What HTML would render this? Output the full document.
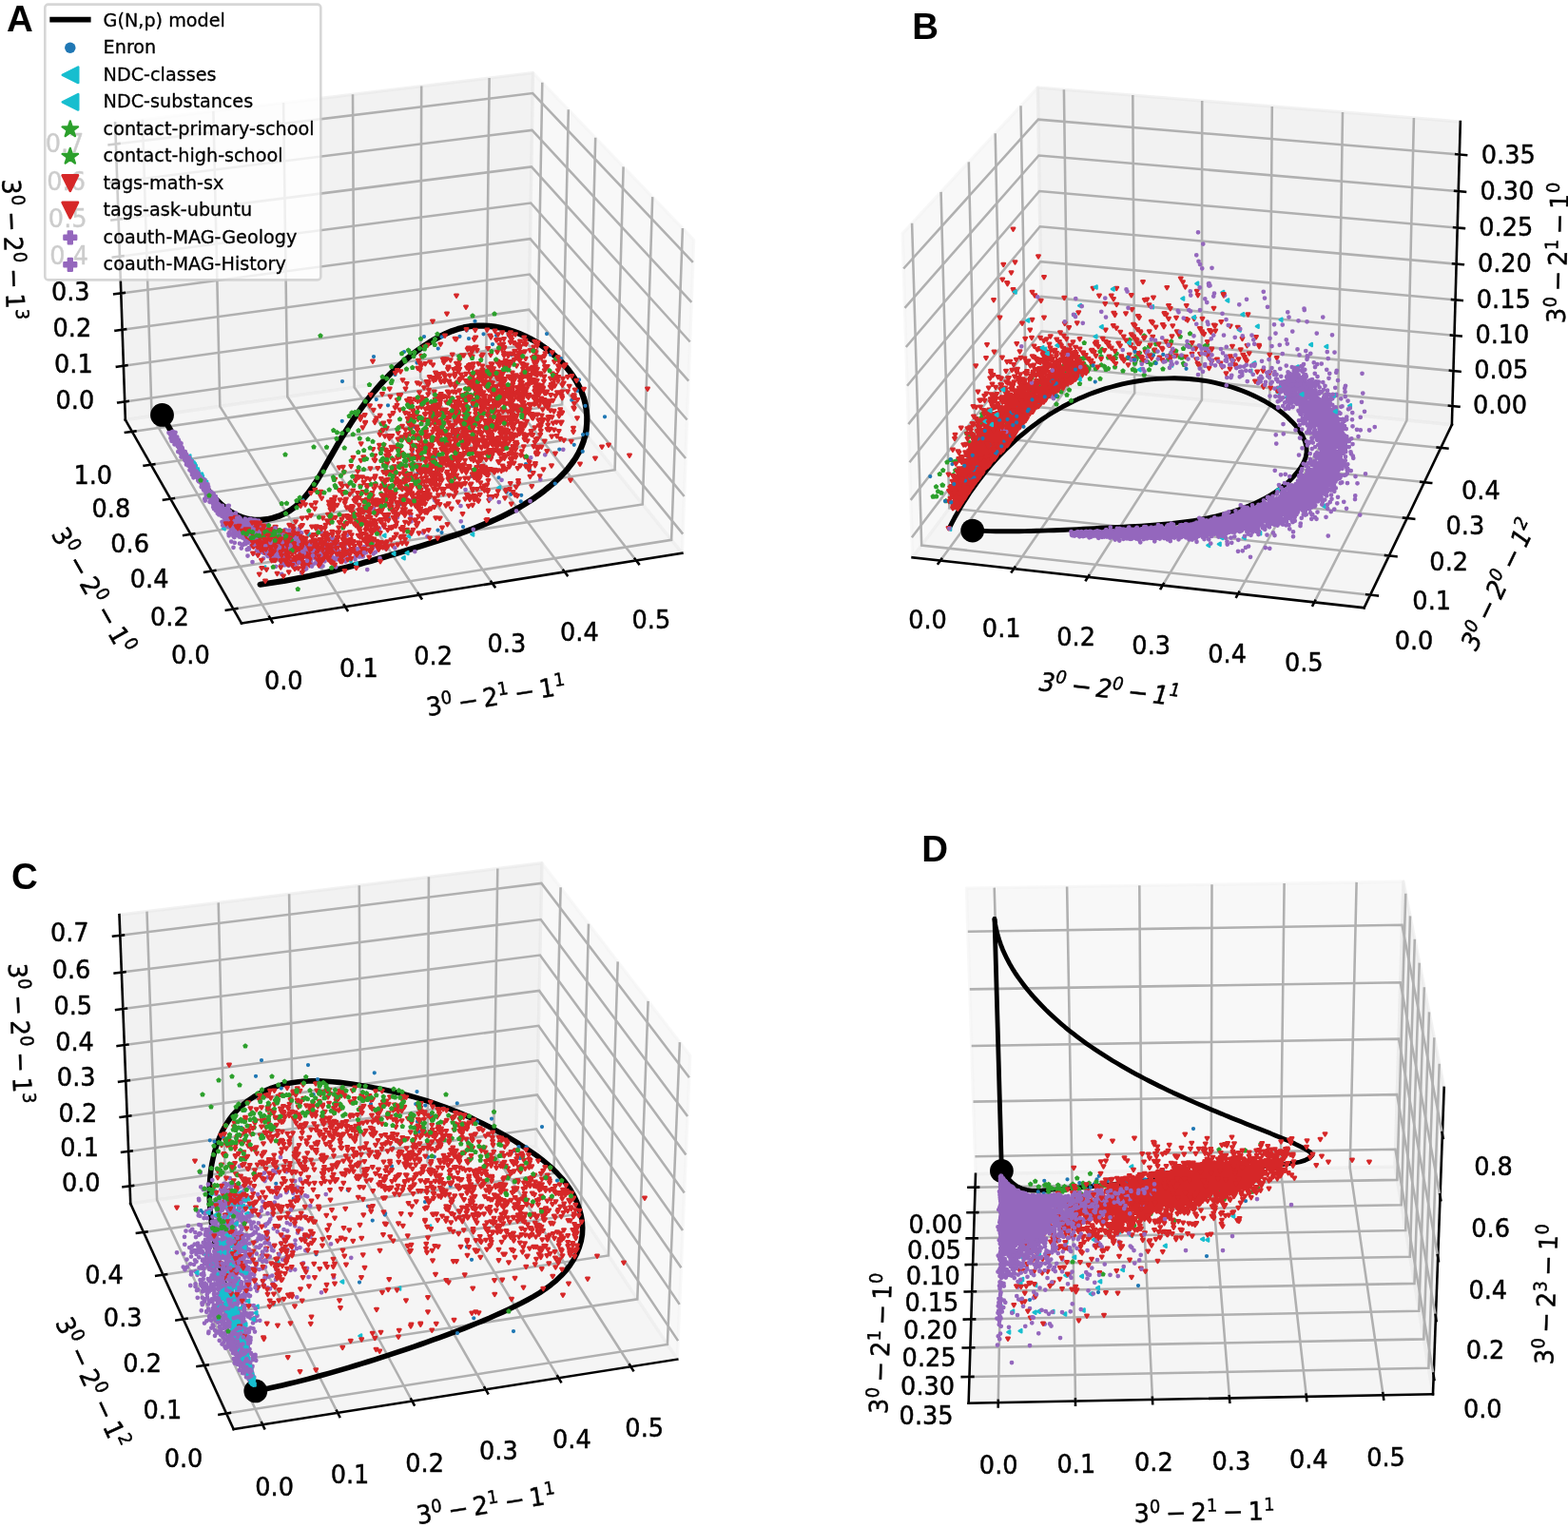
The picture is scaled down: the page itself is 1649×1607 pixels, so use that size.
<!DOCTYPE html>
<html lang="en"><head><meta charset="utf-8"><title>Figure</title>
<style>html,body{margin:0;padding:0;background:#fff}svg{display:block}text{font-family:"DejaVu Sans","Liberation Sans",sans-serif;fill:#000;stroke:#000;stroke-width:0.45px;stroke-linejoin:round}.lg{stroke-width:0.3px}.pl{font-family:"Liberation Sans",Arial,Helvetica,sans-serif;font-weight:700;font-size:38.5px;stroke:none}</style></head>
<body>
<svg xmlns="http://www.w3.org/2000/svg" width="1649" height="1607" viewBox="0 0 1649 1607">
<rect width="1649" height="1607" fill="#fff"/>
<g id="panel-A">
<polygon points="717.4,581.8 555.4,381.3 560.5,76.5 729.7,252.3" fill="rgb(242,242,242)" fill-opacity="0.50" stroke="rgb(242,242,242)" stroke-opacity="0.50" stroke-width="3.20" stroke-linejoin="round"/>
<polygon points="131.9,441.6 555.4,381.3 560.5,76.5 121.1,129.3" fill="rgb(230,230,230)" fill-opacity="0.50" stroke="rgb(230,230,230)" stroke-opacity="0.50" stroke-width="3.20" stroke-linejoin="round"/>
<polygon points="254.0,655.6 717.4,581.8 555.4,381.3 131.9,441.6" fill="rgb(236,236,236)" fill-opacity="0.50" stroke="rgb(236,236,236)" stroke-opacity="0.50" stroke-width="3.20" stroke-linejoin="round"/>
<path d="M717.40 581.83L254.00 655.55" stroke="#000" stroke-width="2.56" fill="none" stroke-linecap="square"/>
<path d="M284.4 650.7L159.6 437.6L149.9 125.8M363.1 638.2L231.3 427.4L224.4 116.9M440.9 625.8L302.3 417.3L298.1 108.0M517.8 613.6L372.6 407.3L371.0 99.3M593.9 601.5L442.2 397.4L443.2 90.6M669.1 589.5L511.1 387.6L514.6 82.0" stroke="#b0b0b0" stroke-width="2.56" fill="none"/>
<path d="M283.3 648.8L286.6 654.5M361.9 636.3L365.4 641.9M439.7 624.0L443.3 629.5M516.5 611.8L520.4 617.2M592.5 599.7L596.5 605.1M667.7 587.7L671.9 593.1" stroke="#000" stroke-width="2.56" fill="none" stroke-linecap="square"/>
<path d="M131.85 441.56L254.00 655.55" stroke="#000" stroke-width="2.56" fill="none" stroke-linecap="square"/>
<path d="M717.9 240.0L706.1 567.8L245.4 640.6M686.2 207.1L675.8 530.4L222.6 600.5M655.6 175.4L646.6 494.2L200.5 561.9M626.2 144.8L618.4 459.3L179.3 524.6M597.8 115.2L591.1 425.5L158.7 488.7M570.3 86.7L564.8 392.9L138.9 453.9" stroke="#b0b0b0" stroke-width="2.56" fill="none"/>
<path d="M249.3 640.0L237.8 641.8M226.3 599.9L215.1 601.7M204.2 561.3L193.2 563.0M182.9 524.1L172.0 525.7M162.3 488.2L151.6 489.7M142.4 453.4L131.9 454.9" stroke="#000" stroke-width="2.56" fill="none" stroke-linecap="square"/>
<path d="M131.85 441.56L121.13 129.25" stroke="#000" stroke-width="2.56" fill="none" stroke-linecap="square"/>
<path d="M131.2 422.4L555.7 362.5L718.2 561.6M129.9 384.7L556.3 325.7L719.6 522.0M128.6 346.7L556.9 288.6L721.1 482.0M127.3 308.4L557.6 251.2L722.6 441.5M126.0 269.7L558.2 213.5L724.2 400.7M124.6 230.6L558.9 175.4L725.7 359.5M123.3 191.2L559.5 136.9L727.3 317.8M121.9 151.4L560.2 98.1L728.8 275.8" stroke="#b0b0b0" stroke-width="2.56" fill="none"/>
<path d="M134.7 421.9L124.2 423.4M133.4 384.2L122.9 385.7M132.1 346.3L121.5 347.7M130.8 307.9L120.2 309.3M129.5 269.2L118.8 270.6M128.2 230.2L117.4 231.6M126.9 190.8L116.0 192.1M125.5 151.0L114.6 152.3" stroke="#000" stroke-width="2.56" fill="none" stroke-linecap="square"/>
<text transform="translate(522.4 734.3) rotate(-9.04) scale(1 1.050)" font-size="25.6"><tspan x="-74.5" y="6.9">3</tspan><tspan x="-58.0" y="-2.4" font-size="17.9">0</tspan><tspan x="-40.9" y="6.9">−</tspan><tspan x="-14.4" y="6.9">2</tspan><tspan x="2.1" y="-2.4" font-size="17.9">1</tspan><tspan x="19.2" y="6.9">−</tspan><tspan x="45.6" y="6.9">1</tspan><tspan x="62.2" y="-2.4" font-size="17.9">1</tspan></text>
<text transform="translate(298.3 724.5) scale(1 1.050)" font-size="25.6" text-anchor="middle">0.0</text>
<text transform="translate(377.4 711.6) scale(1 1.050)" font-size="25.6" text-anchor="middle">0.1</text>
<text transform="translate(455.6 698.8) scale(1 1.050)" font-size="25.6" text-anchor="middle">0.2</text>
<text transform="translate(532.9 686.2) scale(1 1.050)" font-size="25.6" text-anchor="middle">0.3</text>
<text transform="translate(609.4 673.7) scale(1 1.050)" font-size="25.6" text-anchor="middle">0.4</text>
<text transform="translate(684.9 661.4) scale(1 1.050)" font-size="25.6" text-anchor="middle">0.5</text>
<text transform="translate(96.4 622.5) rotate(60.28) scale(1 1.050)" font-size="25.6"><tspan x="-74.5" y="6.9">3</tspan><tspan x="-58.0" y="-2.4" font-size="17.9">0</tspan><tspan x="-40.9" y="6.9">−</tspan><tspan x="-14.4" y="6.9">2</tspan><tspan x="2.1" y="-2.4" font-size="17.9">0</tspan><tspan x="19.2" y="6.9">−</tspan><tspan x="45.6" y="6.9">1</tspan><tspan x="62.2" y="-2.4" font-size="17.9">0</tspan></text>
<text transform="translate(200.4 698.4) scale(1 1.050)" font-size="25.6" text-anchor="middle">0.0</text>
<text transform="translate(178.4 657.7) scale(1 1.050)" font-size="25.6" text-anchor="middle">0.2</text>
<text transform="translate(157.1 618.4) scale(1 1.050)" font-size="25.6" text-anchor="middle">0.4</text>
<text transform="translate(136.6 580.5) scale(1 1.050)" font-size="25.6" text-anchor="middle">0.6</text>
<text transform="translate(116.9 544.0) scale(1 1.050)" font-size="25.6" text-anchor="middle">0.8</text>
<text transform="translate(97.8 508.6) scale(1 1.050)" font-size="25.6" text-anchor="middle">1.0</text>
<text transform="translate(12.0 263.0) rotate(88.03) scale(1 1.050)" font-size="25.6"><tspan x="-74.5" y="6.9">3</tspan><tspan x="-58.0" y="-2.4" font-size="17.9">0</tspan><tspan x="-40.9" y="6.9">−</tspan><tspan x="-14.4" y="6.9">2</tspan><tspan x="2.1" y="-2.4" font-size="17.9">0</tspan><tspan x="19.2" y="6.9">−</tspan><tspan x="45.6" y="6.9">1</tspan><tspan x="62.2" y="-2.4" font-size="17.9">3</tspan></text>
<text transform="translate(78.9 429.6) scale(1 1.050)" font-size="25.6" text-anchor="middle">0.0</text>
<text transform="translate(77.4 392.2) scale(1 1.050)" font-size="25.6" text-anchor="middle">0.1</text>
<text transform="translate(75.9 354.4) scale(1 1.050)" font-size="25.6" text-anchor="middle">0.2</text>
<text transform="translate(74.3 316.2) scale(1 1.050)" font-size="25.6" text-anchor="middle">0.3</text>
<text transform="translate(72.7 277.7) scale(1 1.050)" font-size="25.6" text-anchor="middle">0.4</text>
<text transform="translate(71.2 238.8) scale(1 1.050)" font-size="25.6" text-anchor="middle">0.5</text>
<text transform="translate(69.6 199.6) scale(1 1.050)" font-size="25.6" text-anchor="middle">0.6</text>
<text transform="translate(68.0 160.0) scale(1 1.050)" font-size="25.6" text-anchor="middle">0.7</text>
<path d="M170.4 436.5L173.8 442.4L177.0 448.2L180.2 454.0L183.4 459.7L186.6 465.4L189.7 471.0L192.9 476.6L196.2 482.2L199.6 487.7L203.1 493.3L206.7 498.9L210.5 504.5L214.6 510.0L218.8 515.5L223.2 520.9L227.9 526.0L232.8 530.7L238.0 535.0L243.4 538.7L249.0 541.9L255.0 544.3L261.1 545.9L267.5 546.8L274.1 546.8L280.6 546.2L287.0 544.8L293.2 542.8L299.2 540.2L304.8 537.0L310.0 533.3L314.8 529.1L319.2 524.4L323.4 519.5L327.4 514.2L331.2 508.6L334.8 502.9L338.2 497.0L341.6 491.0L345.0 485.0L348.4 479.1L351.8 473.2L355.2 467.3L358.6 461.5L362.1 455.8L365.7 450.2L369.3 444.6L373.0 439.1L376.8 433.7L380.6 428.4L384.5 423.2L388.5 418.0L392.6 412.9L396.8 408.0L401.1 403.1L405.5 398.3L410.0 393.7L414.6 389.1L419.4 384.7L424.3 380.3L429.4 376.1L434.6 372.0L439.9 368.0L445.4 364.2L451.1 360.5L456.9 357.0L462.8 353.7L468.9 350.8L475.1 348.2L481.4 346.1L487.7 344.4L494.2 343.2L500.7 342.6L507.2 342.5L513.7 342.8L520.2 343.6L526.7 344.8L533.1 346.4L539.4 348.4L545.6 350.7L551.7 353.3L557.7 356.2L563.5 359.4L569.1 362.9L574.5 366.8L579.8 370.9L584.9 375.3L589.7 379.9L594.3 384.8L598.6 390.0L602.5 395.4L606.1 401.0L609.2 406.8L611.9 412.9L614.1 419.1L615.7 425.4L616.8 431.9L617.3 438.5L617.2 445.0L616.6 451.6L615.4 458.0L613.6 464.3L611.3 470.4L608.5 476.3L605.2 482.0L601.4 487.4L597.3 492.7L592.9 497.7L588.2 502.5L583.2 507.1L578.1 511.5L572.9 515.7L567.6 519.7L562.2 523.6L556.7 527.2L551.1 530.7L545.4 534.1L539.6 537.2L533.8 540.3L527.9 543.2L521.9 546.0L515.9 548.6L509.8 551.2L503.7 553.7L497.5 556.1L491.3 558.4L485.1 560.6L478.8 562.7L472.5 564.8L466.2 566.9L459.9 568.9L453.5 570.9L447.2 572.9L440.8 574.9L434.5 576.8L428.2 578.7L421.8 580.6L415.5 582.5L409.1 584.4L402.8 586.3L396.4 588.1L390.1 589.9L383.7 591.6L377.3 593.4L370.9 595.1L364.5 596.7L358.1 598.3L351.7 599.9L345.3 601.4L338.9 602.9L332.4 604.3L325.9 605.7L319.5 607.0L313.0 608.3L306.5 609.5L299.9 610.7L293.4 611.8L286.8 612.8L280.2 613.8L273.6 614.7" fill="none" stroke="#000" stroke-width="6.2" stroke-linejoin="round" stroke-linecap="round"/>
<circle cx="170.5" cy="436.4" r="12.4" fill="#000"/>
<g transform="scale(0.25)">
<path d="M797 1918v14l-12-7zm1-1v14l-12-7zm4 3v14l-12-7zm0-7v14l-12-7zm1 10v14l-12-7zm4 7v14l-12-7zm1 7v14l-12-7zm0-3v14l-12-7zm1 7v14l-12-7zm0-5v14l-12-7zm3 9v14l-12-7zm0-10v14l-12-7zm0 5v14l-12-7zm7 6v14l-12-7zm0 5v14l-12-7zm0 1v14l-12-7zm0-11v14l-12-7zm1 11v14l-12-7zm0-5v14l-12-7zm1 1v14l-12-7zm0 6v14l-12-7zm0 3v14l-12-7zm3-9v14l-12-7zm1 18v14l-12-7zm3-10v14l-12-7zm1 13v14l-12-7zm1-2v14l-12-7zm1 3v14l-12-7zm1 2v14l-12-7zm3 6v14l-12-7zm0-5v14l-12-7zm1 1v14l-12-7zm0-5v14l-12-7zm1 11v14l-12-7zm0-1v14l-12-7zm2 0v14l-12-7zm6 13v14l-12-7zm2-2v14l-12-7zm4-1v14l-12-7zm0 9v14l-12-7zm0 3v14l-12-7zm2-10v14l-12-7zm0 12v14l-12-7zm0-3v14l-12-7zm1 2v14l-12-7zm2-3v14l-12-7zm1249 46v14l-12-7zm-828 56v14l-12-7zm-404-78v14l-12-7zm-6-2v14l-12-7zm-1-6v14l-12-7zm-5-3v14l-12-7zm1132 229v14l-12-7zm-268 8v14l-12-7zm-103-3v14l-12-7zm-207 32v14l-12-7zm-8 17v14l-12-7zm-6-41v14l-12-7zm-98-12v14l-12-7zm-42 20v14l-12-7zm-10 10v14l-12-7zm-175-61v14l-12-7zm-63 27v14l-12-7zm-12-14v14l-12-7zm-54-8v14l-12-7zm170 165v14l-12-7zm80-78v14l-12-7zm4 30v14l-12-7zm37-32v14l-12-7zm20 2v14l-12-7zm17 60v14l-12-7zm56-60v14l-12-7zm148 49v14l-12-7zm24 13v14l-12-7zm159-43v14l-12-7zm41 18v14l-12-7zm15-21v14l-12-7z" fill="#17becf" stroke="#17becf" stroke-width="8.5" stroke-linejoin="round"/>
<path d="M1784 1416h0m74 1h0m76-2h0m29-25h0m9 34h0m26-73h0m36 54h0m54 6h0m51-1h0m161-6h0m60 104h0m-44-16h0m-162 26h0m-2-25h0m-80-45h0m-229 18h0m-89 60h0m-54-46h0m-128 20h0m-132 104h0m222-28h0m513 6h0m261 15h0m26 110h0m-34-64h0m-23 40h0m-419 24h0m-11-69h0m-343 67h0m-49-25h0m-144 91h0m303 24h0m66-13h0m736-29h0m-74 72h0m-18 3h0m-1 71h0m-36-28h0m-62 19h0m-224-55h0m-183 32h0m-30 16h0m-7-57h0m-74 93h0m-100-20h0m23 91h0m17-14h0m40 8h0m84-31h0m85 50h0m31-43h0m83 49h0m114-57h0m17 27h0m106 55h0m-142 49h0m-2 26h0m-42-30h0m-18-10h0m-343-23h0m-208-13h0m-276 39h0m330 105h0m50-56h0m264 95h0m-90 24h0m-16-10h0" stroke="#1f77b4" stroke-width="17" stroke-linecap="round" fill="none"/>
<path d="M710 1820h0m7 3h0m1 0h0m1-2h0m1 2h0m2-2h0m1-4h0m1 3h0m1 1h0m1 2h0m1-8h0m3 6h0m6 2h0m2-4h0m47 98h0m0-5h0m-4 4h0m0-4h0m-1-2h0m0 6h0m0-12h0m-1-4h0m-1 19h0m0-12h0m-2 3h0m-2 6h0m0-12h0m0 7h0m-3-2h0m0 3h0m-1-13h0m0 11h0m0-2h0m-1-7h0m0 0h0m-1-6h0m0 13h0m0-9h0m0 3h0m-1-18h0m0 3h0m0 16h0m-1-11h0m0 6h0m-1-4h0m0 1h0m0 3h0m0-6h0m-1-3h0m0 25h0m-1-34h0m0 0h0m0 26h0m0 5h0m-1-23h0m0-23h0m0 30h0m0-16h0m-1 5h0m0 25h0m0-7h0m-1-25h0m0 21h0m0-22h0m0 2h0m0 5h0m0 18h0m-1 3h0m-1-13h0m0 13h0m-1-34h0m-1-8h0m0 13h0m0 16h0m0-18h0m-1-11h0m-1 23h0m-1-29h0m0 41h0m-1-38h0m0-5h0m0 2h0m-1-6h0m0 16h0m0 5h0m0-4h0m-1 5h0m-1 28h0m-1-26h0m0 2h0m-1 1h0m-1-16h0m-1 9h0m0 2h0m0-34h0m-2 8h0m0 8h0m-1-6h0m0-5h0m0-5h0m0 16h0m0-5h0m-1-5h0m0 5h0m-1 0h0m0 5h0m0-9h0m0 24h0m-1-15h0m-1-12h0m0 10h0m0-3h0m0-2h0m-1 3h0m-1-20h0m0 9h0m0 14h0m0 3h0m0-2h0m-1-10h0m0-17h0m-1 42h0m0-14h0m0 8h0m-1-17h0m0 8h0m-1-22h0m0 14h0m0-18h0m0-3h0m0 21h0m-2 6h0m0-23h0m-1 8h0m0 14h0m-1-12h0m0-12h0m0-3h0m0 9h0m-1-3h0m0 2h0m0 2h0m-1 12h0m0-20h0m-1 14h0m0-2h0m-1 3h0m0-6h0m-1 13h0m-1 7h0m0-31h0m0 0h0m-2 4h0m-2 0h0m0 15h0m0-14h0m0-5h0m0 6h0m-1-5h0m-3-1h0m48 98h0m10 2h0m2-4h0m1 6h0m2 9h0m0-3h0m1 4h0m1-13h0m1 6h0m0-4h0m1-2h0m0-2h0m0 8h0m1-2h0m0-5h0m0-2h0m1 24h0m1 10h0m1-12h0m1-8h0m1 2h0m0-1h0m1-3h0m0 5h0m1-9h0m0 18h0m0-17h0m0 2h0m0-9h0m0 16h0m1 6h0m0 1h0m0 3h0m0-21h0m1 17h0m0 14h0m0-1h0m1-11h0m0-14h0m1 10h0m1 7h0m1-8h0m0 4h0m1 15h0m0-4h0m0-19h0m0-13h0m1 12h0m0 19h0m1-3h0m0 25h0m0-16h0m0-10h0m2-3h0m0 6h0m0 21h0m1 4h0m0-24h0m1-3h0m0 12h0m0-11h0m0 11h0m1-14h0m1 11h0m1-5h0m1 0h0m0 7h0m0 4h0m0-28h0m1 12h0m0 37h0m1 9h0m0-36h0m0 22h0m1-12h0m0-12h0m1 6h0m1 10h0m0-10h0m1 3h0m0 8h0m1-3h0m0 9h0m0-10h0m1 37h0m0-36h0m0 3h0m0 12h0m1 0h0m0 4h0m0 1h0m1-14h0m0-3h0m1-15h0m1 18h0m0 4h0m1 3h0m0 15h0m0-19h0m2 4h0m0 0h0m0 5h0m1 3h0m0 10h0m1-22h0m0 23h0m0-3h0m3-2h0m0-18h0m1 14h0m0 3h0m0 1h0m0-2h0m1-7h0m0 3h0m1 8h0m1-6h0m0-6h0m1 6h0m3 12h0m0-18h0m1 4h0m1 4h0m0 15h0m1-4h0m0 3h0m2-7h0m0 5h0m1-2h0m1-5h0m1 5h0m3 0h0m5 7h0m2-1h0m61 89h0m0 6h0m-2-10h0m-2 10h0m0-4h0m-1-7h0m0-5h0m0 6h0m0 7h0m-1-18h0m0 20h0m-1-20h0m-2 4h0m0 1h0m-1-3h0m0 15h0m0-4h0m-1 1h0m-1-1h0m-2 1h0m0-6h0m-1 5h0m0-25h0m-1 29h0m0-25h0m-3 28h0m-1-21h0m0 15h0m-1 4h0m0-14h0m-2-9h0m0-13h0m0 23h0m-2-14h0m0 20h0m0-2h0m-1-21h0m0 3h0m-1 19h0m-1-30h0m0 2h0m0 17h0m-1 2h0m0-14h0m-1-5h0m-1 41h0m-2-28h0m0 2h0m-2-10h0m0 1h0m0-16h0m-1-6h0m0-6h0m0 23h0m-1 4h0m0 18h0m0-15h0m0-9h0m-2-32h0m0 12h0m0 29h0m0-3h0m-1 14h0m-1-8h0m-1-39h0m0 19h0m-1 11h0m0-13h0m-2-14h0m0 10h0m0-10h0m0 33h0m0-26h0m-1 36h0m0-53h0m0 41h0m0 1h0m0-11h0m-1-27h0m-1 19h0m0 10h0m-1-7h0m0-14h0m-1 3h0m0 56h0m0-49h0m0 4h0m-1-25h0m-1-17h0m0 29h0m0 51h0m0-43h0m-1-24h0m-3-3h0m0 8h0m0-5h0m0-8h0m0 25h0m0 13h0m-1-26h0m0 9h0m-1-3h0m0-8h0m0-13h0m-1 34h0m-1-16h0m0-22h0m-1 3h0m0 26h0m-1-17h0m0 20h0m-1-16h0m-1 14h0m-1-29h0m0 18h0m-1-18h0m0 30h0m-1-20h0m-1 3h0m0-6h0m0-3h0m-1-4h0m-1 2h0m-2-4h0m-1 8h0m0-4h0m-2-1h0m-2 6h0m-1-7h0m0 0h0m0 1h0m-1-3h0m-1 5h0m56 91h0m4 0h0m3 3h0m1 18h0m0-11h0m2 0h0m1 18h0m0 0h0m1-25h0m1 7h0m1-6h0m3-2h0m1 28h0m0 5h0m1-34h0m1 3h0m2 0h0m0 16h0m1 12h0m1-5h0m1-12h0m1 32h0m0-32h0m0 2h0m0-7h0m1 0h0m3-2h0m1 19h0m0 14h0m1-15h0m0 27h0m1-33h0m0-10h0m3 35h0m0-24h0m1 19h0m0-7h0m1 16h0m1-22h0m1 2h0m0-13h0m0 6h0m0-5h0m1 0h0m2 12h0m1 30h0m1 24h0m0-67h0m1 20h0m0-11h0m0-9h0m1-1h0m0 10h0m0-2h0m0 6h0m1 17h0m1-21h0m0 22h0m2 2h0m4-20h0m3 6h0m1-6h0m0 22h0m0 6h0m0-17h0m0 5h0m1 8h0m0-4h0m1 10h0m1-17h0m2 29h0m1-42h0m0 44h0m1-24h0m1 11h0m2-44h0m0 40h0m1 14h0m1-7h0m0-38h0m0 35h0m1-4h0m1 18h0m0-17h0m0 20h0m1-1h0m0-13h0m0-48h0m4 23h0m1 46h0m0-5h0m1 6h0m0-20h0m1 6h0m1-18h0m2 9h0m0 7h0m0 21h0m1-40h0m1 14h0m0 8h0m0-23h0m1 38h0m2 1h0m4-1h0m1-19h0m0-5h0m1-5h0m1 30h0m0-9h0m0-10h0m1-14h0m1 11h0m0 7h0m0 1h0m0-16h0m4 9h0m0 2h0m1-23h0m1 10h0m2 8h0m1 16h0m0 8h0m2-5h0m2-10h0m1 5h0m0 15h0m1-23h0m1 2h0m0 7h0m1-17h0m1 3h0m3 20h0m0-3h0m2 3h0m0-17h0m2 5h0m2 8h0m1 6h0m1 1h0m1-6h0m0 2h0m1 10h0m7-14h0m0 13h0m0-13h0m1 5h0m4 8h0m1-23h0m2 18h0m1-10h0m4 16h0m1-15h0m4 16h0m1-8h0m1-13h0m2 4h0m1-4h0m3 6h0m2-9h0m6 17h0m3-13h0m2 19h0m6-4h0m2 3h0m0-18h0m6 2h0m2 17h0m6-5h0m2-11h0m7 15h0m1 11h0m-1 15h0m-1-17h0m-3 46h0m-1 0h0m-1-44h0m0 20h0m-1 9h0m-6 11h0m-1-13h0m-1-13h0m-1 0h0m-1 31h0m0-30h0m-1-4h0m-1 4h0m0-2h0m-3 15h0m-1-3h0m-1 7h0m0 2h0m-1-21h0m-1-17h0m-2 37h0m0-10h0m-3 7h0m-2-29h0m-4 25h0m-1-9h0m0-22h0m-1 9h0m-6-10h0m0 6h0m-1 33h0m0-17h0m-2-9h0m0 1h0m-5 29h0m-3-38h0m-1-7h0m-2 36h0m-5-4h0m0-21h0m-1-3h0m-1-5h0m-1 7h0m-2 2h0m-3-7h0m0-1h0m-3 0h0m-1 4h0m-4 7h0m-1-2h0m0-13h0m-1 3h0m-3 6h0m-3-5h0m-13 3h0m-2 3h0m-6-8h0m-3-2h0m-7 3h0" stroke="#9467bd" stroke-width="19" stroke-linecap="round" fill="none"/>
<path d="M2369 1891h0m-76 22h0m-299 80h0m279 24h0m-43 91h0m-120-89h0m-152 41h0m-129 44h0m-37-10h0m-57 8h0m-794 105h0m2-28h0m3 16h0m1-2h0m2-5h0m0-16h0m2 1h0m1 3h0m0 8h0m4 0h0m0 15h0m1 4h0m1-10h0m1-16h0m0-4h0m0 5h0m1-11h0m2 5h0m0 29h0m2-14h0m0-25h0m1 5h0m1 32h0m2 1h0m0-38h0m0 16h0m1-18h0m2 22h0m0 20h0m1-28h0m0 23h0m1-7h0m0 10h0m0 0h0m2-7h0m0 5h0m0 5h0m2-8h0m1-5h0m1-16h0m1 24h0m0 4h0m0-20h0m1 2h0m0 20h0m3-4h0m2-1h0m3-28h0m1 31h0m0 5h0m2-20h0m2-9h0m0 20h0m1-16h0m1 21h0m1 4h0m1-13h0m0-12h0m1 8h0m0 8h0m1-21h0m8 30h0m2-9h0m8 4h0m1 5h0m3-6h0m2 5h0m0-4h0m2 4h0m7-1h0m2-3h0m2 5h0m3-9h0m5-7h0m0 16h0m2-10h0m6 0h0m12 5h0m10-2h0m50 6h0m446-66h0m19 18h0m34 20h0m48-2h0m58 17h0m55-45h0m153-20h0m1 65h0m160-81h0m73 37h0m-181 78h0m-193 30h0m-18-16h0m-80-13h0m-88-17h0m-16 14h0m-4 65h0m-4 1h0m-17 11h0m-4-18h0m-35 16h0m-72-49h0m-7 22h0m-1 20h0m-18-5h0m-13 1h0m-4 10h0m-5-9h0m-4-5h0m-9 12h0m-2-12h0m-3-21h0m0 35h0m-19-14h0m-4 4h0m-2 7h0m-4 3h0m-6-8h0m-2-10h0m-3 4h0m-3-47h0m-2 33h0m-14 28h0m-1-77h0m-2 55h0m-10-5h0m-3 10h0m-3 14h0m-2-20h0m-7 17h0m-4-12h0m-2 15h0m-1-15h0m-2 4h0m-3 1h0m-5 1h0m-6 12h0m0-11h0m-6-7h0m-6 21h0m-1 0h0m0-11h0m-2-49h0m-1 22h0m-3 6h0m0-30h0m-4 47h0m0-10h0m-1-55h0m-2 15h0m-3 55h0m-3-31h0m-3 19h0m0-5h0m-4 12h0m-4-8h0m0-20h0m-1 25h0m0-8h0m0-9h0m-2-42h0m-1 72h0m0-12h0m-1 7h0m-1-10h0m-1-24h0m0 41h0m-3-30h0m-4 22h0m0-32h0m-6-23h0m-1 58h0m-1-12h0m-1-10h0m-1-18h0m-2 37h0m-4-16h0m-1 6h0m-2-3h0m-1-11h0m-3-9h0m-3 39h0m0-25h0m0-12h0m-1-32h0m0 69h0m-1-18h0m-5-40h0m0 59h0m-1-4h0m0-31h0m-1 12h0m-2-26h0m-2 44h0m-2 4h0m-2 5h0m0-9h0m-2-13h0m-2 0h0m-1 23h0m0-11h0m0-42h0m-1 31h0m0-36h0m0 40h0m-3 7h0m0-40h0m0 23h0m-2 20h0m-1-52h0m-2 38h0m-1-17h0m-1 24h0m0 7h0m-1-36h0m-2-30h0m0 53h0m-2-3h0m-1 3h0m0-3h0m0 15h0m0 4h0m-1-33h0m-1 15h0m-3-29h0m-2 10h0m0 20h0m-1 2h0m0 5h0m-1-14h0m0-27h0m-1 54h0m-2-26h0m-1-24h0m0 42h0m0-36h0m-2-28h0m-1 58h0m0 5h0m-1-68h0m-1 52h0m0-18h0m0 34h0m-1-48h0m0 43h0m-1-14h0m-1 3h0m-3 18h0m-1-11h0m0-55h0m-1 22h0m0-11h0m-1 64h0m0-7h0m0-23h0m0-23h0m0 30h0m-1-45h0m-1 66h0m-2-51h0m0-12h0m0 57h0m-1-1h0m-2-50h0m-1 32h0m0 25h0m0-14h0m-2-39h0m-2 50h0m0-21h0m0-1h0m-1-15h0m0-45h0m0 4h0m-3 69h0m-1-36h0m-1 39h0m-2-74h0m0 47h0m-3-7h0m0 44h0m-1-12h0m0-23h0m-1 13h0m0-61h0m-1 41h0m-1 2h0m-1 26h0m-1-12h0m0-2h0m-2-53h0m0 40h0m0 5h0m-1-19h0m0 11h0m0-31h0m0 20h0m-1 30h0m0 0h0m0 10h0m0-2h0m-1 9h0m-1-10h0m-1-51h0m-2 37h0m0-19h0m-1-9h0m-1 38h0m-1-54h0m0 64h0m-1-62h0m0-11h0m0 63h0m-1 15h0m-1 5h0m-1-22h0m0 4h0m0-50h0m0 71h0m0-23h0m-1-37h0m-1-26h0m-1 26h0m0 14h0m-1 40h0m0-47h0m0 5h0m-2 30h0m-1-26h0m0-31h0m0 35h0m0 14h0m-2-12h0m0 34h0m0-16h0m0-44h0m0 7h0m-1 38h0m-1-7h0m-1-4h0m0-15h0m-5-25h0m-2 6h0m-1 35h0m0-20h0m0-9h0m-1 2h0m0-14h0m0 25h0m-1 5h0m0-18h0m0 27h0m-1-55h0m0 31h0m0 28h0m0-14h0m-1 0h0m-1-13h0m0-18h0m-1 27h0m-2-7h0m-1-19h0m0 12h0m0-19h0m-1 55h0m0-9h0m-1 0h0m0-38h0m0 14h0m-1-23h0m0 71h0m0-68h0m0 37h0m-3 3h0m0-33h0m-1 33h0m0-22h0m-1-5h0m-1-15h0m-1 43h0m0-51h0m0 50h0m0-40h0m-1 30h0m0-13h0m-1-4h0m0 30h0m0-55h0m-2-7h0m-2 33h0m0-3h0m-2 45h0m0-62h0m-2 18h0m-1 33h0m0-48h0m-1 41h0m-1-10h0m0 11h0m0-42h0m-1 32h0m-1-38h0m0 38h0m-2-4h0m-1-31h0m-1 42h0m-1-5h0m0 13h0m-1-42h0m0 23h0m-1-21h0m-3 56h0m-1-61h0m-1 10h0m0-25h0m-1 40h0m0-29h0m-1 15h0m0-7h0m0 62h0m-1-81h0m-1 46h0m0-43h0m0 48h0m0-33h0m0 8h0m-1-9h0m0 7h0m-1 10h0m0 47h0m0-68h0m-1 23h0m0-37h0m-2 3h0m0 46h0m-1-7h0m-1-19h0m-1 25h0m0-10h0m-1-19h0m-1-9h0m-2 66h0m-1-65h0m0 37h0m0-19h0m-2 17h0m-4-43h0m-1 11h0m0 1h0m-1 15h0m-2-18h0m-1-2h0m0-3h0m-2 1h0m-3 34h0m-1-7h0m-3-12h0m0 50h0m0-71h0m-1 48h0m0-21h0m0-7h0m-3-2h0m0-9h0m-1 82h0m-1-76h0m0 25h0m-1-27h0m-3-5h0m-1 25h0m-1-35h0m-2 68h0m-2-56h0m-5 16h0m-2-28h0m-1 43h0m-1-8h0m-3-37h0m-1 7h0m-6-4h0m-15-1h0m78 96h0m24 6h0m3 26h0m4-33h0m2 5h0m18 19h0m14-13h0m8 4h0m5-8h0m4-5h0m3-1h0m1 16h0m7 27h0m1-23h0m2-5h0m2 6h0m1-21h0m3 2h0m0 21h0m1-19h0m0-3h0m8 15h0m0 17h0m4-27h0m0 23h0m1-8h0m3 14h0m2-17h0m1-16h0m2 9h0m0-5h0m1 5h0m2 26h0m0-4h0m0-31h0m9-4h0m2 24h0m3 7h0m0-6h0m1-7h0m0 22h0m2-25h0m1 64h0m3-77h0m1 25h0m1-10h0m5-15h0m0 13h0m1 18h0m2 4h0m0 11h0m0-28h0m2 18h0m4-13h0m0 7h0m1 43h0m0-63h0m0 4h0m2 7h0m1-19h0m1 42h0m0-12h0m0 27h0m1-25h0m1 6h0m0-40h0m5 62h0m5-7h0m1 16h0m1-39h0m3-14h0m4 10h0m0-17h0m0 19h0m0-29h0m2 7h0m1 8h0m1-12h0m1 56h0m0-26h0m1-4h0m1-21h0m2 64h0m1-62h0m0 47h0m3-13h0m7-37h0m1-7h0m0 54h0m2 14h0m3-20h0m2-33h0m1-14h0m1 78h0m1-82h0m2 17h0m1-1h0m5 64h0m0-74h0m1 80h0m2-79h0m1 0h0m0 32h0m2 21h0m1-25h0m1 12h0m0-36h0m1-9h0m1 45h0m1 4h0m1-46h0m1 1h0m2 9h0m0 44h0m0-10h0m1-19h0m0 24h0m0-43h0m1 28h0m2-23h0m0-15h0m2 35h0m3 5h0m1-41h0m3 3h0m4 62h0m1-26h0m1-39h0m3 33h0m1-21h0m1 26h0m1-32h0m0 85h0m2-23h0m2 3h0m1 17h0m1-61h0m1 11h0m2 20h0m0-49h0m2 8h0m1 28h0m1 21h0m4-4h0m0-13h0m1 10h0m0-25h0m1-19h0m2-1h0m2 5h0m1 36h0m2-20h0m1-14h0m0-8h0m3 18h0m1 2h0m0 37h0m1-38h0m3-30h0m1 8h0m2-6h0m0 39h0m3-10h0m0-18h0m3 25h0m0-8h0m1 15h0m2-11h0m2-1h0m0-5h0m3 3h0m3 12h0m3 9h0m0-49h0m2-3h0m1 8h0m1 69h0m2-76h0m3 71h0m3-17h0m2-43h0m0 30h0m2 33h0m1-53h0m2 13h0m2-17h0m1 16h0m2 21h0m8-25h0m7 8h0m11-33h0m0 49h0m3-20h0m3 7h0m2-26h0m3 27h0m3-1h0m0 1h0m1 7h0m2 28h0m1-60h0m1-4h0m2 66h0m4-60h0m0 28h0m1-15h0m3-12h0m0 25h0m2-14h0m2-19h0m1 10h0m1 1h0m5 8h0m4 12h0m3-15h0m6 19h0m0-40h0m0 8h0m8 41h0m5-28h0m2-21h0m4 14h0m6-11h0m1 28h0m3-30h0m7 5h0m4-5h0m3 6h0m3-2h0m3 35h0m0-10h0m0-1h0m13-2h0m4 2h0m10-1h0m6 0h0m3-14h0m2-10h0m7 8h0m6 71h0m10-83h0m16 16h0m9-7h0m11-14h0m7 40h0m26-39h0m121 11h0m-477 88h0m-83 7h0" stroke="#9467bd" stroke-width="19" stroke-linecap="round" fill="none"/>
<path d="M1913 1239h14l-7 12zm40 48h14l-7 12zm-80 28h14l-7 12zm-60 32h14l-7 12zm52 60h14l-7 12zm47 15h14l-7 12zm76 1h14l-7 12zm4-39h14l-7 12zm2 31h14l-7 12zm48-32h14l-7 12zm12 24h14l-7 12zm4 7h14l-7 12zm17-27h14l-7 12zm6 39h14l-7 12zm3-2h14l-7 12zm13 0h14l-7 12zm9-30h14l-7 12zm7 27h14l-7 12zm21-18h14l-7 12zm1 4h14l-7 12zm8 6h14l-7 12zm2 11h14l-7 12zm16-22h14l-7 12zm20 29h14l-7 12zm17-16h14l-7 12zm5 13h14l-7 12zm39 4h14l-7 12zm102 82h14l-7 12zm-19 3h14l-7 12zm-9-39h14l-7 12zm-26-17h14l-7 12zm-3 21h14l-7 12zm-4 11h14l-7 12zm-1 26h14l-7 12zm-11-18h14l-7 12zm-9-3h14l-7 12zm-6-62h14l-7 12zm-3 14h14l-7 12zm-2 46h14l-7 12zm0 6h14l-7 12zm0 16h14l-7 12zm-4-40h14l-7 12zm-4-5h14l-7 12zm-1 51h14l-7 12zm-2-7h14l-7 12zm0-22h14l-7 12zm-2 18h14l-7 12zm0-58h14l-7 12zm-2 16h14l-7 12zm-3 29h14l-7 12zm-10-31h14l-7 12zm-17-26h14l-7 12zm-2 61h14l-7 12zm-3-30h14l-7 12zm-3-34h14l-7 12zm-2 89h14l-7 12zm-6-52h14l-7 12zm0 48h14l-7 12zm-4-26h14l-7 12zm-2-10h14l-7 12zm-2-37h14l-7 12zm-3 60h14l-7 12zm-1-48h14l-7 12zm-3 16h14l-7 12zm-3-37h14l-7 12zm-1 57h14l-7 12zm-1 2h14l-7 12zm-5-56h14l-7 12zm-3 46h14l-7 12zm-4-20h14l-7 12zm-1 36h14l-7 12zm-3-71h14l-7 12zm-7 46h14l-7 12zm-7-48h14l-7 12zm-2 82h14l-7 12zm-6-34h14l-7 12zm-1 9h14l-7 12zm-12 20h14l-7 12zm-4-52h14l-7 12zm-1-3h14l-7 12zm-1 34h14l-7 12zm-1-10h14l-7 12zm-2-38h14l-7 12zm-6 21h14l-7 12zm0-12h14l-7 12zm-3 70h14l-7 12zm-1-1h14l-7 12zm-5-75h14l-7 12zm-8 70h14l-7 12zm-2-40h14l-7 12zm-4 39h14l-7 12zm-18 13h14l-7 12zm-6-40h14l-7 12zm-11-27h14l-7 12zm-22 26h14l-7 12zm-5 7h14l-7 12zm-13 31h14l-7 12zm-6-56h14l-7 12zm-5-14h14l-7 12zm-5 2h14l-7 12zm-10 38h14l-7 12zm-2-20h14l-7 12zm-1-10h14l-7 12zm-6 64h14l-7 12zm-1-67h14l-7 12zm-10 3h14l-7 12zm-16 25h14l-7 12zm-8 0h14l-7 12zm-10 21h14l-7 12zm-13 13h14l-7 12zm-17-37h14l-7 12zm-8 23h14l-7 12zm-16-4h14l-7 12zm-12 14h14l-7 12zm-4-13h14l-7 12zm-10-64h14l-7 12zm-32 87h14l-7 12zm-12-12h14l-7 12zm-10-71h14l-7 12zm-10 78h14l-7 12zm-3-70h14l-7 12zm-26 57h14l-7 12zm-192 3h14l-7 12zm95 49h14l-7 12zm8-11h14l-7 12zm14 5h14l-7 12zm9 36h14l-7 12zm17 15h14l-7 12zm44-3h14l-7 12zm2-62h14l-7 12zm9 66h14l-7 12zm1-59h14l-7 12zm6-19h14l-7 12zm11 94h14l-7 12zm10-25h14l-7 12zm7 13h14l-7 12zm2-11h14l-7 12zm4-22h14l-7 12zm13 4h14l-7 12zm4 10h14l-7 12zm3-9h14l-7 12zm6 5h14l-7 12zm4-18h14l-7 12zm12 14h14l-7 12zm7 13h14l-7 12zm8-34h14l-7 12zm4 6h14l-7 12zm2 28h14l-7 12zm2-5h14l-7 12zm0-16h14l-7 12zm12-31h14l-7 12zm2-9h14l-7 12zm1 5h14l-7 12zm2 55h14l-7 12zm2 8h14l-7 12zm1-32h14l-7 12zm2 38h14l-7 12zm2-1h14l-7 12zm13-63h14l-7 12zm4 29h14l-7 12zm1-9h14l-7 12zm0 53h14l-7 12zm4-12h14l-7 12zm2-65h14l-7 12zm5 58h14l-7 12zm2-53h14l-7 12zm3-15h14l-7 12zm1-4h14l-7 12zm2 17h14l-7 12zm4 41h14l-7 12zm2-18h14l-7 12zm7 11h14l-7 12zm15-14h14l-7 12zm1 29h14l-7 12zm2-55h14l-7 12zm4 63h14l-7 12zm2-66h14l-7 12zm1 60h14l-7 12zm1-66h14l-7 12zm1 16h14l-7 12zm6 57h14l-7 12zm2 18h14l-7 12zm5-39h14l-7 12zm1-6h14l-7 12zm1-37h14l-7 12zm1 58h14l-7 12zm2-26h14l-7 12zm5 20h14l-7 12zm0-31h14l-7 12zm2 55h14l-7 12zm6-10h14l-7 12zm1 16h14l-7 12zm5-65h14l-7 12zm0 48h14l-7 12zm0-39h14l-7 12zm1-5h14l-7 12zm5 30h14l-7 12zm3-20h14l-7 12zm2 47h14l-7 12zm8-85h14l-7 12zm0 16h14l-7 12zm2 34h14l-7 12zm0 17h14l-7 12zm4-35h14l-7 12zm2-6h14l-7 12zm1 42h14l-7 12zm2-31h14l-7 12zm1 45h14l-7 12zm3-59h14l-7 12zm4 45h14l-7 12zm0 21h14l-7 12zm2-8h14l-7 12zm3-6h14l-7 12zm2-70h14l-7 12zm0 19h14l-7 12zm1 16h14l-7 12zm4-25h14l-7 12zm0 53h14l-7 12zm2-20h14l-7 12zm2 21h14l-7 12zm0-23h14l-7 12zm2-13h14l-7 12zm4-23h14l-7 12zm2 61h14l-7 12zm2-44h14l-7 12zm1 64h14l-7 12zm1-80h14l-7 12zm2 21h14l-7 12zm4-2h14l-7 12zm2 5h14l-7 12zm3 5h14l-7 12zm2-15h14l-7 12zm1 60h14l-7 12zm2-32h14l-7 12zm1-9h14l-7 12zm4-6h14l-7 12zm3-13h14l-7 12zm1-27h14l-7 12zm1 61h14l-7 12zm0-24h14l-7 12zm3-3h14l-7 12zm0 46h14l-7 12zm1 3h14l-7 12zm4-38h14l-7 12zm0-1h14l-7 12zm3 42h14l-7 12zm1-16h14l-7 12zm0-13h14l-7 12zm5-30h14l-7 12zm1-2h14l-7 12zm1-26h14l-7 12zm1 9h14l-7 12zm8 79h14l-7 12zm3-70h14l-7 12zm5 69h14l-7 12zm1-40h14l-7 12zm0-38h14l-7 12zm4 43h14l-7 12zm5-3h14l-7 12zm4 0h14l-7 12zm0 5h14l-7 12zm2 8h14l-7 12zm1-31h14l-7 12zm0 34h14l-7 12zm2 16h14l-7 12zm1 13h14l-7 12zm6-49h14l-7 12zm0 16h14l-7 12zm9-59h14l-7 12zm4 91h14l-7 12zm12-8h14l-7 12zm0-26h14l-7 12zm3 31h14l-7 12zm4-52h14l-7 12zm2 13h14l-7 12zm2-36h14l-7 12zm2 14h14l-7 12zm0 57h14l-7 12zm5-86h14l-7 12zm1 45h14l-7 12zm5-8h14l-7 12zm2-38h14l-7 12zm4 82h14l-7 12zm0-57h14l-7 12zm1 21h14l-7 12zm2-31h14l-7 12zm0 35h14l-7 12zm1 2h14l-7 12zm4 26h14l-7 12zm1 1h14l-7 12zm1-7h14l-7 12zm4-1h14l-7 12zm2-30h14l-7 12zm2-19h14l-7 12zm1 40h14l-7 12zm1 10h14l-7 12zm2-63h14l-7 12zm0 22h14l-7 12zm3 30h14l-7 12zm5-25h14l-7 12zm1 40h14l-7 12zm1 19h14l-7 12zm3-70h14l-7 12zm5 41h14l-7 12zm0-23h14l-7 12zm1 47h14l-7 12zm0-73h14l-7 12zm4 66h14l-7 12zm2 9h14l-7 12zm6-57h14l-7 12zm7 51h14l-7 12zm4 9h14l-7 12zm5-27h14l-7 12zm0-20h14l-7 12zm2 0h14l-7 12zm1-25h14l-7 12zm1-17h14l-7 12zm11 0h14l-7 12zm12 86h14l-7 12zm1-36h14l-7 12zm3 26h14l-7 12zm4-46h14l-7 12zm0 59h14l-7 12zm4-18h14l-7 12zm2-35h14l-7 12zm1 8h14l-7 12zm4 37h14l-7 12zm3-45h14l-7 12zm10-19h14l-7 12zm0 44h14l-7 12zm1-64h14l-7 12zm1 47h14l-7 12zm0-46h14l-7 12zm1 2h14l-7 12zm2 5h14l-7 12zm14 73h14l-7 12zm5-8h14l-7 12zm2-71h14l-7 12zm15 45h14l-7 12zm7 39h14l-7 12zm10-43h14l-7 12zm20 19h14l-7 12zm299 35h14l-7 12zm-268 1h14l-7 12zm-27 45h14l-7 12zm-14 38h14l-7 12zm-1-57h14l-7 12zm-1 53h14l-7 12zm-3-47h14l-7 12zm-22-22h14l-7 12zm-23 27h14l-7 12zm0-26h14l-7 12zm-2 18h14l-7 12zm-4-14h14l-7 12zm0 3h14l-7 12zm-2 68h14l-7 12zm-11-71h14l-7 12zm-2-1h14l-7 12zm-7 14h14l-7 12zm-11 20h14l-7 12zm-4-52h14l-7 12zm-5 29h14l-7 12zm-2 65h14l-7 12zm-3-34h14l-7 12zm-5-3h14l-7 12zm0 16h14l-7 12zm0-19h14l-7 12zm-3 10h14l-7 12zm-3-49h14l-7 12zm-4 6h14l-7 12zm-1 50h14l-7 12zm-3 0h14l-7 12zm-2-50h14l-7 12zm-1 28h14l-7 12zm-1 1h14l-7 12zm-3 0h14l-7 12zm-1-49h14l-7 12zm-2 89h14l-7 12zm-1-35h14l-7 12zm-5-44h14l-7 12zm-3 46h14l-7 12zm-6-37h14l-7 12zm0-18h14l-7 12zm-1 72h14l-7 12zm0-47h14l-7 12zm-4 25h14l-7 12zm-2-48h14l-7 12zm-5 22h14l-7 12zm-2-7h14l-7 12zm-2 46h14l-7 12zm0-56h14l-7 12zm-1 4h14l-7 12zm-1 26h14l-7 12zm0 10h14l-7 12zm-1-35h14l-7 12zm-1 23h14l-7 12zm-1 30h14l-7 12zm-7-32h14l-7 12zm-6 35h14l-7 12zm-7 20h14l-7 12zm0-22h14l-7 12zm-2 20h14l-7 12zm0-60h14l-7 12zm-2 7h14l-7 12zm0-3h14l-7 12zm-1-2h14l-7 12zm-4 61h14l-7 12zm-1-58h14l-7 12zm-1-31h14l-7 12zm-5 9h14l-7 12zm0 76h14l-7 12zm-3 7h14l-7 12zm-1-20h14l-7 12zm-2 3h14l-7 12zm-2-46h14l-7 12zm0-21h14l-7 12zm0 51h14l-7 12zm-1-46h14l-7 12zm0 2h14l-7 12zm-3-11h14l-7 12zm0 53h14l-7 12zm-1 26h14l-7 12zm0-39h14l-7 12zm-3-21h14l-7 12zm-1-3h14l-7 12zm-2 34h14l-7 12zm-1 33h14l-7 12zm-2 1h14l-7 12zm0-12h14l-7 12zm-1-54h14l-7 12zm-3-21h14l-7 12zm-1 26h14l-7 12zm0 61h14l-7 12zm-4-45h14l-7 12zm0-39h14l-7 12zm-1 19h14l-7 12zm-1-7h14l-7 12zm-1-2h14l-7 12zm-3 67h14l-7 12zm-4-62h14l-7 12zm0 53h14l-7 12zm-4 10h14l-7 12zm-5 6h14l-7 12zm-1-65h14l-7 12zm0 25h14l-7 12zm-1-25h14l-7 12zm-2 56h14l-7 12zm0-54h14l-7 12zm-1 25h14l-7 12zm-1-43h14l-7 12zm-1 64h14l-7 12zm-1 20h14l-7 12zm-2-30h14l-7 12zm0-48h14l-7 12zm-1-2h14l-7 12zm-1 31h14l-7 12zm0 34h14l-7 12zm-1-73h14l-7 12zm-1 26h14l-7 12zm-3 40h14l-7 12zm0-34h14l-7 12zm0-24h14l-7 12zm-1 28h14l-7 12zm-2-28h14l-7 12zm-1 28h14l-7 12zm-1 22h14l-7 12zm-4-62h14l-7 12zm-3 18h14l-7 12zm-1-14h14l-7 12zm0 59h14l-7 12zm-4-31h14l-7 12zm-4 35h14l-7 12zm-1 23h14l-7 12zm-1-70h14l-7 12zm-1 22h14l-7 12zm-2 9h14l-7 12zm-4 37h14l-7 12zm-1-82h14l-7 12zm-1 23h14l-7 12zm-6 16h14l-7 12zm0-9h14l-7 12zm-3-26h14l-7 12zm0 55h14l-7 12zm0-45h14l-7 12zm-6 31h14l-7 12zm-4-38h14l-7 12zm-1 34h14l-7 12zm-1-35h14l-7 12zm0 46h14l-7 12zm-1-21h14l-7 12zm-6 42h14l-7 12zm0-45h14l-7 12zm-1-20h14l-7 12zm-2 43h14l-7 12zm0 30h14l-7 12zm0-19h14l-7 12zm-3-56h14l-7 12zm-1 64h14l-7 12zm-2-66h14l-7 12zm0 65h14l-7 12zm-3-23h14l-7 12zm-1-31h14l-7 12zm-2 65h14l-7 12zm-2-81h14l-7 12zm-1 71h14l-7 12zm-2-42h14l-7 12zm-8-36h14l-7 12zm-4 65h14l-7 12zm-7-9h14l-7 12zm-1 7h14l-7 12zm-3-30h14l-7 12zm-3 15h14l-7 12zm0 15h14l-7 12zm-2 20h14l-7 12zm-2-64h14l-7 12zm0 18h14l-7 12zm-1 50h14l-7 12zm-1-14h14l-7 12zm-2 9h14l-7 12zm-3-28h14l-7 12zm-1-31h14l-7 12zm0 58h14l-7 12zm-2-6h14l-7 12zm0 20h14l-7 12zm-3-83h14l-7 12zm-2-8h14l-7 12zm-1 0h14l-7 12zm-2 56h14l-7 12zm-2-7h14l-7 12zm0-5h14l-7 12zm-5-15h14l-7 12zm0 19h14l-7 12zm-1-13h14l-7 12zm-7 49h14l-7 12zm-1-79h14l-7 12zm-3-3h14l-7 12zm-1 59h14l-7 12zm-5-15h14l-7 12zm-7-15h14l-7 12zm-1 2h14l-7 12zm-7-36h14l-7 12zm-5 36h14l-7 12zm0 49h14l-7 12zm-5-81h14l-7 12zm-3-1h14l-7 12zm-1 91h14l-7 12zm0-70h14l-7 12zm-2 39h14l-7 12zm-1-23h14l-7 12zm-3 50h14l-7 12zm-4 3h14l-7 12zm-2-52h14l-7 12zm0 4h14l-7 12zm-3 33h14l-7 12zm-1 3h14l-7 12zm-1-3h14l-7 12zm-2-48h14l-7 12zm-1 43h14l-7 12zm-9-33h14l-7 12zm-5 1h14l-7 12zm-2 21h14l-7 12zm-1 32h14l-7 12zm-1-17h14l-7 12zm-6-60h14l-7 12zm-1 40h14l-7 12zm-3 31h14l-7 12zm-4-2h14l-7 12zm-3-71h14l-7 12zm-4 61h14l-7 12zm-7-34h14l-7 12zm-3 23h14l-7 12zm-3-44h14l-7 12zm-7-6h14l-7 12zm-3 23h14l-7 12zm-3 21h14l-7 12zm-1 32h14l-7 12zm-8-56h14l-7 12zm-4-1h14l-7 12zm-8 57h14l-7 12zm-1-66h14l-7 12zm-3 31h14l-7 12zm-3-15h14l-7 12zm-1 36h14l-7 12zm-1-6h14l-7 12zm-3-38h14l-7 12zm-3 36h14l-7 12zm-1-26h14l-7 12zm-3 38h14l-7 12zm-1 11h14l-7 12zm-6-44h14l-7 12zm-1 25h14l-7 12zm-1 13h14l-7 12zm-1-71h14l-7 12zm-4 48h14l-7 12zm-1 6h14l-7 12zm-1 24h14l-7 12zm-1-1h14l-7 12zm0-13h14l-7 12zm-1 1h14l-7 12zm-9 0h14l-7 12zm-6-72h14l-7 12zm-3 18h14l-7 12zm-1 59h14l-7 12zm-2-21h14l-7 12zm-8 24h14l-7 12zm-2-43h14l-7 12zm-3 8h14l-7 12zm-2 12h14l-7 12zm-10 14h14l-7 12zm-1-41h14l-7 12zm-2 19h14l-7 12zm-6-39h14l-7 12zm-6 66h14l-7 12zm-1-29h14l-7 12zm-11-8h14l-7 12zm-11 45h14l-7 12zm-4-24h14l-7 12zm-1-12h14l-7 12zm-7-11h14l-7 12zm0 14h14l-7 12zm-1 21h14l-7 12zm-10-28h14l-7 12zm-6-49h14l-7 12zm-21 26h14l-7 12zm-3 62h14l-7 12zm0-57h14l-7 12zm-11 16h14l-7 12zm-1 22h14l-7 12zm-8 10h14l-7 12zm-20-46h14l-7 12zm-3-33h14l-7 12zm-31 22h14l-7 12zm-9 51h14l-7 12zm-28 16h14l-7 12zm-12-64h14l-7 12zm-3 46h14l-7 12zm-40 57h14l-7 12zm5-11h14l-7 12zm5 46h14l-7 12zm9-53h14l-7 12zm2 31h14l-7 12zm40 0h14l-7 12zm4-8h14l-7 12zm4-10h14l-7 12zm14-11h14l-7 12zm4 69h14l-7 12zm24-16h14l-7 12zm11-28h14l-7 12zm37 48h14l-7 12zm17-28h14l-7 12zm12-56h14l-7 12zm2 71h14l-7 12zm11-68h14l-7 12zm1 41h14l-7 12zm8 28h14l-7 12zm2-59h14l-7 12zm6 40h14l-7 12zm1-16h14l-7 12zm2-45h14l-7 12zm0 29h14l-7 12zm1 7h14l-7 12zm2-12h14l-7 12zm3-13h14l-7 12zm11 56h14l-7 12zm1-59h14l-7 12zm2 72h14l-7 12zm1-45h14l-7 12zm4-10h14l-7 12zm2 1h14l-7 12zm13 16h14l-7 12zm4 51h14l-7 12zm8-56h14l-7 12zm1-23h14l-7 12zm2 65h14l-7 12zm16-43h14l-7 12zm1 22h14l-7 12zm2-59h14l-7 12zm2 28h14l-7 12zm8 7h14l-7 12zm0 53h14l-7 12zm1-47h14l-7 12zm4 36h14l-7 12zm1-66h14l-7 12zm2 29h14l-7 12zm1 20h14l-7 12zm3-53h14l-7 12zm0 50h14l-7 12zm1-10h14l-7 12zm1 0h14l-7 12zm1 28h14l-7 12zm2-58h14l-7 12zm1 57h14l-7 12zm1 9h14l-7 12zm5-32h14l-7 12zm2 41h14l-7 12zm0-81h14l-7 12zm1 65h14l-7 12zm3-33h14l-7 12zm2 10h14l-7 12zm2 12h14l-7 12zm1 6h14l-7 12zm1-21h14l-7 12zm0-33h14l-7 12zm3-3h14l-7 12zm1-11h14l-7 12zm3 56h14l-7 12zm1 34h14l-7 12zm1-41h14l-7 12zm1 8h14l-7 12zm0 28h14l-7 12zm2 5h14l-7 12zm2-62h14l-7 12zm1 55h14l-7 12zm2-76h14l-7 12zm9 24h14l-7 12zm0-4h14l-7 12zm2 46h14l-7 12zm2-66h14l-7 12zm7 51h14l-7 12zm1-37h14l-7 12zm0-8h14l-7 12zm2-8h14l-7 12zm1 7h14l-7 12zm4 54h14l-7 12zm3 21h14l-7 12zm2-29h14l-7 12zm0 24h14l-7 12zm1-3h14l-7 12zm0-75h14l-7 12zm8 32h14l-7 12zm1 3h14l-7 12zm1 7h14l-7 12zm1-17h14l-7 12zm1 18h14l-7 12zm6-14h14l-7 12zm0 1h14l-7 12zm3-34h14l-7 12zm0 19h14l-7 12zm0 57h14l-7 12zm2-70h14l-7 12zm5 37h14l-7 12zm3 0h14l-7 12zm1 8h14l-7 12zm0 1h14l-7 12zm0-5h14l-7 12zm3 8h14l-7 12zm1-16h14l-7 12zm1 35h14l-7 12zm3 16h14l-7 12zm2-14h14l-7 12zm1-5h14l-7 12zm0 4h14l-7 12zm1-55h14l-7 12zm3-15h14l-7 12zm2 42h14l-7 12zm0 35h14l-7 12zm0-19h14l-7 12zm1-37h14l-7 12zm0 35h14l-7 12zm3-41h14l-7 12zm7 25h14l-7 12zm0 12h14l-7 12zm1-2h14l-7 12zm1 24h14l-7 12zm1-33h14l-7 12zm0-16h14l-7 12zm1-20h14l-7 12zm0 37h14l-7 12zm1-20h14l-7 12zm2 29h14l-7 12zm1-21h14l-7 12zm0 42h14l-7 12zm1 2h14l-7 12zm8-8h14l-7 12zm0-21h14l-7 12zm0 0h14l-7 12zm4 40h14l-7 12zm1-25h14l-7 12zm0-32h14l-7 12zm1 36h14l-7 12zm1 22h14l-7 12zm0-54h14l-7 12zm2 51h14l-7 12zm6-60h14l-7 12zm1-17h14l-7 12zm0-13h14l-7 12zm1 43h14l-7 12zm2-10h14l-7 12zm4 18h14l-7 12zm8-5h14l-7 12zm2 43h14l-7 12zm2-24h14l-7 12zm0-42h14l-7 12zm6-20h14l-7 12zm0 17h14l-7 12zm0-5h14l-7 12zm1 5h14l-7 12zm0 72h14l-7 12zm4-84h14l-7 12zm1-7h14l-7 12zm4 66h14l-7 12zm3 9h14l-7 12zm0-35h14l-7 12zm7 16h14l-7 12zm1 10h14l-7 12zm0-57h14l-7 12zm2 68h14l-7 12zm0 11h14l-7 12zm0-47h14l-7 12zm2 30h14l-7 12zm1-29h14l-7 12zm4 21h14l-7 12zm0-15h14l-7 12zm1 8h14l-7 12zm1-18h14l-7 12zm1 36h14l-7 12zm0-20h14l-7 12zm1-19h14l-7 12zm2-35h14l-7 12zm1 1h14l-7 12zm1 33h14l-7 12zm4 54h14l-7 12zm1-63h14l-7 12zm0 16h14l-7 12zm7 30h14l-7 12zm0 1h14l-7 12zm2-64h14l-7 12zm1 48h14l-7 12zm4 7h14l-7 12zm1 14h14l-7 12zm7-15h14l-7 12zm1-15h14l-7 12zm0-22h14l-7 12zm0 1h14l-7 12zm0 9h14l-7 12zm4-11h14l-7 12zm1-22h14l-7 12zm2 17h14l-7 12zm0-1h14l-7 12zm4 61h14l-7 12zm1 14h14l-7 12zm1-46h14l-7 12zm2-20h14l-7 12zm0 43h14l-7 12zm3 20h14l-7 12zm2-49h14l-7 12zm4-40h14l-7 12zm2 27h14l-7 12zm0 61h14l-7 12zm0-51h14l-7 12zm2 39h14l-7 12zm2-25h14l-7 12zm2 3h14l-7 12zm2-10h14l-7 12zm4 33h14l-7 12zm7-23h14l-7 12zm0-53h14l-7 12zm1 81h14l-7 12zm2-51h14l-7 12zm1-7h14l-7 12zm9-17h14l-7 12zm0 35h14l-7 12zm1 7h14l-7 12zm0-45h14l-7 12zm1 48h14l-7 12zm2-13h14l-7 12zm0 20h14l-7 12zm2 9h14l-7 12zm0-70h14l-7 12zm3 30h14l-7 12zm3 3h14l-7 12zm2 23h14l-7 12zm0-23h14l-7 12zm6-4h14l-7 12zm3-8h14l-7 12zm1 22h14l-7 12zm8 36h14l-7 12zm0 5h14l-7 12zm6 9h14l-7 12zm0-41h14l-7 12zm1 22h14l-7 12zm2-8h14l-7 12zm0-8h14l-7 12zm5 15h14l-7 12zm2-18h14l-7 12zm3-45h14l-7 12zm1 14h14l-7 12zm0 6h14l-7 12zm6 32h14l-7 12zm3-52h14l-7 12zm3-5h14l-7 12zm2 39h14l-7 12zm9-34h14l-7 12zm9 75h14l-7 12zm1 1h14l-7 12zm2-73h14l-7 12zm1 15h14l-7 12zm4 2h14l-7 12zm0-7h14l-7 12zm8 47h14l-7 12zm1-55h14l-7 12zm10 0h14l-7 12zm4 23h14l-7 12zm2 24h14l-7 12zm8-5h14l-7 12zm0 8h14l-7 12zm0 19h14l-7 12zm1-47h14l-7 12zm3-18h14l-7 12zm6 17h14l-7 12zm17 41h14l-7 12zm3-38h14l-7 12zm0 20h14l-7 12zm1-33h14l-7 12zm3-1h14l-7 12zm5 51h14l-7 12zm13-25h14l-7 12zm3-49h14l-7 12zm0-2h14l-7 12zm1 79h14l-7 12zm10-32h14l-7 12zm11-26h14l-7 12zm2-11h14l-7 12zm6 42h14l-7 12zm3-5h14l-7 12zm0-41h14l-7 12zm2 2h14l-7 12zm47 80h14l-7 12zm0-16h14l-7 12zm236 115h14l-7 12zm-88-44h14l-7 12zm-28 8h14l-7 12zm-129-23h14l-7 12zm-47-11h14l-7 12zm-14-12h14l-7 12zm-6 74h14l-7 12zm-45-52h14l-7 12zm-13 24h14l-7 12zm-5-51h14l-7 12zm-10 80h14l-7 12zm-1-19h14l-7 12zm-5 14h14l-7 12zm0-52h14l-7 12zm-2 58h14l-7 12zm0-61h14l-7 12zm-5 12h14l-7 12zm-5 17h14l-7 12zm-4-48h14l-7 12zm-7-3h14l-7 12zm-15 28h14l-7 12zm-1-24h14l-7 12zm-12 17h14l-7 12zm0-12h14l-7 12zm-3 43h14l-7 12zm-8 20h14l-7 12zm-9-75h14l-7 12zm-11 7h14l-7 12zm-3 30h14l-7 12zm-3 51h14l-7 12zm0-21h14l-7 12zm-1-24h14l-7 12zm-1-35h14l-7 12zm-6-4h14l-7 12zm0 57h14l-7 12zm-3-40h14l-7 12zm-1 33h14l-7 12zm-3-39h14l-7 12zm0 69h14l-7 12zm-1-10h14l-7 12zm-3-7h14l-7 12zm-1-59h14l-7 12zm-1-8h14l-7 12zm0 82h14l-7 12zm-1-55h14l-7 12zm-6 59h14l-7 12zm-4-43h14l-7 12zm-6-20h14l-7 12zm-1 31h14l-7 12zm0-52h14l-7 12zm-2 93h14l-7 12zm-1-94h14l-7 12zm-1 49h14l-7 12zm-2-25h14l-7 12zm-3 19h14l-7 12zm-2 20h14l-7 12zm-1 30h14l-7 12zm-1-4h14l-7 12zm-1-71h14l-7 12zm-1 27h14l-7 12zm-4-5h14l-7 12zm-2-33h14l-7 12zm-3 38h14l-7 12zm-1 36h14l-7 12zm0-11h14l-7 12zm-2 1h14l-7 12zm0 13h14l-7 12zm-3-14h14l-7 12zm-1-52h14l-7 12zm-1 18h14l-7 12zm-2-1h14l-7 12zm0 10h14l-7 12zm0-28h14l-7 12zm-2 30h14l-7 12zm-2-14h14l-7 12zm-6 35h14l-7 12zm0-32h14l-7 12zm-2-12h14l-7 12zm0-1h14l-7 12zm-3 11h14l-7 12zm-1-6h14l-7 12zm0 6h14l-7 12zm-1 33h14l-7 12zm-1-32h14l-7 12zm-1 8h14l-7 12zm-3 3h14l-7 12zm-3 38h14l-7 12zm-1-40h14l-7 12zm0 47h14l-7 12zm0-19h14l-7 12zm-1-67h14l-7 12zm0 9h14l-7 12zm-6 0h14l-7 12zm0 75h14l-7 12zm0-62h14l-7 12zm-2 42h14l-7 12zm-5-27h14l-7 12zm0 27h14l-7 12zm-2 10h14l-7 12zm0-65h14l-7 12zm-3 77h14l-7 12zm-1-38h14l-7 12zm-2 25h14l-7 12zm-3-51h14l-7 12zm-2 10h14l-7 12zm0 1h14l-7 12zm-3 15h14l-7 12zm-5-21h14l-7 12zm-2 50h14l-7 12zm-1-46h14l-7 12zm-1-22h14l-7 12zm-2 17h14l-7 12zm-7 24h14l-7 12zm-1 39h14l-7 12zm-1-11h14l-7 12zm-2 5h14l-7 12zm-2 3h14l-7 12zm-2-65h14l-7 12zm-2 68h14l-7 12zm-1-55h14l-7 12zm-1 51h14l-7 12zm-2-43h14l-7 12zm-4-22h14l-7 12zm-2 57h14l-7 12zm-1-67h14l-7 12zm-2 51h14l-7 12zm-3-29h14l-7 12zm-2 1h14l-7 12zm-1-25h14l-7 12zm0-4h14l-7 12zm-1 21h14l-7 12zm-7 50h14l-7 12zm-6-68h14l-7 12zm0 7h14l-7 12zm-2 52h14l-7 12zm-1-47h14l-7 12zm-2 52h14l-7 12zm0-61h14l-7 12zm-3 26h14l-7 12zm-1 38h14l-7 12zm-1-62h14l-7 12zm-1-7h14l-7 12zm0 2h14l-7 12zm-2 69h14l-7 12zm-2-38h14l-7 12zm-2 20h14l-7 12zm-2-26h14l-7 12zm0-32h14l-7 12zm-1 9h14l-7 12zm-1-13h14l-7 12zm-1 29h14l-7 12zm-3-19h14l-7 12zm0 38h14l-7 12zm0-40h14l-7 12zm-1 4h14l-7 12zm-4 19h14l-7 12zm-1 59h14l-7 12zm0-32h14l-7 12zm-1-12h14l-7 12zm-2-3h14l-7 12zm-7 43h14l-7 12zm-4-72h14l-7 12zm-3-9h14l-7 12zm0 79h14l-7 12zm0 8h14l-7 12zm-2-84h14l-7 12zm-2 9h14l-7 12zm-2 6h14l-7 12zm-1 70h14l-7 12zm-1-9h14l-7 12zm-1-83h14l-7 12zm-1 53h14l-7 12zm0 1h14l-7 12zm-1 24h14l-7 12zm0-68h14l-7 12zm-1-5h14l-7 12zm-1 30h14l-7 12zm-1-20h14l-7 12zm-1 38h14l-7 12zm0-9h14l-7 12zm-1-15h14l-7 12zm-8 42h14l-7 12zm-2-11h14l-7 12zm-2-3h14l-7 12zm-3-3h14l-7 12zm-2-4h14l-7 12zm-5-20h14l-7 12zm0-20h14l-7 12zm-4 34h14l-7 12zm-2-23h14l-7 12zm-4-2h14l-7 12zm-4-19h14l-7 12zm-1 10h14l-7 12zm-1 65h14l-7 12zm-3-12h14l-7 12zm0 2h14l-7 12zm0 10h14l-7 12zm-2-22h14l-7 12zm-1 18h14l-7 12zm-1-10h14l-7 12zm-1 5h14l-7 12zm0-28h14l-7 12zm-6-10h14l-7 12zm0 31h14l-7 12zm-1-33h14l-7 12zm-2 39h14l-7 12zm0 2h14l-7 12zm0-33h14l-7 12zm-2 9h14l-7 12zm-1 20h14l-7 12zm-2-32h14l-7 12zm-4-13h14l-7 12zm-3 21h14l-7 12zm-2-37h14l-7 12zm0 34h14l-7 12zm-1-6h14l-7 12zm-4-27h14l-7 12zm-1 15h14l-7 12zm-3 59h14l-7 12zm-2 3h14l-7 12zm-1-62h14l-7 12zm-4 48h14l-7 12zm0-45h14l-7 12zm-1 57h14l-7 12zm-11-45h14l-7 12zm-3-12h14l-7 12zm-4 67h14l-7 12zm-3-32h14l-7 12zm0-52h14l-7 12zm-2 38h14l-7 12zm-3 30h14l-7 12zm-2 9h14l-7 12zm0-29h14l-7 12zm-1 19h14l-7 12zm-1-62h14l-7 12zm0 38h14l-7 12zm-7 16h14l-7 12zm-1-47h14l-7 12zm0 20h14l-7 12zm-3 20h14l-7 12zm0-49h14l-7 12zm-7 29h14l-7 12zm-1 19h14l-7 12zm-3-19h14l-7 12zm-4 30h14l-7 12zm-6-46h14l-7 12zm0 7h14l-7 12zm-3-14h14l-7 12zm-2 78h14l-7 12zm-1-68h14l-7 12zm-3-15h14l-7 12zm0 65h14l-7 12zm-1-25h14l-7 12zm-1-40h14l-7 12zm-3-4h14l-7 12zm-7 11h14l-7 12zm-1 31h14l-7 12zm-1-35h14l-7 12zm-10 47h14l-7 12zm-1 10h14l-7 12zm-7-31h14l-7 12zm-1-38h14l-7 12zm-11 27h14l-7 12zm-8-19h14l-7 12zm-9 8h14l-7 12zm-7 7h14l-7 12zm0-10h14l-7 12zm-1 71h14l-7 12zm0-5h14l-7 12zm-9-58h14l-7 12zm0 43h14l-7 12zm-6-42h14l-7 12zm-8 33h14l-7 12zm-17 9h14l-7 12zm0-56h14l-7 12zm-3 47h14l-7 12zm-9-47h14l-7 12zm-1 83h14l-7 12zm0-15h14l-7 12zm-4 12h14l-7 12zm-7 2h14l-7 12zm-1-22h14l-7 12zm-4-2h14l-7 12zm-1-57h14l-7 12zm-4 38h14l-7 12zm-17 17h14l-7 12zm0-62h14l-7 12zm-2 45h14l-7 12zm-19 44h14l-7 12zm-8-27h14l-7 12zm-126 75h14l-7 12zm4 22h14l-7 12zm39-62h14l-7 12zm12 80h14l-7 12zm7-22h14l-7 12zm5 24h14l-7 12zm14 0h14l-7 12zm5-84h14l-7 12zm12 90h14l-7 12zm17-42h14l-7 12zm16-36h14l-7 12zm2 77h14l-7 12zm2-75h14l-7 12zm1 66h14l-7 12zm10-33h14l-7 12zm19-31h14l-7 12zm5 47h14l-7 12zm3-27h14l-7 12zm5-23h14l-7 12zm3 57h14l-7 12zm6-45h14l-7 12zm8 38h14l-7 12zm6-1h14l-7 12zm14-22h14l-7 12zm1 38h14l-7 12zm1-26h14l-7 12zm1 10h14l-7 12zm0 2h14l-7 12zm6 27h14l-7 12zm6-88h14l-7 12zm0-3h14l-7 12zm5-2h14l-7 12zm3 72h14l-7 12zm3-73h14l-7 12zm11 42h14l-7 12zm2 29h14l-7 12zm4-7h14l-7 12zm1-4h14l-7 12zm4-40h14l-7 12zm5 58h14l-7 12zm2 12h14l-7 12zm3-14h14l-7 12zm2-1h14l-7 12zm2-73h14l-7 12zm1 10h14l-7 12zm1 69h14l-7 12zm2-69h14l-7 12zm2 27h14l-7 12zm0 35h14l-7 12zm3 10h14l-7 12zm0 6h14l-7 12zm6-5h14l-7 12zm6-80h14l-7 12zm8-3h14l-7 12zm1 79h14l-7 12zm5-71h14l-7 12zm2 47h14l-7 12zm3-19h14l-7 12zm5 0h14l-7 12zm1 13h14l-7 12zm4 9h14l-7 12zm0-4h14l-7 12zm0-46h14l-7 12zm1 63h14l-7 12zm1-70h14l-7 12zm3 89h14l-7 12zm1-35h14l-7 12zm11 6h14l-7 12zm4 9h14l-7 12zm1-63h14l-7 12zm1 79h14l-7 12zm1-36h14l-7 12zm8 3h14l-7 12zm7 5h14l-7 12zm1-58h14l-7 12zm0 12h14l-7 12zm1 20h14l-7 12zm1 12h14l-7 12zm9 45h14l-7 12zm1-50h14l-7 12zm1-39h14l-7 12zm5 27h14l-7 12zm0 40h14l-7 12zm1-45h14l-7 12zm3 22h14l-7 12zm1 37h14l-7 12zm0-43h14l-7 12zm2 6h14l-7 12zm0-4h14l-7 12zm4 22h14l-7 12zm9-28h14l-7 12zm1-2h14l-7 12zm2-25h14l-7 12zm1 73h14l-7 12zm2 9h14l-7 12zm0-84h14l-7 12zm1 34h14l-7 12zm5 11h14l-7 12zm1-43h14l-7 12zm5 12h14l-7 12zm0 6h14l-7 12zm0-8h14l-7 12zm1-12h14l-7 12zm3 3h14l-7 12zm7 26h14l-7 12zm3 36h14l-7 12zm1-65h14l-7 12zm1 9h14l-7 12zm0 49h14l-7 12zm3-30h14l-7 12zm0-21h14l-7 12zm3 75h14l-7 12zm2-54h14l-7 12zm2 57h14l-7 12zm2-13h14l-7 12zm0-46h14l-7 12zm6-11h14l-7 12zm1 33h14l-7 12zm1-31h14l-7 12zm0 22h14l-7 12zm2 4h14l-7 12zm3-13h14l-7 12zm1 35h14l-7 12zm2-28h14l-7 12zm3 48h14l-7 12zm0-41h14l-7 12zm3 10h14l-7 12zm5-45h14l-7 12zm3 25h14l-7 12zm1-17h14l-7 12zm1-14h14l-7 12zm4 0h14l-7 12zm1 0h14l-7 12zm1 32h14l-7 12zm0-23h14l-7 12zm8 22h14l-7 12zm1-35h14l-7 12zm0 32h14l-7 12zm0-37h14l-7 12zm1 58h14l-7 12zm0-13h14l-7 12zm1 16h14l-7 12zm13 30h14l-7 12zm1-37h14l-7 12zm0 3h14l-7 12zm1 4h14l-7 12zm3 6h14l-7 12zm10 24h14l-7 12zm3-49h14l-7 12zm1 3h14l-7 12zm6-35h14l-7 12zm6 64h14l-7 12zm3-16h14l-7 12zm2-42h14l-7 12zm2 71h14l-7 12zm0-82h14l-7 12zm5 72h14l-7 12zm4 0h14l-7 12zm0-8h14l-7 12zm2-24h14l-7 12zm3 47h14l-7 12zm1-10h14l-7 12zm1-57h14l-7 12zm2-3h14l-7 12zm0 37h14l-7 12zm0-34h14l-7 12zm0 67h14l-7 12zm5-84h14l-7 12zm1-4h14l-7 12zm1 83h14l-7 12zm0-16h14l-7 12zm4-56h14l-7 12zm1 32h14l-7 12zm1 21h14l-7 12zm3-10h14l-7 12zm4-5h14l-7 12zm5 1h14l-7 12zm1 14h14l-7 12zm3-22h14l-7 12zm1 7h14l-7 12zm3-41h14l-7 12zm1 63h14l-7 12zm3-13h14l-7 12zm1 6h14l-7 12zm3 10h14l-7 12zm9-25h14l-7 12zm3-44h14l-7 12zm4 46h14l-7 12zm11 11h14l-7 12zm2-10h14l-7 12zm14-35h14l-7 12zm2 3h14l-7 12zm11 36h14l-7 12zm1-51h14l-7 12zm4 30h14l-7 12zm4 8h14l-7 12zm1 7h14l-7 12zm3-47h14l-7 12zm8 46h14l-7 12zm13-24h14l-7 12zm0 13h14l-7 12zm6-31h14l-7 12zm2 17h14l-7 12zm5-20h14l-7 12zm6 19h14l-7 12zm8-25h14l-7 12zm19 36h14l-7 12zm18-37h14l-7 12zm5 40h14l-7 12zm11-28h14l-7 12zm6 27h14l-7 12zm1 44h14l-7 12zm13-15h14l-7 12zm28 13h14l-7 12zm15-28h14l-7 12zm34-16h14l-7 12zm120-7h14l-7 12zm-40 68h14l-7 12zm-219 14h14l-7 12zm-1-12h14l-7 12zm-4 64h14l-7 12zm-5-37h14l-7 12zm-4 33h14l-7 12zm-1-1h14l-7 12zm-8-11h14l-7 12zm-14-12h14l-7 12zm-14 3h14l-7 12zm-2 4h14l-7 12zm-4 30h14l-7 12zm-29-28h14l-7 12zm-6 19h14l-7 12zm-16 4h14l-7 12zm-15 0h14l-7 12zm-1 15h14l-7 12zm-3-83h14l-7 12zm-2 46h14l-7 12zm-3-28h14l-7 12zm-10 4h14l-7 12zm-12 8h14l-7 12zm-6-21h14l-7 12zm-2 50h14l-7 12zm-6 27h14l-7 12zm-4-90h14l-7 12zm-2 1h14l-7 12zm0 84h14l-7 12zm0-45h14l-7 12zm-3 30h14l-7 12zm-9 14h14l-7 12zm-2-16h14l-7 12zm-5-23h14l-7 12zm-2-6h14l-7 12zm-3 33h14l-7 12zm-1-54h14l-7 12zm-3 5h14l-7 12zm-3 60h14l-7 12zm-8-16h14l-7 12zm0 5h14l-7 12zm-4-8h14l-7 12zm-7 17h14l-7 12zm-11-63h14l-7 12zm-17 2h14l-7 12zm-6-3h14l-7 12zm-5 38h14l-7 12zm0-16h14l-7 12zm-4-1h14l-7 12zm-2-12h14l-7 12zm-3-7h14l-7 12zm0 51h14l-7 12zm-6-33h14l-7 12zm-2-22h14l-7 12zm-3 2h14l-7 12zm0 9h14l-7 12zm-1 7h14l-7 12zm-9-7h14l-7 12zm-2-27h14l-7 12zm-3 27h14l-7 12zm-15 15h14l-7 12zm0-1h14l-7 12zm-3 20h14l-7 12zm-6-58h14l-7 12zm-1 37h14l-7 12zm-9-38h14l-7 12zm-1 21h14l-7 12zm-3 0h14l-7 12zm-1 43h14l-7 12zm-4 26h14l-7 12zm-2-48h14l-7 12zm-3-41h14l-7 12zm-2-2h14l-7 12zm-1 22h14l-7 12zm-1 7h14l-7 12zm-2-13h14l-7 12zm0 62h14l-7 12zm-4-38h14l-7 12zm-4-31h14l-7 12zm-7 12h14l-7 12zm-4-6h14l-7 12zm-2 57h14l-7 12zm-1-10h14l-7 12zm0 1h14l-7 12zm-2-61h14l-7 12zm-5 48h14l-7 12zm0 30h14l-7 12zm-1-35h14l-7 12zm0 13h14l-7 12zm-4 12h14l-7 12zm-1-13h14l-7 12zm0-26h14l-7 12zm-4-2h14l-7 12zm-1 44h14l-7 12zm-2-14h14l-7 12zm-2 15h14l-7 12zm0-65h14l-7 12zm-1 80h14l-7 12zm-4-33h14l-7 12zm-8 14h14l-7 12zm-1-27h14l-7 12zm-1-1h14l-7 12zm0-28h14l-7 12zm-1 69h14l-7 12zm-1-5h14l-7 12zm0-49h14l-7 12zm-2-16h14l-7 12zm-2 42h14l-7 12zm-3-44h14l-7 12zm-1 57h14l-7 12zm-2-6h14l-7 12zm0-29h14l-7 12zm-5-34h14l-7 12zm-2 81h14l-7 12zm-2 4h14l-7 12zm-1 0h14l-7 12zm-5-79h14l-7 12zm-1 74h14l-7 12zm-5-13h14l-7 12zm-3 3h14l-7 12zm-1-12h14l-7 12zm-1 9h14l-7 12zm0-34h14l-7 12zm-1-8h14l-7 12zm-2 35h14l-7 12zm-4-11h14l-7 12zm-6-14h14l-7 12zm-1 56h14l-7 12zm-4-44h14l-7 12zm-1 16h14l-7 12zm-1 24h14l-7 12zm-5-85h14l-7 12zm-1 68h14l-7 12zm-1-53h14l-7 12zm-1 61h14l-7 12zm-10 1h14l-7 12zm-2-5h14l-7 12zm0-33h14l-7 12zm0-31h14l-7 12zm-3 83h14l-7 12zm-4-10h14l-7 12zm-2-57h14l-7 12zm-2-17h14l-7 12zm0 12h14l-7 12zm-4-8h14l-7 12zm-12-1h14l-7 12zm-2 2h14l-7 12zm0 46h14l-7 12zm-4 5h14l-7 12zm0 15h14l-7 12zm-4-52h14l-7 12zm-9 47h14l-7 12zm0-4h14l-7 12zm-1 20h14l-7 12zm-4-63h14l-7 12zm-2 24h14l-7 12zm-5 19h14l-7 12zm0-36h14l-7 12zm-2-35h14l-7 12zm-5 78h14l-7 12zm-3-12h14l-7 12zm0-16h14l-7 12zm-2 44h14l-7 12zm0-91h14l-7 12zm-1 81h14l-7 12zm-1 7h14l-7 12zm-1-54h14l-7 12zm-11-11h14l-7 12zm-5 63h14l-7 12zm-1 1h14l-7 12zm-2-55h14l-7 12zm-12 57h14l-7 12zm-4 2h14l-7 12zm0-8h14l-7 12zm-4 4h14l-7 12zm-2-69h14l-7 12zm-4 17h14l-7 12zm-7 50h14l-7 12zm0-18h14l-7 12zm-2-13h14l-7 12zm-9-58h14l-7 12zm-2 83h14l-7 12zm0-17h14l-7 12zm-10-32h14l-7 12zm-1 51h14l-7 12zm0-59h14l-7 12zm-2 63h14l-7 12zm-2-31h14l-7 12zm-9-45h14l-7 12zm-4 41h14l-7 12zm-1 36h14l-7 12zm-8-61h14l-7 12zm-5 47h14l-7 12zm-8 1h14l-7 12zm-5 10h14l-7 12zm-3-5h14l-7 12zm0-76h14l-7 12zm-11 42h14l-7 12zm-13 15h14l-7 12zm-2 0h14l-7 12zm-8-35h14l-7 12zm-6 56h14l-7 12zm-3 7h14l-7 12zm-1 0h14l-7 12zm-9-37h14l-7 12zm-2 8h14l-7 12zm-1-33h14l-7 12zm-7-10h14l-7 12zm-3 68h14l-7 12zm-4-41h14l-7 12zm-17 30h14l-7 12zm0-75h14l-7 12zm-13 85h14l-7 12zm-43-6h14l-7 12zm-4-27h14l-7 12zm-4 12h14l-7 12zm-20-20h14l-7 12zm-17 13h14l-7 12zm-357 129h14l-7 12zm22-1h14l-7 12zm0-20h14l-7 12zm18-5h14l-7 12zm70 22h14l-7 12zm15 8h14l-7 12zm1-8h14l-7 12zm15 1h14l-7 12zm152-5h14l-7 12zm21-67h14l-7 12zm6 52h14l-7 12zm3-68h14l-7 12zm10 11h14l-7 12zm24 45h14l-7 12zm2-43h14l-7 12zm14 15h14l-7 12zm4-25h14l-7 12zm30 64h14l-7 12zm18 12h14l-7 12zm4-26h14l-7 12zm3-53h14l-7 12zm2 15h14l-7 12zm3 72h14l-7 12zm2-55h14l-7 12zm3-7h14l-7 12zm3 49h14l-7 12zm3-50h14l-7 12zm2-15h14l-7 12zm1 22h14l-7 12zm1 1h14l-7 12zm3-13h14l-7 12zm5 46h14l-7 12zm7-52h14l-7 12zm9 72h14l-7 12zm3 0h14l-7 12zm14-26h14l-7 12zm7-54h14l-7 12zm7 18h14l-7 12zm2 35h14l-7 12zm1 8h14l-7 12zm5-4h14l-7 12zm4-37h14l-7 12zm2 7h14l-7 12zm3 49h14l-7 12zm3-13h14l-7 12zm2-50h14l-7 12zm3 25h14l-7 12zm2 17h14l-7 12zm14 18h14l-7 12zm2-2h14l-7 12zm8-40h14l-7 12zm1-23h14l-7 12zm0 78h14l-7 12zm2-31h14l-7 12zm1 31h14l-7 12zm3-11h14l-7 12zm1-34h14l-7 12zm3 39h14l-7 12zm9-42h14l-7 12zm1 39h14l-7 12zm1-50h14l-7 12zm1 39h14l-7 12zm2-52h14l-7 12zm0 55h14l-7 12zm3 11h14l-7 12zm0 9h14l-7 12zm4-7h14l-7 12zm2-52h14l-7 12zm3-28h14l-7 12zm1 29h14l-7 12zm2 51h14l-7 12zm1-45h14l-7 12zm1-13h14l-7 12zm1 0h14l-7 12zm2-21h14l-7 12zm2 40h14l-7 12zm0 45h14l-7 12zm1-46h14l-7 12zm1 19h14l-7 12zm2-41h14l-7 12zm5 63h14l-7 12zm2 4h14l-7 12zm2-87h14l-7 12zm7 42h14l-7 12zm3-36h14l-7 12zm0 70h14l-7 12zm1 13h14l-7 12zm2-93h14l-7 12zm1 53h14l-7 12zm1-15h14l-7 12zm1 5h14l-7 12zm3-34h14l-7 12zm8 27h14l-7 12zm1 40h14l-7 12zm3 4h14l-7 12zm3-51h14l-7 12zm1 10h14l-7 12zm0 44h14l-7 12zm6-62h14l-7 12zm1 3h14l-7 12zm4 70h14l-7 12zm0-41h14l-7 12zm7 19h14l-7 12zm4-11h14l-7 12zm8-9h14l-7 12zm5-44h14l-7 12zm8 12h14l-7 12zm6 11h14l-7 12zm1 33h14l-7 12zm7-19h14l-7 12zm1 4h14l-7 12zm0 28h14l-7 12zm4-15h14l-7 12zm2 25h14l-7 12zm1-87h14l-7 12zm3 25h14l-7 12zm0-20h14l-7 12zm0 3h14l-7 12zm1 10h14l-7 12zm4 32h14l-7 12zm17-41h14l-7 12zm1 21h14l-7 12zm4 5h14l-7 12zm1 9h14l-7 12zm2-35h14l-7 12zm1 46h14l-7 12zm1 29h14l-7 12zm0-74h14l-7 12zm0 20h14l-7 12zm3 16h14l-7 12zm18-7h14l-7 12zm2 14h14l-7 12zm3-44h14l-7 12zm1-10h14l-7 12zm12 2h14l-7 12zm3 75h14l-7 12zm2-61h14l-7 12zm1 59h14l-7 12zm6-65h14l-7 12zm2 16h14l-7 12zm1 63h14l-7 12zm2-29h14l-7 12zm1-40h14l-7 12zm10-15h14l-7 12zm1 37h14l-7 12zm2-3h14l-7 12zm3 32h14l-7 12zm1-65h14l-7 12zm10 2h14l-7 12zm8 27h14l-7 12zm1 9h14l-7 12zm15-16h14l-7 12zm2-1h14l-7 12zm13-6h14l-7 12zm6 46h14l-7 12zm5-65h14l-7 12zm10 66h14l-7 12zm2-58h14l-7 12zm1 58h14l-7 12zm31 26h14l-7 12zm5-87h14l-7 12zm12 21h14l-7 12zm28-28h14l-7 12zm19 50h14l-7 12zm25-33h14l-7 12zm17-4h14l-7 12zm58 63h14l-7 12zm3-2h14l-7 12zm6-37h14l-7 12zm96-29h14l-7 12zm-291 100h14l-7 12zm-19 44h14l-7 12zm-33 0h14l-7 12zm-5-34h14l-7 12zm-41 13h14l-7 12zm-9-32h14l-7 12zm-22 33h14l-7 12zm-6-5h14l-7 12zm-13-10h14l-7 12zm-2 58h14l-7 12zm-12-53h14l-7 12zm-6 51h14l-7 12zm-3-28h14l-7 12zm-3-32h14l-7 12zm-1 38h14l-7 12zm-26-2h14l-7 12zm-6-44h14l-7 12zm-2 78h14l-7 12zm-5-24h14l-7 12zm0-50h14l-7 12zm-5-2h14l-7 12zm-9 80h14l-7 12zm-1-69h14l-7 12zm-2 49h14l-7 12zm-4 4h14l-7 12zm-3 13h14l-7 12zm-1-11h14l-7 12zm0 14h14l-7 12zm-2 0h14l-7 12zm-1-13h14l-7 12zm-2-70h14l-7 12zm-1-8h14l-7 12zm-4 95h14l-7 12zm-8-21h14l-7 12zm-4-40h14l-7 12zm-3 39h14l-7 12zm-4 12h14l-7 12zm-3-3h14l-7 12zm0-67h14l-7 12zm-4 74h14l-7 12zm0-18h14l-7 12zm-1-2h14l-7 12zm-4-61h14l-7 12zm-1 12h14l-7 12zm-6 40h14l-7 12zm-5-41h14l-7 12zm-1 1h14l-7 12zm-1 41h14l-7 12zm-1 8h14l-7 12zm0-34h14l-7 12zm-2 43h14l-7 12zm0-20h14l-7 12zm-4 9h14l-7 12zm-3-44h14l-7 12zm-2 27h14l-7 12zm-1 31h14l-7 12zm0-33h14l-7 12zm-7-40h14l-7 12zm-2 73h14l-7 12zm-1-65h14l-7 12zm-1 40h14l-7 12zm-3-16h14l-7 12zm-9 24h14l-7 12zm-2-4h14l-7 12zm-3-22h14l-7 12zm-8-31h14l-7 12zm-3 70h14l-7 12zm0-51h14l-7 12zm0 25h14l-7 12zm0 36h14l-7 12zm-7-74h14l-7 12zm0 62h14l-7 12zm0-30h14l-7 12zm-3-43h14l-7 12zm-13 88h14l-7 12zm-5-20h14l-7 12zm-1 8h14l-7 12zm-10-16h14l-7 12zm-4 19h14l-7 12zm0-50h14l-7 12zm-1 54h14l-7 12zm-7-11h14l-7 12zm-1-9h14l-7 12zm-9 13h14l-7 12zm-5-34h14l-7 12zm-1 14h14l-7 12zm-1-11h14l-7 12zm-1-46h14l-7 12zm-6 81h14l-7 12zm-3 3h14l-7 12zm-10-54h14l-7 12zm-7 22h14l-7 12zm0-21h14l-7 12zm-9 47h14l-7 12zm-6-14h14l-7 12zm0 4h14l-7 12zm-6-38h14l-7 12zm0 30h14l-7 12zm-1-32h14l-7 12zm-12 61h14l-7 12zm0-28h14l-7 12zm-4-20h14l-7 12zm-2 51h14l-7 12zm-3-9h14l-7 12zm-3-22h14l-7 12zm-2-27h14l-7 12zm0 13h14l-7 12zm-1-47h14l-7 12zm-2 41h14l-7 12zm-1-28h14l-7 12zm-4 60h14l-7 12zm-3 5h14l-7 12zm-2 8h14l-7 12zm-5-23h14l-7 12zm-1-47h14l-7 12zm-2 62h14l-7 12zm-4-69h14l-7 12zm-1 52h14l-7 12zm-9 23h14l-7 12zm-2 2h14l-7 12zm-2-46h14l-7 12zm-1-34h14l-7 12zm-1 3h14l-7 12zm-1 5h14l-7 12zm0 54h14l-7 12zm-3 11h14l-7 12zm-7-38h14l-7 12zm-6 49h14l-7 12zm-1-83h14l-7 12zm-20 22h14l-7 12zm-3 49h14l-7 12zm0-48h14l-7 12zm-2 25h14l-7 12zm-3 13h14l-7 12zm-8 9h14l-7 12zm-4-12h14l-7 12zm-3 29h14l-7 12zm0-42h14l-7 12zm-1 34h14l-7 12zm-3-79h14l-7 12zm-4 40h14l-7 12zm-1 41h14l-7 12zm-14 2h14l-7 12zm-6-53h14l-7 12zm-1 25h14l-7 12zm-2 1h14l-7 12zm-3-32h14l-7 12zm-1-16h14l-7 12zm-1 27h14l-7 12zm-3 30h14l-7 12zm0-1h14l-7 12zm-1-20h14l-7 12zm-1 40h14l-7 12zm-1-16h14l-7 12zm-1-43h14l-7 12zm-4 54h14l-7 12zm-5-15h14l-7 12zm-9 14h14l-7 12zm-5-31h14l-7 12zm-2-16h14l-7 12zm0 30h14l-7 12zm-5-20h14l-7 12zm-2-3h14l-7 12zm-4-19h14l-7 12zm-1 51h14l-7 12zm0 9h14l-7 12zm-5-33h14l-7 12zm-10-13h14l-7 12zm-2 29h14l-7 12zm-4-14h14l-7 12zm-4-9h14l-7 12zm0-24h14l-7 12zm-1 3h14l-7 12zm-1 48h14l-7 12zm0-25h14l-7 12zm-2-40h14l-7 12zm-1 0h14l-7 12zm0 42h14l-7 12zm0 28h14l-7 12zm-3 3h14l-7 12zm-1-32h14l-7 12zm-5-19h14l-7 12zm0-14h14l-7 12zm-9 70h14l-7 12zm-3-1h14l-7 12zm-2-24h14l-7 12zm-3-40h14l-7 12zm-1-1h14l-7 12zm-5 50h14l-7 12zm-1 14h14l-7 12zm0-47h14l-7 12zm-6-12h14l-7 12zm-3 40h14l-7 12zm-1-21h14l-7 12zm0-2h14l-7 12zm-4 40h14l-7 12zm0-76h14l-7 12zm-1 44h14l-7 12zm-3-47h14l-7 12zm0 52h14l-7 12zm-1-18h14l-7 12zm-1 23h14l-7 12zm-3 30h14l-7 12zm-1-50h14l-7 12zm0-21h14l-7 12zm0 57h14l-7 12zm-1-13h14l-7 12zm-11-12h14l-7 12zm-1 32h14l-7 12zm-5 9h14l-7 12zm0-32h14l-7 12zm-2 15h14l-7 12zm0-67h14l-7 12zm-1 9h14l-7 12zm-4 67h14l-7 12zm0-71h14l-7 12zm-2 37h14l-7 12zm-3-9h14l-7 12zm-4 50h14l-7 12zm-2-51h14l-7 12zm-2 49h14l-7 12zm0-51h14l-7 12zm-3-1h14l-7 12zm0 28h14l-7 12zm-3-32h14l-7 12zm-1 17h14l-7 12zm-1-11h14l-7 12zm-5 16h14l-7 12zm-3-26h14l-7 12zm0 7h14l-7 12zm-2-18h14l-7 12zm0 33h14l-7 12zm-7-23h14l-7 12zm0 4h14l-7 12zm-1 15h14l-7 12zm-3-29h14l-7 12zm0 8h14l-7 12zm-15-2h14l-7 12zm-51-23h14l-7 12zm96 118h14l-7 12zm21 8h14l-7 12zm12-23h14l-7 12zm3 44h14l-7 12zm0-47h14l-7 12zm1 80h14l-7 12zm5-78h14l-7 12zm7 10h14l-7 12zm5-12h14l-7 12zm9 14h14l-7 12zm1-4h14l-7 12zm11-15h14l-7 12zm8 11h14l-7 12zm0 12h14l-7 12zm5 29h14l-7 12zm4-41h14l-7 12zm25 71h14l-7 12zm2-71h14l-7 12zm2-9h14l-7 12zm0 30h14l-7 12zm14 19h14l-7 12zm1-40h14l-7 12zm4 51h14l-7 12zm0-6h14l-7 12zm2-28h14l-7 12zm2 10h14l-7 12zm1 30h14l-7 12zm1-50h14l-7 12zm3 2h14l-7 12zm2 49h14l-7 12zm1-29h14l-7 12zm4-33h14l-7 12zm6 12h14l-7 12zm2 40h14l-7 12zm1-36h14l-7 12zm0-6h14l-7 12zm7-13h14l-7 12zm0 43h14l-7 12zm1-37h14l-7 12zm1-3h14l-7 12zm2 81h14l-7 12zm2-49h14l-7 12zm0-24h14l-7 12zm1-10h14l-7 12zm3 5h14l-7 12zm1 48h14l-7 12zm2-50h14l-7 12zm0-9h14l-7 12zm4 36h14l-7 12zm1 4h14l-7 12zm1 23h14l-7 12zm0 24h14l-7 12zm4-81h14l-7 12zm5 41h14l-7 12zm2-18h14l-7 12zm3 15h14l-7 12zm2 27h14l-7 12zm2-10h14l-7 12zm0-17h14l-7 12zm1 43h14l-7 12zm8-18h14l-7 12zm4-44h14l-7 12zm8 41h14l-7 12zm1-21h14l-7 12zm2-1h14l-7 12zm2-12h14l-7 12zm1-1h14l-7 12zm0 40h14l-7 12zm1-68h14l-7 12zm1-1h14l-7 12zm1 49h14l-7 12zm0 23h14l-7 12zm2-61h14l-7 12zm2 21h14l-7 12zm13-6h14l-7 12zm5 9h14l-7 12zm3-4h14l-7 12zm4 7h14l-7 12zm2-19h14l-7 12zm1-18h14l-7 12zm2 49h14l-7 12zm3-19h14l-7 12zm0-28h14l-7 12zm1 69h14l-7 12zm2-37h14l-7 12zm1 35h14l-7 12zm2-70h14l-7 12zm0 32h14l-7 12zm0-31h14l-7 12zm0 39h14l-7 12zm2 25h14l-7 12zm1-3h14l-7 12zm1-3h14l-7 12zm7-16h14l-7 12zm2-5h14l-7 12zm0-1h14l-7 12zm2-19h14l-7 12zm0 28h14l-7 12zm12-31h14l-7 12zm1 15h14l-7 12zm3-25h14l-7 12zm1 1h14l-7 12zm3 42h14l-7 12zm1-29h14l-7 12zm3 20h14l-7 12zm2-24h14l-7 12zm1 39h14l-7 12zm0-53h14l-7 12zm3 57h14l-7 12zm1-38h14l-7 12zm2-13h14l-7 12zm0 53h14l-7 12zm4-41h14l-7 12zm2 43h14l-7 12zm4-59h14l-7 12zm4 67h14l-7 12zm5-55h14l-7 12zm2 4h14l-7 12zm2-8h14l-7 12zm3-12h14l-7 12zm11 23h14l-7 12zm1 29h14l-7 12zm0 5h14l-7 12zm2-19h14l-7 12zm3-10h14l-7 12zm2 29h14l-7 12zm2-22h14l-7 12zm0-36h14l-7 12zm4 15h14l-7 12zm0 6h14l-7 12zm2-16h14l-7 12zm1 26h14l-7 12zm7-5h14l-7 12zm5-10h14l-7 12zm3 34h14l-7 12zm8-20h14l-7 12zm4-18h14l-7 12zm2 34h14l-7 12zm2-31h14l-7 12zm1-9h14l-7 12zm12 12h14l-7 12zm7 67h14l-7 12zm2-76h14l-7 12zm0 21h14l-7 12zm9-11h14l-7 12zm14-12h14l-7 12zm1 21h14l-7 12zm6-23h14l-7 12zm6 6h14l-7 12zm21 6h14l-7 12zm5-7h14l-7 12zm30-2h14l-7 12zm7 50h14l-7 12zm25-54h14l-7 12zm-175 94h14l-7 12zm-178 6h14l-7 12zm-80 16h14l-7 12zm-26-11h14l-7 12zm-50 31h14l-7 12zm-25-28h14l-7 12z" fill="#d62728" stroke="#d62728" stroke-width="9.6" stroke-linejoin="round"/>
<path d="M2233 1925h0m-171 174h0m-1116 79h0m44 13h0m7-13h0m3 15h0m728-18h0m-330 88h0m-92 29h0m-1 1h0m-49-5h0m-9-28h0m-6 7h0m-17 26h0m-7-50h0m-1-13h0m-24 20h0m-4 30h0m-12 23h0m-4-58h0m-14-24h0m-20 62h0m-21 14h0m-8-32h0m-18-24h0m-3 10h0m-5 8h0m-7-17h0m-6 48h0m-1-21h0m-3-43h0m-18 29h0m-15 33h0m-16-43h0m-20-19h0m-12 6h0m-2 25h0m79 107h0m58-44h0m1 1h0m41-17h0m4 1h0m55 2h0m15 65h0m21-6h0m17-45h0m5 6h0m13 32h0m20 23h0m3-65h0m1 20h0m10 32h0m12-31h0m12-4h0m9-21h0m53-5h0m4 5h0m87-4h0m29 15h0m129-19h0" stroke="#9467bd" stroke-width="19" stroke-linecap="round" fill="none"/>
<path d="M2080 1312l8 6-3 9h-10l-3-9zm-92 8l8 6-3 9h-10l-3-9zm-640 84l8 6-3 9h-10l-3-9zm422 13l8 6-3 9h-10l-3-9zm53 14l8 6-3 9h-10l-3-9zm516 69l8 6-3 9h-10l-3-9zm-91-4l8 6-3 9h-10l-3-9zm-5-29l8 6-3 9h-10l-3-9zm-44 23l8 6-3 9h-10l-3-9zm-37 35l8 6-3 9h-10l-3-9zm-64-70l8 6-3 9h-10l-3-9zm-11 49l8 6-3 9h-10l-3-9zm-19-34l8 6-3 9h-10l-3-9zm-45 36l8 6-3 9h-10l-3-9zm-37-8l8 6-3 9h-10l-3-9zm-52 1l8 6-3 9h-10l-3-9zm-3-8l8 6-3 9h-10l-3-9zm-102-49l8 6-3 9h-10l-3-9zm-39 6l8 6-3 9h-10l-3-9zm-4 12l8 6-3 9h-10l-3-9zm-42 14l8 6-3 9h-10l-3-9zm-19 1l8 6-3 9h-10l-3-9zm-7-10l8 6-3 9h-10l-3-9zm-14 47l8 6-3 9h-10l-3-9zm-4-9l8 6-3 9h-10l-3-9zm-10-24l8 6-3 9h-10l-3-9zm-81 98l8 6-3 9h-10l-3-9zm18 7l8 6-3 9h-10l-3-9zm19 18l8 6-3 9h-10l-3-9zm1-68l8 6-3 9h-10l-3-9zm63 10l8 6-3 9h-10l-3-9zm25-6l8 6-3 9h-10l-3-9zm192 61l8 6-3 9h-10l-3-9zm49-17l8 6-3 9h-10l-3-9zm33 15l8 6-3 9h-10l-3-9zm40-44l8 6-3 9h-10l-3-9zm7 55l8 6-3 9h-10l-3-9zm2-43l8 6-3 9h-10l-3-9zm30-4l8 6-3 9h-10l-3-9zm30-15l8 6-3 9h-10l-3-9zm9-1l8 6-3 9h-10l-3-9zm2-12l8 6-3 9h-10l-3-9zm11 15l8 6-3 9h-10l-3-9zm68 9l8 6-3 9h-10l-3-9zm104-6l8 6-3 9h-10l-3-9zm14 19l8 6-3 9h-10l-3-9zm-134 145l8 6-3 9h-10l-3-9zm-72-10l8 6-3 9h-10l-3-9zm-45 7l8 6-3 9h-10l-3-9zm-71-17l8 6-3 9h-10l-3-9zm-4-48l8 6-3 9h-10l-3-9zm-1 48l8 6-3 9h-10l-3-9zm-8-17l8 6-3 9h-10l-3-9zm-2 11l8 6-3 9h-10l-3-9zm-8-36l8 6-3 9h-10l-3-9zm-9-25l8 6-3 9h-10l-3-9zm-4 86l8 6-3 9h-10l-3-9zm-2-13l8 6-3 9h-10l-3-9zm-1-52l8 6-3 9h-10l-3-9zm-4 25l8 6-3 9h-10l-3-9zm-3-47l8 6-3 9h-10l-3-9zm-11 28l8 6-3 9h-10l-3-9zm-43 13l8 6-3 9h-10l-3-9zm-9 10l8 6-3 9h-10l-3-9zm-8 10l8 6-3 9h-10l-3-9zm-57-11l8 6-3 9h-10l-3-9zm0-25l8 6-3 9h-10l-3-9zm-16 29l8 6-3 9h-10l-3-9zm-31 4l8 6-3 9h-10l-3-9zm-26-22l8 6-3 9h-10l-3-9zm-23 38l8 6-3 9h-10l-3-9zm-16 1l8 6-3 9h-10l-3-9zm-4-7l8 6-3 9h-10l-3-9zm-17 16l8 6-3 9h-10l-3-9zm-82-84l8 6-3 9h-10l-3-9zm-78 53l8 6-3 9h-10l-3-9zm-134 122l8 6-3 9h-10l-3-9zm61-2l8 6-3 9h-10l-3-9zm5-58l8 6-3 9h-10l-3-9zm11-14l8 6-3 9h-10l-3-9zm13-2l8 6-3 9h-10l-3-9zm14-3l8 6-3 9h-10l-3-9zm1 80l8 6-3 9h-10l-3-9zm97-29l8 6-3 9h-10l-3-9zm2 28l8 6-3 9h-10l-3-9zm12-19l8 6-3 9h-10l-3-9zm63-28l8 6-3 9h-10l-3-9zm37 7l8 6-3 9h-10l-3-9zm6 31l8 6-3 9h-10l-3-9zm1-37l8 6-3 9h-10l-3-9zm12 54l8 6-3 9h-10l-3-9zm4-45l8 6-3 9h-10l-3-9zm13-40l8 6-3 9h-10l-3-9zm9 24l8 6-3 9h-10l-3-9zm7 60l8 6-3 9h-10l-3-9zm1-35l8 6-3 9h-10l-3-9zm10 24l8 6-3 9h-10l-3-9zm8-7l8 6-3 9h-10l-3-9zm9-17l8 6-3 9h-10l-3-9zm20-43l8 6-3 9h-10l-3-9zm4 13l8 6-3 9h-10l-3-9zm9 23l8 6-3 9h-10l-3-9zm23-10l8 6-3 9h-10l-3-9zm4-27l8 6-3 9h-10l-3-9zm1 58l8 6-3 9h-10l-3-9zm6-45l8 6-3 9h-10l-3-9zm1 28l8 6-3 9h-10l-3-9zm7 34l8 6-3 9h-10l-3-9zm36-60l8 6-3 9h-10l-3-9zm6-10l8 6-3 9h-10l-3-9zm0-8l8 6-3 9h-10l-3-9zm11-1l8 6-3 9h-10l-3-9zm27 49l8 6-3 9h-10l-3-9zm2-48l8 6-3 9h-10l-3-9zm21 63l8 6-3 9h-10l-3-9zm21-11l8 6-3 9h-10l-3-9zm14-31l8 6-3 9h-10l-3-9zm6-19l8 6-3 9h-10l-3-9zm17 2l8 6-3 9h-10l-3-9zm20 8l8 6-3 9h-10l-3-9zm15-17l8 6-3 9h-10l-3-9zm0 63l8 6-3 9h-10l-3-9zm7-40l8 6-3 9h-10l-3-9zm44 27l8 6-3 9h-10l-3-9zm74-35l8 6-3 9h-10l-3-9zm0 9l8 6-3 9h-10l-3-9zm-64 131l8 6-3 9h-10l-3-9zm-76 32l8 6-3 9h-10l-3-9zm-67-89l8 6-3 9h-10l-3-9zm-3 13l8 6-3 9h-10l-3-9zm0 66l8 6-3 9h-10l-3-9zm-12 3l8 6-3 9h-10l-3-9zm-31-53l8 6-3 9h-10l-3-9zm-12 12l8 6-3 9h-10l-3-9zm-8-37l8 6-3 9h-10l-3-9zm-1 66l8 6-3 9h-10l-3-9zm-43-37l8 6-3 9h-10l-3-9zm-6-15l8 6-3 9h-10l-3-9zm-52-7l8 6-3 9h-10l-3-9zm-3 13l8 6-3 9h-10l-3-9zm-27 4l8 6-3 9h-10l-3-9zm-18 51l8 6-3 9h-10l-3-9zm-12-63l8 6-3 9h-10l-3-9zm-3 35l8 6-3 9h-10l-3-9zm-20-37l8 6-3 9h-10l-3-9zm-24-12l8 6-3 9h-10l-3-9zm-6 8l8 6-3 9h-10l-3-9zm-8 71l8 6-3 9h-10l-3-9zm-10-57l8 6-3 9h-10l-3-9zm-1 23l8 6-3 9h-10l-3-9zm-14-5l8 6-3 9h-10l-3-9zm-60-1l8 6-3 9h-10l-3-9zm-7 20l8 6-3 9h-10l-3-9zm-39-32l8 6-3 9h-10l-3-9zm-3 56l8 6-3 9h-10l-3-9zm-8-29l8 6-3 9h-10l-3-9zm-9-37l8 6-3 9h-10l-3-9zm-17 47l8 6-3 9h-10l-3-9zm-18-50l8 6-3 9h-10l-3-9zm-6 58l8 6-3 9h-10l-3-9zm-22-75l8 6-3 9h-10l-3-9zm-36 57l8 6-3 9h-10l-3-9zm-75-3l8 6-3 9h-10l-3-9zm-54-1l8 6-3 9h-10l-3-9zm-120 32l8 6-3 9h-10l-3-9zm161 72l8 6-3 9h-10l-3-9zm73 17l8 6-3 9h-10l-3-9zm13-16l8 6-3 9h-10l-3-9zm30-47l8 6-3 9h-10l-3-9zm6 66l8 6-3 9h-10l-3-9zm26-38l8 6-3 9h-10l-3-9zm21 8l8 6-3 9h-10l-3-9zm12-44l8 6-3 9h-10l-3-9zm61 8l8 6-3 9h-10l-3-9zm8-10l8 6-3 9h-10l-3-9zm3 30l8 6-3 9h-10l-3-9zm9 4l8 6-3 9h-10l-3-9zm1 15l8 6-3 9h-10l-3-9zm4-44l8 6-3 9h-10l-3-9zm11 63l8 6-3 9h-10l-3-9zm9-29l8 6-3 9h-10l-3-9zm1-40l8 6-3 9h-10l-3-9zm3 76l8 6-3 9h-10l-3-9zm14-16l8 6-3 9h-10l-3-9zm16-21l8 6-3 9h-10l-3-9zm18 48l8 6-3 9h-10l-3-9zm2-76l8 6-3 9h-10l-3-9zm6-1l8 6-3 9h-10l-3-9zm6 54l8 6-3 9h-10l-3-9zm4 23l8 6-3 9h-10l-3-9zm8-6l8 6-3 9h-10l-3-9zm7-55l8 6-3 9h-10l-3-9zm1 20l8 6-3 9h-10l-3-9zm3-25l8 6-3 9h-10l-3-9zm3-21l8 6-3 9h-10l-3-9zm4 31l8 6-3 9h-10l-3-9zm35-29l8 6-3 9h-10l-3-9zm4 33l8 6-3 9h-10l-3-9zm12-4l8 6-3 9h-10l-3-9zm25-21l8 6-3 9h-10l-3-9zm2-13l8 6-3 9h-10l-3-9zm14 26l8 6-3 9h-10l-3-9zm13 22l8 6-3 9h-10l-3-9zm2-10l8 6-3 9h-10l-3-9zm49-41l8 6-3 9h-10l-3-9zm4 5l8 6-3 9h-10l-3-9zm13 79l8 6-3 9h-10l-3-9zm-17 18l8 6-3 9h-10l-3-9zm-135 25l8 6-3 9h-10l-3-9zm-5-24l8 6-3 9h-10l-3-9zm-11 10l8 6-3 9h-10l-3-9zm-1-6l8 6-3 9h-10l-3-9zm-5 79l8 6-3 9h-10l-3-9zm-11-90l8 6-3 9h-10l-3-9zm-21 27l8 6-3 9h-10l-3-9zm-24 7l8 6-3 9h-10l-3-9zm-7 0l8 6-3 9h-10l-3-9zm-16 9l8 6-3 9h-10l-3-9zm-16-41l8 6-3 9h-10l-3-9zm-6 32l8 6-3 9h-10l-3-9zm-20 49l8 6-3 9h-10l-3-9zm-3-59l8 6-3 9h-10l-3-9zm-6-13l8 6-3 9h-10l-3-9zm-10 48l8 6-3 9h-10l-3-9zm-23-42l8 6-3 9h-10l-3-9zm-19 3l8 6-3 9h-10l-3-9zm-2 43l8 6-3 9h-10l-3-9zm-6 9l8 6-3 9h-10l-3-9zm-12-25l8 6-3 9h-10l-3-9zm-7 47l8 6-3 9h-10l-3-9zm-14-35l8 6-3 9h-10l-3-9zm-4-28l8 6-3 9h-10l-3-9zm-28-6l8 6-3 9h-10l-3-9zm-12-14l8 6-3 9h-10l-3-9zm-4 4l8 6-3 9h-10l-3-9zm-20 40l8 6-3 9h-10l-3-9zm-43-30l8 6-3 9h-10l-3-9zm-4-24l8 6-3 9h-10l-3-9zm-20 42l8 6-3 9h-10l-3-9zm-21 12l8 6-3 9h-10l-3-9zm-29-2l8 6-3 9h-10l-3-9zm-74 23l8 6-3 9h-10l-3-9zm-13 13l8 6-3 9h-10l-3-9zm-368-22l8 6-3 9h-10l-3-9zm-36-64l8 6-3 9h-10l-3-9zm362 97l8 6-3 9h-10l-3-9zm42 18l8 6-3 9h-10l-3-9zm51 13l8 6-3 9h-10l-3-9zm43 28l8 6-3 9h-10l-3-9zm46-4l8 6-3 9h-10l-3-9zm4-5l8 6-3 9h-10l-3-9zm5 29l8 6-3 9h-10l-3-9zm31-32l8 6-3 9h-10l-3-9zm26 34l8 6-3 9h-10l-3-9zm38-37l8 6-3 9h-10l-3-9zm0 11l8 6-3 9h-10l-3-9zm7 23l8 6-3 9h-10l-3-9zm22 10l8 6-3 9h-10l-3-9zm18-70l8 6-3 9h-10l-3-9zm11-13l8 6-3 9h-10l-3-9zm23 34l8 6-3 9h-10l-3-9zm48-31l8 6-3 9h-10l-3-9zm19 15l8 6-3 9h-10l-3-9zm75 96l8 6-3 9h-10l-3-9zm-152 53l8 6-3 9h-10l-3-9zm-120-69l8 6-3 9h-10l-3-9zm-104 19l8 6-3 9h-10l-3-9zm-114 33l8 6-3 9h-10l-3-9zm-7-11l8 6-3 9h-10l-3-9zm-7 1l8 6-3 9h-10l-3-9zm-2-3l8 6-3 9h-10l-3-9zm-7 6l8 6-3 9h-10l-3-9zm-23-34l8 6-3 9h-10l-3-9zm-5 24l8 6-3 9h-10l-3-9zm0-22l8 6-3 9h-10l-3-9zm-18 12l8 6-3 9h-10l-3-9zm-1-10l8 6-3 9h-10l-3-9zm-4 14l8 6-3 9h-10l-3-9zm-3-3l8 6-3 9h-10l-3-9zm-3 3l8 6-3 9h-10l-3-9zm-7 3l8 6-3 9h-10l-3-9zm-3-6l8 6-3 9h-10l-3-9zm-3 2l8 6-3 9h-10l-3-9zm-2-38l8 6-3 9h-10l-3-9zm-9 26l8 6-3 9h-10l-3-9zm-6 2l8 6-3 9h-10l-3-9zm-7 22l8 6-3 9h-10l-3-9zm-43 1l8 6-3 9h-10l-3-9zm-2-23l8 6-3 9h-10l-3-9zm-6 24l8 6-3 9h-10l-3-9zm-8-28l8 6-3 9h-10l-3-9zm-11 12l8 6-3 9h-10l-3-9zm-15-5l8 6-3 9h-10l-3-9zm126 144l8 6-3 9h-10l-3-9zm77-70l8 6-3 9h-10l-3-9zm3 0l8 6-3 9h-10l-3-9zm24 163l8 6-3 9h-10l-3-9z" fill="#2ca02c" stroke="#2ca02c" stroke-width="5.5" stroke-linejoin="round"/>
<path d="M1907 1420h14l-7 12zm48-39h14l-7 12zm133 21h14l-7 12zm53-8h14l-7 12zm230 136h14l-7 12zm-31-32h14l-7 12zm-150 30h14l-7 12zm-21-36h14l-7 12zm-27 30h14l-7 12zm-22 3h14l-7 12zm-61 1h14l-7 12zm-75 0h14l-7 12zm-13-38h14l-7 12zm-7-29h14l-7 12zm-103 47h14l-7 12zm-95-13h14l-7 12zm-8 30h14l-7 12zm67 40h14l-7 12zm5 20h14l-7 12zm12-14h14l-7 12zm6 32h14l-7 12zm73-44h14l-7 12zm5 37h14l-7 12zm27 4h14l-7 12zm22-29h14l-7 12zm1 48h14l-7 12zm3-16h14l-7 12zm29-14h14l-7 12zm14-22h14l-7 12zm5 36h14l-7 12zm10-17h14l-7 12zm40 37h14l-7 12zm39-32h14l-7 12zm0 10h14l-7 12zm5 21h14l-7 12zm13-89h14l-7 12zm30 43h14l-7 12zm13 6h14l-7 12zm4 22h14l-7 12zm8 3h14l-7 12zm25-20h14l-7 12zm31-46h14l-7 12zm23 31h14l-7 12zm54 23h14l-7 12zm12-9h14l-7 12zm27 4h14l-7 12zm51 47h14l-7 12zm-3 33h14l-7 12zm0 25h14l-7 12zm-1-34h14l-7 12zm-111 52h14l-7 12zm-27-40h14l-7 12zm-20-4h14l-7 12zm-34 0h14l-7 12zm-12-21h14l-7 12zm-22 25h14l-7 12zm-22-11h14l-7 12zm-12-1h14l-7 12zm-3-27h14l-7 12zm0 7h14l-7 12zm-42 46h14l-7 12zm-13 16h14l-7 12zm-6-62h14l-7 12zm-8 19h14l-7 12zm-9 49h14l-7 12zm-1 1h14l-7 12zm-12-38h14l-7 12zm-5-35h14l-7 12zm-1 47h14l-7 12zm-4 33h14l-7 12zm-15-10h14l-7 12zm-7 12h14l-7 12zm-3-64h14l-7 12zm-14 10h14l-7 12zm-4-20h14l-7 12zm-1 33h14l-7 12zm-1-1h14l-7 12zm-1-19h14l-7 12zm-16 37h14l-7 12zm-13-29h14l-7 12zm-2 12h14l-7 12zm-23 43h14l-7 12zm-15-31h14l-7 12zm-3-50h14l-7 12zm-7 70h14l-7 12zm-10 5h14l-7 12zm-3-27h14l-7 12zm-50-23h14l-7 12zm-9 9h14l-7 12zm-4 24h14l-7 12zm-172-39h14l-7 12zm-142 119h14l-7 12zm75 29h14l-7 12zm2-30h14l-7 12zm28-31h14l-7 12zm13-11h14l-7 12zm61 23h14l-7 12zm12 28h14l-7 12zm27 18h14l-7 12zm33-64h14l-7 12zm6 75h14l-7 12zm16-77h14l-7 12zm13 31h14l-7 12zm12-11h14l-7 12zm9 18h14l-7 12zm1-5h14l-7 12zm4-30h14l-7 12zm39 34h14l-7 12zm6 13h14l-7 12zm8-54h14l-7 12zm6 54h14l-7 12zm8 20h14l-7 12zm3-75h14l-7 12zm8 74h14l-7 12zm50-41h14l-7 12zm13 30h14l-7 12zm20 21h14l-7 12zm7-17h14l-7 12zm6-74h14l-7 12zm4 30h14l-7 12zm26-11h14l-7 12zm2 74h14l-7 12zm4-20h14l-7 12zm32-1h14l-7 12zm31-45h14l-7 12zm37-11h14l-7 12zm2 59h14l-7 12zm19-73h14l-7 12zm17 81h14l-7 12zm4-24h14l-7 12zm83-16h14l-7 12zm27 36h14l-7 12zm12-53h14l-7 12zm29 59h14l-7 12zm77-55h14l-7 12zm-56 93h14l-7 12zm-51-16h14l-7 12zm-20 62h14l-7 12zm-37-17h14l-7 12zm-2-36h14l-7 12zm-54 4h14l-7 12zm-5-22h14l-7 12zm-12 88h14l-7 12zm-16-45h14l-7 12zm-36-27h14l-7 12zm-10-17h14l-7 12zm-5 23h14l-7 12zm-25 4h14l-7 12zm-1 53h14l-7 12zm-2-54h14l-7 12zm-6 29h14l-7 12zm-14-34h14l-7 12zm-20 57h14l-7 12zm-30-20h14l-7 12zm-5-58h14l-7 12zm-20 42h14l-7 12zm-1 13h14l-7 12zm-16 8h14l-7 12zm0-44h14l-7 12zm-16 1h14l-7 12zm-14 60h14l-7 12zm-6-33h14l-7 12zm-10-31h14l-7 12zm-14 51h14l-7 12zm-7-68h14l-7 12zm-7 20h14l-7 12zm-15 49h14l-7 12zm0-65h14l-7 12zm-11 42h14l-7 12zm-4 39h14l-7 12zm-1 1h14l-7 12zm-21-86h14l-7 12zm-41 51h14l-7 12zm-54 3h14l-7 12zm0 16h14l-7 12zm-32 20h14l-7 12zm-5-56h14l-7 12zm-8-3h14l-7 12zm-1 63h14l-7 12zm-9-86h14l-7 12zm0-5h14l-7 12zm-70 16h14l-7 12zm-119 23h14l-7 12zm-92 100h14l-7 12zm50-5h14l-7 12zm41-25h14l-7 12zm85 77h14l-7 12zm25-27h14l-7 12zm28-51h14l-7 12zm23 15h14l-7 12zm8 9h14l-7 12zm19 42h14l-7 12zm16-5h14l-7 12zm30-38h14l-7 12zm31 16h14l-7 12zm8-31h14l-7 12zm18 49h14l-7 12zm7 9h14l-7 12zm0-12h14l-7 12zm8-52h14l-7 12zm21 58h14l-7 12zm4-20h14l-7 12zm8-31h14l-7 12zm2 33h14l-7 12zm4-41h14l-7 12zm31 15h14l-7 12zm12 20h14l-7 12zm1 25h14l-7 12zm6-69h14l-7 12zm1-6h14l-7 12zm7 78h14l-7 12zm6-76h14l-7 12zm6 91h14l-7 12zm19-60h14l-7 12zm4-18h14l-7 12zm7 36h14l-7 12zm6 0h14l-7 12zm3-11h14l-7 12zm15-34h14l-7 12zm2 1h14l-7 12zm36 0h14l-7 12zm5 32h14l-7 12zm48 23h14l-7 12zm16-5h14l-7 12zm54-47h14l-7 12zm30 38h14l-7 12zm46 4h14l-7 12zm3-29h14l-7 12zm24 13h14l-7 12zm1-8h14l-7 12zm252-22h14l-7 12zm-267 118h14l-7 12zm-90-12h14l-7 12zm-96 28h14l-7 12zm-13 1h14l-7 12zm-81-29h14l-7 12zm-17 11h14l-7 12zm-51 39h14l-7 12zm-94-60h14l-7 12zm-75-6h14l-7 12zm-14 37h14l-7 12zm-3-35h14l-7 12zm-12 78h14l-7 12zm-4-10h14l-7 12zm-1-37h14l-7 12zm-7-4h14l-7 12zm-8-25h14l-7 12zm-26 49h14l-7 12zm-25-43h14l-7 12zm-7 65h14l-7 12zm-3 14h14l-7 12zm-4-23h14l-7 12zm-26-40h14l-7 12zm-76 30h14l-7 12zm-8 37h14l-7 12zm-6-5h14l-7 12zm-85 2h14l-7 12zm-112 70h14l-7 12zm145 7h14l-7 12zm23 17h14l-7 12zm23-68h14l-7 12zm5 69h14l-7 12zm16-38h14l-7 12zm10-22h14l-7 12zm6 34h14l-7 12zm1 6h14l-7 12zm26-9h14l-7 12zm22 15h14l-7 12zm26-70h14l-7 12zm2 1h14l-7 12zm4 66h14l-7 12zm0-62h14l-7 12zm32 65h14l-7 12zm5-58h14l-7 12zm8-15h14l-7 12zm5 36h14l-7 12zm10 1h14l-7 12zm31 2h14l-7 12zm26 46h14l-7 12zm7-16h14l-7 12zm36-73h14l-7 12zm7 44h14l-7 12zm0-16h14l-7 12zm19 15h14l-7 12zm88-28h14l-7 12zm-91 108h14l-7 12zm-47-6h14l-7 12zm-34 41h14l-7 12zm-5-14h14l-7 12zm-4-38h14l-7 12zm-22 73h14l-7 12zm-6-43h14l-7 12zm-2-35h14l-7 12zm-62 87h14l-7 12zm-38 2h14l-7 12zm-5-91h14l-7 12zm-16 66h14l-7 12zm-6-47h14l-7 12zm-42-20h14l-7 12zm-17 41h14l-7 12zm-27-8h14l-7 12zm-4-30h14l-7 12zm-6 57h14l-7 12zm-2 28h14l-7 12zm-1-5h14l-7 12zm-14-73h14l-7 12zm-2 40h14l-7 12zm-5 20h14l-7 12zm-20-30h14l-7 12zm-2 42h14l-7 12zm-5 6h14l-7 12zm-33-43h14l-7 12zm-33 42h14l-7 12zm-3-25h14l-7 12zm-10-14h14l-7 12zm-3 21h14l-7 12zm-37-69h14l-7 12zm-3 84h14l-7 12zm-18-49h14l-7 12zm-14 43h14l-7 12zm-7-74h14l-7 12zm-13 55h14l-7 12zm0-60h14l-7 12zm-1 41h14l-7 12zm-11 30h14l-7 12zm-3-24h14l-7 12zm-20 12h14l-7 12zm-6 9h14l-7 12zm-17 25h14l-7 12zm-22-32h14l-7 12zm-9-18h14l-7 12zm-13 23h14l-7 12zm-2-5h14l-7 12zm-22-12h14l-7 12zm-11 22h14l-7 12zm-16 2h14l-7 12zm-58-69h14l-7 12zm-5 9h14l-7 12zm-7-7h14l-7 12zm124 96h14l-7 12zm3 85h14l-7 12zm17-59h14l-7 12zm5 21h14l-7 12zm15-1h14l-7 12zm23-32h14l-7 12zm1 37h14l-7 12zm1-4h14l-7 12zm33-30h14l-7 12zm13 50h14l-7 12zm18-32h14l-7 12zm22-6h14l-7 12zm38-32h14l-7 12zm3 0h14l-7 12zm30 32h14l-7 12zm18-28h14l-7 12zm11 22h14l-7 12zm45-27h14l-7 12zm4 24h14l-7 12zm68-14h14l-7 12zm67 27h14l-7 12zm1-28h14l-7 12zm-339 91h14l-7 12z" fill="#d62728" stroke="#d62728" stroke-width="9.6" stroke-linejoin="round"/>
<path d="M1830 1418l8 6-3 9h-10l-3-9zm10-21l8 6-3 9h-10l-3-9zm-55 90l8 6-3 9h-10l-3-9zm-7 5l8 6-3 9h-10l-3-9zm-12-35l8 6-3 9h-10l-3-9zm-26 34l8 6-3 9h-10l-3-9zm-186 119l8 6-3 9h-10l-3-9zm95-17l8 6-3 9h-10l-3-9zm341-33l8 6-3 9h-10l-3-9zm61 57l8 6-3 9h-10l-3-9zm86-7l8 6-3 9h-10l-3-9zm-36 51l8 6-3 9h-10l-3-9zm-8 6l8 6-3 9h-10l-3-9zm-16-36l8 6-3 9h-10l-3-9zm-70 32l8 6-3 9h-10l-3-9zm-106 56l8 6-3 9h-10l-3-9zm-107-45l8 6-3 9h-10l-3-9zm-19 18l8 6-3 9h-10l-3-9zm-97-24l8 6-3 9h-10l-3-9zm-260 143l8 6-3 9h-10l-3-9zm21 3l8 6-3 9h-10l-3-9zm61-79l8 6-3 9h-10l-3-9zm171 62l8 6-3 9h-10l-3-9zm6-7l8 6-3 9h-10l-3-9zm97-40l8 6-3 9h-10l-3-9zm0 65l8 6-3 9h-10l-3-9zm26-53l8 6-3 9h-10l-3-9zm152 11l8 6-3 9h-10l-3-9zm6-24l8 6-3 9h-10l-3-9zm8-13l8 6-3 9h-10l-3-9zm41 19l8 6-3 9h-10l-3-9zm39 36l8 6-3 9h-10l-3-9zm23-9l8 6-3 9h-10l-3-9zm-153 116l8 6-3 9h-10l-3-9zm-55 3l8 6-3 9h-10l-3-9zm-2-60l8 6-3 9h-10l-3-9zm-12 63l8 6-3 9h-10l-3-9zm-57-28l8 6-3 9h-10l-3-9zm-4 17l8 6-3 9h-10l-3-9zm-47-28l8 6-3 9h-10l-3-9zm-19-23l8 6-3 9h-10l-3-9zm-4 66l8 6-3 9h-10l-3-9zm-16 3l8 6-3 9h-10l-3-9zm-24-6l8 6-3 9h-10l-3-9zm-1-18l8 6-3 9h-10l-3-9zm-73 11l8 6-3 9h-10l-3-9zm-186-61l8 6-3 9h-10l-3-9zm-82 164l8 6-3 9h-10l-3-9zm68-2l8 6-3 9h-10l-3-9zm130-74l8 6-3 9h-10l-3-9zm76 3l8 6-3 9h-10l-3-9zm69 27l8 6-3 9h-10l-3-9zm12-10l8 6-3 9h-10l-3-9zm19 5l8 6-3 9h-10l-3-9zm23-28l8 6-3 9h-10l-3-9zm20 32l8 6-3 9h-10l-3-9zm74-20l8 6-3 9h-10l-3-9zm170 33l8 6-3 9h-10l-3-9zm219-55l8 6-3 9h-10l-3-9zm-516 182l8 6-3 9h-10l-3-9zm-48-60l8 6-3 9h-10l-3-9zm-194 29l8 6-3 9h-10l-3-9zm-43-21l8 6-3 9h-10l-3-9zm-92-13l8 6-3 9h-10l-3-9zm-136 81l8 6-3 9h-10l-3-9zm17 42l8 6-3 9h-10l-3-9zm402-31l8 6-3 9h-10l-3-9zm-18 116l8 6-3 9h-10l-3-9zm-383 10l8 6-3 9h-10l-3-9zm-27-24l8 6-3 9h-10l-3-9zm-19 42l8 6-3 9h-10l-3-9zm-67-20l8 6-3 9h-10l-3-9zm-10-1l8 6-3 9h-10l-3-9zm315 136l8 6-3 9h-10l-3-9z" fill="#2ca02c" stroke="#2ca02c" stroke-width="5.5" stroke-linejoin="round"/>
</g>
</g>
<g id="panel-B">
<polygon points="959.6,586.3 1096.4,403.8 1091.4,92.0 949.1,245.6" fill="rgb(242,242,242)" fill-opacity="0.50" stroke="rgb(242,242,242)" stroke-opacity="0.50" stroke-width="3.20" stroke-linejoin="round"/>
<polygon points="1096.4,403.8 1526.9,446.7 1535.8,128.0 1091.4,92.0" fill="rgb(230,230,230)" fill-opacity="0.50" stroke="rgb(230,230,230)" stroke-opacity="0.50" stroke-width="3.20" stroke-linejoin="round"/>
<polygon points="959.6,586.3 1434.6,639.2 1526.9,446.7 1096.4,403.8" fill="rgb(236,236,236)" fill-opacity="0.50" stroke="rgb(236,236,236)" stroke-opacity="0.50" stroke-width="3.20" stroke-linejoin="round"/>
<path d="M959.59 586.26L1434.58 639.23" stroke="#000" stroke-width="2.56" fill="none" stroke-linecap="square"/>
<path d="M989.0 589.5L1123.1 406.5L1118.9 94.2M1066.2 598.2L1193.2 413.4L1191.3 100.1M1144.1 606.8L1263.9 420.5L1264.2 106.0M1222.7 615.6L1335.2 427.6L1337.8 112.0M1302.1 624.5L1407.0 434.8L1412.0 118.0M1382.2 633.4L1479.5 442.0L1486.9 124.0" stroke="#b0b0b0" stroke-width="2.56" fill="none"/>
<path d="M990.2 587.9L986.6 592.8M1067.3 596.5L1063.9 601.4M1145.2 605.2L1142.0 610.2M1223.7 613.9L1220.7 619.0M1303.0 622.8L1300.2 627.8M1383.1 631.7L1380.5 636.8" stroke="#000" stroke-width="2.56" fill="none" stroke-linecap="square"/>
<path d="M1526.87 446.70L1434.58 639.23" stroke="#000" stroke-width="2.56" fill="none" stroke-linecap="square"/>
<path d="M959.1 234.8L969.2 573.5L1441.1 625.7M989.6 201.9L998.4 534.4L1460.8 584.4M1018.8 170.4L1026.5 497.1L1479.8 545.0M1046.7 140.2L1053.4 461.2L1497.9 507.1M1073.5 111.3L1079.2 426.8L1515.3 470.9" stroke="#b0b0b0" stroke-width="2.56" fill="none"/>
<path d="M1437.2 625.2L1448.8 626.5M1457.0 584.0L1468.5 585.3M1476.0 544.6L1487.2 545.8M1494.2 506.8L1505.2 507.9M1511.7 470.5L1522.4 471.6" stroke="#000" stroke-width="2.56" fill="none" stroke-linecap="square"/>
<path d="M1526.87 446.70L1535.81 128.01" stroke="#000" stroke-width="2.56" fill="none" stroke-linecap="square"/>
<path d="M1527.4 427.0L1096.1 384.5L958.9 565.3M1528.5 390.1L1095.5 348.3L957.7 525.9M1529.5 352.9L1094.9 311.9L956.5 486.2M1530.6 315.4L1094.3 275.2L955.3 446.1M1531.6 277.6L1093.7 238.3L954.0 405.7M1532.7 239.5L1093.1 201.0L952.8 365.0M1533.8 201.1L1092.5 163.5L951.5 323.9M1534.8 162.5L1091.9 125.7L950.2 282.5" stroke="#b0b0b0" stroke-width="2.56" fill="none"/>
<path d="M1523.9 426.7L1534.5 427.7M1524.9 389.7L1535.6 390.8M1525.9 352.5L1536.6 353.5M1527.0 315.0L1537.7 316.0M1528.0 277.3L1538.8 278.2M1529.1 239.2L1539.9 240.1M1530.1 200.8L1541.0 201.8M1531.2 162.2L1542.1 163.1" stroke="#000" stroke-width="2.56" fill="none" stroke-linecap="square"/>
<text transform="translate(1167.1 727.0) rotate(6.36) scale(1 1.050)" font-size="25.6" font-style="oblique"><tspan x="-74.5" y="6.9">3</tspan><tspan x="-58.0" y="-2.4" font-size="17.9">0</tspan><tspan x="-40.9" y="6.9">−</tspan><tspan x="-14.4" y="6.9">2</tspan><tspan x="2.1" y="-2.4" font-size="17.9">0</tspan><tspan x="19.2" y="6.9">−</tspan><tspan x="45.6" y="6.9">1</tspan><tspan x="62.2" y="-2.4" font-size="17.9">1</tspan></text>
<text transform="translate(975.5 660.7) scale(1 1.050)" font-size="25.6" text-anchor="middle">0.0</text>
<text transform="translate(1053.2 669.6) scale(1 1.050)" font-size="25.6" text-anchor="middle">0.1</text>
<text transform="translate(1131.6 678.6) scale(1 1.050)" font-size="25.6" text-anchor="middle">0.2</text>
<text transform="translate(1210.7 687.7) scale(1 1.050)" font-size="25.6" text-anchor="middle">0.3</text>
<text transform="translate(1290.6 696.8) scale(1 1.050)" font-size="25.6" text-anchor="middle">0.4</text>
<text transform="translate(1371.3 706.1) scale(1 1.050)" font-size="25.6" text-anchor="middle">0.5</text>
<text transform="translate(1578.2 615.1) rotate(-64.39) scale(1 1.050)" font-size="25.6" font-style="oblique"><tspan x="-74.5" y="6.9">3</tspan><tspan x="-58.0" y="-2.4" font-size="17.9">0</tspan><tspan x="-40.9" y="6.9">−</tspan><tspan x="-14.4" y="6.9">2</tspan><tspan x="2.1" y="-2.4" font-size="17.9">0</tspan><tspan x="19.2" y="6.9">−</tspan><tspan x="45.6" y="6.9">1</tspan><tspan x="62.2" y="-2.4" font-size="17.9">2</tspan></text>
<text transform="translate(1487.0 682.6) scale(1 1.050)" font-size="25.6" text-anchor="middle">0.0</text>
<text transform="translate(1505.7 640.6) scale(1 1.050)" font-size="25.6" text-anchor="middle">0.1</text>
<text transform="translate(1523.7 600.3) scale(1 1.050)" font-size="25.6" text-anchor="middle">0.2</text>
<text transform="translate(1540.9 561.8) scale(1 1.050)" font-size="25.6" text-anchor="middle">0.3</text>
<text transform="translate(1557.4 524.8) scale(1 1.050)" font-size="25.6" text-anchor="middle">0.4</text>
<text transform="translate(1640.6 265.5) rotate(-88.39) scale(1 1.050)" font-size="25.6"><tspan x="-74.5" y="6.9">3</tspan><tspan x="-58.0" y="-2.4" font-size="17.9">0</tspan><tspan x="-40.9" y="6.9">−</tspan><tspan x="-14.4" y="6.9">2</tspan><tspan x="2.1" y="-2.4" font-size="17.9">1</tspan><tspan x="19.2" y="6.9">−</tspan><tspan x="45.6" y="6.9">1</tspan><tspan x="62.2" y="-2.4" font-size="17.9">0</tspan></text>
<text transform="translate(1577.5 434.5) scale(1 1.050)" font-size="25.6" text-anchor="middle">0.00</text>
<text transform="translate(1578.7 397.8) scale(1 1.050)" font-size="25.6" text-anchor="middle">0.05</text>
<text transform="translate(1579.9 360.8) scale(1 1.050)" font-size="25.6" text-anchor="middle">0.10</text>
<text transform="translate(1581.2 323.5) scale(1 1.050)" font-size="25.6" text-anchor="middle">0.15</text>
<text transform="translate(1582.4 286.0) scale(1 1.050)" font-size="25.6" text-anchor="middle">0.20</text>
<text transform="translate(1583.7 248.1) scale(1 1.050)" font-size="25.6" text-anchor="middle">0.25</text>
<text transform="translate(1584.9 210.0) scale(1 1.050)" font-size="25.6" text-anchor="middle">0.30</text>
<text transform="translate(1586.2 171.6) scale(1 1.050)" font-size="25.6" text-anchor="middle">0.35</text>
<path d="M1022.7 557.9L1028.8 558.2L1035.0 558.4L1041.1 558.6L1047.2 558.7L1053.4 558.7L1059.5 558.8L1065.6 558.8L1071.7 558.7L1077.9 558.6L1084.0 558.5L1090.1 558.3L1096.2 558.1L1102.3 557.9L1108.4 557.7L1114.5 557.5L1120.6 557.2L1126.7 556.9L1132.8 556.6L1139.0 556.3L1145.1 556.0L1151.2 555.7L1157.3 555.3L1163.4 555.0L1169.6 554.7L1175.7 554.4L1181.8 554.1L1188.0 553.8L1194.1 553.4L1200.2 553.1L1206.3 552.7L1212.5 552.3L1218.6 551.8L1224.7 551.3L1230.8 550.7L1236.9 550.0L1242.9 549.3L1249.0 548.5L1255.0 547.6L1261.0 546.6L1267.0 545.5L1272.9 544.2L1278.9 542.9L1284.8 541.4L1290.7 539.8L1296.5 538.0L1302.3 536.1L1308.1 534.0L1313.9 531.8L1319.5 529.4L1325.1 526.7L1330.6 523.9L1336.0 520.8L1341.2 517.5L1346.2 514.0L1351.0 510.1L1355.7 506.0L1360.0 501.6L1364.1 496.9L1367.8 491.9L1370.9 486.6L1373.1 481.2L1374.1 475.6L1373.9 470.0L1372.4 464.3L1370.0 458.8L1366.8 453.4L1363.0 448.2L1358.7 443.4L1354.2 438.9L1349.4 434.8L1344.5 431.0L1339.3 427.5L1334.1 424.3L1328.7 421.2L1323.2 418.4L1317.7 415.7L1312.1 413.3L1306.5 411.0L1300.7 408.9L1295.0 407.0L1289.1 405.3L1283.3 403.8L1277.3 402.4L1271.4 401.2L1265.4 400.2L1259.4 399.4L1253.3 398.8L1247.3 398.3L1241.2 398.0L1235.1 397.8L1229.0 397.9L1222.9 398.1L1216.8 398.4L1210.7 398.9L1204.6 399.6L1198.5 400.5L1192.5 401.5L1186.4 402.6L1180.4 403.9L1174.5 405.4L1168.5 407.0L1162.6 408.7L1156.8 410.6L1151.0 412.6L1145.2 414.8L1139.5 417.2L1133.9 419.6L1128.3 422.2L1122.9 425.0L1117.4 427.8L1112.1 430.8L1106.8 434.0L1101.6 437.2L1096.5 440.6L1091.5 444.1L1086.6 447.7L1081.7 451.4L1077.0 455.3L1072.3 459.2L1067.7 463.2L1063.2 467.4L1058.7 471.6L1054.4 476.0L1050.2 480.4L1046.0 484.9L1042.0 489.5L1038.0 494.2L1034.1 498.9L1030.4 503.8L1026.7 508.7L1023.1 513.7L1019.6 518.7L1016.3 523.8L1013.0 529.0L1009.8 534.2L1006.8 539.5L1003.8 544.8L1001.0 550.2L998.2 555.6" fill="none" stroke="#000" stroke-width="4.9" stroke-linejoin="round" stroke-linecap="round"/>
<circle cx="1022.7" cy="558.1" r="12.4" fill="#000"/>
<g transform="scale(0.25)">
<path d="M5462 1537v14l-12-7zm3 2v14l-12-7zm219 161v14l-12-7zm-119-4v14l-12-7zm-63 13v14l-12-7zm-16-64v14l-12-7zm-41-8v14l-12-7zm-27 28v14l-12-7zm-37-22v14l-12-7zm200 131v14l-12-7zm22-27v14l-12-7zm13-24v14l-12-7zm47 135v14l-12-7zm-28-40v14l-12-7zm-26 40v14l-12-7zm-18 103v14l-12-7zm8 42v14l-12-7zm-53 72v14l-12-7zm-89-6v14l-12-7zm-76-15v14l-12-7zm-213 136v14l-12-7zm110 1v14l-12-7zm12-30v14l-12-7zm2 15v14l-12-7zm47-26v14l-12-7zm9 39v14l-12-7zm11-65v14l-12-7zm22-16v14l-12-7zm4 25v14l-12-7zm4-7v14l-12-7zm57 39v14l-12-7zm41-42v14l-12-7zm88-1v14l-12-7zm-270 114v14l-12-7zm-66 19v14l-12-7zm-60-40v14l-12-7zm-34 40v14l-12-7zm-10 27v14l-12-7zm-46 5v14l-12-7zm-6-57v14l-12-7z" fill="#17becf" stroke="#17becf" stroke-width="8.5" stroke-linejoin="round"/>
<path d="M5541 1532h0m-14-7h0m-14-38h0m-12 13h0m-3 11h0m-14 21h0m-18-39h0m-91 138h0m13-8h0m1-7h0m0 13h0m5-22h0m0 22h0m5-10h0m0-1h0m1 2h0m1-15h0m3 8h0m1-6h0m1 11h0m0 11h0m2-10h0m2 10h0m2-27h0m0-17h0m1 27h0m0-7h0m2 13h0m1-34h0m0 41h0m1-5h0m0-3h0m0-26h0m1 0h0m0 21h0m0 10h0m0-44h0m0-13h0m0 18h0m1 24h0m0-41h0m0 61h0m1-22h0m1 13h0m0 0h0m0-37h0m1 34h0m1-8h0m3 14h0m0-10h0m0-40h0m1 21h0m1 5h0m0 34h0m0-32h0m1 30h0m0-3h0m5-17h0m1-65h0m1 32h0m0 8h0m1-8h0m0 5h0m1 43h0m1 7h0m0-44h0m1-3h0m0 20h0m0-30h0m1 36h0m1-18h0m0 39h0m0-23h0m1-48h0m0 69h0m2-46h0m1 0h0m0-36h0m2 45h0m0-26h0m0-9h0m1 38h0m0 33h0m2-29h0m1-7h0m1-23h0m2 15h0m0 28h0m0-59h0m2 18h0m1-22h0m1 38h0m0-3h0m1 15h0m0-10h0m2 10h0m0 11h0m1-33h0m0-20h0m1 36h0m2 24h0m1 11h0m0-1h0m1-14h0m0 5h0m1-31h0m0 36h0m1-18h0m0 24h0m2-2h0m2-87h0m1 76h0m1-57h0m2 39h0m1 21h0m2-12h0m0-12h0m1 5h0m3 23h0m0-43h0m2 45h0m0-25h0m1 6h0m1-51h0m0 67h0m0-2h0m1-27h0m2 15h0m0-32h0m2 4h0m0 33h0m0-1h0m1-28h0m0 44h0m1 3h0m4-13h0m5-9h0m1 18h0m0-24h0m2 7h0m1-10h0m5-1h0m2 22h0m2-14h0m0 17h0m1-14h0m1-14h0m6 25h0m3 4h0m1-6h0m1-48h0m4 52h0m1-18h0m2 3h0m1 10h0m3-34h0m5 22h0m18 2h0m9 15h0m7-68h0m9 36h0m27 40h0m43-8h0m70-52h0m3 83h0m-5 37h0m-49 26h0m-7 4h0m-2-35h0m-11-18h0m-13 41h0m-5 2h0m0-34h0m-20-18h0m0 4h0m-1 60h0m-1-10h0m-4 9h0m0-57h0m-4 54h0m-6-42h0m0 26h0m-3 21h0m-1 1h0m-2-59h0m-1 4h0m-1 52h0m-2-37h0m0 11h0m-3-13h0m-2 29h0m0-53h0m-1 23h0m0 24h0m0-16h0m-1 34h0m-1-40h0m-3-2h0m0 16h0m0-56h0m-1 42h0m-3 39h0m-1-52h0m-1-12h0m-2 68h0m-1-6h0m0-9h0m0-6h0m-1-6h0m0-6h0m-3 9h0m0 9h0m0-47h0m0 2h0m-1 20h0m0-18h0m0 52h0m0 5h0m0-6h0m-1-49h0m0 6h0m0 30h0m-1-68h0m-1 87h0m-1-7h0m0 2h0m-1 4h0m0-32h0m-1 22h0m-1 6h0m-1 3h0m-2-6h0m0-33h0m-1-36h0m-1 64h0m0 12h0m0-27h0m-2-10h0m-1-38h0m0 45h0m-1-14h0m-1 18h0m-1 14h0m0-66h0m0 77h0m-2-17h0m0 3h0m-1 9h0m0-63h0m0 44h0m-1-4h0m-2 28h0m0-39h0m0 18h0m0 14h0m-2-15h0m-1-12h0m0 3h0m0-18h0m-1 30h0m-1 3h0m0 8h0m0-1h0m-1-23h0m0-7h0m-1 18h0m-2 21h0m0-57h0m-1 39h0m-1-11h0m0 13h0m-1 5h0m0-72h0m0 40h0m0-25h0m0-13h0m0 6h0m-1 51h0m-3 21h0m0-37h0m-1-12h0m-1 0h0m0 50h0m0-25h0m0 4h0m0-19h0m-1 38h0m0-17h0m-2-12h0m-1-6h0m0 23h0m0-49h0m-1 38h0m0-24h0m0 18h0m-1 4h0m0-27h0m-1 30h0m-1-46h0m0-3h0m-1 48h0m0-7h0m-1-27h0m0 13h0m0 22h0m-1-60h0m0 83h0m0-53h0m0 52h0m-1-60h0m0 63h0m-1-12h0m0-8h0m0-22h0m0 9h0m-1-15h0m0 11h0m-1-36h0m0 13h0m0 25h0m0 22h0m-1-74h0m-1 21h0m0-1h0m-1 34h0m0 10h0m0 1h0m0-59h0m-1 74h0m0-48h0m0 43h0m0-40h0m0-12h0m-1 5h0m-1 38h0m0-9h0m0-21h0m0 29h0m-2-53h0m-2 62h0m0-57h0m0-16h0m-1 88h0m0-64h0m-1 5h0m0 7h0m-1 51h0m-1-66h0m0 32h0m-1-42h0m0 43h0m0-35h0m0 6h0m-1 36h0m0-61h0m-3 11h0m0 10h0m0-10h0m0-14h0m0 32h0m0-21h0m-1 60h0m0-56h0m0 48h0m-1 2h0m0-20h0m-1 15h0m0-42h0m-1 71h0m0-39h0m-1-29h0m0 59h0m-1-74h0m0 80h0m0-44h0m0 10h0m-1-8h0m0 15h0m-1 12h0m0-39h0m-1 33h0m-1-20h0m0-33h0m-1 75h0m0-74h0m0 14h0m0 1h0m-1 60h0m0-31h0m-1-51h0m-1 7h0m-1 24h0m0 23h0m0-39h0m-1 6h0m0 44h0m-1-53h0m0 40h0m-1 28h0m0-33h0m-1-20h0m0-30h0m0 57h0m-1-37h0m-1-24h0m0 6h0m0 27h0m-1 11h0m0 37h0m0-21h0m0-28h0m-1-24h0m-1 9h0m0 56h0m-1-64h0m0 4h0m0-3h0m-1 34h0m0-13h0m-1 15h0m-1-18h0m-2-25h0m-1-4h0m0 65h0m0-29h0m0-34h0m0 5h0m-1 88h0m0-31h0m-1-20h0m0 4h0m0-18h0m-2 28h0m0-30h0m-1-3h0m0 3h0m-1 13h0m-2-7h0m0 24h0m0 9h0m-1-34h0m0-4h0m-1 12h0m-1-3h0m0 8h0m0-14h0m-1 15h0m-1-28h0m0 0h0m0 25h0m0-42h0m-2 34h0m0 9h0m-1-6h0m0 20h0m0-15h0m-1-39h0m-1 10h0m-2 18h0m-1-15h0m-1-10h0m-1-7h0m0 7h0m-1 70h0m0-74h0m0 10h0m0-4h0m-1 6h0m0 64h0m-2-48h0m-1-16h0m-1 36h0m0-39h0m-1 45h0m0-16h0m-1 20h0m-1-61h0m-1 9h0m-1 47h0m0-5h0m-1-13h0m0-26h0m-1 35h0m-1 12h0m0-55h0m-3 17h0m0 14h0m-1 50h0m0-68h0m-1-17h0m-2 5h0m-2 21h0m0 49h0m0-76h0m0 44h0m-1-38h0m-3 4h0m-1 4h0m-3 10h0m-1-21h0m0 15h0m-1-5h0m0 75h0m-6-80h0m-4 33h0m-2-28h0m-2-9h0m-4 45h0m-4-31h0m-4 18h0m-1 18h0m-1-45h0m-2 73h0m-2-25h0m-10-22h0m33 117h0m52 25h0m14-79h0m0 39h0m3 19h0m3-46h0m3-13h0m1 13h0m1-11h0m1 38h0m1 37h0m2-47h0m3 22h0m1-51h0m2 49h0m2-51h0m4 52h0m0-5h0m0-27h0m1 14h0m1-28h0m0 24h0m0-6h0m1-10h0m1 22h0m2 55h0m0-90h0m0 11h0m1 3h0m1 3h0m0 2h0m0 8h0m1 34h0m4 22h0m2-9h0m1-62h0m0 61h0m2-21h0m0-36h0m0-17h0m1 61h0m0-10h0m1 41h0m1-52h0m0 35h0m0-74h0m3 9h0m0 40h0m0-44h0m0 24h0m0-5h0m0-22h0m1 65h0m0-16h0m1-48h0m1 1h0m0 52h0m0-6h0m2-19h0m1-9h0m0 16h0m2-36h0m1 13h0m0 77h0m2-79h0m0-11h0m0 25h0m0-25h0m1 23h0m0-2h0m1 43h0m0-21h0m0-41h0m0 9h0m1 30h0m0 39h0m1-22h0m0-7h0m1-1h0m0 33h0m1 5h0m0-10h0m1-53h0m0-19h0m0 33h0m0 45h0m1-36h0m0 8h0m0-39h0m1 6h0m0-24h0m0 39h0m0 4h0m1-44h0m0 30h0m1 9h0m0-14h0m0 6h0m1-16h0m1-15h0m0 40h0m1-19h0m0 31h0m0-17h0m1 18h0m0 3h0m0-43h0m2 79h0m0 0h0m0-36h0m1 5h0m0-56h0m1 36h0m0 13h0m1-52h0m1 42h0m0 3h0m3 27h0m0-68h0m1 61h0m0-39h0m1 9h0m0 47h0m0-42h0m0-9h0m1-30h0m0 12h0m0 59h0m0 17h0m0-66h0m2 1h0m0 43h0m0-61h0m0 22h0m1 51h0m0-70h0m0 39h0m1-16h0m0 43h0m0 5h0m1-2h0m0-48h0m0-12h0m1 4h0m0 61h0m0-65h0m2-1h0m0 61h0m0-58h0m1 26h0m1-12h0m0 37h0m1-37h0m1 31h0m0 0h0m0 19h0m0-12h0m1 7h0m0-31h0m0-6h0m1-10h0m0-7h0m0 0h0m0 30h0m1-47h0m0 30h0m0 31h0m0 9h0m1-14h0m0 1h0m1-54h0m0 64h0m0 8h0m0-69h0m1 5h0m0 40h0m2 2h0m0-24h0m0-4h0m0 45h0m1-75h0m0 52h0m1-43h0m0 34h0m0 0h0m0-14h0m0 20h0m0-5h0m0 10h0m1-9h0m1 26h0m0-3h0m0-20h0m1-32h0m0 50h0m0 11h0m1-5h0m0-42h0m0 16h0m0 23h0m1 18h0m1-61h0m0 55h0m0-30h0m0-6h0m0 29h0m1 6h0m0-19h0m0 28h0m1-84h0m1 58h0m0-62h0m0 24h0m0 53h0m1 6h0m0-25h0m0-5h0m1 15h0m1-27h0m1 6h0m1 19h0m0-32h0m0-31h0m0 85h0m1-54h0m0-3h0m0 13h0m0-20h0m1-10h0m0 26h0m0-5h0m1-7h0m0 14h0m0-18h0m0 29h0m1-53h0m0-1h0m0 86h0m1-53h0m0 38h0m0-12h0m0-30h0m1 3h0m3 48h0m0-81h0m0 69h0m0-49h0m0-10h0m2 59h0m0-39h0m0-21h0m0 81h0m1-82h0m0 23h0m0 33h0m1-12h0m0 37h0m0-48h0m0 17h0m1-50h0m2 46h0m0 24h0m1 4h0m3-50h0m0 1h0m1-18h0m0-18h0m1 57h0m2-7h0m0 11h0m1-21h0m0 28h0m1-9h0m1-16h0m1-18h0m1 46h0m1 5h0m0-2h0m1-62h0m2 79h0m0-74h0m0 53h0m1 13h0m0-56h0m1 41h0m0-12h0m3-9h0m0 35h0m1-21h0m0 16h0m0-3h0m2 7h0m0 9h0m1-36h0m0 34h0m1-55h0m1 55h0m0-83h0m0 59h0m3 6h0m1 23h0m1-13h0m0-71h0m3 26h0m1 46h0m2-2h0m2 10h0m0-36h0m3 6h0m0-26h0m2 41h0m3-32h0m2 20h0m7 12h0m2-50h0m0 11h0m23 0h0m1-29h0m1 57h0m18 14h0m15 2h0m0-54h0m17-24h0m20 78h0m1 1h0m22-14h0m-69 40h0m-23 82h0m-1-50h0m-5-23h0m-1 64h0m-2-8h0m-7-45h0m0 24h0m-5-29h0m-4 6h0m-1-21h0m-2 42h0m0-25h0m-2 47h0m-1-37h0m0-18h0m0 42h0m-1 14h0m-1-8h0m-2-61h0m0 19h0m-1-19h0m0 6h0m0 65h0m-1-57h0m0 34h0m-1-7h0m0 7h0m-3 0h0m0-55h0m0 68h0m-2-47h0m0 61h0m0-81h0m0 74h0m0-71h0m-1 24h0m-1-7h0m0 42h0m-2-30h0m0-11h0m-2 52h0m0-9h0m-2-24h0m-1 34h0m-3-32h0m0 19h0m0-45h0m-1 25h0m-1 7h0m-1-38h0m0 45h0m-1-57h0m-1 89h0m0-57h0m0-8h0m-2-5h0m-1-17h0m0 13h0m-1 30h0m0-13h0m0 19h0m0 0h0m-1-50h0m-1 75h0m-1-38h0m-1 18h0m-1-6h0m0 39h0m-1-38h0m0-42h0m-1 86h0m-1-85h0m0 18h0m0 66h0m-1-41h0m0-7h0m0-30h0m-1 59h0m0-54h0m0 17h0m-1 38h0m0-24h0m0 37h0m0-2h0m-1 8h0m0 0h0m-1-66h0m0 29h0m0-20h0m0 2h0m0 23h0m0-11h0m-1-29h0m0-5h0m-1 75h0m0-85h0m0 86h0m0-1h0m-1-34h0m0-23h0m0-19h0m0 46h0m0-56h0m0 0h0m-1 29h0m0 6h0m-1 51h0m0-64h0m0-22h0m0 62h0m-1 18h0m-1 5h0m-2-59h0m-1 38h0m0-46h0m0-5h0m0 57h0m0-51h0m0 21h0m0-16h0m-1 28h0m0-45h0m0 61h0m-1-28h0m0 33h0m0-32h0m0-21h0m0-1h0m-1 28h0m0 22h0m0 5h0m0-34h0m0 17h0m0-50h0m-1 66h0m0-64h0m0 42h0m0-11h0m-1-21h0m0 51h0m0-8h0m-1 12h0m-1-45h0m0-10h0m-1 48h0m0-31h0m0-21h0m0 54h0m-1-45h0m0 62h0m0-3h0m-1-30h0m0 14h0m-1-53h0m0 39h0m-1 0h0m-1-36h0m0-1h0m-1 47h0m0-37h0m-1 27h0m0-17h0m0-15h0m0-28h0m-1 71h0m0-23h0m0-37h0m-1 8h0m-1 36h0m-1 14h0m0-44h0m0 69h0m0-50h0m-1 36h0m-1-20h0m0 30h0m0-11h0m0-14h0m0-35h0m0 49h0m-1-14h0m-1-49h0m0 19h0m0 10h0m-1 39h0m0 7h0m0-85h0m-1 80h0m0-77h0m-1 16h0m0 64h0m-1-60h0m0 11h0m-1 0h0m0 4h0m0 47h0m0-22h0m-1 14h0m0-18h0m0 24h0m-1-34h0m0 26h0m-1-50h0m0-14h0m0 76h0m0-51h0m0-40h0m-1 49h0m0 32h0m0-71h0m-1 45h0m-1 13h0m0 1h0m0-35h0m0-5h0m0 16h0m-1-9h0m0 4h0m0-42h0m0 69h0m-1 10h0m0-14h0m-1 6h0m0-28h0m-2-13h0m0 31h0m-1 23h0m-1-69h0m0 65h0m-3-25h0m0-35h0m-1 33h0m-1-1h0m0 41h0m0 1h0m0-6h0m0-19h0m-2-42h0m0-5h0m-1 9h0m-2 14h0m0 16h0m0-58h0m-1 89h0m0-49h0m0-22h0m-1 62h0m-3-71h0m-2-5h0m-1 88h0m0-48h0m-1-21h0m-2-16h0m-1 17h0m-1-8h0m-1 5h0m0 57h0m-2-77h0m-4 84h0m-1 6h0m0-82h0m0-6h0m0 50h0m-3-52h0m-6 34h0m-4-15h0m0 41h0m-1-46h0m-3 16h0m-4 50h0m-5-44h0m-4-4h0m-1-1h0m-1 14h0m-4-16h0m-18 28h0m-8-43h0m-2 0h0m-4 72h0m-65-89h0m-30 41h0m-2-37h0m-4 150h0m25 18h0m19-2h0m18 9h0m39 0h0m1-4h0m2 4h0m5-18h0m0 27h0m3-32h0m1 28h0m1-37h0m3 28h0m2 2h0m1-51h0m3 59h0m6-51h0m5 34h0m0 21h0m1-14h0m1-21h0m2 12h0m0 22h0m1-46h0m1 0h0m0-19h0m1 33h0m1 28h0m3 6h0m0-14h0m2-2h0m1-68h0m2 66h0m0-21h0m0 32h0m0-2h0m1-26h0m0-41h0m4 43h0m0 14h0m1-40h0m1 36h0m2 2h0m1-39h0m1 31h0m0-6h0m0 4h0m2-37h0m1 61h0m0-32h0m1 33h0m1-56h0m0 26h0m2-2h0m0-9h0m0-29h0m1 68h0m0-59h0m1 38h0m1-15h0m0-13h0m1 0h0m0 43h0m1-21h0m0-19h0m1 33h0m1-67h0m0 38h0m0 48h0m0-42h0m0 17h0m0-14h0m1 35h0m2-18h0m0-31h0m0 55h0m1-63h0m1 55h0m0-59h0m1 48h0m0-39h0m0 5h0m1 30h0m1 8h0m0-54h0m0 53h0m0-15h0m2-11h0m0 35h0m1-41h0m2-38h0m0 67h0m0-6h0m1-12h0m0 27h0m0-48h0m0-13h0m1-24h0m0 61h0m2 13h0m0-19h0m1 20h0m0-7h0m1 18h0m0-15h0m1-34h0m0 19h0m1 29h0m0-22h0m0-12h0m0 34h0m1-66h0m1 44h0m0 19h0m0-11h0m0-44h0m1 42h0m0 15h0m0 9h0m0-43h0m0 14h0m0-28h0m1 18h0m0-4h0m1 11h0m0-12h0m0 10h0m0 29h0m0-24h0m1-18h0m1 45h0m0-2h0m0-5h0m0 10h0m2-82h0m0 70h0m0-68h0m1 72h0m1 7h0m0-65h0m0-15h0m0 35h0m1 33h0m0-13h0m0 16h0m0-38h0m1-28h0m0 50h0m0-64h0m0 73h0m0 6h0m0-25h0m2-40h0m0 26h0m0 15h0m0-59h0m0 84h0m1-34h0m0-12h0m0-18h0m0 73h0m0-27h0m0-25h0m1-33h0m0-5h0m0 67h0m0-41h0m1 47h0m0-56h0m1 65h0m0-29h0m0-53h0m0 17h0m1 32h0m0 19h0m0-26h0m1 27h0m0-6h0m0-50h0m1 58h0m0 8h0m1-5h0m0-8h0m0-27h0m1-38h0m1 19h0m1 53h0m0-40h0m0 32h0m0-67h0m1-1h0m0 53h0m0 37h0m1 5h0m1-57h0m0 48h0m0-14h0m1-60h0m1-3h0m1 63h0m0-39h0m0 34h0m0 0h0m0-60h0m1 16h0m0 39h0m1-57h0m0 62h0m0-50h0m0 50h0m1-44h0m1 51h0m0-50h0m0 3h0m1 49h0m0-45h0m0 38h0m1-18h0m0 18h0m1-40h0m0 46h0m0-55h0m1 72h0m1-21h0m0-52h0m0 40h0m1 25h0m0-14h0m0-10h0m0-42h0m0 13h0m0 29h0m1-6h0m0-11h0m0 1h0m0-19h0m0 63h0m1-73h0m0 73h0m0 0h0m0-8h0m1 4h0m1-76h0m1 52h0m0 12h0m0 2h0m1-31h0m0-34h0m1 30h0m1-35h0m0 41h0m0 45h0m0-28h0m1-47h0m0 35h0m0-10h0m0 17h0m0-36h0m0 6h0m1 41h0m0-17h0m0 6h0m1-48h0m0 72h0m0-79h0m0 68h0m0 0h0m0 14h0m0-55h0m1-13h0m1 36h0m0-17h0m1-19h0m1 35h0m0-34h0m1 55h0m0-14h0m0-37h0m0 39h0m1-42h0m0-7h0m0 1h0m1 23h0m0 13h0m0-12h0m0-8h0m0-16h0m1 37h0m2 10h0m1-11h0m0-29h0m1 26h0m1-40h0m1 90h0m0-82h0m1 50h0m0 20h0m0-76h0m0 66h0m1-43h0m1 20h0m0-31h0m0-7h0m0-11h0m1 12h0m1 44h0m0-19h0m0-31h0m1 70h0m3 15h0m2-58h0m0-22h0m0 17h0m1 59h0m0-69h0m0 22h0m1-39h0m0 46h0m3 32h0m1-38h0m0-27h0m3 36h0m7-26h0m0 8h0m2 4h0m1 42h0m3-62h0m1-16h0m2 76h0m0-41h0m3 12h0m2 23h0m0-14h0m2-24h0m0 18h0m4 7h0m10 2h0m10-53h0m9 77h0m42-11h0m-34 40h0m-9 52h0m-1 15h0m0 0h0m-32-68h0m-15 79h0m-8-82h0m-6 3h0m-11 59h0m-9-38h0m-1-27h0m-1-4h0m-2-2h0m-2 47h0m0-40h0m-1 15h0m-1-18h0m-6 27h0m-1-12h0m0 10h0m-2-5h0m0 55h0m-1-44h0m-1 27h0m-1-53h0m0 33h0m-1-33h0m0-6h0m-8-5h0m0 23h0m-2-6h0m-3 22h0m0-20h0m-1 22h0m-1 9h0m-1-38h0m0 16h0m0 23h0m-1 16h0m-1-30h0m0-36h0m-2 23h0m-4 14h0m0-14h0m0 37h0m-1 23h0m0-29h0m-1-2h0m0-15h0m-1-26h0m-1 39h0m-2-17h0m0-11h0m-1 4h0m0-4h0m0 10h0m-1-22h0m-1 2h0m-1 18h0m-2-31h0m0 32h0m-1-26h0m-1 12h0m-1 5h0m-1-10h0m0 70h0m0-10h0m0-13h0m0-12h0m-1-34h0m0 15h0m-1-19h0m0 11h0m-2 29h0m0-46h0m0 75h0m0-20h0m-1-61h0m0 50h0m0-14h0m0 36h0m-1-42h0m0-17h0m-1-13h0m0 50h0m0-10h0m-1 21h0m0-4h0m0-30h0m0 7h0m-1 3h0m-2 24h0m0-40h0m0-15h0m0 40h0m-1 4h0m0-24h0m0-16h0m0 32h0m-1-36h0m0-6h0m0 38h0m0-22h0m0 38h0m0-44h0m-1 28h0m0 55h0m0-46h0m-1-10h0m0 29h0m0-50h0m-1 46h0m0-60h0m-1 35h0m0 0h0m0 43h0m-1-41h0m0-25h0m0 7h0m-1 23h0m0 20h0m0 21h0m0-83h0m0 18h0m0 28h0m0 36h0m0-40h0m-1-13h0m0 46h0m-1-40h0m0-37h0m0 74h0m0-50h0m-1 21h0m0-39h0m-1 35h0m0 3h0m0-5h0m-1 29h0m0-33h0m-1 24h0m-1-23h0m0-11h0m0 63h0m0-35h0m0 6h0m-1-39h0m0-2h0m0 29h0m0 13h0m0-32h0m-1-19h0m0 0h0m-1 23h0m0-29h0m0 46h0m-1 23h0m0-52h0m0-18h0m-1 23h0m0 29h0m0 5h0m0-37h0m-1 15h0m0-17h0m0 1h0m-1 17h0m0-5h0m-1 11h0m-1 9h0m0-36h0m0 53h0m-1 19h0m0-88h0m0 93h0m0-28h0m0-30h0m-1 36h0m0 16h0m0-15h0m-1-63h0m0 13h0m0 40h0m0-57h0m0 55h0m0-51h0m-1 14h0m0-18h0m0 30h0m0 1h0m0-28h0m0 43h0m0-10h0m-1-38h0m0 80h0m0-31h0m-1-3h0m0 27h0m0-38h0m-1 9h0m0-23h0m0 52h0m0-3h0m0-66h0m0 15h0m-1-3h0m0 58h0m0-59h0m0 22h0m-1-31h0m0-2h0m0 40h0m0-15h0m0-5h0m-1 8h0m0-15h0m0 71h0m0-85h0m-1 74h0m-1-75h0m0 42h0m-1 19h0m0-9h0m0 2h0m-1-7h0m0-47h0m-1 49h0m0 19h0m0-24h0m0-19h0m-1-3h0m0-18h0m0 53h0m-1-38h0m0 46h0m0 14h0m0-13h0m-1-63h0m0 21h0m0 22h0m0 36h0m0-42h0m-1-46h0m0 52h0m-1 33h0m0-31h0m-1 1h0m0-37h0m0-1h0m0 58h0m0-16h0m0-15h0m0 21h0m-1 8h0m0-4h0m-1-57h0m0 59h0m0-25h0m0 22h0m-1-27h0m0 34h0m0-19h0m0 14h0m-1-60h0m0 71h0m0 13h0m0-87h0m0 86h0m0-74h0m-1-10h0m0 51h0m0-17h0m-1 49h0m0-50h0m0 8h0m0-25h0m-1-4h0m0 34h0m0-43h0m-1 55h0m0 17h0m0-45h0m0-9h0m-1-16h0m0 41h0m0-15h0m0 23h0m0 8h0m-1 8h0m0-73h0m-1 51h0m0-27h0m0-28h0m0 37h0m0 30h0m-1-34h0m0-18h0m0 12h0m-1 14h0m0 42h0m-1-14h0m0 18h0m0-11h0m0-55h0m-1 18h0m0 46h0m0-14h0m-1-41h0m-1 36h0m0 17h0m0-72h0m0-2h0m0 55h0m0 7h0m0-21h0m-1 43h0m0-38h0m0 22h0m0-10h0m0-4h0m0-41h0m0 16h0m0 17h0m-1-27h0m-1-1h0m0 49h0m0-3h0m0 15h0m0-17h0m-1-14h0m0-3h0m0 35h0m-1-39h0m0-30h0m0 20h0m-1 5h0m0 47h0m0-48h0m0 21h0m-1-24h0m0 34h0m0 12h0m-1-81h0m0 41h0m0-18h0m-1 12h0m0-37h0m0 45h0m-1 4h0m-1-20h0m0-5h0m0 9h0m0-38h0m0 52h0m0-39h0m-1 41h0m0 27h0m0-77h0m0 60h0m-1-3h0m0 25h0m0-38h0m0-14h0m-1 43h0m0 10h0m0-55h0m-1 33h0m0 24h0m-1-57h0m0-5h0m-1 29h0m0-7h0m0 14h0m0-7h0m-1 36h0m0-32h0m0-41h0m-1 42h0m0 31h0m0-43h0m0 15h0m-1 4h0m-1 20h0m0-17h0m0 6h0m-1-52h0m0 37h0m0 19h0m0 11h0m-1-46h0m0-5h0m0 49h0m0-15h0m-1 9h0m0-10h0m0-1h0m-1 21h0m0-89h0m-1 76h0m0 2h0m0 5h0m0-71h0m-1 62h0m0-26h0m-2-3h0m0 1h0m0 11h0m-1-3h0m0-18h0m0 46h0m0-27h0m-1 24h0m0 4h0m0-44h0m-1 45h0m0-16h0m0-39h0m-1-6h0m0 56h0m0-4h0m0-41h0m0 49h0m-1-36h0m0 16h0m0-49h0m0 4h0m-1 21h0m0 29h0m-1-28h0m0 42h0m-1-18h0m-1 18h0m0-13h0m-1-33h0m0 51h0m0-23h0m-2-3h0m0-31h0m0-2h0m-1 61h0m0-26h0m0 5h0m-1 12h0m0-55h0m0 16h0m-1 38h0m0-9h0m0 5h0m-1 14h0m0-17h0m0-4h0m0-30h0m-1-14h0m-1 39h0m-1-7h0m0 14h0m-1-1h0m0-17h0m-1 6h0m0 1h0m-1-33h0m0-7h0m0 61h0m-2-13h0m0 3h0m0 2h0m0 17h0m-1-39h0m-1-22h0m-1 61h0m0-13h0m0 11h0m0-8h0m-1-15h0m0 2h0m0 0h0m-1 15h0m0 7h0m-1 1h0m0-10h0m0-40h0m-1 46h0m0-10h0m0-18h0m0 16h0m-1 13h0m-1-50h0m0 51h0m0-12h0m-1-21h0m0 17h0m-1-5h0m-1-9h0m-1-27h0m0 27h0m-1-4h0m0-39h0m0 45h0m0 9h0m-1-3h0m0-8h0m0 28h0m-1-3h0m0-3h0m-1-15h0m-1-31h0m-1 37h0m-2 14h0m-4 0h0m0 0h0m0-21h0m0-15h0m0 26h0m0 1h0m-1-31h0m-1-6h0m-1-28h0m-3 55h0m-1 17h0m-1-5h0m0-1h0m-1-25h0m-1 31h0m-1-32h0m-1 2h0m0 30h0m0-44h0m-1 41h0m-1-24h0m0 11h0m-1 9h0m0-17h0m0-7h0m-2-21h0m-3 47h0m0 4h0m0-15h0m-1 8h0m-1 15h0m-1-17h0m-2 10h0m-2-64h0m-3 64h0m-3-35h0m-3 28h0m0-19h0m-1 29h0m-3-5h0m-5 3h0m-2-4h0m0 9h0m-1-7h0m-5-2h0m0-14h0m-2 17h0m-5-7h0m-2 13h0m-3-9h0m-3 6h0m0 2h0m-2-6h0m-1-6h0m0-5h0m-2-1h0m-2 2h0m-16 12h0m-389 97h0m9 4h0m52-2h0m9 3h0m13-1h0m12-3h0m6 4h0m5-9h0m3 2h0m9-21h0m1 26h0m0 0h0m1-10h0m8-5h0m2 16h0m3-22h0m2 15h0m4 6h0m0 0h0m7-8h0m2-8h0m2 17h0m1-8h0m2 9h0m4 0h0m0-6h0m0-1h0m1-9h0m1 14h0m0-3h0m9-16h0m2 21h0m3-8h0m1 7h0m0-7h0m1-8h0m4 3h0m0 4h0m0-15h0m2 20h0m0-8h0m0 7h0m1-25h0m1 26h0m0-23h0m1 26h0m2-8h0m1 5h0m0-7h0m1 9h0m1-1h0m2-6h0m0-15h0m1 9h0m0 12h0m0 0h0m1-2h0m1-8h0m0-12h0m1 25h0m3-7h0m0 5h0m4-11h0m1 1h0m1 7h0m2-21h0m1 14h0m0 11h0m0-10h0m0 6h0m1 0h0m1-15h0m2 10h0m1-4h0m2-1h0m1-5h0m1-3h0m2 21h0m0 0h0m1-17h0m1 17h0m0 1h0m0-34h0m1 22h0m1-32h0m0 37h0m1-5h0m0 10h0m2-15h0m0 16h0m1-5h0m1 6h0m0-19h0m1 2h0m0-30h0m1 47h0m0-32h0m1 32h0m0-18h0m0-3h0m1-3h0m0 23h0m1-15h0m1 16h0m1-1h0m0-1h0m2-23h0m1 18h0m1 1h0m1-30h0m0 15h0m0-1h0m2 17h0m0-14h0m0 20h0m0-7h0m1-47h0m0 54h0m0-1h0m2-20h0m1 18h0m0-19h0m1-5h0m2 14h0m0-8h0m1 15h0m0 6h0m1-29h0m1 29h0m0-1h0m1-8h0m0-20h0m1 14h0m0-21h0m1 15h0m0 14h0m1-15h0m0-6h0m0 22h0m0-15h0m2 15h0m0 5h0m1-17h0m0-9h0m1-12h0m1 23h0m0 9h0m0-26h0m0 3h0m2 15h0m1 0h0m0 0h0m0 14h0m1-18h0m0 7h0m0-3h0m0 0h0m0 10h0m1 1h0m0-17h0m0 12h0m1-1h0m0-12h0m0 7h0m0 14h0m1-7h0m1-14h0m1-2h0m0 16h0m1-7h0m0-28h0m0 11h0m1 8h0m0-34h0m1 18h0m0 8h0m0 22h0m1-16h0m0 9h0m0 0h0m0 7h0m1-10h0m0 14h0m0-9h0m1-23h0m0 38h0m1-17h0m0-30h0m0 4h0m0 6h0m0 20h0m1-18h0m0 12h0m0 16h0m1-26h0m0 1h0m1 11h0m0 18h0m0-21h0m1 14h0m0-19h0m1 29h0m0-4h0m1-16h0m0-7h0m0 4h0m0 2h0m0 4h0m1 17h0m1-40h0m0 2h0m1 26h0m0-1h0m0-13h0m2 11h0m0 5h0m0-33h0m1 2h0m1-4h0m1 27h0m0-38h0m0 48h0m0-13h0m1 8h0m1-69h0m0 57h0m0 12h0m0-14h0m1 20h0m0 5h0m0-1h0m1-27h0m2-26h0m2 32h0m0 13h0m0-6h0m1-5h0m0-3h0m0-17h0m0-1h0m0-21h0m1 22h0m0 32h0m0-15h0m0-23h0m1 29h0m0 15h0m0-16h0m0-2h0m1 14h0m0-7h0m0-11h0m1 21h0m1-64h0m1 69h0m1-21h0m1-13h0m0-10h0m0 33h0m0-63h0m1 61h0m0-9h0m0 7h0m1-7h0m0-25h0m0-5h0m0 26h0m1-24h0m1 34h0m1-11h0m0-17h0m0 38h0m1-31h0m0 7h0m0-2h0m0 20h0m0-36h0m0 3h0m1 10h0m1 24h0m0-10h0m0-45h0m1 20h0m0 31h0m0-24h0m0 30h0m1-61h0m0 50h0m0 7h0m0-12h0m1 20h0m0 1h0m2-68h0m0 55h0m0-29h0m1 28h0m0-20h0m1-3h0m0 25h0m0-6h0m0 20h0m1-16h0m0-28h0m1 23h0m0-10h0m0-2h0m0 10h0m0 23h0m0-22h0m0 16h0m0-24h0m0-3h0m1-10h0m0 19h0m0-7h0m0-21h0m0 35h0m1-3h0m0-27h0m0-2h0m1 25h0m0-27h0m1 25h0m0 4h0m0 18h0m1 1h0m1-37h0m0-13h0m0-8h0m0 13h0m1 21h0m0 17h0m1-26h0m1 3h0m0 13h0m0-23h0m0 3h0m0 20h0m0 7h0m0 2h0m1-46h0m0 43h0m0 0h0m0-6h0m0-22h0m1 18h0m1-40h0m0 49h0m0-2h0m1-34h0m0 17h0m1-20h0m0 2h0m0 29h0m0 0h0m1-3h0m0 5h0m0 10h0m0-39h0m0 10h0m0 17h0m1-17h0m0-7h0m0 18h0m1-51h0m0 71h0m0 4h0m0-21h0m1 0h0m0-30h0m0 27h0m0-7h0m1 14h0m0-2h0m0 12h0m0 2h0m0-17h0m1 21h0m0-8h0m1-30h0m0 12h0m0 12h0m0 17h0m0-31h0m1 8h0m0-25h0m0-4h0m1 24h0m0-3h0m0 28h0m0-37h0m1-3h0m1 12h0m0-15h0m0-1h0m0 22h0m1 8h0m1-16h0m0 32h0m0-64h0m1 2h0m0 24h0m1 4h0m0-6h0m0-3h0m1 2h0m0 13h0m0-17h0m1 12h0m0 11h0m0 20h0m1-3h0m0-61h0m1 37h0m1-6h0m0 28h0m1-45h0m0 32h0m0 14h0m0-25h0m0 9h0m0-5h0m1 6h0m1-7h0m0-10h0m0-5h0m0-16h0m1 14h0m0 2h0m0-24h0m1 1h0m0 29h0m0 20h0m0-48h0m1 29h0m0 19h0m0-2h0m0-22h0m0 1h0m1 26h0m0-37h0m0 18h0m0 26h0m1 1h0m0-3h0m1-69h0m0 65h0m0-34h0m0 14h0m0 24h0m1-17h0m0-19h0m0-14h0m0 33h0m0-23h0m1 0h0m0-7h0m0 14h0m0 3h0m0 35h0m0-2h0m0-21h0m1-8h0m0-4h0m0 16h0m1 9h0m0-13h0m1-4h0m0 26h0m0-9h0m1-45h0m0 15h0m0 0h0m2-12h0m0 11h0m0 23h0m0-1h0m1-6h0m0-25h0m0 14h0m0-5h0m0 3h0m1-17h0m0 8h0m0 57h0m0-53h0m1 7h0m0 3h0m0-20h0m0-14h0m0 19h0m1 13h0m0 4h0m0-33h0m0 23h0m0-3h0m1-31h0m0 84h0m1-25h0m0-29h0m1 36h0m0-48h0m0 47h0m0-66h0m0 47h0m0-23h0m0 58h0m0-58h0m0 60h0m1-38h0m0 20h0m0 0h0m0 4h0m0-41h0m0 33h0m2-34h0m0 38h0m0-1h0m1-54h0m0 35h0m0-39h0m0 39h0m0 0h0m0-1h0m0-40h0m1 28h0m1 23h0m0-11h0m0 2h0m0-49h0m1 21h0m0 17h0m0 4h0m0-24h0m0 23h0m1-24h0m0 22h0m2 14h0m1-57h0m0 16h0m0 6h0m1 33h0m1-6h0m0 28h0m1-68h0m1 8h0m1 48h0m1-41h0m0 44h0m0-13h0m0-39h0m0 42h0m1 7h0m1-41h0m0-19h0m0 49h0m0 0h0m0 22h0m0-11h0m1-42h0m0 7h0m0 22h0m0-15h0m1 22h0m1-11h0m0-31h0m0 10h0m0-2h0m0 28h0m1-19h0m0 55h0m0-36h0m0-3h0m0 19h0m1-54h0m0 46h0m2-35h0m0 41h0m0-4h0m0 20h0m0-30h0m1 28h0m0-6h0m0-57h0m0 52h0m0-50h0m0 4h0m1 26h0m0-23h0m0 41h0m1 5h0m0-58h0m1 54h0m0-4h0m1-14h0m0-21h0m0 14h0m0 11h0m0-8h0m0-11h0m0-38h0m1 27h0m0 6h0m0 19h0m1 19h0m1-47h0m0 67h0m1-34h0m0 13h0m0 18h0m0 1h0m0-8h0m0-23h0m0-5h0m1-8h0m1 23h0m0-12h0m0 29h0m0-14h0m1-60h0m0 41h0m0 18h0m1-55h0m0 5h0m0 25h0m0-22h0m1 2h0m0 36h0m0-25h0m1 37h0m1-33h0m0 16h0m1-27h0m0 33h0m0-31h0m1 11h0m0 16h0m0 12h0m1-15h0m0-29h0m0 27h0m0-6h0m0 23h0m0 17h0m1-42h0m0-19h0m1 22h0m0 43h0m1-45h0m0 21h0m1-33h0m0 32h0m0-2h0m1-10h0m0-34h0m1 50h0m0-20h0m0 0h0m0 22h0m1-12h0m0 34h0m1-89h0m0 53h0m0-28h0m0 14h0m0 3h0m0-38h0m0 76h0m1-52h0m0 29h0m0-36h0m0 14h0m1-3h0m0 12h0m1-24h0m0 8h0m0-5h0m0-9h0m0 48h0m1-10h0m0-12h0m1-35h0m0 26h0m0-14h0m0 17h0m1-15h0m0 61h0m1-36h0m0-15h0m0 21h0m0 12h0m0-15h0m0-26h0m0-11h0m0 15h0m0 2h0m1 6h0m0-8h0m1 28h0m1-22h0m0-12h0m1 27h0m1-45h0m0 35h0m0 0h0m1 5h0m0 12h0m0 9h0m0-18h0m1-6h0m0-18h0m0-11h0m0 29h0m0-17h0m0 5h0m1 47h0m0-73h0m1 57h0m0-63h0m0 84h0m0-84h0m0 26h0m1-10h0m0 1h0m0 70h0m0 4h0m1-86h0m0 25h0m0-7h0m0 4h0m1-20h0m0 15h0m0-5h0m0 2h0m1 36h0m0-11h0m0-3h0m0 2h0m1-21h0m0-11h0m1 70h0m1-27h0m0-1h0m1-22h0m0 17h0m0 21h0m1-67h0m2 57h0m0-14h0m0 9h0m0 1h0m0-33h0m1 23h0m0-8h0m0 19h0m0-19h0m0-34h0m1 13h0m0 7h0m0 16h0m1-24h0m0 75h0m0-63h0m0 25h0m0 19h0m1-36h0m0 0h0m0-7h0m0-19h0m1 66h0m0-57h0m0 0h0m1 1h0m1-6h0m0 81h0m1-72h0m0 0h0m0 13h0m1-12h0m1 5h0m0 6h0m0-28h0m0 66h0m1-56h0m0-12h0m0 20h0m1 4h0m0 14h0m0 9h0m0-31h0m1-3h0m1 21h0m0-20h0m0 21h0m1 0h0m0-9h0m0-9h0m0 9h0m0-6h0m1-7h0m0 3h0m0 21h0m1-20h0m0-19h0m0-2h0m0 6h0m0 3h0m0 30h0m0 40h0m1-73h0m0 53h0m1-9h0m1-13h0m0 33h0m0-52h0m2-1h0m1 65h0m1-33h0m1-30h0m0-18h0m0 47h0m1-39h0m0 55h0m1-23h0m1-6h0m0-21h0m0-8h0m1 0h0m0 43h0m0-46h0m0 12h0m1 43h0m0-45h0m0 7h0m1-18h0m0 53h0m0 12h0m0-49h0m0 29h0m0-10h0m0-30h0m0 16h0m0 1h0m1 2h0m0-18h0m1 1h0m0-7h0m1 47h0m1-39h0m0-7h0m1 24h0m0-6h0m0-8h0m2 55h0m0-68h0m2 2h0m1 13h0m0 2h0m1 7h0m0 4h0m1-12h0m0-3h0m0 40h0m1-3h0m0 6h0m1-26h0m0 7h0m0-6h0m1-18h0m0 8h0m0-12h0m0 70h0m1-55h0m2 60h0m1-73h0m1 18h0m1 18h0m0 0h0m1-32h0m0-1h0m0-1h0m1-4h0m0 2h0m1-3h0m0 22h0m0 9h0m1 28h0m0-62h0m0 14h0m0-9h0m0-5h0m2 58h0m0 16h0m1-47h0m1-27h0m2 34h0m0 0h0m0-33h0m0 29h0m0-3h0m1-3h0m1 0h0m1-16h0m0 39h0m0-38h0m2-1h0m1 5h0m0 26h0m0-40h0m1 18h0m0 6h0m1 15h0m1-25h0m2 16h0m1-3h0m1-16h0m0-7h0m0 6h0m1 12h0m1-20h0m1 2h0m1 9h0m0-4h0m2 13h0m1 64h0m1-71h0m3 48h0m1-60h0m1-3h0m2-4h0m1 8h0m0 27h0m0-24h0m2-4h0m1 45h0m0-24h0m1-23h0m0-5h0m0 36h0m2-34h0m1 29h0m1-26h0m0 20h0m1-2h0m0 6h0m2 10h0m0-7h0m0 22h0m1-46h0m0-6h0m1 4h0m1 15h0m0-3h0m1 34h0m1-49h0m1 0h0m0 2h0m0 1h0m3 1h0m4 20h0m3-14h0m2 16h0m4 16h0m2-23h0m2 49h0m1-18h0m1-32h0m2 31h0m2-43h0m2-6h0m1 11h0m3-13h0m1 9h0m1 8h0m0-7h0m1 53h0m1-50h0m5 57h0m4-29h0m19-32h0m2-8h0m15 61h0m6-52h0m1 17h0m10-28h0m4 40h0m14-10h0m12-25h0m39 22h0m57 27h0m-134 88h0m-117-42h0m-30 45h0m0-20h0m-15-12h0m-3-17h0m-12 1h0m-36 1h0m-12 42h0m-6-11h0m-16-24h0m-10 33h0m-4-37h0m-3 0h0m-1 2h0m-1 12h0m-9-6h0m-2-13h0m-10 1h0m-4 25h0m-2 14h0m-2-27h0m-4-10h0m-2 25h0m-3-7h0m-7-11h0m-5 16h0m-2 4h0m-2-29h0m0 7h0m-5 35h0m-1-22h0m-5 2h0m0-17h0m0-5h0m-1 23h0m-1-6h0m-2-18h0m0 12h0m0-9h0m0 87h0m-1-52h0m-1-34h0m-2 1h0m-3 23h0m-3-23h0m0-2h0m-2 92h0m-1-80h0m-3 32h0m-3-45h0m-2 8h0m-1 3h0m0-13h0m-1 17h0m-1-12h0m0 8h0m-2 5h0m0-7h0m-1 11h0m-3 3h0m-3 0h0m-2-11h0m-1-12h0m-1 26h0m-1-13h0m-2-5h0m-2-1h0m-1 5h0m0-13h0m0 62h0m-1-44h0m0-17h0m-2 20h0m-3-14h0m0 5h0m-2-5h0m0-3h0m-1-1h0m0 21h0m-2-13h0m-1 4h0m-2-3h0m-1-1h0m-1-8h0m0 27h0m0 18h0m-1-39h0m0-6h0m-1 26h0m-3-24h0m-3 15h0m0-18h0m-1 14h0m0 13h0m0-26h0m0 20h0m-1-23h0m0 11h0m0-7h0m0 13h0m0-6h0m0 2h0m-1 5h0m0 0h0m0-3h0m-1-7h0m0 11h0m0-15h0m0 70h0m-1-58h0m0-8h0m0-6h0m-1 0h0m-1 51h0m0-42h0m-1 16h0m0-18h0m-2-8h0m-1 18h0m0 7h0m0 0h0m-2-19h0m-1 8h0m0 15h0m-1-12h0m-1 11h0m0-18h0m0 0h0m-1 6h0m0-8h0m-1 7h0m-1 14h0m-1-25h0m-2 9h0m0 12h0m0 55h0m0-3h0m-1-64h0m0 14h0m0-28h0m0 3h0m0 66h0m-2-35h0m-2-24h0m0 20h0m0-26h0m-1-3h0m0 12h0m0-11h0m0 18h0m-1 4h0m0 30h0m-1-53h0m0 50h0m-1-34h0m0 12h0m0-19h0m0 14h0m0 12h0m0-17h0m-1 14h0m0-7h0m-1-19h0m0 3h0m0 9h0m-1-17h0m0 6h0m-1 4h0m-2 29h0m-1-24h0m0 8h0m0-26h0m-1 6h0m0 15h0m-1-11h0m0-10h0m0 41h0m-3-4h0m0 10h0m-1-36h0m0 16h0m-1 2h0m0-12h0m0 0h0m-1-15h0m-1 24h0m0-1h0m0-19h0m-1 3h0m0 12h0m0-19h0m-1 30h0m-1-17h0m0 5h0m0 1h0m-1-21h0m0 15h0m0-5h0m-1-1h0m0 10h0m-2-12h0m0-3h0m0 20h0m0-18h0m0 17h0m-1 7h0m0 5h0m-1-25h0m0 7h0m-1-10h0m-1 21h0m0-8h0m-1 28h0m0 2h0m-1-32h0m0 27h0m0-24h0m0-12h0m-2 33h0m-1-23h0m-1-11h0m-1-6h0m0 30h0m-2-17h0m-1 5h0m0 4h0m0-4h0m0-9h0m-1 9h0m-1-19h0m0 6h0m0 17h0m-1-11h0m0-7h0m0-6h0m-1 29h0m0-21h0m0 5h0m-1 21h0m-1-3h0m0 0h0m0-14h0m0-5h0m0 2h0m-1 24h0m-2-37h0m-2 3h0m0 8h0m0 7h0m-1-8h0m0-2h0m-1 9h0m-1-3h0m-1-8h0m-1 11h0m0-15h0m-1 15h0m0-15h0m-1-2h0m0 25h0m0-13h0m-1-6h0m0-4h0m0 15h0m-1-4h0m0-6h0m0 39h0m-1-29h0m0 3h0m-2 9h0m0 0h0m0-30h0m-1 39h0m0-20h0m0 59h0m0-77h0m0 20h0m-1-2h0m0 10h0m0-3h0m0-17h0m0-1h0m0 2h0m-1 18h0m0-15h0m-2 15h0m0-14h0m0-14h0m0 25h0m0 7h0m-1-32h0m-1 27h0m0-7h0m0-10h0m-1-2h0m0-5h0m0 31h0m-1 27h0m0-55h0m0-3h0m0 16h0m0 10h0m0-2h0m0-12h0m0-6h0m-2 9h0m-1 5h0m0-13h0m0-9h0m-1 15h0m0 7h0m0-21h0m0 22h0m0 18h0m-1-16h0m-1-6h0m0 3h0m0 6h0m-1-19h0m0 31h0m0-35h0m-1 32h0m0 2h0m0-10h0m-1-28h0m0 23h0m0 22h0m-2-25h0m0 9h0m0-6h0m-1 1h0m0-9h0m0 6h0m0 5h0m-1-23h0m0 20h0m-1 2h0m0 7h0m0 12h0m0-21h0m0-7h0m-1-1h0m0 29h0m0-29h0m0 8h0m0-11h0m0 30h0m0-17h0m-2-22h0m-1 36h0m0-19h0m0-6h0m0 6h0m0-18h0m0 30h0m-1-3h0m0-7h0m0 36h0m-1-35h0m-1 1h0m0 12h0m0-13h0m-1 16h0m0-22h0m-1 2h0m0 0h0m-1 1h0m0-5h0m0 4h0m0 16h0m-1-18h0m0 33h0m0-29h0m-1-9h0m0 20h0m0-19h0m-2 2h0m0 16h0m-1-4h0m0-7h0m0 7h0m-1 5h0m0-32h0m0 20h0m-1-3h0m0-11h0m0 22h0m0 14h0m0-30h0m-1 15h0m-2-5h0m0 0h0m-1 4h0m0-10h0m0 4h0m-1-14h0m0 32h0m0-37h0m0 27h0m0-24h0m0 20h0m0-15h0m0 15h0m0-1h0m-2-22h0m0 27h0m0 0h0m-1-26h0m0 14h0m0 22h0m0-17h0m0 21h0m-1-14h0m-1-5h0m0-19h0m0 17h0m-1 24h0m0-22h0m0 13h0m-1-26h0m-1-6h0m0 29h0m0-20h0m-2-7h0m0 30h0m0-10h0m0 20h0m-1-23h0m0 17h0m0-17h0m-1-5h0m-1-1h0m-1 13h0m-1-1h0m0-9h0m0 49h0m-1-54h0m-1-14h0m0 17h0m0 12h0m-1 26h0m0-26h0m0-19h0m-1 12h0m0 24h0m-1-33h0m0 12h0m0 2h0m-1-3h0m0-12h0m-1 10h0m0 4h0m-1 6h0m0 5h0m0-6h0m0-12h0m-1-1h0m0 10h0m-1 0h0m0 7h0m0-14h0m0 22h0m-1-13h0m-1 5h0m0 4h0m0-29h0m-1 2h0m0 12h0m0-2h0m0-15h0m-1 6h0m0 5h0m0-8h0m-1-6h0m-2 19h0m0-6h0m0-3h0m0-6h0m0 14h0m-1-18h0m0 14h0m0-7h0m-1 48h0m0-26h0m0 14h0m0-40h0m0 40h0m0-19h0m-1-16h0m0-4h0m-1 38h0m0-25h0m-2-4h0m-2-19h0m0 30h0m0-3h0m0-23h0m0 14h0m-1 26h0m0-27h0m0-1h0m-1 4h0m0-9h0m0 19h0m0-20h0m0 23h0m-1 10h0m0-1h0m0-14h0m-2-12h0m0 17h0m0-8h0m0-14h0m-1 2h0m0-1h0m0 36h0m-1 5h0m0-20h0m0 27h0m0-49h0m0-1h0m-1 47h0m0-56h0m0 37h0m-1-18h0m0 1h0m-1 24h0m0 1h0m0-24h0m0 2h0m-1 6h0m0-20h0m-1 25h0m-1-22h0m-1 4h0m-1 0h0m0 19h0m0-14h0m0-2h0m-1 19h0m0-3h0m0-21h0m-1 23h0m-2-7h0m0 2h0m-1-13h0m0 32h0m0-21h0m-1-23h0m-1 18h0m-1-22h0m0 28h0m0-5h0m-1 9h0m0-13h0m-1-13h0m0 12h0m-1 20h0m0-25h0m0 3h0m0 22h0m-1-5h0m0-18h0m-2 21h0m-1-40h0m0 28h0m0 1h0m0-21h0m0-4h0m0 20h0m-1 5h0m0-10h0m-1-10h0m0-9h0m0 26h0m0 11h0m0-28h0m0 20h0m-1 6h0m0-12h0m-1 24h0m0-19h0m0-3h0m0-10h0m-1 27h0m0-21h0m0 14h0m0-13h0m0 5h0m0-20h0m0 21h0m0-8h0m-1-8h0m0 2h0m-1 23h0m-1-6h0m0-26h0m0 3h0m0 23h0m-1-13h0m0-19h0m0 29h0m-1 23h0m0-30h0m-1 9h0m0-7h0m-1-6h0m0-4h0m0 12h0m-1-5h0m0 9h0m0 19h0m-1-31h0m0 7h0m0-24h0m-1 46h0m0-23h0m0-3h0m-2 5h0m-2-15h0m0 19h0m-1-5h0m-1 12h0m0 3h0m0 21h0m-1-28h0m0 6h0m-1-7h0m0 3h0m-1-8h0m0 7h0m0-6h0m0-9h0m-1 9h0m0 14h0m0-7h0m-3 0h0m0 6h0m-1-16h0m0 22h0m-1-30h0m0 18h0m-1 7h0m0-4h0m0-25h0m0 3h0m-1 32h0m0-10h0m-1-17h0m0 15h0m0-8h0m-1 13h0m0-21h0m-1 8h0m0 7h0m-1 15h0m0-15h0m0-5h0m0 1h0m-1 16h0m0-25h0m-1 16h0m0 10h0m0-21h0m-1-7h0m0 17h0m0 0h0m0 17h0m0-3h0m-1-27h0m0 26h0m0-11h0m0 5h0m-1-4h0m-1 12h0m0-25h0m-2-21h0m0 21h0m0-8h0m-1-7h0m0 20h0m0-15h0m-1 10h0m0 2h0m0 10h0m0-11h0m-1 9h0m0-21h0m0 1h0m0 12h0m-1-6h0m0-1h0m-1 18h0m0 12h0m-1-40h0m0 24h0m-1 0h0m0-18h0m0 12h0m0-4h0m0 1h0m0 12h0m-1-17h0m0 11h0m0 5h0m-1 0h0m0-5h0m-1 15h0m0-25h0m-1-2h0m0 1h0m0 14h0m0 5h0m0-5h0m0-33h0m0 20h0m-1 11h0m0-20h0m0 27h0m0-6h0m0-20h0m0 53h0m-1-14h0m0-21h0m0 0h0m0 23h0m0-29h0m0-1h0m0 26h0m-1-14h0m0 11h0m0-28h0m0 35h0m0-41h0m-1 7h0m0 11h0m-1-4h0m0 6h0m0-4h0m-1-3h0m0 4h0m-1 26h0m0-30h0m-1 25h0m0-41h0m0 6h0m0 19h0m-1 8h0m0-18h0m0 16h0m0-6h0m-1-10h0m0 13h0m0 6h0m0-46h0m-1 6h0m0 52h0m0-23h0m-1-10h0m-1 36h0m0-45h0m0 34h0m0-11h0m0-15h0m0 32h0m-1-20h0m0 7h0m-1-1h0m0-17h0m0-20h0m-1 29h0m0-13h0m0 22h0m-2-10h0m0-7h0m0 26h0m-2-8h0m0-10h0m-1-8h0m0 0h0m0 13h0m0-1h0m0-21h0m0 23h0m-2 6h0m0-15h0m-1 14h0m-1-23h0m0 15h0m-1 13h0m0-17h0m0 19h0m0-24h0m-1-4h0m0-7h0m0 12h0m0 27h0m-1-29h0m-1 3h0m0-5h0m-1 1h0m0 13h0m0-8h0m0 9h0m0-10h0m-1 6h0m0-7h0m-1 9h0m0-22h0m0 11h0m0 9h0m-1 4h0m-1-18h0m-1-12h0m0 28h0m-1 8h0m-1 4h0m0-18h0m0-11h0m-1 4h0m0 5h0m-1-8h0m0-17h0m0 13h0m0 16h0m0 9h0m-1-5h0m0-25h0m0 21h0m-1 9h0m-1-7h0m0-4h0m0 6h0m-1 5h0m0-12h0m0 10h0m0-21h0m0 5h0m-2 10h0m0 23h0m-1-19h0m-1-8h0m0-2h0m-1 27h0m0-6h0m0-31h0m-1 23h0m0 8h0m0-38h0m-1 16h0m-1 4h0m0-29h0m-1-3h0m0 15h0m-1 13h0m-1 14h0m-1 5h0m0-2h0m-1-10h0m0-6h0m0 6h0m-1-4h0m0 20h0m0 4h0m-1-28h0m0 16h0m0-33h0m0 26h0m-1-23h0m-2 7h0m0 19h0m0-9h0m-1 3h0m0-12h0m0 33h0m-1-16h0m0-3h0m-1-6h0m0 21h0m-1-39h0m0 23h0m0-7h0m-1-5h0m-1 47h0m0-48h0m-1 24h0m0-5h0m-1 3h0m0-9h0m-1-8h0m0-6h0m0 3h0m-1 14h0m-1 2h0m0-6h0m0 0h0m0 1h0m-1 22h0m0-12h0m-1-9h0m-1 11h0m0-1h0m0-9h0m0-2h0m-1 20h0m0-21h0m0 15h0m0-11h0m0-20h0m-2 32h0m0-7h0m0-20h0m-1 19h0m-1-1h0m0-3h0m0 1h0m-1-27h0m0-1h0m0 42h0m0 3h0m-1-33h0m0 21h0m-1-7h0m-1-20h0m0 16h0m0 9h0m-1-16h0m0 29h0m-1-17h0m-1-9h0m0 11h0m-1-13h0m0 9h0m-2-9h0m0 9h0m0-13h0m0-1h0m-1 7h0m0 22h0m0-25h0m0 22h0m0 1h0m-1-19h0m0 1h0m0 7h0m0 2h0m0-3h0m-1 15h0m0-27h0m0-10h0m0 28h0m-1-21h0m0 16h0m0-2h0m0-5h0m-1 1h0m0 13h0m-1-9h0m0 13h0m0-13h0m0 9h0m-1 2h0m0-5h0m0 11h0m0 4h0m-1-23h0m0 16h0m0-20h0m0-2h0m-1 30h0m0-34h0m-1-9h0m0 13h0m-1 12h0m0-11h0m-1-4h0m0 8h0m0 0h0m-1-1h0m-1 4h0m0 8h0m0-10h0m0-25h0m0 42h0m-1-9h0m0-1h0m0 16h0m-1-19h0m-2-5h0m-1 3h0m0 7h0m-1-1h0m0 1h0m0-24h0m0 22h0m-1-32h0m-1 42h0m0-25h0m0 6h0m0 12h0m0-11h0m-1-9h0m0 15h0m0 22h0m-1-18h0m0 3h0m0-29h0m0 7h0m0-8h0m0 13h0m-1 23h0m-2-11h0m0-2h0m0 4h0m-1 2h0m0 7h0m-1-35h0m-1 4h0m0 1h0m0 31h0m0 1h0m-1-33h0m0 6h0m-1 10h0m0 8h0m-1-22h0m0-5h0m0 7h0m0 4h0m-1 17h0m0-12h0m0 4h0m-1-14h0m-1 1h0m0 16h0m0 13h0m0-2h0m-1 22h0m-1-24h0m0-3h0m-1-27h0m0 32h0m0 0h0m0-3h0m0-6h0m-1-10h0m0 1h0m0-1h0m0 1h0m0 14h0m-2-15h0m0 14h0m0-2h0m-1 18h0m0-7h0m-1-18h0m-1-5h0m0 6h0m-2-14h0m0 24h0m0-15h0m0 23h0m0-11h0m-1 3h0m0-18h0m0 12h0m0 3h0m-1-11h0m0 12h0m0-25h0m0 13h0m-1-5h0m0 8h0m0 11h0m-1-6h0m0-31h0m0 29h0m-1-6h0m0 1h0m0 20h0m0-12h0m0-29h0m0 32h0m-1-5h0m0-10h0m0 10h0m0-2h0m-1 1h0m0 18h0m0-9h0m0-18h0m0-13h0m-1 19h0m0 6h0m0-15h0m0 2h0m0-16h0m-2 15h0m0 27h0m0-19h0m-1-19h0m0 12h0m-1 25h0m0-20h0m0-3h0m-1-1h0m0-11h0m-1 22h0m-1-14h0m0 8h0m-1-9h0m-1 10h0m0 1h0m-1 7h0m0 1h0m-1-6h0m-1-7h0m0-13h0m-1 16h0m0-5h0m-1 16h0m-3 7h0m0-13h0m0 13h0m0-23h0m0 8h0m0-20h0m-1 23h0m0 5h0m0 11h0m0-23h0m0-5h0m0 28h0m-1-10h0m0-5h0m0-8h0m-1 2h0m0 13h0m-1-11h0m0-4h0m0 4h0m0-2h0m-1 11h0m0-14h0m-1 25h0m-1-25h0m-1-9h0m-1 13h0m-1-9h0m0 4h0m-1 5h0m0 20h0m0-18h0m-1-12h0m0-4h0m0 13h0m0 8h0m-1-17h0m0-18h0m0 24h0m0 20h0m0-20h0m-1 8h0m-1-4h0m-1 4h0m0 11h0m-1-14h0m-1-4h0m0 10h0m0-8h0m-1-1h0m0 0h0m0-3h0m0-15h0m-1 2h0m-1 12h0m0 7h0m0 4h0m0-5h0m0 4h0m-1 15h0m0-8h0m0-14h0m-1 9h0m0-20h0m0 20h0m0-16h0m0 7h0m-1-13h0m0 5h0m0 15h0m-1-8h0m0 8h0m-1-12h0m0 0h0m0 10h0m-1-8h0m0 9h0m-1-7h0m0-6h0m0 12h0m-1 3h0m0 2h0m0-15h0m0 15h0m0 7h0m0-7h0m-2-18h0m-1 9h0m0 3h0m0-6h0m0-2h0m-1 10h0m-1 6h0m0 8h0m-1-37h0m0 6h0m0 3h0m0 8h0m0-7h0m0-1h0m-1 32h0m-1-28h0m0 14h0m-1-5h0m-1-14h0m0 14h0m-1-8h0m-1-3h0m0 10h0m0-3h0m-1 2h0m0-9h0m-1 4h0m0 2h0m0 14h0m-1-31h0m0 2h0m-2 20h0m0-4h0m-1 5h0m0-5h0m0-1h0m-1 9h0m0-10h0m-1-4h0m0 19h0m-1-22h0m-2 11h0m0 1h0m0 1h0m-1-25h0m0 51h0m-2-18h0m0-2h0m-1-18h0m0 7h0m0 5h0m0-11h0m-1 11h0m0-6h0m0 5h0m-1-3h0m-2-5h0m0 13h0m-1-4h0m-2 15h0m0-19h0m0-21h0m-1 11h0m-2 18h0m-1-3h0m0-14h0m-1 5h0m-1 10h0m0 6h0m0-11h0m0-4h0m0 13h0m0-17h0m-1 15h0m-1 18h0m-1-26h0m-1 4h0m0 15h0m0-15h0m-1 8h0m0-22h0m0 8h0m0 5h0m-1-6h0m0 12h0m0-8h0m-1 18h0m0-11h0m-1-9h0m0 2h0m0 4h0m-2 1h0m0-16h0m-1-1h0m0 5h0m-1 12h0m0-9h0m-1-7h0m0 16h0m0-6h0m0-2h0m-2 4h0m-1-2h0m0 7h0m0 5h0m0-20h0m-1 12h0m-1 10h0m-1-11h0m0-2h0m-1-5h0m0 6h0m0 5h0m-1-8h0m-1-7h0m0 14h0m0-32h0m0 28h0m-2 16h0m-1-11h0m-1-2h0m0 1h0m-1-10h0m-2 16h0m-1-22h0m-1 16h0m0-4h0m-1 6h0m-1-7h0m0-4h0m-1 13h0m0-19h0m-1 13h0m0-9h0m-1 4h0m0-4h0m-1 19h0m-1-5h0m0-16h0m-1 3h0m-1 12h0m0-7h0m0-17h0m0 20h0m-1 3h0m0-8h0m-1 7h0m-1-18h0m0 12h0m0-5h0m-1 1h0m0 11h0m-1-9h0m0-6h0m0 12h0m0-6h0m-2 0h0m0 0h0m0 6h0m-1 10h0m-1-14h0m0-8h0m-1 17h0m-1-3h0m-2 3h0m-2-13h0m0 11h0m0-3h0m-1-3h0m-1 1h0m0 13h0m-2-11h0m0-7h0m-1 4h0m0 5h0m0-11h0m-2 3h0m-1 1h0m0 9h0m-1 1h0m-2-3h0m0-14h0m0 4h0m-2-4h0m-1 10h0m-1-2h0m-2-3h0m0 22h0m0-3h0m-1-8h0m0 1h0m0-8h0m-1 3h0m0-5h0m-1 3h0m0-2h0m-1 5h0m0-6h0m0 8h0m-1-1h0m0-17h0m0 21h0m0-10h0m0 13h0m-1-4h0m0-9h0m0 11h0m0-3h0m-1-8h0m-1 3h0m-1 0h0m-1-8h0m0 10h0m-2-14h0m0 2h0m-1 8h0m-1 4h0m-1-4h0m-1 2h0m-1-7h0m-1 6h0m0-8h0m0 4h0m0 12h0m-1-9h0m0-8h0m0 13h0m-1-1h0m0 4h0m-1-10h0m0 1h0m0-5h0m0 6h0m0 4h0m-1 3h0m0 1h0m-1-9h0m0 2h0m0-7h0m-1 5h0m-1-4h0m0 3h0m-2 5h0m0 4h0m0-6h0m-1-6h0m0 10h0m-1-3h0m0-2h0m-1 5h0m0-13h0m0 12h0m-1 9h0m0-7h0m-1-4h0m0-4h0m-1-6h0m0 14h0m0-16h0m-1 11h0m-1-6h0m0 6h0m-2 3h0m0-6h0m0-8h0m-1 8h0m-1-3h0m0 3h0m0 10h0m0 8h0m-1-14h0m0 1h0m-1 0h0m0 0h0m-1 3h0m0-9h0m-2-1h0m-1 13h0m0-12h0m-1 1h0m-1 3h0m-1-6h0m0 7h0m-1-3h0m-1 3h0m0-6h0m-1 4h0m-1-10h0m-1 8h0m0-7h0m-3 5h0m0 5h0m0 7h0m-1-9h0m-1 10h0m0-15h0m0 15h0m-1-13h0m0 6h0m-1 0h0m-1-9h0m0 3h0m-1 7h0m0 2h0m-1-6h0m0 4h0m0-3h0m-1 1h0m0-1h0m-1 11h0m0-16h0m-1 6h0m0 0h0m-1 8h0m0-4h0m-1 3h0m0-2h0m0-9h0m0-1h0m-2 6h0m0-9h0m0 6h0m-1 2h0m-1 6h0m0-16h0m-1 6h0m0 3h0m-1-3h0m-1 6h0m-2-4h0m-1 5h0m-2 8h0m-1-15h0m0 5h0m0-2h0m-3-2h0m0 1h0m-1 5h0m-1-11h0m0 14h0m-1-16h0m0 8h0m-1 3h0m0-7h0m-4 8h0m0 0h0m0-10h0m0 10h0m-1-2h0m0-4h0m-1 6h0m-1-3h0m-1-3h0m-2-1h0m-1 10h0m0-7h0m0 1h0m-1-3h0m0 3h0m0-2h0m-1 11h0m0-9h0m0 4h0m-1-7h0m0 6h0m0-2h0m-1 2h0m0-4h0m0 3h0m-1 3h0m0-3h0m-1 1h0m0 0h0m-1-3h0m-1 3h0m0 0h0m-1 4h0m-1-11h0m-1 1h0m-1 10h0m-1-8h0m0 3h0m0 3h0m-1 0h0m0-7h0m0 2h0m-2-9h0m702 83h0m19-2h0m33 26h0m63-39h0m18 3h0" stroke="#9467bd" stroke-width="19" stroke-linecap="round" fill="none"/>
<path d="M4752 1421l8 6-3 9h-10l-3-9zm61-17l8 6-3 9h-10l-3-9zm114 24l8 6-3 9h-10l-3-9zm38-20l8 6-3 9h-10l-3-9zm41-13l8 6-3 9h-10l-3-9zm72 47l8 6-3 9h-10l-3-9zm-9 5l8 6-3 9h-10l-3-9zm-28 76l8 6-3 9h-10l-3-9zm-36-74l8 6-3 9h-10l-3-9zm-8-6l8 6-3 9h-10l-3-9zm-16 83l8 6-3 9h-10l-3-9zm-2-34l8 6-3 9h-10l-3-9zm-1 28l8 6-3 9h-10l-3-9zm0-62l8 6-3 9h-10l-3-9zm-7 39l8 6-3 9h-10l-3-9zm-8-4l8 6-3 9h-10l-3-9zm-16-25l8 6-3 9h-10l-3-9zm-25 16l8 6-3 9h-10l-3-9zm-7 20l8 6-3 9h-10l-3-9zm-52-65l8 6-3 9h-10l-3-9zm-4 30l8 6-3 9h-10l-3-9zm0 48l8 6-3 9h-10l-3-9zm-4-52l8 6-3 9h-10l-3-9zm-10 23l8 6-3 9h-10l-3-9zm-2-4l8 6-3 9h-10l-3-9zm-2 41l8 6-3 9h-10l-3-9zm-7-76l8 6-3 9h-10l-3-9zm-7 65l8 6-3 9h-10l-3-9zm-11-55l8 6-3 9h-10l-3-9zm-13 53l8 6-3 9h-10l-3-9zm-4-19l8 6-3 9h-10l-3-9zm-5-17l8 6-3 9h-10l-3-9zm-10 14l8 6-3 9h-10l-3-9zm-3 0l8 6-3 9h-10l-3-9zm-1 13l8 6-3 9h-10l-3-9zm-5 15l8 6-3 9h-10l-3-9zm-1 3l8 6-3 9h-10l-3-9zm-29-26l8 6-3 9h-10l-3-9zm-1 3l8 6-3 9h-10l-3-9zm-47-19l8 6-3 9h-10l-3-9zm-4 19l8 6-3 9h-10l-3-9zm-5-4l8 6-3 9h-10l-3-9zm-26 2l8 6-3 9h-10l-3-9zm-26-35l8 6-3 9h-10l-3-9zm-3 66l8 6-3 9h-10l-3-9zm-1-36l8 6-3 9h-10l-3-9zm-4-20l8 6-3 9h-10l-3-9zm-60 26l8 6-3 9h-10l-3-9zm-7-63l8 6-3 9h-10l-3-9zm-1 91l8 6-3 9h-10l-3-9zm-2-6l8 6-3 9h-10l-3-9zm-1-21l8 6-3 9h-10l-3-9zm-3 27l8 6-3 9h-10l-3-9zm-3 0l8 6-3 9h-10l-3-9zm-8-25l8 6-3 9h-10l-3-9zm-69-28l8 6-3 9h-10l-3-9zm-134 109l8 6-3 9h-10l-3-9zm18 37l8 6-3 9h-10l-3-9zm13 1l8 6-3 9h-10l-3-9zm2-24l8 6-3 9h-10l-3-9zm5 22l8 6-3 9h-10l-3-9zm2-20l8 6-3 9h-10l-3-9zm5 24l8 6-3 9h-10l-3-9zm3-76l8 6-3 9h-10l-3-9zm13 70l8 6-3 9h-10l-3-9zm26-7l8 6-3 9h-10l-3-9zm1 3l8 6-3 9h-10l-3-9zm1 9l8 6-3 9h-10l-3-9zm2-53l8 6-3 9h-10l-3-9zm0 29l8 6-3 9h-10l-3-9zm7 5l8 6-3 9h-10l-3-9zm11-66l8 6-3 9h-10l-3-9zm0 81l8 6-3 9h-10l-3-9zm2-17l8 6-3 9h-10l-3-9zm3-27l8 6-3 9h-10l-3-9zm2 2l8 6-3 9h-10l-3-9zm1 12l8 6-3 9h-10l-3-9zm0 11l8 6-3 9h-10l-3-9zm1-4l8 6-3 9h-10l-3-9zm5 1l8 6-3 9h-10l-3-9zm1-24l8 6-3 9h-10l-3-9zm7 52l8 6-3 9h-10l-3-9zm2-90l8 6-3 9h-10l-3-9zm4 64l8 6-3 9h-10l-3-9zm0-13l8 6-3 9h-10l-3-9zm1-9l8 6-3 9h-10l-3-9zm0 22l8 6-3 9h-10l-3-9zm1 15l8 6-3 9h-10l-3-9zm5-34l8 6-3 9h-10l-3-9zm2-20l8 6-3 9h-10l-3-9zm3 41l8 6-3 9h-10l-3-9zm1-46l8 6-3 9h-10l-3-9zm2 21l8 6-3 9h-10l-3-9zm2 14l8 6-3 9h-10l-3-9zm2-8l8 6-3 9h-10l-3-9zm3-40l8 6-3 9h-10l-3-9zm1 23l8 6-3 9h-10l-3-9zm1 0l8 6-3 9h-10l-3-9zm5 11l8 6-3 9h-10l-3-9zm5-4l8 6-3 9h-10l-3-9zm1 3l8 6-3 9h-10l-3-9zm2 6l8 6-3 9h-10l-3-9zm1-39l8 6-3 9h-10l-3-9zm2-10l8 6-3 9h-10l-3-9zm1 55l8 6-3 9h-10l-3-9zm0-40l8 6-3 9h-10l-3-9zm7 30l8 6-3 9h-10l-3-9zm0-32l8 6-3 9h-10l-3-9zm9 9l8 6-3 9h-10l-3-9zm1-8l8 6-3 9h-10l-3-9zm1-15l8 6-3 9h-10l-3-9zm3 34l8 6-3 9h-10l-3-9zm2-10l8 6-3 9h-10l-3-9zm1 54l8 6-3 9h-10l-3-9zm4-39l8 6-3 9h-10l-3-9zm2-24l8 6-3 9h-10l-3-9zm8-14l8 6-3 9h-10l-3-9zm0 6l8 6-3 9h-10l-3-9zm4 1l8 6-3 9h-10l-3-9zm4 19l8 6-3 9h-10l-3-9zm8-20l8 6-3 9h-10l-3-9zm3 18l8 6-3 9h-10l-3-9zm5-10l8 6-3 9h-10l-3-9zm5 42l8 6-3 9h-10l-3-9zm8-57l8 6-3 9h-10l-3-9zm16 15l8 6-3 9h-10l-3-9zm19 42l8 6-3 9h-10l-3-9zm18-52l8 6-3 9h-10l-3-9zm6 13l8 6-3 9h-10l-3-9zm10-4l8 6-3 9h-10l-3-9zm28-6l8 6-3 9h-10l-3-9zm34 16l8 6-3 9h-10l-3-9zm41-6l8 6-3 9h-10l-3-9zm11 5l8 6-3 9h-10l-3-9zm37 18l8 6-3 9h-10l-3-9zm21-22l8 6-3 9h-10l-3-9zm58-3l8 6-3 9h-10l-3-9zm-386 133l8 6-3 9h-10l-3-9zm-8-45l8 6-3 9h-10l-3-9zm-10 21l8 6-3 9h-10l-3-9zm-24-13l8 6-3 9h-10l-3-9zm-17 19l8 6-3 9h-10l-3-9zm-3 33l8 6-3 9h-10l-3-9zm-5-53l8 6-3 9h-10l-3-9zm-2-9l8 6-3 9h-10l-3-9zm-2-2l8 6-3 9h-10l-3-9zm-6 23l8 6-3 9h-10l-3-9zm-12 0l8 6-3 9h-10l-3-9zm-2-24l8 6-3 9h-10l-3-9zm-1 17l8 6-3 9h-10l-3-9zm-4 15l8 6-3 9h-10l-3-9zm-5-12l8 6-3 9h-10l-3-9zm-3 4l8 6-3 9h-10l-3-9zm-2 1l8 6-3 9h-10l-3-9zm-3-8l8 6-3 9h-10l-3-9zm-5-4l8 6-3 9h-10l-3-9zm-4-4l8 6-3 9h-10l-3-9zm-3 12l8 6-3 9h-10l-3-9zm-7 26l8 6-3 9h-10l-3-9zm-1-14l8 6-3 9h-10l-3-9zm0 10l8 6-3 9h-10l-3-9zm-1-8l8 6-3 9h-10l-3-9zm-4 20l8 6-3 9h-10l-3-9zm-5-16l8 6-3 9h-10l-3-9zm-1 13l8 6-3 9h-10l-3-9zm-1-7l8 6-3 9h-10l-3-9zm-6-2l8 6-3 9h-10l-3-9zm-15 14l8 6-3 9h-10l-3-9zm-2-17l8 6-3 9h-10l-3-9zm0 26l8 6-3 9h-10l-3-9zm-1-60l8 6-3 9h-10l-3-9zm0 51l8 6-3 9h-10l-3-9zm-3 18l8 6-3 9h-10l-3-9zm-1-63l8 6-3 9h-10l-3-9zm0 43l8 6-3 9h-10l-3-9zm-1 17l8 6-3 9h-10l-3-9zm-7-50l8 6-3 9h-10l-3-9zm-2 52l8 6-3 9h-10l-3-9zm-1 9l8 6-3 9h-10l-3-9zm-2-85l8 6-3 9h-10l-3-9zm-3 82l8 6-3 9h-10l-3-9zm-1-80l8 6-3 9h-10l-3-9zm-2 72l8 6-3 9h-10l-3-9zm-6 10l8 6-3 9h-10l-3-9zm-3-8l8 6-3 9h-10l-3-9zm-1-27l8 6-3 9h-10l-3-9zm0-46l8 6-3 9h-10l-3-9zm-16 14l8 6-3 9h-10l-3-9zm-1 39l8 6-3 9h-10l-3-9zm-1 10l8 6-3 9h-10l-3-9zm-5 2l8 6-3 9h-10l-3-9zm-3-50l8 6-3 9h-10l-3-9zm-5 49l8 6-3 9h-10l-3-9zm-20-25l8 6-3 9h-10l-3-9zm-9 38l8 6-3 9h-10l-3-9zm-11-5l8 6-3 9h-10l-3-9zm-1-17l8 6-3 9h-10l-3-9zm-2-28l8 6-3 9h-10l-3-9zm-17 62l8 6-3 9h-10l-3-9zm-43-42l8 6-3 9h-10l-3-9zm-108 140l8 6-3 9h-10l-3-9zm22 0l8 6-3 9h-10l-3-9zm31-23l8 6-3 9h-10l-3-9zm9-43l8 6-3 9h-10l-3-9zm2 22l8 6-3 9h-10l-3-9zm1-38l8 6-3 9h-10l-3-9zm16 26l8 6-3 9h-10l-3-9zm1 34l8 6-3 9h-10l-3-9zm2-37l8 6-3 9h-10l-3-9zm2 24l8 6-3 9h-10l-3-9zm13 6l8 6-3 9h-10l-3-9zm5-18l8 6-3 9h-10l-3-9zm20-23l8 6-3 9h-10l-3-9zm2 38l8 6-3 9h-10l-3-9zm2-35l8 6-3 9h-10l-3-9zm10-21l8 6-3 9h-10l-3-9zm1 28l8 6-3 9h-10l-3-9zm4-11l8 6-3 9h-10l-3-9zm5 54l8 6-3 9h-10l-3-9zm1-74l8 6-3 9h-10l-3-9zm16 77l8 6-3 9h-10l-3-9zm6-27l8 6-3 9h-10l-3-9zm5-37l8 6-3 9h-10l-3-9zm0 78l8 6-3 9h-10l-3-9zm1-23l8 6-3 9h-10l-3-9zm7 0l8 6-3 9h-10l-3-9zm2 6l8 6-3 9h-10l-3-9zm0 8l8 6-3 9h-10l-3-9zm1-48l8 6-3 9h-10l-3-9zm9 20l8 6-3 9h-10l-3-9zm4-49l8 6-3 9h-10l-3-9zm1 42l8 6-3 9h-10l-3-9zm1-30l8 6-3 9h-10l-3-9zm0 55l8 6-3 9h-10l-3-9zm0-17l8 6-3 9h-10l-3-9zm3-1l8 6-3 9h-10l-3-9zm5-56l8 6-3 9h-10l-3-9zm8 14l8 6-3 9h-10l-3-9zm4 34l8 6-3 9h-10l-3-9zm6-31l8 6-3 9h-10l-3-9zm1-19l8 6-3 9h-10l-3-9zm10 5l8 6-3 9h-10l-3-9zm6 37l8 6-3 9h-10l-3-9zm2-16l8 6-3 9h-10l-3-9zm4-13l8 6-3 9h-10l-3-9zm-78 83l8 6-3 9h-10l-3-9zm0 21l8 6-3 9h-10l-3-9zm-9-20l8 6-3 9h-10l-3-9zm-1 13l8 6-3 9h-10l-3-9zm-8 26l8 6-3 9h-10l-3-9zm-5-22l8 6-3 9h-10l-3-9zm-6 20l8 6-3 9h-10l-3-9zm-1-24l8 6-3 9h-10l-3-9zm-6 38l8 6-3 9h-10l-3-9zm0-32l8 6-3 9h-10l-3-9zm-2-10l8 6-3 9h-10l-3-9zm0 48l8 6-3 9h-10l-3-9zm-1 3l8 6-3 9h-10l-3-9zm-3-8l8 6-3 9h-10l-3-9zm-5-5l8 6-3 9h-10l-3-9zm-7-36l8 6-3 9h-10l-3-9zm-2 48l8 6-3 9h-10l-3-9zm-2 13l8 6-3 9h-10l-3-9zm-14-9l8 6-3 9h-10l-3-9zm-2-46l8 6-3 9h-10l-3-9zm-1 27l8 6-3 9h-10l-3-9zm-6 12l8 6-3 9h-10l-3-9zm-3-15l8 6-3 9h-10l-3-9zm-12-32l8 6-3 9h-10l-3-9zm-14 74l8 6-3 9h-10l-3-9zm-4-30l8 6-3 9h-10l-3-9zm-1-27l8 6-3 9h-10l-3-9zm-11 34l8 6-3 9h-10l-3-9zm-1 21l8 6-3 9h-10l-3-9zm-6-15l8 6-3 9h-10l-3-9zm-2-27l8 6-3 9h-10l-3-9zm-6 46l8 6-3 9h-10l-3-9zm-7-32l8 6-3 9h-10l-3-9zm-11-43l8 6-3 9h-10l-3-9zm-2 26l8 6-3 9h-10l-3-9zm0 52l8 6-3 9h-10l-3-9zm-5-1l8 6-3 9h-10l-3-9zm-120 82l8 6-3 9h-10l-3-9zm14-16l8 6-3 9h-10l-3-9zm17-34l8 6-3 9h-10l-3-9zm15-10l8 6-3 9h-10l-3-9zm11 63l8 6-3 9h-10l-3-9zm4-54l8 6-3 9h-10l-3-9zm5 35l8 6-3 9h-10l-3-9zm7-41l8 6-3 9h-10l-3-9zm13-10l8 6-3 9h-10l-3-9zm2 76l8 6-3 9h-10l-3-9zm1-15l8 6-3 9h-10l-3-9zm13-23l8 6-3 9h-10l-3-9zm8 40l8 6-3 9h-10l-3-9zm2-44l8 6-3 9h-10l-3-9zm2 46l8 6-3 9h-10l-3-9zm2-40l8 6-3 9h-10l-3-9zm7 13l8 6-3 9h-10l-3-9zm3 18l8 6-3 9h-10l-3-9zm5-11l8 6-3 9h-10l-3-9zm2-47l8 6-3 9h-10l-3-9zm2 56l8 6-3 9h-10l-3-9zm2 13l8 6-3 9h-10l-3-9zm0-48l8 6-3 9h-10l-3-9zm1-9l8 6-3 9h-10l-3-9zm3 57l8 6-3 9h-10l-3-9zm1-48l8 6-3 9h-10l-3-9zm5 28l8 6-3 9h-10l-3-9zm1 13l8 6-3 9h-10l-3-9zm2-10l8 6-3 9h-10l-3-9zm3 8l8 6-3 9h-10l-3-9zm6-47l8 6-3 9h-10l-3-9zm2 32l8 6-3 9h-10l-3-9zm8-29l8 6-3 9h-10l-3-9zm7-8l8 6-3 9h-10l-3-9zm1 22l8 6-3 9h-10l-3-9zm3-8l8 6-3 9h-10l-3-9zm2-6l8 6-3 9h-10l-3-9zm5-8l8 6-3 9h-10l-3-9zm9-15l8 6-3 9h-10l-3-9zm5 5l8 6-3 9h-10l-3-9zm6-10l8 6-3 9h-10l-3-9zm-80 91l8 6-3 9h-10l-3-9zm0 14l8 6-3 9h-10l-3-9zm-8 2l8 6-3 9h-10l-3-9zm-3-5l8 6-3 9h-10l-3-9zm0 9l8 6-3 9h-10l-3-9zm-3-8l8 6-3 9h-10l-3-9zm-30 32l8 6-3 9h-10l-3-9zm-9-35l8 6-3 9h-10l-3-9zm-48 79l8 6-3 9h-10l-3-9zm-13-66l8 6-3 9h-10l-3-9zm-2-1l8 6-3 9h-10l-3-9zm-4 33l8 6-3 9h-10l-3-9zm-14-6l8 6-3 9h-10l-3-9zm-7 21l8 6-3 9h-10l-3-9zm-1-41l8 6-3 9h-10l-3-9zm-13 41l8 6-3 9h-10l-3-9zm0 1l8 6-3 9h-10l-3-9z" fill="#2ca02c" stroke="#2ca02c" stroke-width="5.5" stroke-linejoin="round"/>
<path d="M4504 1510h0m-67 13h0m-7 98h0m2-34h0m23-14h0m1 31h0m9-20h0m6 30h0m23-24h0m0-10h0m5 18h0m7-8h0m1-33h0m4 29h0m1 2h0m23-23h0m2-10h0m1 4h0m4 1h0m17 4h0m-138 73h0m-29 13h0m-16 35h0m0-47h0m-24 28h0m-15 57h0m-2-17h0m-17-45h0m-2 48h0m-21 10h0m-18-15h0m-25 19h0m-51 78h0m16 9h0m21-20h0m6 26h0m1-37h0m1-24h0m7 44h0m5-28h0m1 23h0m10-2h0m6-55h0m1 54h0m8-19h0m2-14h0m2 25h0m0-25h0m1-8h0m3 19h0m4-7h0m1-28h0m-70 121h0m-2 3h0m-2-28h0m-16 34h0m-7 8h0m-5 15h0m-12-20h0m-6-20h0m-22 60h0m-9-60h0m-5 32h0m-3 15h0m-38-16h0m-3 27h0m-91 47h0m26 46h0m1 9h0m6 2h0m2-1h0m18-56h0m2 52h0m0-12h0m11 6h0m1-17h0m0-58h0m3 30h0m2 46h0m10-11h0m1-56h0m13 63h0m0-30h0m8 0h0m2 21h0m6-8h0m4-50h0m2 52h0m24-32h0m8-20h0m14-8h0m-86 117h0m-3-19h0m-13-1h0m-6 22h0m-5 35h0m-3-14h0m-3 15h0m-3 13h0m-13 21h0m-3-60h0m-1-1h0m-1 24h0m0-12h0m-6 47h0m-8-60h0m-2 30h0m-9-8h0m-6 39h0m15 13h0" stroke="#1f77b4" stroke-width="17" stroke-linecap="round" fill="none"/>
<path d="M4255 959h14l-7 12zm106 115h14l-7 12zm-98 24h14l-7 12zm-16 44h14l-7 12zm-33-34h14l-7 12zm-4 63h14l-7 12zm19 14h14l-7 12zm2 4h14l-7 12zm24 24h14l-7 12zm3 7h14l-7 12zm77 4h14l-7 12zm11 14h14l-7 12zm39-77h14l-7 12zm206 47h14l-7 12zm26 31h14l-7 12zm51 0h14l-7 12zm22-31h14l-7 12zm62 29h14l-7 12zm49-56h14l-7 12zm101 24h14l-7 12zm58-38h14l-7 12zm9 15h14l-7 12zm10 20h14l-7 12zm49 18h14l-7 12zm4 17h14l-7 12zm109 1h14l-7 12zm102 80h14l-7 12zm-144-26h14l-7 12zm-48 44h14l-7 12zm-35 0h14l-7 12zm-32-55h14l-7 12zm-3 56h14l-7 12zm-40-5h14l-7 12zm-25-39h14l-7 12zm-7-12h14l-7 12zm0 55h14l-7 12zm-10-17h14l-7 12zm-8-4h14l-7 12zm0-2h14l-7 12zm-46-66h14l-7 12zm-18 31h14l-7 12zm-9-23h14l-7 12zm-10 2h14l-7 12zm-23 75h14l-7 12zm-5-7h14l-7 12zm-25-28h14l-7 12zm-26 17h14l-7 12zm-39-38h14l-7 12zm-7 44h14l-7 12zm-5-8h14l-7 12zm-1-59h14l-7 12zm-35 20h14l-7 12zm-112 37h14l-7 12zm-60-62h14l-7 12zm-85 83h14l-7 12zm-13-71h14l-7 12zm-173 71h14l-7 12zm-26-74h14l-7 12zm120 98h14l-7 12zm13 65h14l-7 12zm20-37h14l-7 12zm7 33h14l-7 12zm2-76h14l-7 12zm34 76h14l-7 12zm15 12h14l-7 12zm12-6h14l-7 12zm16-12h14l-7 12zm26 13h14l-7 12zm15-29h14l-7 12zm15 14h14l-7 12zm4-52h14l-7 12zm7 65h14l-7 12zm11-48h14l-7 12zm17 61h14l-7 12zm17-80h14l-7 12zm11 67h14l-7 12zm70 13h14l-7 12zm27-14h14l-7 12zm12-37h14l-7 12zm0 49h14l-7 12zm32-67h14l-7 12zm13 10h14l-7 12zm17 17h14l-7 12zm14 19h14l-7 12zm10 16h14l-7 12zm22-25h14l-7 12zm8 8h14l-7 12zm1-50h14l-7 12zm1 53h14l-7 12zm5-47h14l-7 12zm2 56h14l-7 12zm2 1h14l-7 12zm4 3h14l-7 12zm3-45h14l-7 12zm11 9h14l-7 12zm2 4h14l-7 12zm14 23h14l-7 12zm3-2h14l-7 12zm20-25h14l-7 12zm8-42h14l-7 12zm5 5h14l-7 12zm1 59h14l-7 12zm13-41h14l-7 12zm29-10h14l-7 12zm5 8h14l-7 12zm9 62h14l-7 12zm25-21h14l-7 12zm3-44h14l-7 12zm18 24h14l-7 12zm7 11h14l-7 12zm38-59h14l-7 12zm51 35h14l-7 12zm2 2h14l-7 12zm7 11h14l-7 12zm2 6h14l-7 12zm7 5h14l-7 12zm14 32h14l-7 12zm9-48h14l-7 12zm6 7h14l-7 12zm13-29h14l-7 12zm5 2h14l-7 12zm1 22h14l-7 12zm24-38h14l-7 12zm38 18h14l-7 12zm32 5h14l-7 12zm19 48h14l-7 12zm58-7h14l-7 12zm87 88h14l-7 12zm-30-13h14l-7 12zm-44-35h14l-7 12zm-1-5h14l-7 12zm-41 34h14l-7 12zm-9-33h14l-7 12zm-2 66h14l-7 12zm-5-8h14l-7 12zm-4-10h14l-7 12zm-6-9h14l-7 12zm-10-22h14l-7 12zm-9 40h14l-7 12zm-15 24h14l-7 12zm-7-15h14l-7 12zm-3 0h14l-7 12zm-1-63h14l-7 12zm-4 52h14l-7 12zm-5-10h14l-7 12zm-41 29h14l-7 12zm-14-16h14l-7 12zm-22 9h14l-7 12zm0-4h14l-7 12zm-1-49h14l-7 12zm0 54h14l-7 12zm0-51h14l-7 12zm-14 22h14l-7 12zm-2 4h14l-7 12zm-6-16h14l-7 12zm-27 8h14l-7 12zm-10 41h14l-7 12zm-5-18h14l-7 12zm-3-45h14l-7 12zm-15-25h14l-7 12zm-1 47h14l-7 12zm-26 12h14l-7 12zm-41-5h14l-7 12zm-13-19h14l-7 12zm-10 30h14l-7 12zm-2-55h14l-7 12zm-6 0h14l-7 12zm-1 49h14l-7 12zm0-2h14l-7 12zm-25-29h14l-7 12zm-1 45h14l-7 12zm-2-50h14l-7 12zm-9 39h14l-7 12zm-4-56h14l-7 12zm-17 24h14l-7 12zm-13 35h14l-7 12zm-5-55h14l-7 12zm-20 29h14l-7 12zm-9 36h14l-7 12zm-7-10h14l-7 12zm0-1h14l-7 12zm-2-4h14l-7 12zm-1-1h14l-7 12zm-7-56h14l-7 12zm-5-1h14l-7 12zm-1 42h14l-7 12zm-1-41h14l-7 12zm-14 24h14l-7 12zm-2-3h14l-7 12zm-2 44h14l-7 12zm-11-59h14l-7 12zm-4-1h14l-7 12zm-2 42h14l-7 12zm-5 43h14l-7 12zm-18-17h14l-7 12zm-3-5h14l-7 12zm-7-7h14l-7 12zm-1-7h14l-7 12zm-5-44h14l-7 12zm-7-11h14l-7 12zm-12 86h14l-7 12zm-3-53h14l-7 12zm-7 40h14l-7 12zm-3-8h14l-7 12zm-5-1h14l-7 12zm0-44h14l-7 12zm-11-9h14l-7 12zm-2-13h14l-7 12zm-16 32h14l-7 12zm-14 36h14l-7 12zm-12-52h14l-7 12zm-7-10h14l-7 12zm-3 49h14l-7 12zm-3-51h14l-7 12zm-4 36h14l-7 12zm-6 47h14l-7 12zm-1-52h14l-7 12zm-3-4h14l-7 12zm-1 2h14l-7 12zm-2 42h14l-7 12zm-12-8h14l-7 12zm-11-15h14l-7 12zm-12-9h14l-7 12zm-3 43h14l-7 12zm-10-60h14l-7 12zm-1 65h14l-7 12zm-1-15h14l-7 12zm0 3h14l-7 12zm-4 2h14l-7 12zm-2 5h14l-7 12zm-1-26h14l-7 12zm-1 4h14l-7 12zm-3 5h14l-7 12zm-2-3h14l-7 12zm0-18h14l-7 12zm0 41h14l-7 12zm-3-70h14l-7 12zm-1 21h14l-7 12zm-3 6h14l-7 12zm0 5h14l-7 12zm-1 31h14l-7 12zm-3-30h14l-7 12zm0 6h14l-7 12zm-6 7h14l-7 12zm0-5h14l-7 12zm-1 5h14l-7 12zm-2-22h14l-7 12zm0 47h14l-7 12zm0-30h14l-7 12zm-2 4h14l-7 12zm-3-19h14l-7 12zm0-34h14l-7 12zm0 19h14l-7 12zm0 50h14l-7 12zm-2-29h14l-7 12zm-3 11h14l-7 12zm-1 13h14l-7 12zm-5 9h14l-7 12zm-1-51h14l-7 12zm-1 16h14l-7 12zm-4-20h14l-7 12zm-1 39h14l-7 12zm-3-30h14l-7 12zm0 43h14l-7 12zm0 3h14l-7 12zm-1 4h14l-7 12zm0-10h14l-7 12zm-5-9h14l-7 12zm-1 13h14l-7 12zm0-42h14l-7 12zm-1-17h14l-7 12zm-2 36h14l-7 12zm-5-10h14l-7 12zm-2 21h14l-7 12zm0-57h14l-7 12zm-5-7h14l-7 12zm-6 77h14l-7 12zm-2-7h14l-7 12zm-7-20h14l-7 12zm0-13h14l-7 12zm-4 39h14l-7 12zm-2-51h14l-7 12zm-1 58h14l-7 12zm-2-6h14l-7 12zm-3-48h14l-7 12zm-4 32h14l-7 12zm-5 3h14l-7 12zm-3-13h14l-7 12zm0 11h14l-7 12zm-1-7h14l-7 12zm-1-39h14l-7 12zm-3 19h14l-7 12zm-1 52h14l-7 12zm0-87h14l-7 12zm-2 83h14l-7 12zm-4-28h14l-7 12zm-2 17h14l-7 12zm-2-12h14l-7 12zm-2-10h14l-7 12zm-2-18h14l-7 12zm-2 0h14l-7 12zm-3 54h14l-7 12zm-1-42h14l-7 12zm0-2h14l-7 12zm-1 37h14l-7 12zm0-7h14l-7 12zm-3-37h14l-7 12zm0 43h14l-7 12zm-2-32h14l-7 12zm-1-4h14l-7 12zm0-12h14l-7 12zm-4 36h14l-7 12zm-7 11h14l-7 12zm-2-2h14l-7 12zm-1-57h14l-7 12zm-6 55h14l-7 12zm-2-51h14l-7 12zm-1 41h14l-7 12zm-1-41h14l-7 12zm-1 48h14l-7 12zm-1-3h14l-7 12zm-4-6h14l-7 12zm-1-1h14l-7 12zm-6-52h14l-7 12zm-1 46h14l-7 12zm-6-3h14l-7 12zm-17 20h14l-7 12zm-8 6h14l-7 12zm-8-17h14l-7 12zm-16-3h14l-7 12zm-4-26h14l-7 12zm-13-33h14l-7 12zm-2 67h14l-7 12zm-11 21h14l-7 12zm-15-13h14l-7 12zm-13 1h14l-7 12zm-20-18h14l-7 12zm-34-24h14l-7 12zm-30-30h14l-7 12zm-4 56h14l-7 12zm-43 33h14l-7 12zm60 52h14l-7 12zm3-30h14l-7 12zm0 9h14l-7 12zm6 46h14l-7 12zm4-38h14l-7 12zm10 51h14l-7 12zm10-43h14l-7 12zm11 5h14l-7 12zm0 27h14l-7 12zm1 2h14l-7 12zm2-28h14l-7 12zm1 28h14l-7 12zm19-59h14l-7 12zm1 46h14l-7 12zm7 4h14l-7 12zm0-20h14l-7 12zm4-1h14l-7 12zm6 25h14l-7 12zm7-58h14l-7 12zm0 63h14l-7 12zm4 3h14l-7 12zm5-16h14l-7 12zm2-23h14l-7 12zm5-28h14l-7 12zm4 10h14l-7 12zm3-13h14l-7 12zm4 45h14l-7 12zm2-9h14l-7 12zm6-14h14l-7 12zm4 55h14l-7 12zm2 0h14l-7 12zm3 1h14l-7 12zm0-6h14l-7 12zm1-30h14l-7 12zm0 27h14l-7 12zm4-16h14l-7 12zm0 2h14l-7 12zm3 7h14l-7 12zm0-15h14l-7 12zm2 16h14l-7 12zm2-46h14l-7 12zm7-8h14l-7 12zm0 9h14l-7 12zm2 58h14l-7 12zm4-7h14l-7 12zm5 0h14l-7 12zm0-24h14l-7 12zm3 18h14l-7 12zm0-77h14l-7 12zm0 88h14l-7 12zm1-35h14l-7 12zm0 18h14l-7 12zm1-29h14l-7 12zm3 8h14l-7 12zm0 35h14l-7 12zm5-1h14l-7 12zm1-52h14l-7 12zm1 5h14l-7 12zm1-35h14l-7 12zm0 83h14l-7 12zm0-60h14l-7 12zm2-28h14l-7 12zm2 89h14l-7 12zm1-13h14l-7 12zm2 10h14l-7 12zm0-68h14l-7 12zm1 76h14l-7 12zm1-6h14l-7 12zm2-44h14l-7 12zm1-2h14l-7 12zm1 24h14l-7 12zm3 19h14l-7 12zm5-12h14l-7 12zm1-56h14l-7 12zm1 17h14l-7 12zm2 37h14l-7 12zm0-57h14l-7 12zm1 0h14l-7 12zm2 34h14l-7 12zm1-17h14l-7 12zm3-8h14l-7 12zm1 51h14l-7 12zm0-32h14l-7 12zm3 16h14l-7 12zm1 12h14l-7 12zm1-28h14l-7 12zm1-7h14l-7 12zm1 52h14l-7 12zm0-26h14l-7 12zm1-36h14l-7 12zm1 47h14l-7 12zm0-21h14l-7 12zm2 38h14l-7 12zm0-1h14l-7 12zm0-56h14l-7 12zm1 55h14l-7 12zm1 5h14l-7 12zm0-81h14l-7 12zm6 51h14l-7 12zm0-34h14l-7 12zm2 62h14l-7 12zm2-7h14l-7 12zm1 3h14l-7 12zm0-27h14l-7 12zm1 24h14l-7 12zm1-68h14l-7 12zm2 30h14l-7 12zm0 35h14l-7 12zm1-75h14l-7 12zm3 70h14l-7 12zm1-19h14l-7 12zm0-26h14l-7 12zm1 28h14l-7 12zm0 9h14l-7 12zm1-3h14l-7 12zm1 26h14l-7 12zm1-19h14l-7 12zm0-23h14l-7 12zm1 21h14l-7 12zm0-11h14l-7 12zm2 2h14l-7 12zm0 19h14l-7 12zm0-3h14l-7 12zm1-25h14l-7 12zm0 3h14l-7 12zm0 13h14l-7 12zm1 3h14l-7 12zm0-67h14l-7 12zm1 38h14l-7 12zm5-38h14l-7 12zm1 22h14l-7 12zm1 12h14l-7 12zm1 54h14l-7 12zm3-39h14l-7 12zm0 2h14l-7 12zm1-53h14l-7 12zm0 74h14l-7 12zm2-50h14l-7 12zm0 26h14l-7 12zm0-12h14l-7 12zm3 25h14l-7 12zm1-48h14l-7 12zm1-9h14l-7 12zm1 26h14l-7 12zm0 57h14l-7 12zm1-35h14l-7 12zm0 25h14l-7 12zm1 9h14l-7 12zm3 2h14l-7 12zm0-49h14l-7 12zm0-26h14l-7 12zm1 67h14l-7 12zm0-33h14l-7 12zm0 28h14l-7 12zm0-6h14l-7 12zm1-26h14l-7 12zm1-17h14l-7 12zm2 18h14l-7 12zm0 42h14l-7 12zm0-89h14l-7 12zm1 6h14l-7 12zm1-2h14l-7 12zm3 17h14l-7 12zm1 49h14l-7 12zm0-38h14l-7 12zm1 45h14l-7 12zm0-44h14l-7 12zm0 59h14l-7 12zm1-68h14l-7 12zm2 11h14l-7 12zm0 11h14l-7 12zm2 13h14l-7 12zm0 21h14l-7 12zm2-68h14l-7 12zm1 41h14l-7 12zm2 3h14l-7 12zm0-24h14l-7 12zm4 14h14l-7 12zm0 15h14l-7 12zm1-40h14l-7 12zm0 70h14l-7 12zm3-24h14l-7 12zm2 11h14l-7 12zm1-36h14l-7 12zm0 20h14l-7 12zm1-49h14l-7 12zm1-13h14l-7 12zm2 59h14l-7 12zm1-50h14l-7 12zm2 38h14l-7 12zm2 29h14l-7 12zm0-53h14l-7 12zm2 56h14l-7 12zm0-5h14l-7 12zm1-21h14l-7 12zm0-32h14l-7 12zm2 27h14l-7 12zm3-48h14l-7 12zm0 22h14l-7 12zm1 38h14l-7 12zm1-29h14l-7 12zm0-26h14l-7 12zm4 68h14l-7 12zm0-18h14l-7 12zm0 8h14l-7 12zm0-30h14l-7 12zm0 33h14l-7 12zm6 3h14l-7 12zm0-20h14l-7 12zm3 18h14l-7 12zm2-60h14l-7 12zm2 16h14l-7 12zm2 24h14l-7 12zm0 14h14l-7 12zm1-49h14l-7 12zm2-12h14l-7 12zm1 50h14l-7 12zm0-15h14l-7 12zm0-31h14l-7 12zm2 55h14l-7 12zm3-10h14l-7 12zm1 4h14l-7 12zm1-51h14l-7 12zm1 35h14l-7 12zm3-1h14l-7 12zm2-24h14l-7 12zm3-7h14l-7 12zm0 3h14l-7 12zm2 19h14l-7 12zm4 10h14l-7 12zm0-14h14l-7 12zm1-23h14l-7 12zm1 30h14l-7 12zm4 13h14l-7 12zm1 0h14l-7 12zm0-17h14l-7 12zm8-19h14l-7 12zm2 15h14l-7 12zm4-5h14l-7 12zm3 16h14l-7 12zm0-6h14l-7 12zm475-25h14l-7 12zm42 11h14l-7 12zm55-6h14l-7 12zm33 9h14l-7 12zm23-13h14l-7 12zm83 65h14l-7 12zm9-40h14l-7 12zm24-4h14l-7 12zm2 68h14l-7 12zm3-5h14l-7 12zm23-55h14l-7 12zm32 76h14l-7 12zm-28-12h14l-7 12zm-873 1h14l-7 12zm-21 9h14l-7 12zm-3 0h14l-7 12zm-5-2h14l-7 12zm-9-8h14l-7 12zm-1 27h14l-7 12zm-1-12h14l-7 12zm0-13h14l-7 12zm-4 3h14l-7 12zm0 2h14l-7 12zm-1 0h14l-7 12zm-3 8h14l-7 12zm-4 19h14l-7 12zm0-13h14l-7 12zm0-14h14l-7 12zm-2 6h14l-7 12zm-6 17h14l-7 12zm-3 0h14l-7 12zm-1-7h14l-7 12zm-4 2h14l-7 12zm0 2h14l-7 12zm-1-21h14l-7 12zm-3-1h14l-7 12zm-1 45h14l-7 12zm0-48h14l-7 12zm-1 6h14l-7 12zm0 19h14l-7 12zm-4 5h14l-7 12zm-2-7h14l-7 12zm-1 34h14l-7 12zm0-14h14l-7 12zm0-11h14l-7 12zm-1 2h14l-7 12zm0-14h14l-7 12zm-1 30h14l-7 12zm-1-20h14l-7 12zm-1-1h14l-7 12zm0-21h14l-7 12zm0 23h14l-7 12zm-1 14h14l-7 12zm0 8h14l-7 12zm-1 4h14l-7 12zm0-57h14l-7 12zm-1 32h14l-7 12zm0-25h14l-7 12zm-1 51h14l-7 12zm0-8h14l-7 12zm-3-50h14l-7 12zm-1 33h14l-7 12zm0 30h14l-7 12zm-1-39h14l-7 12zm-1 16h14l-7 12zm0-14h14l-7 12zm-1 40h14l-7 12zm-1-65h14l-7 12zm-1 29h14l-7 12zm-1 5h14l-7 12zm-1-31h14l-7 12zm-1 66h14l-7 12zm-1-6h14l-7 12zm-1-46h14l-7 12zm-2 48h14l-7 12zm0-19h14l-7 12zm-2 20h14l-7 12zm-1-57h14l-7 12zm-1 67h14l-7 12zm-2-20h14l-7 12zm-1-10h14l-7 12zm-1 4h14l-7 12zm0 26h14l-7 12zm0-30h14l-7 12zm0 25h14l-7 12zm-1-4h14l-7 12zm-2-2h14l-7 12zm0-28h14l-7 12zm-2-22h14l-7 12zm0 43h14l-7 12zm-1-39h14l-7 12zm-1 66h14l-7 12zm-1-56h14l-7 12zm-1 47h14l-7 12zm-1-4h14l-7 12zm-1-11h14l-7 12zm-1-9h14l-7 12zm-1-41h14l-7 12zm0 29h14l-7 12zm-1-38h14l-7 12zm-2 77h14l-7 12zm0 2h14l-7 12zm-1-83h14l-7 12zm0 34h14l-7 12zm-1 42h14l-7 12zm-1-34h14l-7 12zm0-9h14l-7 12zm-1 41h14l-7 12zm0-36h14l-7 12zm0 40h14l-7 12zm-1-53h14l-7 12zm-1 29h14l-7 12zm0 3h14l-7 12zm-3-24h14l-7 12zm-1 45h14l-7 12zm0-13h14l-7 12zm-1-30h14l-7 12zm0 28h14l-7 12zm-1-31h14l-7 12zm-1 13h14l-7 12zm0 9h14l-7 12zm0-48h14l-7 12zm-2 88h14l-7 12zm-1-38h14l-7 12zm0-20h14l-7 12zm-2-4h14l-7 12zm0 55h14l-7 12zm0-45h14l-7 12zm0 9h14l-7 12zm-1 5h14l-7 12zm0 3h14l-7 12zm0-52h14l-7 12zm-1 20h14l-7 12zm0 47h14l-7 12zm0-46h14l-7 12zm0-6h14l-7 12zm-1 63h14l-7 12zm-2-3h14l-7 12zm0-7h14l-7 12zm-2-43h14l-7 12zm-1 15h14l-7 12zm-2 14h14l-7 12zm0-34h14l-7 12zm0 60h14l-7 12zm-4-41h14l-7 12zm0-42h14l-7 12zm-1-5h14l-7 12zm0 40h14l-7 12zm0-39h14l-7 12zm-1 76h14l-7 12zm0-7h14l-7 12zm0-15h14l-7 12zm-1-4h14l-7 12zm-2-46h14l-7 12zm-1 16h14l-7 12zm0 54h14l-7 12zm-1-11h14l-7 12zm0 4h14l-7 12zm-1 18h14l-7 12zm0-31h14l-7 12zm-2-19h14l-7 12zm-1 20h14l-7 12zm0 37h14l-7 12zm-4-58h14l-7 12zm0 36h14l-7 12zm0-66h14l-7 12zm0 25h14l-7 12zm-1 3h14l-7 12zm0-3h14l-7 12zm0-18h14l-7 12zm-1 48h14l-7 12zm0 8h14l-7 12zm-1-53h14l-7 12zm-3 74h14l-7 12zm-1-53h14l-7 12zm0 27h14l-7 12zm0-63h14l-7 12zm-1 24h14l-7 12zm-1-24h14l-7 12zm0 72h14l-7 12zm-1 2h14l-7 12zm-1 16h14l-7 12zm0-65h14l-7 12zm0 38h14l-7 12zm0 6h14l-7 12zm-1 23h14l-7 12zm0-32h14l-7 12zm-2 9h14l-7 12zm0-19h14l-7 12zm-2 44h14l-7 12zm0-54h14l-7 12zm-1 5h14l-7 12zm-1 47h14l-7 12zm0-3h14l-7 12zm-2-54h14l-7 12zm0 57h14l-7 12zm0-81h14l-7 12zm-1 21h14l-7 12zm0 14h14l-7 12zm-1 44h14l-7 12zm0-25h14l-7 12zm0-26h14l-7 12zm0 25h14l-7 12zm-3-52h14l-7 12zm0 20h14l-7 12zm0 29h14l-7 12zm-2 12h14l-7 12zm0-28h14l-7 12zm-1 6h14l-7 12zm-1-14h14l-7 12zm-1-26h14l-7 12zm-1 75h14l-7 12zm-1-6h14l-7 12zm-1-16h14l-7 12zm-1 11h14l-7 12zm-2-18h14l-7 12zm-2 38h14l-7 12zm0-4h14l-7 12zm-2-3h14l-7 12zm-2-40h14l-7 12zm0-8h14l-7 12zm0 38h14l-7 12zm-1-74h14l-7 12zm-2 40h14l-7 12zm-2 33h14l-7 12zm0-4h14l-7 12zm0-45h14l-7 12zm-3 44h14l-7 12zm-3-7h14l-7 12zm-2-19h14l-7 12zm0 17h14l-7 12zm-1 0h14l-7 12zm-1 23h14l-7 12zm-1-48h14l-7 12zm0 41h14l-7 12zm0-59h14l-7 12zm0 37h14l-7 12zm-1 21h14l-7 12zm-1-1h14l-7 12zm0 14h14l-7 12zm0-3h14l-7 12zm0-2h14l-7 12zm-1-67h14l-7 12zm0 15h14l-7 12zm-4-26h14l-7 12zm-1 14h14l-7 12zm0 38h14l-7 12zm-2-60h14l-7 12zm0 8h14l-7 12zm0 48h14l-7 12zm-3 33h14l-7 12zm-1-45h14l-7 12zm0 7h14l-7 12zm0 32h14l-7 12zm0-27h14l-7 12zm-3-9h14l-7 12zm-3 38h14l-7 12zm-1-25h14l-7 12zm-1-18h14l-7 12zm0-3h14l-7 12zm-4 13h14l-7 12zm-3 30h14l-7 12zm0-76h14l-7 12zm-1 39h14l-7 12zm-3 45h14l-7 12zm-7-9h14l-7 12zm-1-8h14l-7 12zm-2-7h14l-7 12zm0 12h14l-7 12zm-2-52h14l-7 12zm-3 21h14l-7 12zm-1-14h14l-7 12zm-2 48h14l-7 12zm-7 1h14l-7 12zm-1-46h14l-7 12zm0 48h14l-7 12zm-2-40h14l-7 12zm-1 18h14l-7 12zm-2 14h14l-7 12zm-4-49h14l-7 12zm-2 66h14l-7 12zm-1-34h14l-7 12zm0-12h14l-7 12zm-6 45h14l-7 12zm-2-92h14l-7 12zm-9 24h14l-7 12zm-8 29h14l-7 12zm-1-20h14l-7 12zm-4 61h14l-7 12zm-11-43h14l-7 12zm-2 29h14l-7 12zm-3-28h14l-7 12zm-7-36h14l-7 12zm-8 65h14l-7 12zm-12-3h14l-7 12zm-24 93h14l-7 12zm14 8h14l-7 12zm0-12h14l-7 12zm6-17h14l-7 12zm5 4h14l-7 12zm1-34h14l-7 12zm10 10h14l-7 12zm5 52h14l-7 12zm2-20h14l-7 12zm0-18h14l-7 12zm0 45h14l-7 12zm1 1h14l-7 12zm4-47h14l-7 12zm0 34h14l-7 12zm1-37h14l-7 12zm1 38h14l-7 12zm2 9h14l-7 12zm6-52h14l-7 12zm1 49h14l-7 12zm0-6h14l-7 12zm4 5h14l-7 12zm4 3h14l-7 12zm3-76h14l-7 12zm0 48h14l-7 12zm2-54h14l-7 12zm0 42h14l-7 12zm1-14h14l-7 12zm0 44h14l-7 12zm1-14h14l-7 12zm2-29h14l-7 12zm2-28h14l-7 12zm0 83h14l-7 12zm1-90h14l-7 12zm2 61h14l-7 12zm1 6h14l-7 12zm0-17h14l-7 12zm1-19h14l-7 12zm1 35h14l-7 12zm1 17h14l-7 12zm0 1h14l-7 12zm1-54h14l-7 12zm1 7h14l-7 12zm1-19h14l-7 12zm2 54h14l-7 12zm2-57h14l-7 12zm1 36h14l-7 12zm1 30h14l-7 12zm1-37h14l-7 12zm0 39h14l-7 12zm0-15h14l-7 12zm0-52h14l-7 12zm0 46h14l-7 12zm1-26h14l-7 12zm0 2h14l-7 12zm1 42h14l-7 12zm2-13h14l-7 12zm1-6h14l-7 12zm2 24h14l-7 12zm2 1h14l-7 12zm1-28h14l-7 12zm1 29h14l-7 12zm1 6h14l-7 12zm0-61h14l-7 12zm0 56h14l-7 12zm2-32h14l-7 12zm1-25h14l-7 12zm0 39h14l-7 12zm0-58h14l-7 12zm2 35h14l-7 12zm0-22h14l-7 12zm2 53h14l-7 12zm1 7h14l-7 12zm1-54h14l-7 12zm0 55h14l-7 12zm0-28h14l-7 12zm2 8h14l-7 12zm1 6h14l-7 12zm1 6h14l-7 12zm0-5h14l-7 12zm2 10h14l-7 12zm1-58h14l-7 12zm0 53h14l-7 12zm0-67h14l-7 12zm1 51h14l-7 12zm0-27h14l-7 12zm1 2h14l-7 12zm1-29h14l-7 12zm0 24h14l-7 12zm0 47h14l-7 12zm0-15h14l-7 12zm2-1h14l-7 12zm1-18h14l-7 12zm1-37h14l-7 12zm1 13h14l-7 12zm0 28h14l-7 12zm1 10h14l-7 12zm1 16h14l-7 12zm0-7h14l-7 12zm0 16h14l-7 12zm3-79h14l-7 12zm0 76h14l-7 12zm1-11h14l-7 12zm0-48h14l-7 12zm0 55h14l-7 12zm1-2h14l-7 12zm1-23h14l-7 12zm2 22h14l-7 12zm0-39h14l-7 12zm2 5h14l-7 12zm0-14h14l-7 12zm1-28h14l-7 12zm0 69h14l-7 12zm2-48h14l-7 12zm1 48h14l-7 12zm1 23h14l-7 12zm1-75h14l-7 12zm0 66h14l-7 12zm0-40h14l-7 12zm1 22h14l-7 12zm1-48h14l-7 12zm0 6h14l-7 12zm0-23h14l-7 12zm0 89h14l-7 12zm1-45h14l-7 12zm1-2h14l-7 12zm0-39h14l-7 12zm1 90h14l-7 12zm0 1h14l-7 12zm1-50h14l-7 12zm0-43h14l-7 12zm0 88h14l-7 12zm0-81h14l-7 12zm1 84h14l-7 12zm0 2h14l-7 12zm1-68h14l-7 12zm0 16h14l-7 12zm0-34h14l-7 12zm1 13h14l-7 12zm0 71h14l-7 12zm4-62h14l-7 12zm1 4h14l-7 12zm1 33h14l-7 12zm0 15h14l-7 12zm0-78h14l-7 12zm1 65h14l-7 12zm1-32h14l-7 12zm1-13h14l-7 12zm1 27h14l-7 12zm0 16h14l-7 12zm0 12h14l-7 12zm1 3h14l-7 12zm0-78h14l-7 12zm1 35h14l-7 12zm1-2h14l-7 12zm1 46h14l-7 12zm0-63h14l-7 12zm1-14h14l-7 12zm1 35h14l-7 12zm0-27h14l-7 12zm0 47h14l-7 12zm0-13h14l-7 12zm0 46h14l-7 12zm1-7h14l-7 12zm0-60h14l-7 12zm1-23h14l-7 12zm0 56h14l-7 12zm0-5h14l-7 12zm2 13h14l-7 12zm0-11h14l-7 12zm0-2h14l-7 12zm1-20h14l-7 12zm0 37h14l-7 12zm1-9h14l-7 12zm0 31h14l-7 12zm0-34h14l-7 12zm0 31h14l-7 12zm1-55h14l-7 12zm0 29h14l-7 12zm0 4h14l-7 12zm1 25h14l-7 12zm0-13h14l-7 12zm0-14h14l-7 12zm1-26h14l-7 12zm0-2h14l-7 12zm0 33h14l-7 12zm1-41h14l-7 12zm0 60h14l-7 12zm0-10h14l-7 12zm1-30h14l-7 12zm0 10h14l-7 12zm0 10h14l-7 12zm1 13h14l-7 12zm1-33h14l-7 12zm0 7h14l-7 12zm0 23h14l-7 12zm0-16h14l-7 12zm1-34h14l-7 12zm0 31h14l-7 12zm0-36h14l-7 12zm1 13h14l-7 12zm0 36h14l-7 12zm1 16h14l-7 12zm0-63h14l-7 12zm0-13h14l-7 12zm0 26h14l-7 12zm1 8h14l-7 12zm0-10h14l-7 12zm1 26h14l-7 12zm1-5h14l-7 12zm0 29h14l-7 12zm1-24h14l-7 12zm0 21h14l-7 12zm2-75h14l-7 12zm1 76h14l-7 12zm0-4h14l-7 12zm1-45h14l-7 12zm0 42h14l-7 12zm1-73h14l-7 12zm0 42h14l-7 12zm0-28h14l-7 12zm0 43h14l-7 12zm0-11h14l-7 12zm0 39h14l-7 12zm1-78h14l-7 12zm0 55h14l-7 12zm0-18h14l-7 12zm0 42h14l-7 12zm1-19h14l-7 12zm0-2h14l-7 12zm0-31h14l-7 12zm0-31h14l-7 12zm0 3h14l-7 12zm1 80h14l-7 12zm0-36h14l-7 12zm0-7h14l-7 12zm1-14h14l-7 12zm1 48h14l-7 12zm1 5h14l-7 12zm0-48h14l-7 12zm1 42h14l-7 12zm0-23h14l-7 12zm0-57h14l-7 12zm0 25h14l-7 12zm0 37h14l-7 12zm1 8h14l-7 12zm1-73h14l-7 12zm0 28h14l-7 12zm0-27h14l-7 12zm2 72h14l-7 12zm0-15h14l-7 12zm0-6h14l-7 12zm2-18h14l-7 12zm0 39h14l-7 12zm2-22h14l-7 12zm0-31h14l-7 12zm0 2h14l-7 12zm1 7h14l-7 12zm0 9h14l-7 12zm1 15h14l-7 12zm2 7h14l-7 12zm0-38h14l-7 12zm0-11h14l-7 12zm0 60h14l-7 12zm1-2h14l-7 12zm0-68h14l-7 12zm0 65h14l-7 12zm1-45h14l-7 12zm1 48h14l-7 12zm2-67h14l-7 12zm0 33h14l-7 12zm0 10h14l-7 12zm1-24h14l-7 12zm0 30h14l-7 12zm1-38h14l-7 12zm0 43h14l-7 12zm0-42h14l-7 12zm0-12h14l-7 12zm2-2h14l-7 12zm2 43h14l-7 12zm0-22h14l-7 12zm1-17h14l-7 12zm0 27h14l-7 12zm1-5h14l-7 12zm1 23h14l-7 12zm1 5h14l-7 12zm0-14h14l-7 12zm0-8h14l-7 12zm1-28h14l-7 12zm0 48h14l-7 12zm3-11h14l-7 12zm1-14h14l-7 12zm1 17h14l-7 12zm1-29h14l-7 12zm0 25h14l-7 12zm0 4h14l-7 12zm3-15h14l-7 12zm1-7h14l-7 12zm0 19h14l-7 12zm0-14h14l-7 12zm1-14h14l-7 12zm2 24h14l-7 12zm3-4h14l-7 12zm3-25h14l-7 12zm1 5h14l-7 12zm2-1h14l-7 12zm1-6h14l-7 12zm4 1h14l-7 12zm1 6h14l-7 12zm3-12h14l-7 12zm2 0h14l-7 12zm4 3h14l-7 12zm4 0h14l-7 12zm0-4h14l-7 12zm2 1h14l-7 12zm-81 104h14l-7 12zm-3 0h14l-7 12zm-1 3h14l-7 12zm-2-6h14l-7 12zm-2 15h14l-7 12zm-1-2h14l-7 12zm-2 0h14l-7 12zm-1 5h14l-7 12zm-1-23h14l-7 12zm0 11h14l-7 12zm-5 1h14l-7 12zm0 11h14l-7 12zm0-7h14l-7 12zm0 10h14l-7 12zm0-7h14l-7 12zm-1-2h14l-7 12zm0 18h14l-7 12zm-1-19h14l-7 12zm0 3h14l-7 12zm-1 1h14l-7 12zm-1-12h14l-7 12zm0 2h14l-7 12zm-2 19h14l-7 12zm0 6h14l-7 12zm-1 10h14l-7 12zm-2-23h14l-7 12zm0-21h14l-7 12zm-1 33h14l-7 12zm0 9h14l-7 12zm-1-42h14l-7 12zm0 26h14l-7 12zm0 22h14l-7 12zm0-50h14l-7 12zm-1 41h14l-7 12zm-2-8h14l-7 12zm0 17h14l-7 12zm0-47h14l-7 12zm-1 19h14l-7 12zm-3 28h14l-7 12zm0-30h14l-7 12zm0-17h14l-7 12zm-1 41h14l-7 12zm-1-16h14l-7 12zm-1-22h14l-7 12zm0 15h14l-7 12zm0-13h14l-7 12zm-1 41h14l-7 12zm0-25h14l-7 12zm-1 23h14l-7 12zm0-20h14l-7 12zm0 12h14l-7 12zm0-16h14l-7 12zm-1 32h14l-7 12zm0 8h14l-7 12zm-1-5h14l-7 12zm0-33h14l-7 12zm-1 0h14l-7 12zm-1 43h14l-7 12zm0-7h14l-7 12zm0-29h14l-7 12zm-1 4h14l-7 12zm0 12h14l-7 12zm0-6h14l-7 12zm-1-13h14l-7 12zm0 30h14l-7 12zm0-40h14l-7 12zm-1 32h14l-7 12zm0-11h14l-7 12zm0 16h14l-7 12zm-1-22h14l-7 12zm0 10h14l-7 12zm0-2h14l-7 12zm-1 18h14l-7 12zm0-50h14l-7 12zm-1 33h14l-7 12zm0-39h14l-7 12zm0-1h14l-7 12zm-1 61h14l-7 12zm0-36h14l-7 12zm0-5h14l-7 12zm0 6h14l-7 12zm0-21h14l-7 12zm0 5h14l-7 12zm0 45h14l-7 12zm0-42h14l-7 12zm0 25h14l-7 12zm-1-35h14l-7 12zm0 22h14l-7 12zm0 35h14l-7 12zm-1-50h14l-7 12zm-1 14h14l-7 12zm0-17h14l-7 12zm-1 30h14l-7 12zm0-12h14l-7 12zm0-19h14l-7 12zm-1 31h14l-7 12zm0 22h14l-7 12zm0 2h14l-7 12zm0 14h14l-7 12zm-1-74h14l-7 12zm0 66h14l-7 12zm-1-35h14l-7 12zm-1 31h14l-7 12zm0 6h14l-7 12zm-1-45h14l-7 12zm0 42h14l-7 12zm-2-42h14l-7 12zm0-21h14l-7 12zm0 63h14l-7 12zm-1-61h14l-7 12zm0 23h14l-7 12zm0-26h14l-7 12zm-1 24h14l-7 12zm0 19h14l-7 12zm-1-46h14l-7 12zm0 17h14l-7 12zm-1 14h14l-7 12zm0 10h14l-7 12zm0 13h14l-7 12zm0-47h14l-7 12zm0 60h14l-7 12zm0-59h14l-7 12zm-1 36h14l-7 12zm0-41h14l-7 12zm0 24h14l-7 12zm0-17h14l-7 12zm0-10h14l-7 12zm0 16h14l-7 12zm-1 9h14l-7 12zm0 10h14l-7 12zm-1 49h14l-7 12zm0-9h14l-7 12zm-2-46h14l-7 12zm0 62h14l-7 12zm-1-29h14l-7 12zm0 25h14l-7 12zm0-30h14l-7 12zm-1-23h14l-7 12zm0-5h14l-7 12zm0 24h14l-7 12zm0-35h14l-7 12zm0-10h14l-7 12zm0 2h14l-7 12zm-1 31h14l-7 12zm0-1h14l-7 12zm-1 45h14l-7 12zm0-42h14l-7 12zm-1 40h14l-7 12zm0-37h14l-7 12zm0-14h14l-7 12zm0-7h14l-7 12zm-1 42h14l-7 12zm0 11h14l-7 12zm0-14h14l-7 12zm0 14h14l-7 12zm-1-23h14l-7 12zm0-28h14l-7 12zm0 38h14l-7 12zm-1 16h14l-7 12zm0-13h14l-7 12zm0-18h14l-7 12zm-1 25h14l-7 12zm0-5h14l-7 12zm0 9h14l-7 12zm0 6h14l-7 12zm0-5h14l-7 12zm0-19h14l-7 12zm-1-27h14l-7 12zm0 11h14l-7 12zm-1 15h14l-7 12zm0 26h14l-7 12zm-1-82h14l-7 12zm-1 5h14l-7 12zm0 10h14l-7 12zm-1 52h14l-7 12zm0-58h14l-7 12zm-1 49h14l-7 12zm0-42h14l-7 12zm0 64h14l-7 12zm-1 5h14l-7 12zm0-12h14l-7 12zm0-14h14l-7 12zm0 5h14l-7 12zm-1-18h14l-7 12zm0 7h14l-7 12zm-1 24h14l-7 12zm0 11h14l-7 12zm0-8h14l-7 12zm-1-54h14l-7 12zm0-2h14l-7 12zm0 48h14l-7 12zm-1-33h14l-7 12zm0-30h14l-7 12zm0 44h14l-7 12zm0 30h14l-7 12zm-1 2h14l-7 12zm0-54h14l-7 12zm0 26h14l-7 12zm-1-14h14l-7 12zm0 27h14l-7 12zm0-3h14l-7 12zm0 13h14l-7 12zm0-61h14l-7 12zm-1 30h14l-7 12zm0 9h14l-7 12zm0-64h14l-7 12zm0 79h14l-7 12zm0-42h14l-7 12zm0-11h14l-7 12zm0 59h14l-7 12zm0-60h14l-7 12zm-1 24h14l-7 12zm0 3h14l-7 12zm0 39h14l-7 12zm-1-62h14l-7 12zm0 19h14l-7 12zm-1 34h14l-7 12zm0-71h14l-7 12zm0 83h14l-7 12zm0-4h14l-7 12zm-1-12h14l-7 12zm-1 11h14l-7 12zm0-7h14l-7 12zm0-69h14l-7 12zm-1 23h14l-7 12zm0 47h14l-7 12zm0-12h14l-7 12zm0-55h14l-7 12zm-1 50h14l-7 12zm0 24h14l-7 12zm-1-76h14l-7 12zm0 38h14l-7 12zm0-13h14l-7 12zm0 17h14l-7 12zm-2 1h14l-7 12zm0-19h14l-7 12zm-1-7h14l-7 12zm0-2h14l-7 12zm0 28h14l-7 12zm-1-21h14l-7 12zm0-8h14l-7 12zm0 41h14l-7 12zm-1 21h14l-7 12zm0-46h14l-7 12zm0 6h14l-7 12zm-1 12h14l-7 12zm0-33h14l-7 12zm0 33h14l-7 12zm0 24h14l-7 12zm-1-66h14l-7 12zm0 35h14l-7 12zm0-2h14l-7 12zm0-11h14l-7 12zm0-3h14l-7 12zm0-4h14l-7 12zm0 32h14l-7 12zm-1 17h14l-7 12zm0-40h14l-7 12zm0-42h14l-7 12zm0 88h14l-7 12zm-2-68h14l-7 12zm0 65h14l-7 12zm0-34h14l-7 12zm-1-7h14l-7 12zm0-41h14l-7 12zm-1 45h14l-7 12zm0 28h14l-7 12zm-1-60h14l-7 12zm0 67h14l-7 12zm0-66h14l-7 12zm-1 38h14l-7 12zm-1-34h14l-7 12zm0 25h14l-7 12zm-1 5h14l-7 12zm0 40h14l-7 12zm0-58h14l-7 12zm0 6h14l-7 12zm-1-10h14l-7 12zm-1 7h14l-7 12zm-1 20h14l-7 12zm-1-55h14l-7 12zm0 29h14l-7 12zm-1 39h14l-7 12zm0-60h14l-7 12zm-1 33h14l-7 12zm0 36h14l-7 12zm-1-48h14l-7 12zm0-7h14l-7 12zm0 42h14l-7 12zm-1 6h14l-7 12zm0-19h14l-7 12zm0 29h14l-7 12zm0-61h14l-7 12zm-1 72h14l-7 12zm0-47h14l-7 12zm-1 33h14l-7 12zm-1-48h14l-7 12zm0-17h14l-7 12zm0 61h14l-7 12zm0 6h14l-7 12zm0-34h14l-7 12zm0 33h14l-7 12zm-1-14h14l-7 12zm0-2h14l-7 12zm-1-47h14l-7 12zm0 54h14l-7 12zm0 9h14l-7 12zm-2-35h14l-7 12zm0-8h14l-7 12zm0-37h14l-7 12zm0 86h14l-7 12zm-2-44h14l-7 12zm0 45h14l-7 12zm0-40h14l-7 12zm0-24h14l-7 12zm-1 61h14l-7 12zm-1-77h14l-7 12zm-1 84h14l-7 12zm0-35h14l-7 12zm0-42h14l-7 12zm0 80h14l-7 12zm-1-11h14l-7 12zm0-67h14l-7 12zm0 4h14l-7 12zm-1 38h14l-7 12zm0 28h14l-7 12zm-1 1h14l-7 12zm0-80h14l-7 12zm0 19h14l-7 12zm-1 25h14l-7 12zm0-5h14l-7 12zm0 25h14l-7 12zm-2-42h14l-7 12zm0 60h14l-7 12zm0-6h14l-7 12zm-1 0h14l-7 12zm0-20h14l-7 12zm-2 6h14l-7 12zm0 19h14l-7 12zm0-74h14l-7 12zm0 54h14l-7 12zm-1 21h14l-7 12zm-1-75h14l-7 12zm0 51h14l-7 12zm-1 23h14l-7 12zm0-17h14l-7 12zm-1 12h14l-7 12zm0-69h14l-7 12zm-1 15h14l-7 12zm-1 16h14l-7 12zm-1-2h14l-7 12zm-3 24h14l-7 12zm-1-10h14l-7 12zm0-13h14l-7 12zm-3 27h14l-7 12zm0 3h14l-7 12zm-4-59h14l-7 12zm0 42h14l-7 12zm0 10h14l-7 12zm-1-25h14l-7 12zm-2 7h14l-7 12zm0-18h14l-7 12zm-1 9h14l-7 12zm0 22h14l-7 12zm-1-36h14l-7 12zm0 68h14l-7 12zm-1-9h14l-7 12zm0-36h14l-7 12zm-1-35h14l-7 12zm0-6h14l-7 12zm-1-3h14l-7 12zm0 48h14l-7 12zm-1 26h14l-7 12zm-1-32h14l-7 12zm-2 38h14l-7 12zm0-2h14l-7 12zm-1 9h14l-7 12zm0-14h14l-7 12zm-2-77h14l-7 12zm-1 57h14l-7 12zm0-4h14l-7 12zm-1 10h14l-7 12zm0 22h14l-7 12zm-2-3h14l-7 12zm0 7h14l-7 12zm0-3h14l-7 12zm-3-38h14l-7 12zm-1 29h14l-7 12zm0-7h14l-7 12zm-4 19h14l-7 12zm-2 0h14l-7 12zm-1-69h14l-7 12zm-2-21h14l-7 12zm-3 89h14l-7 12zm0-4h14l-7 12zm-2-41h14l-7 12zm-1 2h14l-7 12zm-1 32h14l-7 12zm-8-32h14l-7 12zm0 0h14l-7 12zm-19 34h14l-7 12zm-4-6h14l-7 12zm-12-70h14l-7 12zm-2 16h14l-7 12zm-8 47h14l-7 12zm-18 104h14l-7 12zm19 6h14l-7 12zm4 7h14l-7 12zm7 4h14l-7 12zm1-62h14l-7 12zm5 32h14l-7 12zm3 25h14l-7 12zm2-5h14l-7 12zm0-20h14l-7 12zm0 29h14l-7 12zm2-82h14l-7 12zm1 74h14l-7 12zm0 6h14l-7 12zm0-39h14l-7 12zm1 14h14l-7 12zm2-49h14l-7 12zm1 47h14l-7 12zm6 20h14l-7 12zm0-81h14l-7 12zm1 70h14l-7 12zm1-47h14l-7 12zm0 52h14l-7 12zm1 17h14l-7 12zm1-5h14l-7 12zm1-85h14l-7 12zm0 66h14l-7 12zm2-19h14l-7 12zm0 41h14l-7 12zm0-8h14l-7 12zm1 10h14l-7 12zm1 1h14l-7 12zm1-8h14l-7 12zm0-18h14l-7 12zm0 14h14l-7 12zm2-5h14l-7 12zm1 2h14l-7 12zm1 1h14l-7 12zm1-14h14l-7 12zm0-36h14l-7 12zm0 58h14l-7 12zm1-19h14l-7 12zm1 3h14l-7 12zm0 19h14l-7 12zm0-44h14l-7 12zm0-30h14l-7 12zm1 60h14l-7 12zm1 2h14l-7 12zm0-14h14l-7 12zm0-4h14l-7 12zm3 18h14l-7 12zm1-55h14l-7 12zm1 52h14l-7 12zm0-34h14l-7 12zm1 33h14l-7 12zm0 1h14l-7 12zm0-34h14l-7 12zm1 14h14l-7 12zm0 21h14l-7 12zm0 1h14l-7 12zm0-13h14l-7 12zm1-13h14l-7 12zm1 40h14l-7 12zm0-13h14l-7 12zm1-5h14l-7 12zm0-30h14l-7 12zm1-8h14l-7 12zm0-15h14l-7 12zm0 29h14l-7 12zm0 18h14l-7 12zm1 3h14l-7 12zm0-51h14l-7 12zm1 46h14l-7 12zm0-28h14l-7 12zm0 28h14l-7 12zm1-31h14l-7 12zm0 46h14l-7 12zm0 1h14l-7 12zm2 2h14l-7 12zm0-79h14l-7 12zm0 64h14l-7 12zm0 13h14l-7 12zm1-47h14l-7 12zm0 58h14l-7 12zm1-10h14l-7 12zm0-12h14l-7 12zm0 20h14l-7 12zm0-40h14l-7 12zm1-49h14l-7 12zm0 72h14l-7 12zm1-19h14l-7 12zm0-12h14l-7 12zm0 14h14l-7 12zm0 9h14l-7 12zm1-51h14l-7 12zm0 26h14l-7 12zm0 53h14l-7 12zm1-55h14l-7 12zm0 47h14l-7 12zm0-10h14l-7 12zm0-21h14l-7 12zm0 24h14l-7 12zm1 7h14l-7 12zm0-31h14l-7 12zm0 20h14l-7 12zm0-9h14l-7 12zm1-65h14l-7 12zm1 8h14l-7 12zm0-7h14l-7 12zm0 22h14l-7 12zm0 6h14l-7 12zm1 33h14l-7 12zm0 19h14l-7 12zm0 10h14l-7 12zm1-66h14l-7 12zm0 46h14l-7 12zm0-10h14l-7 12zm1-4h14l-7 12zm0-15h14l-7 12zm1 47h14l-7 12zm0-47h14l-7 12zm0 6h14l-7 12zm1 11h14l-7 12zm0-19h14l-7 12zm0-4h14l-7 12zm0-38h14l-7 12zm0 39h14l-7 12zm0 28h14l-7 12zm0 6h14l-7 12zm0-13h14l-7 12zm1 27h14l-7 12zm0-13h14l-7 12zm0 8h14l-7 12zm1-37h14l-7 12zm0-25h14l-7 12zm0 24h14l-7 12zm0 20h14l-7 12zm1-14h14l-7 12zm0-3h14l-7 12zm1-42h14l-7 12zm0 49h14l-7 12zm0-20h14l-7 12zm1-26h14l-7 12zm0 71h14l-7 12zm0-63h14l-7 12zm0 69h14l-7 12zm1-5h14l-7 12zm0-35h14l-7 12zm1-41h14l-7 12zm0 65h14l-7 12zm0-9h14l-7 12zm0-29h14l-7 12zm0-11h14l-7 12zm1 33h14l-7 12zm0 0h14l-7 12zm0 35h14l-7 12zm0-82h14l-7 12zm0 50h14l-7 12zm0-15h14l-7 12zm0-7h14l-7 12zm0-27h14l-7 12zm1 5h14l-7 12zm0 0h14l-7 12zm1 75h14l-7 12zm0-3h14l-7 12zm0 4h14l-7 12zm0-34h14l-7 12zm0-16h14l-7 12zm1 6h14l-7 12zm0 1h14l-7 12zm0 8h14l-7 12zm0-42h14l-7 12zm1 66h14l-7 12zm0-34h14l-7 12zm0 50h14l-7 12zm0-77h14l-7 12zm1 70h14l-7 12zm0-48h14l-7 12zm0 53h14l-7 12zm0-41h14l-7 12zm0-20h14l-7 12zm1-29h14l-7 12zm0 51h14l-7 12zm0 31h14l-7 12zm0-60h14l-7 12zm0 60h14l-7 12zm1-51h14l-7 12zm0-19h14l-7 12zm0 55h14l-7 12zm0-67h14l-7 12zm0 41h14l-7 12zm0-3h14l-7 12zm0 5h14l-7 12zm1 44h14l-7 12zm0-54h14l-7 12zm0 27h14l-7 12zm0 16h14l-7 12zm0-8h14l-7 12zm0 4h14l-7 12zm0-70h14l-7 12zm1 68h14l-7 12zm0-43h14l-7 12zm0 42h14l-7 12zm0 6h14l-7 12zm0-45h14l-7 12zm0 19h14l-7 12zm1 19h14l-7 12zm0-16h14l-7 12zm0 24h14l-7 12zm0-3h14l-7 12zm1-62h14l-7 12zm0 43h14l-7 12zm0 15h14l-7 12zm2-62h14l-7 12zm0 50h14l-7 12zm0 30h14l-7 12zm0-73h14l-7 12zm0 30h14l-7 12zm0-11h14l-7 12zm1 28h14l-7 12zm0-40h14l-7 12zm0 26h14l-7 12zm0-16h14l-7 12zm0 0h14l-7 12zm1 21h14l-7 12zm0-51h14l-7 12zm0 70h14l-7 12zm0-16h14l-7 12zm0-15h14l-7 12zm0 41h14l-7 12zm1-20h14l-7 12zm0-21h14l-7 12zm0-9h14l-7 12zm0 11h14l-7 12zm1 23h14l-7 12zm0-31h14l-7 12zm0 34h14l-7 12zm0 2h14l-7 12zm0 10h14l-7 12zm1-21h14l-7 12zm0 24h14l-7 12zm0-4h14l-7 12zm0 7h14l-7 12zm0-13h14l-7 12zm0-31h14l-7 12zm1-32h14l-7 12zm0 64h14l-7 12zm0-41h14l-7 12zm0 18h14l-7 12zm1-34h14l-7 12zm0 69h14l-7 12zm0-65h14l-7 12zm1 41h14l-7 12zm0-24h14l-7 12zm0 31h14l-7 12zm0-14h14l-7 12zm1-21h14l-7 12zm0 43h14l-7 12zm0 1h14l-7 12zm0-4h14l-7 12zm0-14h14l-7 12zm1 20h14l-7 12zm0-38h14l-7 12zm0-41h14l-7 12zm0 46h14l-7 12zm1-4h14l-7 12zm0 19h14l-7 12zm1-9h14l-7 12zm0-52h14l-7 12zm0 4h14l-7 12zm0 70h14l-7 12zm0-64h14l-7 12zm1 54h14l-7 12zm0-64h14l-7 12zm0 69h14l-7 12zm1-33h14l-7 12zm0-31h14l-7 12zm0 23h14l-7 12zm0 20h14l-7 12zm0-4h14l-7 12zm0-41h14l-7 12zm0 69h14l-7 12zm1-3h14l-7 12zm1-54h14l-7 12zm1 49h14l-7 12zm0-24h14l-7 12zm0 29h14l-7 12zm0-18h14l-7 12zm0 1h14l-7 12zm1-45h14l-7 12zm0 34h14l-7 12zm0 7h14l-7 12zm1-20h14l-7 12zm1 40h14l-7 12zm0-61h14l-7 12zm0 26h14l-7 12zm0-14h14l-7 12zm0 0h14l-7 12zm0 3h14l-7 12zm1 6h14l-7 12zm0 14h14l-7 12zm0-1h14l-7 12zm1 4h14l-7 12zm0-19h14l-7 12zm0 6h14l-7 12zm0-1h14l-7 12zm0 12h14l-7 12zm1-3h14l-7 12zm0-8h14l-7 12zm0 11h14l-7 12zm0-35h14l-7 12zm0 25h14l-7 12zm1 14h14l-7 12zm0-44h14l-7 12zm0 2h14l-7 12zm0 2h14l-7 12zm0 30h14l-7 12zm1-17h14l-7 12zm0 27h14l-7 12zm1-14h14l-7 12zm1-11h14l-7 12zm1-20h14l-7 12zm0 48h14l-7 12zm0-1h14l-7 12zm0-19h14l-7 12zm1-14h14l-7 12zm0 21h14l-7 12zm0-26h14l-7 12zm0 1h14l-7 12zm1 13h14l-7 12zm0-25h14l-7 12zm0 5h14l-7 12zm0 33h14l-7 12zm1-9h14l-7 12zm0-22h14l-7 12zm0 0h14l-7 12zm0 35h14l-7 12zm0-4h14l-7 12zm1-5h14l-7 12zm1 7h14l-7 12zm0-22h14l-7 12zm0-6h14l-7 12zm1-6h14l-7 12zm0 34h14l-7 12zm1-15h14l-7 12zm0 19h14l-7 12zm1-25h14l-7 12zm1-19h14l-7 12zm0 22h14l-7 12zm1 4h14l-7 12zm1-28h14l-7 12zm1 27h14l-7 12zm0-26h14l-7 12zm0 32h14l-7 12zm1-27h14l-7 12zm1-5h14l-7 12zm0 17h14l-7 12zm0 23h14l-7 12zm0-10h14l-7 12zm1 4h14l-7 12zm0-16h14l-7 12zm0 12h14l-7 12zm1-14h14l-7 12zm1-13h14l-7 12zm3 31h14l-7 12zm0-20h14l-7 12zm1 11h14l-7 12zm1-7h14l-7 12zm0 14h14l-7 12zm1-12h14l-7 12zm1-11h14l-7 12zm0 1h14l-7 12zm1 17h14l-7 12zm1-14h14l-7 12zm1 8h14l-7 12zm0-3h14l-7 12zm0-13h14l-7 12zm2-1h14l-7 12zm0 9h14l-7 12zm0 4h14l-7 12zm2-1h14l-7 12zm3-2h14l-7 12zm0-5h14l-7 12zm1 2h14l-7 12zm3-11h14l-7 12zm0 4h14l-7 12zm0 3h14l-7 12zm4 3h14l-7 12zm2-11h14l-7 12zm6 0h14l-7 12zm-79 97h14l-7 12zm-4-1h14l-7 12zm-2 1h14l-7 12zm-1 8h14l-7 12zm0-2h14l-7 12zm-1 4h14l-7 12zm-1-11h14l-7 12zm0 3h14l-7 12zm0-1h14l-7 12zm-2 3h14l-7 12zm-1 11h14l-7 12zm-1-11h14l-7 12zm-1 2h14l-7 12zm0-1h14l-7 12zm-1 13h14l-7 12zm0-2h14l-7 12zm0-4h14l-7 12zm0 5h14l-7 12zm-1 3h14l-7 12zm0-3h14l-7 12zm0-2h14l-7 12zm-1-10h14l-7 12zm0 3h14l-7 12zm0 5h14l-7 12zm-1 2h14l-7 12zm-1-7h14l-7 12zm0 15h14l-7 12zm-1-5h14l-7 12zm-1 11h14l-7 12zm0-11h14l-7 12zm0 5h14l-7 12zm-2-2h14l-7 12zm-1 11h14l-7 12zm0-22h14l-7 12zm0 8h14l-7 12zm0-9h14l-7 12zm-1 8h14l-7 12zm-1 8h14l-7 12zm0 10h14l-7 12zm0-3h14l-7 12zm0-4h14l-7 12zm-2 7h14l-7 12zm0-26h14l-7 12zm0 0h14l-7 12zm0 4h14l-7 12zm0-6h14l-7 12zm0 31h14l-7 12zm-3-37h14l-7 12zm0 39h14l-7 12zm-1-2h14l-7 12zm0-1h14l-7 12zm0-27h14l-7 12zm-1 2h14l-7 12zm0-12h14l-7 12zm0 22h14l-7 12zm0-13h14l-7 12zm-1 33h14l-7 12zm0-40h14l-7 12zm0 31h14l-7 12zm-1-1h14l-7 12zm0-33h14l-7 12zm0 48h14l-7 12zm0-44h14l-7 12zm-1 34h14l-7 12zm0-36h14l-7 12zm0 33h14l-7 12zm0 14h14l-7 12zm-1-45h14l-7 12zm0-4h14l-7 12zm0 49h14l-7 12zm0 5h14l-7 12zm0-14h14l-7 12zm0-18h14l-7 12zm-2 6h14l-7 12zm0 1h14l-7 12zm0-12h14l-7 12zm0-3h14l-7 12zm0 1h14l-7 12zm0 24h14l-7 12zm-1-17h14l-7 12zm0 17h14l-7 12zm-1-8h14l-7 12zm0 17h14l-7 12zm0-20h14l-7 12zm-1 16h14l-7 12zm0 11h14l-7 12zm0-47h14l-7 12zm0 23h14l-7 12zm0 0h14l-7 12zm0 28h14l-7 12zm0-34h14l-7 12zm0 21h14l-7 12zm0-20h14l-7 12zm0 25h14l-7 12zm-1-49h14l-7 12zm0 51h14l-7 12zm0-1h14l-7 12zm0-22h14l-7 12zm0 26h14l-7 12zm0-4h14l-7 12zm0-19h14l-7 12zm0 4h14l-7 12zm0 20h14l-7 12zm-1-1h14l-7 12zm0-28h14l-7 12zm-1 21h14l-7 12zm0-47h14l-7 12zm0 39h14l-7 12zm0-39h14l-7 12zm0 25h14l-7 12zm-1 20h14l-7 12zm0-17h14l-7 12zm0-21h14l-7 12zm0 25h14l-7 12zm0-8h14l-7 12zm-1-23h14l-7 12zm0 52h14l-7 12zm0-1h14l-7 12zm0 3h14l-7 12zm0 11h14l-7 12zm-1-18h14l-7 12zm0-14h14l-7 12zm0 17h14l-7 12zm0-20h14l-7 12zm0-1h14l-7 12zm0-7h14l-7 12zm-1 36h14l-7 12zm0-2h14l-7 12zm0-49h14l-7 12zm0-4h14l-7 12zm0 48h14l-7 12zm0 3h14l-7 12zm-1-41h14l-7 12zm0 10h14l-7 12zm-1-26h14l-7 12zm0 55h14l-7 12zm0 7h14l-7 12zm0-15h14l-7 12zm0-2h14l-7 12zm0 11h14l-7 12zm-1 8h14l-7 12zm0 9h14l-7 12zm0-12h14l-7 12zm0 4h14l-7 12zm-1-22h14l-7 12zm0 2h14l-7 12zm0-5h14l-7 12zm0 38h14l-7 12zm0-3h14l-7 12zm-1 0h14l-7 12zm0-3h14l-7 12zm0 5h14l-7 12zm0-46h14l-7 12zm0 35h14l-7 12zm-1 8h14l-7 12zm0-69h14l-7 12zm0 10h14l-7 12zm0 47h14l-7 12zm0 15h14l-7 12zm0-34h14l-7 12zm0 33h14l-7 12zm-1-71h14l-7 12zm0 51h14l-7 12zm0 26h14l-7 12zm0-22h14l-7 12zm0-14h14l-7 12zm0-24h14l-7 12zm0-4h14l-7 12zm0 63h14l-7 12zm-1-76h14l-7 12zm0 14h14l-7 12zm0 24h14l-7 12zm0 7h14l-7 12zm0 24h14l-7 12zm0-38h14l-7 12zm0 45h14l-7 12zm0-2h14l-7 12zm-1-57h14l-7 12zm0 10h14l-7 12zm0-14h14l-7 12zm-1 7h14l-7 12zm0 17h14l-7 12zm0 22h14l-7 12zm0-50h14l-7 12zm0 56h14l-7 12zm0-66h14l-7 12zm-1 76h14l-7 12zm0-42h14l-7 12zm0-22h14l-7 12zm0 52h14l-7 12zm0 1h14l-7 12zm0-68h14l-7 12zm0 29h14l-7 12zm0 21h14l-7 12zm-1-26h14l-7 12zm0 20h14l-7 12zm0-1h14l-7 12zm0 10h14l-7 12zm0-33h14l-7 12zm0 53h14l-7 12zm0-10h14l-7 12zm0-5h14l-7 12zm-1 19h14l-7 12zm0-3h14l-7 12zm0-69h14l-7 12zm0 84h14l-7 12zm0-43h14l-7 12zm0 19h14l-7 12zm0-26h14l-7 12zm0 1h14l-7 12zm0 18h14l-7 12zm-1 7h14l-7 12zm0-46h14l-7 12zm0-13h14l-7 12zm0 52h14l-7 12zm0-59h14l-7 12zm0 72h14l-7 12zm0-42h14l-7 12zm0-6h14l-7 12zm0 45h14l-7 12zm0 11h14l-7 12zm0 9h14l-7 12zm-1-59h14l-7 12zm0 21h14l-7 12zm0 43h14l-7 12zm0-2h14l-7 12zm0-67h14l-7 12zm0 9h14l-7 12zm-1 43h14l-7 12zm0-34h14l-7 12zm0 25h14l-7 12zm0-41h14l-7 12zm0 54h14l-7 12zm-1-44h14l-7 12zm0 26h14l-7 12zm0 18h14l-7 12zm0-39h14l-7 12zm0 41h14l-7 12zm0-76h14l-7 12zm-1 10h14l-7 12zm0 70h14l-7 12zm0-13h14l-7 12zm0 2h14l-7 12zm0-45h14l-7 12zm0-17h14l-7 12zm-1 35h14l-7 12zm0 44h14l-7 12zm0-61h14l-7 12zm0 32h14l-7 12zm0-11h14l-7 12zm0 36h14l-7 12zm0-44h14l-7 12zm0 44h14l-7 12zm0-40h14l-7 12zm-1-42h14l-7 12zm0 46h14l-7 12zm0-21h14l-7 12zm0 58h14l-7 12zm0-20h14l-7 12zm0-65h14l-7 12zm0 74h14l-7 12zm0-53h14l-7 12zm-1 64h14l-7 12zm0-74h14l-7 12zm0 28h14l-7 12zm0 29h14l-7 12zm0 18h14l-7 12zm0-83h14l-7 12zm0 61h14l-7 12zm0-47h14l-7 12zm0 62h14l-7 12zm0-84h14l-7 12zm-1 77h14l-7 12zm0-25h14l-7 12zm0-13h14l-7 12zm0 4h14l-7 12zm0 32h14l-7 12zm-1-37h14l-7 12zm0 8h14l-7 12zm-1 34h14l-7 12zm0 13h14l-7 12zm0-2h14l-7 12zm-1-28h14l-7 12zm-1 30h14l-7 12zm0-18h14l-7 12zm0-20h14l-7 12zm-1 39h14l-7 12zm0-74h14l-7 12zm0 66h14l-7 12zm0-50h14l-7 12zm0 34h14l-7 12zm-1 4h14l-7 12zm0-46h14l-7 12zm0 32h14l-7 12zm0-27h14l-7 12zm-1 3h14l-7 12zm0-21h14l-7 12zm0 54h14l-7 12zm0-6h14l-7 12zm0 11h14l-7 12zm0 20h14l-7 12zm-1-2h14l-7 12zm0-1h14l-7 12zm0-1h14l-7 12zm0-13h14l-7 12zm0-37h14l-7 12zm0 33h14l-7 12zm0 17h14l-7 12zm0-55h14l-7 12zm-1 24h14l-7 12zm0-7h14l-7 12zm0-50h14l-7 12zm0 79h14l-7 12zm0-7h14l-7 12zm0-15h14l-7 12zm-1-23h14l-7 12zm0 25h14l-7 12zm0 2h14l-7 12zm0 14h14l-7 12zm0-15h14l-7 12zm-1 29h14l-7 12zm0-56h14l-7 12zm0 29h14l-7 12zm0 9h14l-7 12zm0 3h14l-7 12zm-1-58h14l-7 12zm0 28h14l-7 12zm0-42h14l-7 12zm0 33h14l-7 12zm0 20h14l-7 12zm0-22h14l-7 12zm-1 30h14l-7 12zm0 14h14l-7 12zm0-1h14l-7 12zm0 8h14l-7 12zm-1-52h14l-7 12zm0 12h14l-7 12zm0 7h14l-7 12zm0 3h14l-7 12zm0-27h14l-7 12zm-1-17h14l-7 12zm-1 47h14l-7 12zm-1 26h14l-7 12zm0-13h14l-7 12zm0 21h14l-7 12zm0-71h14l-7 12zm-1 64h14l-7 12zm0 9h14l-7 12zm0-23h14l-7 12zm0-66h14l-7 12zm0 6h14l-7 12zm0 55h14l-7 12zm-2 3h14l-7 12zm0-1h14l-7 12zm0 3h14l-7 12zm-1 16h14l-7 12zm0-70h14l-7 12zm-1 54h14l-7 12zm0 9h14l-7 12zm0-1h14l-7 12zm0-40h14l-7 12zm0-29h14l-7 12zm-1 71h14l-7 12zm0 9h14l-7 12zm0 0h14l-7 12zm-1-40h14l-7 12zm0 44h14l-7 12zm-1-14h14l-7 12zm-1-21h14l-7 12zm0 24h14l-7 12zm0-27h14l-7 12zm0 6h14l-7 12zm-1-24h14l-7 12zm0 35h14l-7 12zm-3-2h14l-7 12zm0-25h14l-7 12zm-2 11h14l-7 12zm-3-11h14l-7 12zm-1-38h14l-7 12zm0 30h14l-7 12zm0 32h14l-7 12zm0-5h14l-7 12zm-3-2h14l-7 12zm-1-34h14l-7 12zm0 2h14l-7 12zm-4 49h14l-7 12zm-1-45h14l-7 12zm-5 57h14l-7 12zm0-43h14l-7 12zm16 72h14l-7 12zm2-9h14l-7 12zm4 5h14l-7 12zm1-15h14l-7 12zm1 4h14l-7 12zm1-11h14l-7 12zm0 11h14l-7 12zm1-1h14l-7 12zm1-1h14l-7 12zm2 10h14l-7 12zm1-16h14l-7 12zm1 5h14l-7 12zm0 5h14l-7 12zm1 9h14l-7 12zm1-11h14l-7 12zm3-10h14l-7 12zm1 27h14l-7 12zm2-7h14l-7 12zm2-9h14l-7 12zm0 0h14l-7 12zm0 9h14l-7 12zm1-17h14l-7 12zm1 0h14l-7 12zm0 8h14l-7 12zm0-10h14l-7 12zm0 2h14l-7 12zm0 10h14l-7 12zm1-1h14l-7 12zm0-5h14l-7 12zm1 9h14l-7 12zm0-16h14l-7 12zm0 7h14l-7 12zm1 3h14l-7 12zm0-3h14l-7 12zm2 3h14l-7 12zm0-8h14l-7 12zm1 4h14l-7 12zm3-2h14l-7 12zm0-3h14l-7 12z" fill="#d62728" stroke="#d62728" stroke-width="9.6" stroke-linejoin="round"/>
<path d="M4275 1221v14l-12-7zm340-20v14l-12-7zm72 8v14l-12-7zm354-23v14l-12-7zm108 37v14l-12-7zm84 93v14l-12-7zm-64-59v14l-12-7zm-141 71v14l-12-7zm-47-79v14l-12-7zm-129 35v14l-12-7zm-304-5v14l-12-7zm-24 41v14l-12-7zm-195 21v14l-12-7zm285 68v14l-12-7zm25-41v14l-12-7zm580 13v14l-12-7zm76-15v14l-12-7zm99-28v14l-12-7zm191 113v14l-12-7zm-65-8v14l-12-7zm-239 78v14l-12-7zm-526-86v14l-12-7zm-302 11v14l-12-7zm-42 34v14l-12-7zm-10-18v14l-12-7zm-11-6v14l-12-7zm151 121v14l-12-7zm6 11v14l-12-7zm252-40v14l-12-7zm134-19v14l-12-7zm333 25v14l-12-7zm349 102v14l-12-7zm-133-4v14l-12-7zm-94-26v14l-12-7zm-1163 6v14l-12-7zm-55 88v14l-12-7zm-20 46v14l-12-7zm26 13v14l-12-7zm22-41v14l-12-7zm1425-14v14l-12-7z" fill="#17becf" stroke="#17becf" stroke-width="8.5" stroke-linejoin="round"/>
<path d="M5040 977h0m21 49h0m37 101h0m-41 2h0m-9-17h0m-6-13h0m0 0h0m-9-26h0m-295 144h0m4 9h0m265-1h0m2 17h0m38-33h0m0 1h0m37-17h0m1 8h0m1-9h0m0 10h0m4-1h0m15 45h0m3-12h0m44 8h0m163-15h0m250 107h0m-78-30h0m-1-6h0m-64 36h0m-5-21h0m-85-22h0m-12-37h0m-76 5h0m-31 22h0m-71 38h0m-65-47h0m-8-15h0m-21 47h0m-40 5h0m-7-5h0m-22 34h0m-21-25h0m-3-6h0m-112-15h0m-97 3h0m-94 39h0m-3-80h0m-16 57h0m-82-23h0m-26-32h0m-1 76h0m-8-9h0m-151-74h0m114 104h0m76 6h0m288 68h0m17 4h0m29-10h0m75-25h0m30 40h0m28-23h0m11-50h0m46-9h0m3 10h0m13 61h0m10-15h0m43 0h0m10-66h0m9 24h0m28 51h0m22-35h0m10 29h0m39-3h0m7 19h0m69-6h0m18-58h0m6 37h0m29-36h0m16 63h0m26-35h0m25-45h0m36 4h0m41 49h0m65 7h0m10 73h0m-27 26h0m-4-28h0m-24 50h0m-60-33h0m-6-21h0m-35-7h0m-43-23h0m-20 42h0m-12-37h0m-7 71h0m-26-66h0m-12 56h0m-30 7h0m-29 13h0m-2-85h0m-26 3h0m-8 85h0m-46-41h0m-11 22h0m-3-2h0m-3 19h0m-7 1h0m-12-25h0m-1 10h0m-1-60h0m-2 39h0m-2 18h0m-11-31h0m-8-17h0m-11 52h0m-26-4h0m-1-23h0m-3 38h0m0-1h0m-8-22h0m-2-30h0m-9-11h0m-7 65h0m0-43h0m-3-23h0m-11 20h0m-1-19h0m-6-11h0m-4-3h0m-7 55h0m-19-40h0m-2 28h0m-15-37h0m-3 51h0m0 0h0m-5-55h0m-5 79h0m-18-40h0m-20 32h0m-11-26h0m-6-33h0m-2 66h0m-4 0h0m-1-13h0m0-37h0m-11-31h0m-7 46h0m-6 22h0m-7 2h0m-24-12h0m-1-32h0m-28 15h0m-7 3h0m-6-19h0m-2 23h0m-2-16h0m-3 36h0m-19 11h0m-29-16h0m-16-1h0m-35-42h0m-231 20h0m-195-35h0m43 153h0m87-52h0m118-14h0m263 8h0m6 10h0m106-15h0m120 29h0m7-26h0m13 13h0m9-24h0m43-2h0m26-1h0m6 5h0m4 0h0m11 80h0m2-33h0m17 0h0m3-9h0m20-31h0m13-5h0m1 42h0m2-43h0m0 22h0m6-2h0m2 17h0m0-7h0m8-30h0m8 17h0m6 45h0m12-44h0m4-22h0m6-2h0m2 39h0m6-36h0m15 73h0m5-21h0m3 11h0m3 3h0m1-22h0m5 7h0m7-44h0m5 73h0m3-12h0m5-40h0m4 15h0m7 6h0m1-25h0m5 51h0m4-66h0m0 0h0m1 59h0m8-32h0m3-11h0m6 29h0m1 3h0m1-21h0m2 20h0m4 10h0m9-54h0m4 32h0m1 25h0m7 13h0m4 10h0m8-3h0m2-90h0m25 79h0m17 2h0m4 2h0m3-22h0m10 16h0m8-72h0m3 21h0m8 35h0m43-55h0m13 72h0m6 13h0m42-58h0m28-4h0m2-8h0m5 41h0m30 48h0m-1-15h0m-50 26h0m-104 2h0m-7-29h0m-50 23h0m-6 7h0m-4-25h0m-5 26h0m-1-17h0m-1 41h0m-6 15h0m-4-11h0m0 21h0m0-72h0m0 15h0m-3 28h0m-5-51h0m-2 4h0m-4 57h0m-3-57h0m-5 72h0m-13-71h0m-2 4h0m-6 72h0m-14-79h0m-20 32h0m-910 10h0m-11-10h0m-204 141h0m5 8h0m11 1h0" stroke="#9467bd" stroke-width="19" stroke-linecap="round" fill="none"/>
<path d="M4893 1491h0m-30 37h0m-11-34h0m-78-15h0m-2 34h0m-26-10h0m-321 101h0m3-3h0m8 14h0m7-3h0m81-58h0m75-17h0m8 69h0m383-55h0m-547 114h0m-48 4h0m-27 36h0m-26-24h0m-15 41h0m-184 90h0m62-44h0m33-4h0m16-31h0m5 4h0m2 51h0m15-11h0m1-26h0m29 44h0m17-66h0m-72 104h0m-26 23h0m-12 21h0m-19 23h0m-6 8h0m-27-35h0m-27-29h0m-20 1h0m-23 70h0m-178 89h0m86-72h0m58 27h0m25 52h0m10-44h0m4 10h0m2 32h0m12-43h0m-50 56h0m-47 14h0m-37 72h0m25 5h0" stroke="#1f77b4" stroke-width="17" stroke-linecap="round" fill="none"/>
<path d="M5140 1233h14l-7 12zm-691 200h14l-7 12zm380 58h14l-7 12zm-33 9h14l-7 12zm-137-5h14l-7 12zm-79 21h14l-7 12zm-30-37h14l-7 12zm-32 18h14l-7 12zm-65 17h14l-7 12zm-61-13h14l-7 12zm-110 107h14l-7 12zm0-14h14l-7 12zm21 8h14l-7 12zm26-13h14l-7 12zm30-35h14l-7 12zm51 71h14l-7 12zm14-22h14l-7 12zm23-66h14l-7 12zm13 59h14l-7 12zm8 20h14l-7 12zm13-37h14l-7 12zm42 3h14l-7 12zm1-7h14l-7 12zm87-36h14l-7 12zm540 27h14l-7 12zm-743 92h14l-7 12zm-46 46h14l-7 12zm0-26h14l-7 12zm-10-7h14l-7 12zm-3 31h14l-7 12zm-10-65h14l-7 12zm-45 85h14l-7 12zm-4-38h14l-7 12zm-18-22h14l-7 12zm-21-30h14l-7 12zm-215 163h14l-7 12zm37-1h14l-7 12zm43-4h14l-7 12zm33-37h14l-7 12zm3 19h14l-7 12zm20 32h14l-7 12zm28-15h14l-7 12zm3-10h14l-7 12zm6-46h14l-7 12zm0 61h14l-7 12zm5 23h14l-7 12zm41-93h14l-7 12zm-1 105h14l-7 12zm-27 12h14l-7 12zm-1 1h14l-7 12zm-2 25h14l-7 12zm-9-35h14l-7 12zm-9 61h14l-7 12zm-23-28h14l-7 12zm-7 21h14l-7 12zm-11 28h14l-7 12zm-14-42h14l-7 12zm-5-9h14l-7 12zm-47-23h14l-7 12zm-25 158h14l-7 12zm4-34h14l-7 12zm7 2h14l-7 12zm27 2h14l-7 12zm6 9h14l-7 12zm1-51h14l-7 12zm23-9h14l-7 12zm19 1h14l-7 12zm5 14h14l-7 12zm5-15h14l-7 12zm-74 101h14l-7 12zm-14 4h14l-7 12zm-15 41h14l-7 12zm-5-9h14l-7 12zm-2-6h14l-7 12zm-3 26h14l-7 12zm-7-22h14l-7 12zm-1 34h14l-7 12zm-1-37h14l-7 12zm-1 15h14l-7 12zm-5 12h14l-7 12zm-2-18h14l-7 12zm-1-40h14l-7 12zm-1-6h14l-7 12zm-3 51h14l-7 12zm-2-40h14l-7 12zm-1 35h14l-7 12zm-1-1h14l-7 12zm-6 13h14l-7 12zm-19-1h14l-7 12zm30 40h14l-7 12z" fill="#d62728" stroke="#d62728" stroke-width="9.6" stroke-linejoin="round"/>
<path d="M4001 2218v14l-12-7z" fill="#17becf" stroke="#17becf" stroke-width="8.5" stroke-linejoin="round"/>
<path d="M3983 2217h14l-7 12z" fill="#d62728" stroke="#d62728" stroke-width="9.6" stroke-linejoin="round"/>
<path d="M3993 2223h0" stroke="#9467bd" stroke-width="19" stroke-linecap="round" fill="none"/>
</g>
</g>
<g id="panel-C">
<polygon points="712.3,1429.6 563.7,1205.6 569.9,907.7 725.8,1110.3" fill="rgb(242,242,242)" fill-opacity="0.50" stroke="rgb(242,242,242)" stroke-opacity="0.50" stroke-width="3.20" stroke-linejoin="round"/>
<polygon points="137.3,1265.9 563.7,1205.6 569.9,907.7 125.5,962.1" fill="rgb(230,230,230)" fill-opacity="0.50" stroke="rgb(230,230,230)" stroke-opacity="0.50" stroke-width="3.20" stroke-linejoin="round"/>
<polygon points="245.6,1503.1 712.3,1429.6 563.7,1205.6 137.3,1265.9" fill="rgb(236,236,236)" fill-opacity="0.50" stroke="rgb(236,236,236)" stroke-opacity="0.50" stroke-width="3.20" stroke-linejoin="round"/>
<path d="M712.25 1429.61L245.64 1503.06" stroke="#000" stroke-width="2.56" fill="none" stroke-linecap="square"/>
<path d="M276.2 1498.3L165.1 1262.0L154.5 958.6M355.1 1485.8L237.1 1251.8L229.7 949.4M433.4 1473.5L308.6 1241.7L304.1 940.3M510.8 1461.3L379.3 1231.7L377.8 931.2M587.5 1449.2L449.5 1221.8L450.9 922.3M663.4 1437.3L519.0 1211.9L523.3 913.4" stroke="#b0b0b0" stroke-width="2.56" fill="none"/>
<path d="M275.2 1496.2L278.1 1502.4M354.1 1483.8L357.2 1490.0M432.3 1471.5L435.6 1477.6M509.6 1459.3L513.1 1465.4M586.3 1447.2L589.9 1453.3M662.1 1435.3L665.9 1441.3" stroke="#000" stroke-width="2.56" fill="none" stroke-linecap="square"/>
<path d="M137.28 1265.95L245.64 1503.06" stroke="#000" stroke-width="2.56" fill="none" stroke-linecap="square"/>
<path d="M714.9 1096.1L701.9 1414.0L238.1 1486.5M681.6 1052.9L670.3 1366.3L215.0 1435.9M649.7 1011.4L639.9 1320.5L192.8 1387.4M619.0 971.6L610.7 1276.4L171.5 1340.8M589.6 933.3L582.5 1234.0L151.0 1295.9" stroke="#b0b0b0" stroke-width="2.56" fill="none"/>
<path d="M241.9 1485.9L230.4 1487.7M218.7 1435.4L207.5 1437.1M196.5 1386.8L185.4 1388.5M175.1 1340.2L164.2 1341.8M154.5 1295.4L143.9 1296.9" stroke="#000" stroke-width="2.56" fill="none" stroke-linecap="square"/>
<path d="M137.28 1265.95L125.49 962.14" stroke="#000" stroke-width="2.56" fill="none" stroke-linecap="square"/>
<path d="M136.6 1247.4L564.1 1187.3L713.1 1410.1M135.1 1210.9L564.9 1151.5L714.7 1371.9M133.7 1174.0L565.6 1115.3L716.4 1333.2M132.3 1136.7L566.4 1078.8L718.0 1294.0M130.8 1099.1L567.1 1041.9L719.7 1254.5M129.3 1061.1L567.9 1004.6L721.4 1214.5M127.8 1022.6L568.7 967.0L723.1 1174.1M126.3 983.8L569.4 928.9L724.9 1133.2" stroke="#b0b0b0" stroke-width="2.56" fill="none"/>
<path d="M140.1 1246.9L129.5 1248.3M138.7 1210.4L128.1 1211.8M137.3 1173.5L126.6 1174.9M135.8 1136.3L125.1 1137.7M134.4 1098.6L123.6 1100.0M132.9 1060.6L122.1 1062.0M131.5 1022.2L120.6 1023.6M130.0 983.4L119.0 984.7" stroke="#000" stroke-width="2.56" fill="none" stroke-linecap="square"/>
<text transform="translate(511.9 1584.6) rotate(-8.95) scale(1 1.050)" font-size="25.6"><tspan x="-74.5" y="6.9">3</tspan><tspan x="-58.0" y="-2.4" font-size="17.9">0</tspan><tspan x="-40.9" y="6.9">−</tspan><tspan x="-14.4" y="6.9">2</tspan><tspan x="2.1" y="-2.4" font-size="17.9">1</tspan><tspan x="19.2" y="6.9">−</tspan><tspan x="45.6" y="6.9">1</tspan><tspan x="62.2" y="-2.4" font-size="17.9">1</tspan></text>
<text transform="translate(288.6 1573.1) scale(1 1.050)" font-size="25.6" text-anchor="middle">0.0</text>
<text transform="translate(368.0 1560.3) scale(1 1.050)" font-size="25.6" text-anchor="middle">0.1</text>
<text transform="translate(446.6 1547.7) scale(1 1.050)" font-size="25.6" text-anchor="middle">0.2</text>
<text transform="translate(524.4 1535.2) scale(1 1.050)" font-size="25.6" text-anchor="middle">0.3</text>
<text transform="translate(601.4 1522.7) scale(1 1.050)" font-size="25.6" text-anchor="middle">0.4</text>
<text transform="translate(677.7 1510.5) scale(1 1.050)" font-size="25.6" text-anchor="middle">0.5</text>
<text transform="translate(95.4 1455.5) rotate(65.44) scale(1 1.050)" font-size="25.6"><tspan x="-74.5" y="6.9">3</tspan><tspan x="-58.0" y="-2.4" font-size="17.9">0</tspan><tspan x="-40.9" y="6.9">−</tspan><tspan x="-14.4" y="6.9">2</tspan><tspan x="2.1" y="-2.4" font-size="17.9">0</tspan><tspan x="19.2" y="6.9">−</tspan><tspan x="45.6" y="6.9">1</tspan><tspan x="62.2" y="-2.4" font-size="17.9">2</tspan></text>
<text transform="translate(193.0 1543.0) scale(1 1.050)" font-size="25.6" text-anchor="middle">0.0</text>
<text transform="translate(170.9 1491.8) scale(1 1.050)" font-size="25.6" text-anchor="middle">0.1</text>
<text transform="translate(149.6 1442.6) scale(1 1.050)" font-size="25.6" text-anchor="middle">0.2</text>
<text transform="translate(129.2 1395.3) scale(1 1.050)" font-size="25.6" text-anchor="middle">0.3</text>
<text transform="translate(109.5 1349.9) scale(1 1.050)" font-size="25.6" text-anchor="middle">0.4</text>
<text transform="translate(19.0 1087.3) rotate(87.78) scale(1 1.050)" font-size="25.6"><tspan x="-74.5" y="6.9">3</tspan><tspan x="-58.0" y="-2.4" font-size="17.9">0</tspan><tspan x="-40.9" y="6.9">−</tspan><tspan x="-14.4" y="6.9">2</tspan><tspan x="2.1" y="-2.4" font-size="17.9">0</tspan><tspan x="19.2" y="6.9">−</tspan><tspan x="45.6" y="6.9">1</tspan><tspan x="62.2" y="-2.4" font-size="17.9">3</tspan></text>
<text transform="translate(85.3 1252.5) scale(1 1.050)" font-size="25.6" text-anchor="middle">0.0</text>
<text transform="translate(83.6 1216.2) scale(1 1.050)" font-size="25.6" text-anchor="middle">0.1</text>
<text transform="translate(81.9 1179.5) scale(1 1.050)" font-size="25.6" text-anchor="middle">0.2</text>
<text transform="translate(80.2 1142.4) scale(1 1.050)" font-size="25.6" text-anchor="middle">0.3</text>
<text transform="translate(78.5 1105.0) scale(1 1.050)" font-size="25.6" text-anchor="middle">0.4</text>
<text transform="translate(76.8 1067.1) scale(1 1.050)" font-size="25.6" text-anchor="middle">0.5</text>
<text transform="translate(75.0 1028.9) scale(1 1.050)" font-size="25.6" text-anchor="middle">0.6</text>
<text transform="translate(73.3 990.2) scale(1 1.050)" font-size="25.6" text-anchor="middle">0.7</text>
<path d="M268.6 1463.1L266.6 1456.1L264.5 1449.1L262.5 1442.1L260.4 1435.2L258.4 1428.3L256.3 1421.4L254.3 1414.5L252.3 1407.7L250.3 1400.8L248.3 1393.9L246.3 1387.1L244.4 1380.2L242.4 1373.3L240.5 1366.5L238.6 1359.6L236.8 1352.6L235.0 1345.7L233.2 1338.7L231.5 1331.7L229.8 1324.6L228.2 1317.5L226.7 1310.4L225.3 1303.3L224.0 1296.1L222.9 1289.0L222.0 1281.8L221.2 1274.6L220.7 1267.5L220.3 1260.3L220.3 1253.1L220.4 1246.0L220.9 1238.8L221.7 1231.7L222.7 1224.6L224.2 1217.5L225.9 1210.5L228.1 1203.6L230.6 1196.9L233.5 1190.3L236.9 1184.0L240.7 1178.0L245.0 1172.3L249.8 1167.1L255.0 1162.2L260.6 1157.7L266.5 1153.7L272.8 1150.1L279.3 1146.9L286.0 1144.1L292.8 1141.9L299.8 1140.0L306.8 1138.7L313.9 1137.7L321.0 1137.1L328.2 1136.8L335.4 1136.9L342.6 1137.2L349.9 1137.7L357.1 1138.4L364.3 1139.3L371.5 1140.3L378.7 1141.4L385.9 1142.6L393.0 1143.9L400.1 1145.2L407.2 1146.7L414.2 1148.3L421.2 1149.9L428.2 1151.7L435.1 1153.6L441.9 1155.6L448.8 1157.7L455.5 1159.9L462.3 1162.3L468.9 1164.7L475.6 1167.3L482.1 1169.9L488.7 1172.7L495.2 1175.6L501.6 1178.7L508.0 1181.8L514.4 1185.0L520.8 1188.4L527.1 1191.9L533.4 1195.5L539.7 1199.2L545.9 1203.0L552.1 1207.0L558.2 1211.1L564.3 1215.3L570.1 1219.7L575.8 1224.4L581.3 1229.2L586.4 1234.3L591.3 1239.6L595.8 1245.3L599.9 1251.2L603.5 1257.5L606.6 1264.0L609.1 1270.7L611.0 1277.5L612.3 1284.4L612.7 1291.4L612.4 1298.3L611.2 1305.2L609.2 1311.9L606.6 1318.4L603.3 1324.7L599.4 1330.7L595.1 1336.3L590.3 1341.6L585.1 1346.6L579.5 1351.2L573.7 1355.5L567.6 1359.6L561.3 1363.4L554.8 1367.0L548.2 1370.5L541.6 1373.8L535.0 1377.0L528.3 1380.1L521.7 1383.0L515.1 1386.0L508.5 1388.8L501.8 1391.5L495.2 1394.2L488.6 1396.8L482.0 1399.4L475.3 1401.9L468.7 1404.4L462.0 1406.8L455.3 1409.2L448.6 1411.6L441.9 1414.0L435.1 1416.3L428.4 1418.6L421.6 1420.9L414.7 1423.2L407.9 1425.4L401.0 1427.7L394.2 1429.9L387.3 1432.0L380.4 1434.2L373.4 1436.3L366.5 1438.4L359.6 1440.4L352.6 1442.4L345.7 1444.4L338.7 1446.3L331.7 1448.2L324.7 1450.1L317.8 1451.9L310.8 1453.6L303.8 1455.3L296.8 1456.9L289.8 1458.5L282.9 1460.1L275.9 1461.5L268.9 1463.0" fill="none" stroke="#000" stroke-width="5.6" stroke-linejoin="round" stroke-linecap="round"/>
<circle cx="268.8" cy="1462.9" r="12.4" fill="#000"/>
<g transform="scale(0.25)">
<path d="M1100 4460h0m196 20h0m458 112h0m-179-79h0m-239 27h0m-17 64h0m-136-26h0m-107-51h0m-87 167h0m41-23h0m530-27h0m189 0h0m40 6h0m22 43h0m55-31h0m57-21h0m357 99h0m-212-34h0m-60 14h0m-45 75h0m-200-35h0m-7-42h0m-186 35h0m-555-10h0m-76 39h0m-56 15h0m19 5h0m751 27h0m147 38h0m27-1h0m333-25h0m22-17h0m5 48h0m27-47h0m130 141h0m-36-10h0m-15 0h0m-398 32h0m-247-82h0m-481 8h0m-6 65h0m-305-74h0m352 106h0m27 31h0m228-36h0m85 68h0m240-18h0m584 13h0m-751 35h0m-2 6h0m-52 24h0m-393 24h0m-305-61h0m-14 4h0m-10-9h0m485 185h0m634-32h0m20 54h0m-472 95h0m481 151h0m-69 63h0m236-8h0" stroke="#1f77b4" stroke-width="17" stroke-linecap="round" fill="none"/>
<path d="M1180 4868h0m84 97h0m-1-5h0m-22 8h0m-36-39h0m-45 3h0m-11-8h0m-22 29h0m-13 15h0m-14-20h0m-29-15h0m-63-27h0m-21 78h0m-14 7h0m-6-35h0m-1 23h0m-11 8h0m-6-7h0m-7-1h0m-11 9h0m-38-24h0m-50-31h0m-6 116h0m8-56h0m10 11h0m9-2h0m19 85h0m13-12h0m2-15h0m1-1h0m7-44h0m1 7h0m3-3h0m8 63h0m1-47h0m1 31h0m3-33h0m0 53h0m2-35h0m4-47h0m0 66h0m5 6h0m0-40h0m2 46h0m2-24h0m3-31h0m2 47h0m0-3h0m0 7h0m2-72h0m1 0h0m0-6h0m0 80h0m2-63h0m0 56h0m1-34h0m1-24h0m1 51h0m1-60h0m2 65h0m13-48h0m1-19h0m3 47h0m1-9h0m1 39h0m1-65h0m1 46h0m0 17h0m4-48h0m0 47h0m3-40h0m1 19h0m1 21h0m9-49h0m0-13h0m2 36h0m2 1h0m0-39h0m1-12h0m1 62h0m2-25h0m4 43h0m1 0h0m5-89h0m1 80h0m3-14h0m1-21h0m1 36h0m4-47h0m6 19h0m3 6h0m11-19h0m0 42h0m6-80h0m10 88h0m3-20h0m6 21h0m6-22h0m21-21h0m10 37h0m3-23h0m49 3h0m2-50h0m3 28h0m2-29h0m1-13h0m4 43h0m13-8h0m25-13h0m0-4h0m28 7h0m10-20h0m0 39h0m10-43h0m9 39h0m31-1h0m12 40h0m66-49h0m-89 93h0m-13 53h0m-10-3h0m-17-35h0m-1 25h0m-20-7h0m0-29h0m-12 57h0m-2-34h0m-13 28h0m-27 9h0m-16-13h0m-4-75h0m-1 20h0m-9 16h0m-5 11h0m-5 40h0m-1-76h0m-1 43h0m-9 10h0m-17-63h0m-5 23h0m-7 28h0m-3 24h0m-13 13h0m-4-40h0m-3-45h0m-4 15h0m-1-8h0m-1 64h0m-1-15h0m-6-16h0m0-32h0m-2 14h0m-1 18h0m-4-28h0m-4-2h0m-1 29h0m-6-10h0m-3 13h0m-1-51h0m-1 59h0m0 11h0m0 2h0m-1-31h0m-2 21h0m-1-31h0m-5 4h0m-2 48h0m0-35h0m-1 38h0m0-64h0m-1-2h0m-3-7h0m-1 16h0m-1 41h0m-3-34h0m-3-13h0m-1-21h0m-3 4h0m-2 45h0m-3-22h0m-2-18h0m0 45h0m0-50h0m-1 9h0m-2 72h0m-2-77h0m0 7h0m-1 54h0m-1-2h0m-3 20h0m-2-26h0m-1-62h0m-3 62h0m0 20h0m0-21h0m-1-17h0m0 12h0m0-10h0m-1-34h0m0 50h0m0-59h0m-2 89h0m-1-43h0m0 4h0m-2-46h0m-2-4h0m0 1h0m-1 18h0m-1 22h0m-1 26h0m-2-16h0m-1-50h0m-1 73h0m-2-48h0m0-25h0m-1-4h0m-1 30h0m-1-12h0m0 27h0m-4-26h0m-1 41h0m0 22h0m0-38h0m-3 33h0m0 2h0m-2-58h0m-3 47h0m-3 20h0m-1-25h0m-3-29h0m0 28h0m0-27h0m-1 40h0m0-73h0m0 67h0m-5 11h0m-1-19h0m-4-52h0m0 8h0m0 2h0m-2 72h0m-4-53h0m0 44h0m0-37h0m-1-15h0m-1-27h0m-1 70h0m0 10h0m0 6h0m-2-83h0m0 82h0m0-83h0m-3 22h0m0 40h0m-1-12h0m-6 32h0m-7-26h0m-3-32h0m-2 51h0m-1-29h0m-1 34h0m-4-86h0m0 72h0m-9 19h0m-2-6h0m-4 4h0m0-53h0m-2-29h0m-3 86h0m-3-75h0m-5 18h0m-8 46h0m-6-16h0m-3-39h0m-4 37h0m-2-39h0m-2-16h0m-24 74h0m-7 7h0m-10-22h0m-48 113h0m32-66h0m1 32h0m20 13h0m9 20h0m1-7h0m1-18h0m2 23h0m8-6h0m1-26h0m2-50h0m3 78h0m0-58h0m2 72h0m3-17h0m3-29h0m1 13h0m4-50h0m3 64h0m0-69h0m1 81h0m2-10h0m0-69h0m3 54h0m0 17h0m6 8h0m3-42h0m1 47h0m4-30h0m3-51h0m0 1h0m4 38h0m1-40h0m2 63h0m1 1h0m1-59h0m0 67h0m0-26h0m2-37h0m1 78h0m1-92h0m0 23h0m1 32h0m1-56h0m0 37h0m1 44h0m1-6h0m1-31h0m2-1h0m1 48h0m1-29h0m1-12h0m3-26h0m0-15h0m0 45h0m2-41h0m4 2h0m1-8h0m1 21h0m2-1h0m2 51h0m0-62h0m1 66h0m0 11h0m0-39h0m1 26h0m1-62h0m0 18h0m0-23h0m1-4h0m1-2h0m1 53h0m0-49h0m0-8h0m3 16h0m0 45h0m0-39h0m1 4h0m2-19h0m2 25h0m0 43h0m2-22h0m1 27h0m2-79h0m1 69h0m1-2h0m1-43h0m1 60h0m0-85h0m2-4h0m0 7h0m1 52h0m4 34h0m0-51h0m1 13h0m0 5h0m2-54h0m0 56h0m1-28h0m1-19h0m1 13h0m0 59h0m1-29h0m1 13h0m0-67h0m1 89h0m0-93h0m2 39h0m1-11h0m0 35h0m1-8h0m1-34h0m0 3h0m2 33h0m0 7h0m1-44h0m1 56h0m0-11h0m0 12h0m1 5h0m0-17h0m1-11h0m0 6h0m3-57h0m1 72h0m3-17h0m0-44h0m0 79h0m1-71h0m1 10h0m2 39h0m0 14h0m2-63h0m0 51h0m1-20h0m1-54h0m0 58h0m3-29h0m3-28h0m0 81h0m1-25h0m0 30h0m2-1h0m0-53h0m1 24h0m1-39h0m2 3h0m1 29h0m2-48h0m1 5h0m2 40h0m4-40h0m1 22h0m1-15h0m0 8h0m0 65h0m2-53h0m0 16h0m1 20h0m0-21h0m1-11h0m0-31h0m1 53h0m2 19h0m1-17h0m0-18h0m2 26h0m3 8h0m1-75h0m0 77h0m0 1h0m2-62h0m0 74h0m0-92h0m1 42h0m1 30h0m1-71h0m2 70h0m2-65h0m0 33h0m0 21h0m1-38h0m2 17h0m1 31h0m1-42h0m1 35h0m0 15h0m0-11h0m1-44h0m1 4h0m1-19h0m0 24h0m1 43h0m2-6h0m0-22h0m3 5h0m1 28h0m0 2h0m2-6h0m1-28h0m1 8h0m0 1h0m1 30h0m0-76h0m1 50h0m1-28h0m2 59h0m2-23h0m3-45h0m1-11h0m2 57h0m1 24h0m2-48h0m9 47h0m6-87h0m9 32h0m2-38h0m2 61h0m1 28h0m2-55h0m5-10h0m4-14h0m2 11h0m3 33h0m3-26h0m0 26h0m3-39h0m5 73h0m8-64h0m0 20h0m5-30h0m3 2h0m0 25h0m0 35h0m5-47h0m5 17h0m10 13h0m2 15h0m6 2h0m32-32h0m5 23h0m5-50h0m2 48h0m9-29h0m30 43h0m8-28h0m1-18h0m6 34h0m4-66h0m14 25h0m19 49h0m7 1h0m14-58h0m86 30h0m85 58h0m-73 83h0m-106-2h0m-6-37h0m-16-22h0m-35 28h0m-19 2h0m-19-54h0m-14 10h0m-15 17h0m-12 25h0m-4-25h0m-13 50h0m-10-80h0m-5 85h0m-1-84h0m-8 21h0m-5-7h0m0 29h0m-11-24h0m-1 30h0m-24-17h0m-1-6h0m-4 20h0m-5 3h0m-1 26h0m-9-70h0m-1 2h0m0 42h0m0 22h0m-6-49h0m-2 63h0m-2-30h0m-4-56h0m0 46h0m-3 18h0m0-43h0m-2 54h0m-4-35h0m-1 20h0m-1-36h0m-4 64h0m0-51h0m-4-29h0m-3 49h0m-1 7h0m-1-54h0m0 66h0m-1-3h0m-1-60h0m-1 42h0m-2 17h0m-1-25h0m-1-14h0m-2 18h0m-2-54h0m0 12h0m-1 4h0m-1 48h0m0-42h0m-1 41h0m-1-12h0m-4-41h0m-3 63h0m-1 2h0m-1-23h0m-1-19h0m-3-12h0m-1-22h0m-3 74h0m-1 11h0m-1-59h0m0 46h0m-1-26h0m0-2h0m-1 42h0m0-43h0m-1-3h0m0 28h0m-1-55h0m-1 22h0m0 16h0m-1-17h0m0 9h0m0 2h0m-1-26h0m-1 6h0m-1 30h0m0 12h0m-1-17h0m-1 12h0m-1-60h0m0 67h0m0 11h0m-1-23h0m-3-4h0m0 35h0m-1-12h0m0-52h0m-1 44h0m-1-37h0m-2-7h0m-1-1h0m-1-21h0m0 80h0m-2-5h0m-3-29h0m0-42h0m-2 38h0m-1 29h0m0 18h0m0-69h0m0-16h0m-1 83h0m-1-59h0m0 50h0m-2-12h0m0-45h0m0-24h0m-1 28h0m-1 27h0m0 36h0m-3 0h0m-1-78h0m0 30h0m-1 47h0m0-38h0m-1 7h0m-1 7h0m0 19h0m-2-48h0m-3 30h0m0-23h0m0 12h0m-1-57h0m0 55h0m0-11h0m-1-2h0m-5-41h0m0 39h0m-3 42h0m-3-71h0m-1 16h0m-1 9h0m0 37h0m0-41h0m0 49h0m-1 12h0m0-47h0m0-21h0m0 58h0m-1-63h0m-1 14h0m-1-23h0m0 30h0m-2-2h0m-4-34h0m0 41h0m0 46h0m-1-62h0m0 62h0m-2-77h0m-1-13h0m0 5h0m-1 1h0m-1 43h0m0 13h0m-1-63h0m-1 78h0m-1-42h0m0 43h0m-2-37h0m0 2h0m0-9h0m-2-1h0m-2 28h0m-1-20h0m-2-19h0m-2-13h0m0 33h0m0 18h0m-2 23h0m-1-49h0m0 13h0m-1-5h0m-1 51h0m-1-35h0m-1-1h0m-2-26h0m-2 18h0m-1-35h0m-1 43h0m-1-15h0m-1-17h0m0-16h0m-4 36h0m-5-47h0m-1 32h0m-1-19h0m-7 24h0m-2 47h0m0-57h0m0 29h0m-1 3h0m-1 17h0m0-1h0m-2-22h0m-1-35h0m0 62h0m-1-57h0m-3 58h0m-1-36h0m-10 8h0m-1-44h0m-7 74h0m-4-56h0m-4 41h0m-2-47h0m-4 18h0m-12 32h0m0-65h0m0 75h0m-3-44h0m-14 13h0m-1-32h0m-8 43h0m23 67h0m0-1h0m21-6h0m0 11h0m9 47h0m2-34h0m9-41h0m2 16h0m2 7h0m3-12h0m2 64h0m1-46h0m0 20h0m1-4h0m1-29h0m1-20h0m4 84h0m3-66h0m0 19h0m3 1h0m3-14h0m3 42h0m1 12h0m3-40h0m4 16h0m1-46h0m3-7h0m0 9h0m0 26h0m6 10h0m1-22h0m3-1h0m0 5h0m2-29h0m7 66h0m0 6h0m0-69h0m0 75h0m0-56h0m0 30h0m0-5h0m0-45h0m0 23h0m1-3h0m1 20h0m2-18h0m1-26h0m1 1h0m1 4h0m3 1h0m1 77h0m1 11h0m1-91h0m0 80h0m1 5h0m1-83h0m0-1h0m0 25h0m1 36h0m1 28h0m1-57h0m0-16h0m1 30h0m0-15h0m0-13h0m1 51h0m0-26h0m0-11h0m1 6h0m0 10h0m1-16h0m0-30h0m2 66h0m1-31h0m1-39h0m1 22h0m1 9h0m0 53h0m3-59h0m4 37h0m2-55h0m1 19h0m0 42h0m1-14h0m1 5h0m0-37h0m0-25h0m3 47h0m1-44h0m0-3h0m1 26h0m2 37h0m2-23h0m0 13h0m0-48h0m1 58h0m4 24h0m3-5h0m1 6h0m0-51h0m0-34h0m1 24h0m1 24h0m0-46h0m1 83h0m1-35h0m0 24h0m1-66h0m1 47h0m2 30h0m0-8h0m0-50h0m1 3h0m0-33h0m1 82h0m0-74h0m1 4h0m1 45h0m0-13h0m1 44h0m1-44h0m1-26h0m1 34h0m1-16h0m0 38h0m1-34h0m1 29h0m1-60h0m1 82h0m3-1h0m1-78h0m0 1h0m1 16h0m1 66h0m1-79h0m0-7h0m0 79h0m1 3h0m0-20h0m0 11h0m0-80h0m3 85h0m2 0h0m1-28h0m2-2h0m1 33h0m1-19h0m0-32h0m1-36h0m0 50h0m0 28h0m3-50h0m1-29h0m1 90h0m0-42h0m1-10h0m1 48h0m2-34h0m1 25h0m1 12h0m2-75h0m1 23h0m0 35h0m1 21h0m1-70h0m4 66h0m2-19h0m7-30h0m0 1h0m0 18h0m1 21h0m4-21h0m0-46h0m2 11h0m0 7h0m2 7h0m5-25h0m0 34h0m0 20h0m1-30h0m3-14h0m1 4h0m1 48h0m0-57h0m0 19h0m1-8h0m0-20h0m2 64h0m2-73h0m0 45h0m16-44h0m7 24h0m4 27h0m8-18h0m15-25h0m6 18h0m6-27h0m9 39h0m11 4h0m12-14h0m0-8h0m12-16h0m89 74h0m103-20h0m-259 118h0m-11-20h0m-6 21h0m-4-12h0m-4 1h0m-1-53h0m-3 73h0m-3-40h0m-2 2h0m-5 18h0m0 0h0m-2-20h0m-1-34h0m-2 44h0m-6 3h0m-4-13h0m-3-53h0m-3 20h0m-3 69h0m-1-36h0m-1-8h0m-1 15h0m0 30h0m-1-53h0m-1 36h0m-1 5h0m-2-61h0m0-1h0m-1 38h0m0 28h0m-1-55h0m0 44h0m-2 13h0m-2-79h0m0-1h0m-2 79h0m-1 9h0m-1-33h0m-2-3h0m0 30h0m0-5h0m0-77h0m-3 90h0m-1-41h0m0-16h0m-1-4h0m-1 11h0m0-10h0m-1 54h0m-1-26h0m-2 5h0m0-21h0m0 21h0m0 15h0m-2-37h0m0 49h0m0-60h0m-1 27h0m-1 29h0m0-4h0m-1-34h0m0 42h0m-1-78h0m-1 17h0m-1 36h0m0 23h0m-1-56h0m0 38h0m0 6h0m-1-12h0m0-19h0m-1 19h0m0 11h0m-1 3h0m-1-24h0m-2 32h0m-1-31h0m0 28h0m-1-61h0m0 51h0m-1 7h0m-1-56h0m0 45h0m-2-64h0m-1 78h0m-2-82h0m-1 21h0m0-9h0m0 44h0m0-36h0m-1-12h0m0 27h0m-2-15h0m0-7h0m-1 15h0m-1 45h0m0-4h0m0-56h0m-1 46h0m0 3h0m-1-54h0m0 73h0m-1-32h0m-2 14h0m0 6h0m-1-17h0m0 9h0m0 20h0m0-39h0m-1 32h0m-1 10h0m-1-44h0m0-19h0m0 58h0m-1-28h0m0 11h0m-1 10h0m0-62h0m-4 38h0m-2-37h0m-1 32h0m0 7h0m-2-19h0m0 2h0m-1 4h0m0 14h0m0-36h0m-2 42h0m0-42h0m-2 10h0m0 11h0m0-3h0m-3-16h0m-1 5h0m-3 68h0m0-83h0m-2 27h0m0 36h0m-1-11h0m0-2h0m-2 30h0m-2-79h0m0-2h0m-1 66h0m0-36h0m0-41h0m-1 22h0m-1 7h0m0-9h0m0 28h0m-1-25h0m-2-10h0m0 51h0m-5-26h0m0 30h0m-1 0h0m-2-63h0m-1 17h0m0-9h0m-1 1h0m-1 71h0m0-31h0m0 7h0m-1-38h0m-2 16h0m-1 1h0m-1 7h0m-1 37h0m-1-60h0m-3 31h0m-1 19h0m-1-20h0m-3-36h0m-3 23h0m-1-9h0m0 27h0m-1-56h0m-5 80h0m-1-38h0m0-43h0m-2 64h0m-3-5h0m-1-56h0m-2 74h0m0-12h0m-4-53h0m-7 33h0m0 38h0m-9 9h0m0-92h0m-2 0h0m-8 7h0m-3 32h0m30 95h0m1-6h0m11-16h0m6-13h0m3 7h0m6 39h0m0-23h0m6 11h0m8-6h0m2 4h0m3 34h0m1-56h0m0-3h0m4 35h0m1-12h0m2-12h0m2 18h0m1 45h0m3-85h0m2 19h0m0 38h0m2-53h0m2-5h0m4 67h0m1-23h0m4-9h0m0-35h0m1 8h0m1 12h0m3 3h0m0 31h0m0-31h0m2 63h0m1-11h0m3-5h0m0-63h0m5 36h0m1-36h0m0 46h0m1-10h0m0 30h0m1 21h0m0-92h0m2 62h0m1-11h0m0-52h0m0 70h0m1 16h0m0-4h0m1-33h0m0 14h0m1-16h0m0-39h0m0 10h0m0 40h0m3-3h0m0 28h0m0 7h0m1-85h0m2 30h0m0-20h0m2 66h0m0-73h0m0 75h0m3 5h0m0-46h0m0-16h0m0 48h0m0-3h0m1-12h0m0 14h0m2-43h0m0 37h0m1-59h0m0 52h0m1-39h0m0 32h0m0 33h0m0-35h0m0-47h0m1 60h0m2 15h0m2-60h0m0-14h0m1 16h0m2-8h0m0 54h0m0-9h0m1-46h0m0 65h0m1 13h0m0-51h0m0 43h0m1-76h0m0 10h0m1 56h0m1-33h0m1-24h0m0-8h0m0 78h0m0-26h0m0 7h0m1 28h0m0-30h0m0-6h0m0-55h0m1 42h0m0 23h0m1 24h0m0-2h0m1-27h0m0-40h0m2 7h0m0 51h0m0-27h0m0-3h0m1 21h0m1 15h0m0-81h0m1 71h0m0 2h0m1-54h0m1-25h0m0 17h0m1 65h0m1-12h0m1-16h0m1 33h0m0-33h0m0 30h0m3-5h0m1 6h0m1-71h0m1 64h0m1-56h0m1-3h0m0 51h0m2-30h0m1 54h0m1-29h0m1 10h0m2-28h0m0 15h0m2 25h0m0-10h0m4-55h0m1 65h0m2-32h0m1 19h0m0-38h0m1-6h0m4 49h0m2-21h0m0 10h0m0-51h0m12 3h0m6 13h0m5 121h0m-3-15h0m-10 12h0m-1-12h0m0-8h0m-1 47h0m-1 4h0m-3 6h0m-1-62h0m0 56h0m-1-59h0m0 66h0m-2 0h0m-1-11h0m-1-4h0m-1 1h0m-1-68h0m-2 72h0m-1 0h0m-2-11h0m0 10h0m-1-56h0m0 39h0m0 29h0m0-81h0m0-1h0m-1-11h0m0 43h0m0 36h0m-3 12h0m0-29h0m-2-33h0m0 46h0m0-76h0m-1 18h0m0 0h0m-1-15h0m0 25h0m0 62h0m0-54h0m-1 12h0m0 42h0m0-44h0m0-27h0m-1 72h0m0-46h0m-1 46h0m0-2h0m0-10h0m-2-24h0m0 25h0m0-77h0m-1 89h0m0-17h0m-1-57h0m0 42h0m0-9h0m-1-13h0m0-25h0m-1 65h0m-1-67h0m0 35h0m0-27h0m0 55h0m-1-53h0m-1 71h0m-1-43h0m0-10h0m0-33h0m-1 39h0m0-1h0m-1 14h0m0-27h0m0 31h0m-1-2h0m0-16h0m0 7h0m-1-39h0m0 40h0m-1-19h0m-1 47h0m-1-42h0m0 11h0m-1 22h0m0-49h0m-1-21h0m-1 56h0m0-23h0m0 5h0m0 22h0m-1-47h0m0 69h0m-1-55h0m-1-17h0m0 3h0m-3-9h0m-1 5h0m0 29h0m-1-33h0m-1 18h0m0 1h0m-1 24h0m-1-33h0m0 35h0m-2-33h0m0 48h0m-2 8h0m0-68h0m0 39h0m-1-35h0m-1 36h0m-1 19h0m0-40h0m-2-6h0m-2 14h0m-2 30h0m-2 6h0m-4-18h0m-1-33h0m0-11h0m-2 20h0m0-11h0m-1-5h0m-6 2h0m-11-13h0m-2 1h0m-11 5h0m-3-6h0m61 99h0m13 12h0m4-10h0m5 1h0m2 10h0m0-17h0m4 0h0m1 33h0m1-12h0m0-7h0m2 6h0m0-17h0m0 16h0m1-10h0m4 27h0m0-19h0m1-8h0m1 8h0m1 12h0m0 14h0m1-34h0m1 30h0m0-36h0m1 19h0m0-6h0m1 29h0m0-22h0m2-2h0m0 14h0m0-28h0m1 34h0m0 7h0m0-33h0m1 29h0m1-5h0m0-14h0m0-8h0m0 29h0m1-30h0m2 10h0m1 20h0m0-34h0m1 3h0m0 8h0m2 21h0m1-17h0m4 16h0m1-10h0" stroke="#9467bd" stroke-width="19" stroke-linecap="round" fill="none"/>
<path d="M894 5015v14l-12-7zm14-9v14l-12-7zm9 44v14l-12-7zm27-24v14l-12-7zm14 0v14l-12-7zm6 37v14l-12-7zm1 5v14l-12-7zm23-12v14l-12-7zm6-55v14l-12-7zm6 33v14l-12-7zm9 32v14l-12-7zm8-56v14l-12-7zm1 42v14l-12-7zm8 18v14l-12-7zm1-60v14l-12-7zm1 57v14l-12-7zm11-25v14l-12-7zm11-7v14l-12-7zm5 37v14l-12-7zm758 81v14l-12-7zm-769-54v14l-12-7zm-36-17v14l-12-7zm-9 59v14l-12-7zm-16 19v14l-12-7zm-11-66v14l-12-7zm-13 17v14l-12-7zm-10 20v14l-12-7zm-19-11v14l-12-7zm-16-16v14l-12-7zm-32-10v14l-12-7zm-8 178v14l-12-7zm24-92v14l-12-7zm28 42v14l-12-7zm2 40v14l-12-7zm14-38v14l-12-7zm7 38v14l-12-7zm3-42v14l-12-7zm10-32v14l-12-7zm6 24v14l-12-7zm4-13v14l-12-7zm7 61v14l-12-7zm4-22v14l-12-7zm2 27v14l-12-7zm0-53v14l-12-7zm0 11v14l-12-7zm3-19v14l-12-7zm8 61v14l-12-7zm1-61v14l-12-7zm2 68v14l-12-7zm6-29v14l-12-7zm7-25v14l-12-7zm22 23v14l-12-7zm255-44v14l-12-7zm-116 104v14l-12-7zm-131 50v14l-12-7zm-8-6v14l-12-7zm-18-8v14l-12-7zm-28-56v14l-12-7zm-4 85v14l-12-7zm-2-43v14l-12-7zm0-39v14l-12-7zm-3 48v14l-12-7zm-7-17v14l-12-7zm-14 26v14l-12-7zm-3-2v14l-12-7zm-37 17v14l-12-7zm-21-42v14l-12-7zm-63 33v14l-12-7zm100 75v14l-12-7zm0-14v14l-12-7zm1 34v14l-12-7zm4-10v14l-12-7zm0-23v14l-12-7zm3 37v14l-12-7zm2 10v14l-12-7zm0-7v14l-12-7zm3-5v14l-12-7zm0-13v14l-12-7zm1-24v14l-12-7zm2 2v14l-12-7zm0 22v14l-12-7zm0-11v14l-12-7zm2 6v14l-12-7zm0-9v14l-12-7zm0 30v14l-12-7zm1-32v14l-12-7zm1 16v14l-12-7zm0 7v14l-12-7zm1-9v14l-12-7zm2 23v14l-12-7zm2-37v14l-12-7zm1-3v14l-12-7zm2 29v14l-12-7zm0-22v14l-12-7zm1-14v14l-12-7zm1 25v14l-12-7zm1 20v14l-12-7zm0-7v14l-12-7zm2 9v14l-12-7zm2 2v14l-12-7zm1-33v14l-12-7zm1-24v14l-12-7zm1 59v14l-12-7zm0-37v14l-12-7zm0 39v14l-12-7zm0-7v14l-12-7zm1-17v14l-12-7zm6 2v14l-12-7zm1-8v14l-12-7zm3-33v14l-12-7zm3 49v14l-12-7zm7-33v14l-12-7zm10-20v14l-12-7zm3-7v14l-12-7zm439 1v14l-12-7zm240 28v14l-12-7zm-530 63v14l-12-7zm-68 14v14l-12-7zm-5 26v14l-12-7zm-11 27v14l-12-7zm-22-76v14l-12-7zm-27 28v14l-12-7zm-15 60v14l-12-7zm-2-29v14l-12-7zm-1 17v14l-12-7zm0-27v14l-12-7zm-1 35v14l-12-7zm-1 3v14l-12-7zm-1-8v14l-12-7zm-1-17v14l-12-7zm0 30v14l-12-7zm0-14v14l-12-7zm-1-2v14l-12-7zm-1 0v14l-12-7zm0-49v14l-12-7zm-2 57v14l-12-7zm0-22v14l-12-7zm0 16v14l-12-7zm-1-3v14l-12-7zm-1-26v14l-12-7zm0 32v14l-12-7zm-1-11v14l-12-7zm0-33v14l-12-7zm0 45v14l-12-7zm0-8v14l-12-7zm-1-3v14l-12-7zm0-1v14l-12-7zm0 11v14l-12-7zm0-9v14l-12-7zm0 2v14l-12-7zm-1-68v14l-12-7zm0 63v14l-12-7zm0 15v14l-12-7zm-1-84v14l-12-7zm-1 59v14l-12-7zm0 17v14l-12-7zm0-66v14l-12-7zm-1 73v14l-12-7zm-1-2v14l-12-7zm-1 10v14l-12-7zm-1-57v14l-12-7zm0 59v14l-12-7zm0-54v14l-12-7zm0-10v14l-12-7zm0-28v14l-12-7zm0 42v14l-12-7zm0 36v14l-12-7zm-1-76v14l-12-7zm-2 57v14l-12-7zm0-2v14l-12-7zm-1-42v14l-12-7zm-1 10v14l-12-7zm-1 14v14l-12-7zm0 32v14l-12-7zm0-7v14l-12-7zm-1-34v14l-12-7zm0-22v14l-12-7zm-1 2v14l-12-7zm0-7v14l-12-7zm-2 48v14l-12-7zm0-42v14l-12-7zm-1 28v14l-12-7zm0 21v14l-12-7zm0-12v14l-12-7zm0-37v14l-12-7zm0 54v14l-12-7zm-1-59v14l-12-7zm-1 48v14l-12-7zm0-7v14l-12-7zm-1 19v14l-12-7zm-2-67v14l-12-7zm0 0v14l-12-7zm-2 43v14l-12-7zm-1 0v14l-12-7zm-1-40v14l-12-7zm-1 13v14l-12-7zm0 6v14l-12-7zm0-5v14l-12-7zm0 7v14l-12-7zm-2 23v14l-12-7zm-1-42v14l-12-7zm-2 36v14l-12-7zm-3-27v14l-12-7zm-1-14v14l-12-7zm-25 25v14l-12-7zm-4 60v14l-12-7zm58 37v14l-12-7zm0-16v14l-12-7zm2 10v14l-12-7zm0-6v14l-12-7zm1 25v14l-12-7zm1-39v14l-12-7zm3 12v14l-12-7zm3 16v14l-12-7zm2-24v14l-12-7zm1 23v14l-12-7zm1 25v14l-12-7zm1-52v14l-12-7zm0 1v14l-12-7zm2 33v14l-12-7zm0-11v14l-12-7zm0 28v14l-12-7zm0-17v14l-12-7zm1-17v14l-12-7zm1 1v14l-12-7zm1 34v14l-12-7zm0-52v14l-12-7zm0 74v14l-12-7zm1-46v14l-12-7zm0 14v14l-12-7zm0-28v14l-12-7zm1 17v14l-12-7zm0 1v14l-12-7zm1 9v14l-12-7zm0 20v14l-12-7zm0-17v14l-12-7zm2 10v14l-12-7zm1 37v14l-12-7zm0-53v14l-12-7zm0 34v14l-12-7zm0-13v14l-12-7zm0 3v14l-12-7zm0-5v14l-12-7zm1-21v14l-12-7zm1 50v14l-12-7zm0-35v14l-12-7zm0 0v14l-12-7zm1-24v14l-12-7zm0 24v14l-12-7zm3 28v14l-12-7zm0-37v14l-12-7zm0 17v14l-12-7zm0-27v14l-12-7zm1 11v14l-12-7zm0 7v14l-12-7zm0-12v14l-12-7zm1-1v14l-12-7zm0-11v14l-12-7zm0 68v14l-12-7zm1-65v14l-12-7zm0 48v14l-12-7zm1-30v14l-12-7zm2 21v14l-12-7zm1 16v14l-12-7zm1-5v14l-12-7zm1-14v14l-12-7zm1 4v14l-12-7zm0-7v14l-12-7zm2 22v14l-12-7zm0 3v14l-12-7zm2 3v14l-12-7zm0-8v14l-12-7zm1 0v14l-12-7zm7-78v14l-12-7zm483 48v14l-12-7zm-464 133v14l-12-7zm-2-8v14l-12-7zm-2-12v14l-12-7zm-1 10v14l-12-7zm0 13v14l-12-7zm-1-18v14l-12-7zm-1-18v14l-12-7zm0 30v14l-12-7zm0-1v14l-12-7zm-2 3v14l-12-7zm0-11v14l-12-7zm-1 3v14l-12-7zm-1-11v14l-12-7zm0-19v14l-12-7zm-1 43v14l-12-7zm0-7v14l-12-7zm-1-28v14l-12-7zm0-19v14l-12-7zm0 30v14l-12-7zm-1-13v14l-12-7zm0 12v14l-12-7zm0-21v14l-12-7zm0 1v14l-12-7zm0 25v14l-12-7zm-1-38v14l-12-7zm0 60v14l-12-7zm0-88v14l-12-7zm0 67v14l-12-7zm0-51v14l-12-7zm-1 0v14l-12-7zm0 6v14l-12-7zm0-16v14l-12-7zm-1 38v14l-12-7zm0-3v14l-12-7zm-1-2v14l-12-7zm0-27v14l-12-7zm0 44v14l-12-7zm-2 11v14l-12-7zm0-29v14l-12-7zm0-18v14l-12-7zm-1-22v14l-12-7zm0 45v14l-12-7zm0 10v14l-12-7zm-1-11v14l-12-7zm0-6v14l-12-7zm-1-3v14l-12-7zm0-21v14l-12-7zm-1 25v14l-12-7zm0-19v14l-12-7zm-1 11v14l-12-7zm0-6v14l-12-7zm-1 27v14l-12-7zm-1-42v14l-12-7zm0 33v14l-12-7zm-2-45v14l-12-7zm0 14v14l-12-7zm-1 4v14l-12-7zm0-11v14l-12-7zm-3 10v14l-12-7zm0 29v14l-12-7zm0-42v14l-12-7zm0-2v14l-12-7zm-3 3v14l-12-7zm0 18v14l-12-7zm-3-23v14l-12-7zm-1-3v14l-12-7zm-2 18v14l-12-7zm34 100v14l-12-7zm0-14v14l-12-7zm3-7v14l-12-7zm2 16v14l-12-7zm0 7v14l-12-7zm0-16v14l-12-7zm2 7v14l-12-7zm1 2v14l-12-7zm2 0v14l-12-7zm0-2v14l-12-7zm0 17v14l-12-7zm0 12v14l-12-7zm1-19v14l-12-7zm0 8v14l-12-7zm0-13v14l-12-7zm1-10v14l-12-7zm0 5v14l-12-7zm0 29v14l-12-7zm0-17v14l-12-7zm0 31v14l-12-7zm1-35v14l-12-7zm0-14v14l-12-7zm0 23v14l-12-7zm1 18v14l-12-7zm0 5v14l-12-7zm0-26v14l-12-7zm0-4v14l-12-7zm1 19v14l-12-7zm0-11v14l-12-7zm0-8v14l-12-7zm0 6v14l-12-7zm0 9v14l-12-7zm1 13v14l-12-7zm0 2v14l-12-7zm0-10v14l-12-7zm1-20v14l-12-7zm0 8v14l-12-7zm0 26v14l-12-7zm1-12v14l-12-7zm0 7v14l-12-7zm0 9v14l-12-7zm0 2v14l-12-7zm0-16v14l-12-7zm1 8v14l-12-7zm1 2v14l-12-7zm0 1v14l-12-7zm0-9v14l-12-7zm1 10v14l-12-7zm1-1v14l-12-7zm0-5v14l-12-7zm1 9v14l-12-7zm0-25v14l-12-7zm0 25v14l-12-7zm3 0v14l-12-7z" fill="#17becf" stroke="#17becf" stroke-width="8.5" stroke-linejoin="round"/>
<path d="M957 4475h14l-7 12zm643 110h14l-7 12zm-27 1h14l-7 12zm-87-15h14l-7 12zm-10 12h14l-7 12zm-37 18h14l-7 12zm-1-18h14l-7 12zm-8-1h14l-7 12zm-5 14h14l-7 12zm-6-11h14l-7 12zm-38 11h14l-7 12zm-3-16h14l-7 12zm-34 9h14l-7 12zm-3 10h14l-7 12zm-15-16h14l-7 12zm-5-29h14l-7 12zm-53 4h14l-7 12zm-13 26h14l-7 12zm-11-10h14l-7 12zm-7 28h14l-7 12zm-10-15h14l-7 12zm-1 4h14l-7 12zm-25-19h14l-7 12zm-26 28h14l-7 12zm-28-17h14l-7 12zm-18 1h14l-7 12zm-7 16h14l-7 12zm-97 96h14l-7 12zm12-62h14l-7 12zm10 24h14l-7 12zm25 4h14l-7 12zm13-39h14l-7 12zm8 31h14l-7 12zm18-51h14l-7 12zm14 44h14l-7 12zm4 36h14l-7 12zm3-69h14l-7 12zm3 54h14l-7 12zm13-27h14l-7 12zm12-8h14l-7 12zm4-26h14l-7 12zm9 52h14l-7 12zm3 11h14l-7 12zm2 1h14l-7 12zm7-22h14l-7 12zm0 24h14l-7 12zm2 5h14l-7 12zm1 14h14l-7 12zm2 6h14l-7 12zm13-45h14l-7 12zm3 6h14l-7 12zm5-19h14l-7 12zm0 41h14l-7 12zm1-76h14l-7 12zm3 17h14l-7 12zm6 50h14l-7 12zm14 6h14l-7 12zm13 5h14l-7 12zm0-31h14l-7 12zm4 39h14l-7 12zm2-52h14l-7 12zm16-23h14l-7 12zm11 30h14l-7 12zm11 26h14l-7 12zm6-11h14l-7 12zm0-8h14l-7 12zm4-6h14l-7 12zm2 25h14l-7 12zm5-20h14l-7 12zm1-16h14l-7 12zm7 40h14l-7 12zm4 14h14l-7 12zm1-16h14l-7 12zm8-25h14l-7 12zm6-21h14l-7 12zm12 67h14l-7 12zm2-45h14l-7 12zm0-7h14l-7 12zm7 55h14l-7 12zm3-26h14l-7 12zm13-62h14l-7 12zm4 26h14l-7 12zm4 62h14l-7 12zm16-41h14l-7 12zm0 21h14l-7 12zm6-9h14l-7 12zm4-44h14l-7 12zm5-4h14l-7 12zm6 45h14l-7 12zm10-9h14l-7 12zm16-51h14l-7 12zm22 86h14l-7 12zm1-62h14l-7 12zm3 56h14l-7 12zm9 2h14l-7 12zm5-71h14l-7 12zm13 68h14l-7 12zm15-29h14l-7 12zm2-51h14l-7 12zm2 72h14l-7 12zm7-29h14l-7 12zm1-25h14l-7 12zm7-9h14l-7 12zm16-9h14l-7 12zm4 47h14l-7 12zm2-29h14l-7 12zm4 64h14l-7 12zm2-27h14l-7 12zm2-40h14l-7 12zm19 57h14l-7 12zm8 1h14l-7 12zm6-11h14l-7 12zm1-23h14l-7 12zm3 12h14l-7 12zm6-25h14l-7 12zm0 12h14l-7 12zm12-3h14l-7 12zm3-13h14l-7 12zm4 69h14l-7 12zm5-18h14l-7 12zm0-38h14l-7 12zm5-30h14l-7 12zm2 83h14l-7 12zm12-27h14l-7 12zm6-23h14l-7 12zm2 17h14l-7 12zm8-3h14l-7 12zm20 11h14l-7 12zm4-44h14l-7 12zm0-4h14l-7 12zm1-14h14l-7 12zm6 46h14l-7 12zm8-41h14l-7 12zm19 79h14l-7 12zm32-39h14l-7 12zm6 14h14l-7 12zm1-2h14l-7 12zm2-8h14l-7 12zm2-18h14l-7 12zm2 34h14l-7 12zm12 12h14l-7 12zm2-9h14l-7 12zm13 13h14l-7 12zm11-55h14l-7 12zm9 19h14l-7 12zm7 43h14l-7 12zm12-1h14l-7 12zm2-32h14l-7 12zm5 8h14l-7 12zm2 11h14l-7 12zm16-19h14l-7 12zm40 35h14l-7 12zm8-3h14l-7 12zm4-16h14l-7 12zm16 5h14l-7 12zm18 13h14l-7 12zm0-9h14l-7 12zm4 1h14l-7 12zm172 104h14l-7 12zm-12-2h14l-7 12zm-5-6h14l-7 12zm-11-3h14l-7 12zm-27 1h14l-7 12zm-15-15h14l-7 12zm-13 8h14l-7 12zm-12-24h14l-7 12zm-12-8h14l-7 12zm-5 2h14l-7 12zm-21-37h14l-7 12zm-6 86h14l-7 12zm-2-5h14l-7 12zm-3-16h14l-7 12zm-8-54h14l-7 12zm-5 9h14l-7 12zm-4 17h14l-7 12zm-4 43h14l-7 12zm-6-46h14l-7 12zm-4 7h14l-7 12zm-3-26h14l-7 12zm-2 18h14l-7 12zm-2 24h14l-7 12zm-1 16h14l-7 12zm-3 12h14l-7 12zm-4-41h14l-7 12zm0-13h14l-7 12zm-2-34h14l-7 12zm-1 49h14l-7 12zm-8-27h14l-7 12zm-10 2h14l-7 12zm-3-6h14l-7 12zm-2 26h14l-7 12zm-25 25h14l-7 12zm-6-65h14l-7 12zm-2 45h14l-7 12zm-7 19h14l-7 12zm-2-54h14l-7 12zm-6 55h14l-7 12zm-6-30h14l-7 12zm0 47h14l-7 12zm-4-43h14l-7 12zm-2 8h14l-7 12zm-8-11h14l-7 12zm-6 25h14l-7 12zm-7 11h14l-7 12zm-8-10h14l-7 12zm-2 1h14l-7 12zm0-23h14l-7 12zm-2-20h14l-7 12zm-4-27h14l-7 12zm-2 56h14l-7 12zm-19 10h14l-7 12zm-8-63h14l-7 12zm-4 51h14l-7 12zm-5 15h14l-7 12zm-1-33h14l-7 12zm-2 0h14l-7 12zm-5 42h14l-7 12zm-8-75h14l-7 12zm-6 34h14l-7 12zm-3 33h14l-7 12zm-6 18h14l-7 12zm-10-90h14l-7 12zm-3 18h14l-7 12zm0-8h14l-7 12zm-4 49h14l-7 12zm-4-54h14l-7 12zm-7-4h14l-7 12zm-2 85h14l-7 12zm-4 0h14l-7 12zm-17-4h14l-7 12zm-3-71h14l-7 12zm-21 5h14l-7 12zm-4 21h14l-7 12zm-1-31h14l-7 12zm-11 78h14l-7 12zm-1-18h14l-7 12zm-2 10h14l-7 12zm-7 5h14l-7 12zm-11 1h14l-7 12zm-11-12h14l-7 12zm-14-46h14l-7 12zm-3 50h14l-7 12zm-6-70h14l-7 12zm-7 13h14l-7 12zm0-15h14l-7 12zm-1 92h14l-7 12zm-11-32h14l-7 12zm-9-8h14l-7 12zm-2-9h14l-7 12zm-1-30h14l-7 12zm-6 52h14l-7 12zm-2-26h14l-7 12zm-14-25h14l-7 12zm-6 37h14l-7 12zm-9 14h14l-7 12zm-18-44h14l-7 12zm-4 31h14l-7 12zm-9 20h14l-7 12zm-2-41h14l-7 12zm-3 54h14l-7 12zm-1-32h14l-7 12zm-9 28h14l-7 12zm0-38h14l-7 12zm-10-7h14l-7 12zm-2 36h14l-7 12zm-10-19h14l-7 12zm-1-21h14l-7 12zm-4 0h14l-7 12zm0-20h14l-7 12zm-12 53h14l-7 12zm-3-49h14l-7 12zm-5 16h14l-7 12zm-1 44h14l-7 12zm-3 3h14l-7 12zm-2-10h14l-7 12zm-1 23h14l-7 12zm-3-61h14l-7 12zm-1-5h14l-7 12zm-8 40h14l-7 12zm0-24h14l-7 12zm-5-27h14l-7 12zm-5 47h14l-7 12zm-2-11h14l-7 12zm0-40h14l-7 12zm-5 74h14l-7 12zm0-11h14l-7 12zm-3-42h14l-7 12zm-8 5h14l-7 12zm-4 32h14l-7 12zm-1-54h14l-7 12zm-2 44h14l-7 12zm-1 0h14l-7 12zm-2-59h14l-7 12zm-11 47h14l-7 12zm-3 33h14l-7 12zm-2-60h14l-7 12zm-2 3h14l-7 12zm-2-12h14l-7 12zm-1 9h14l-7 12zm-5-11h14l-7 12zm-8 47h14l-7 12zm-1 13h14l-7 12zm-6-16h14l-7 12zm-7-19h14l-7 12zm-3 13h14l-7 12zm-20-1h14l-7 12zm-8 33h14l-7 12zm-12 14h14l-7 12zm-2-72h14l-7 12zm-3 7h14l-7 12zm-12 15h14l-7 12zm-1 17h14l-7 12zm-3-33h14l-7 12zm-1 56h14l-7 12zm-6-84h14l-7 12zm-4 35h14l-7 12zm-12-16h14l-7 12zm-5-15h14l-7 12zm-8 58h14l-7 12zm-12 20h14l-7 12zm-11-18h14l-7 12zm-18-51h14l-7 12zm-4 43h14l-7 12zm-2 36h14l-7 12zm-1-77h14l-7 12zm-9-7h14l-7 12zm-7 62h14l-7 12zm0-17h14l-7 12zm-3 19h14l-7 12zm-13-37h14l-7 12zm-5 43h14l-7 12zm-3-1h14l-7 12zm-4 17h14l-7 12zm-3-36h14l-7 12zm-8-41h14l-7 12zm-1 61h14l-7 12zm-8-16h14l-7 12zm-1-24h14l-7 12zm-4-32h14l-7 12zm-1 53h14l-7 12zm-1-45h14l-7 12zm-13 21h14l-7 12zm-5 36h14l-7 12zm-18-61h14l-7 12zm-5 10h14l-7 12zm-14 46h14l-7 12zm-10-15h14l-7 12zm0-18h14l-7 12zm-13 20h14l-7 12zm-3-48h14l-7 12zm-2 57h14l-7 12zm-11-16h14l-7 12zm-7 26h14l-7 12zm-15 7h14l-7 12zm-5-38h14l-7 12zm-6-22h14l-7 12zm-2 16h14l-7 12zm-35-3h14l-7 12zm-1 62h14l-7 12zm-4-28h14l-7 12zm-15 5h14l-7 12zm-109 108h14l-7 12zm112-67h14l-7 12zm8 41h14l-7 12zm2-4h14l-7 12zm4 4h14l-7 12zm9-40h14l-7 12zm8-18h14l-7 12zm5 23h14l-7 12zm20 71h14l-7 12zm1-62h14l-7 12zm1 30h14l-7 12zm1-44h14l-7 12zm0 47h14l-7 12zm18-62h14l-7 12zm8 71h14l-7 12zm8-27h14l-7 12zm0-43h14l-7 12zm16 61h14l-7 12zm3-45h14l-7 12zm1-16h14l-7 12zm51 86h14l-7 12zm4 5h14l-7 12zm1-7h14l-7 12zm1-26h14l-7 12zm6-10h14l-7 12zm0-41h14l-7 12zm5 36h14l-7 12zm9 45h14l-7 12zm10-8h14l-7 12zm17-5h14l-7 12zm13 10h14l-7 12zm14-87h14l-7 12zm6 49h14l-7 12zm4-16h14l-7 12zm7-21h14l-7 12zm7 72h14l-7 12zm4-55h14l-7 12zm13-29h14l-7 12zm3 92h14l-7 12zm19-42h14l-7 12zm4 16h14l-7 12zm2-24h14l-7 12zm1-9h14l-7 12zm1 31h14l-7 12zm3-34h14l-7 12zm4 52h14l-7 12zm1-29h14l-7 12zm3-37h14l-7 12zm23 54h14l-7 12zm2 17h14l-7 12zm2-13h14l-7 12zm23 4h14l-7 12zm2-53h14l-7 12zm14 11h14l-7 12zm2-27h14l-7 12zm5 27h14l-7 12zm0 10h14l-7 12zm4-34h14l-7 12zm2-9h14l-7 12zm16 58h14l-7 12zm3 13h14l-7 12zm2-16h14l-7 12zm1 10h14l-7 12zm2 15h14l-7 12zm9-16h14l-7 12zm1-56h14l-7 12zm1 56h14l-7 12zm17-63h14l-7 12zm0 18h14l-7 12zm13 15h14l-7 12zm2 24h14l-7 12zm17 31h14l-7 12zm3-3h14l-7 12zm13-61h14l-7 12zm8 54h14l-7 12zm10-21h14l-7 12zm6-37h14l-7 12zm2 13h14l-7 12zm2 36h14l-7 12zm9 13h14l-7 12zm10-54h14l-7 12zm8 14h14l-7 12zm1-48h14l-7 12zm2 55h14l-7 12zm2-5h14l-7 12zm4 7h14l-7 12zm11 35h14l-7 12zm7-35h14l-7 12zm14 29h14l-7 12zm1-58h14l-7 12zm7-17h14l-7 12zm9 26h14l-7 12zm3 23h14l-7 12zm8-13h14l-7 12zm19-30h14l-7 12zm0 48h14l-7 12zm8 2h14l-7 12zm0-2h14l-7 12zm5-7h14l-7 12zm13-25h14l-7 12zm8 55h14l-7 12zm7-76h14l-7 12zm10 31h14l-7 12zm9 42h14l-7 12zm1 10h14l-7 12zm1-85h14l-7 12zm7 25h14l-7 12zm24-34h14l-7 12zm4 88h14l-7 12zm0-25h14l-7 12zm1-12h14l-7 12zm5-7h14l-7 12zm7 2h14l-7 12zm2-47h14l-7 12zm9 63h14l-7 12zm5 15h14l-7 12zm3 15h14l-7 12zm1-62h14l-7 12zm5 30h14l-7 12zm7-6h14l-7 12zm2-6h14l-7 12zm2 25h14l-7 12zm8-27h14l-7 12zm3-40h14l-7 12zm1 51h14l-7 12zm0-31h14l-7 12zm6 52h14l-7 12zm4-62h14l-7 12zm2 10h14l-7 12zm2 34h14l-7 12zm7 15h14l-7 12zm5 1h14l-7 12zm1-30h14l-7 12zm0 38h14l-7 12zm1-74h14l-7 12zm3 27h14l-7 12zm13-8h14l-7 12zm7 34h14l-7 12zm11-55h14l-7 12zm0 21h14l-7 12zm3-3h14l-7 12zm3-7h14l-7 12zm8 66h14l-7 12zm16-47h14l-7 12zm12-11h14l-7 12zm1-26h14l-7 12zm4 20h14l-7 12zm3-9h14l-7 12zm2 78h14l-7 12zm1-68h14l-7 12zm1-8h14l-7 12zm14 74h14l-7 12zm2-12h14l-7 12zm2-3h14l-7 12zm9 7h14l-7 12zm0-11h14l-7 12zm8-64h14l-7 12zm3 51h14l-7 12zm5-19h14l-7 12zm0 2h14l-7 12zm2 44h14l-7 12zm6-56h14l-7 12zm3 15h14l-7 12zm3 19h14l-7 12zm1 3h14l-7 12zm1-13h14l-7 12zm6-11h14l-7 12zm5 23h14l-7 12zm8 19h14l-7 12zm1 6h14l-7 12zm4-32h14l-7 12zm1 6h14l-7 12zm10-14h14l-7 12zm8-1h14l-7 12zm12 43h14l-7 12zm5-66h14l-7 12zm0 9h14l-7 12zm1 44h14l-7 12zm5 0h14l-7 12zm9-49h14l-7 12zm27-25h14l-7 12zm5 25h14l-7 12zm2 39h14l-7 12zm3-28h14l-7 12zm5-7h14l-7 12zm9-5h14l-7 12zm5 58h14l-7 12zm19-2h14l-7 12zm3-25h14l-7 12zm3 36h14l-7 12zm3-93h14l-7 12zm1 71h14l-7 12zm1-56h14l-7 12zm3 29h14l-7 12zm10 47h14l-7 12zm16-87h14l-7 12zm9 45h14l-7 12zm2 44h14l-7 12zm8-6h14l-7 12zm1-65h14l-7 12zm9-21h14l-7 12zm2 8h14l-7 12zm6 45h14l-7 12zm8-1h14l-7 12zm2-9h14l-7 12zm3 40h14l-7 12zm16-47h14l-7 12zm0 50h14l-7 12zm3 4h14l-7 12zm1-18h14l-7 12zm4-14h14l-7 12zm16-9h14l-7 12zm3 11h14l-7 12zm1-4h14l-7 12zm7 22h14l-7 12zm9-44h14l-7 12zm11 22h14l-7 12zm2 18h14l-7 12zm2 14h14l-7 12zm2-10h14l-7 12zm34 3h14l-7 12zm117 103h14l-7 12zm-26-4h14l-7 12zm-19 7h14l-7 12zm-24-23h14l-7 12zm0 9h14l-7 12zm-3-17h14l-7 12zm-6-15h14l-7 12zm-6 11h14l-7 12zm-4-45h14l-7 12zm-8 15h14l-7 12zm-5 58h14l-7 12zm0-23h14l-7 12zm-4-23h14l-7 12zm-9 42h14l-7 12zm-13 11h14l-7 12zm-3-18h14l-7 12zm-2-28h14l-7 12zm-3 44h14l-7 12zm-1-1h14l-7 12zm-8-33h14l-7 12zm0-47h14l-7 12zm-1 50h14l-7 12zm-4 11h14l-7 12zm-6-57h14l-7 12zm-4 69h14l-7 12zm-1-82h14l-7 12zm-2 80h14l-7 12zm-8-12h14l-7 12zm-15-61h14l-7 12zm-3 3h14l-7 12zm-3 21h14l-7 12zm-7-18h14l-7 12zm0 10h14l-7 12zm-3 51h14l-7 12zm-3-6h14l-7 12zm-8 3h14l-7 12zm-6-42h14l-7 12zm-2-31h14l-7 12zm0 1h14l-7 12zm-8 36h14l-7 12zm-8-3h14l-7 12zm-5 20h14l-7 12zm-1 1h14l-7 12zm-3-36h14l-7 12zm-8-10h14l-7 12zm-2 79h14l-7 12zm-9-23h14l-7 12zm0 22h14l-7 12zm-11-78h14l-7 12zm0 77h14l-7 12zm-1 0h14l-7 12zm-11 6h14l-7 12zm-6-75h14l-7 12zm0 74h14l-7 12zm-18-32h14l-7 12zm-1-6h14l-7 12zm-1 19h14l-7 12zm-14-19h14l-7 12zm-7-44h14l-7 12zm0-4h14l-7 12zm-3 27h14l-7 12zm-6 48h14l-7 12zm-3-56h14l-7 12zm-1 49h14l-7 12zm-2 13h14l-7 12zm-1 4h14l-7 12zm-8 5h14l-7 12zm-1-74h14l-7 12zm-5 44h14l-7 12zm-10-38h14l-7 12zm0 17h14l-7 12zm-8 6h14l-7 12zm-7-19h14l-7 12zm-11 56h14l-7 12zm-2 8h14l-7 12zm-4-70h14l-7 12zm-2 27h14l-7 12zm-15-25h14l-7 12zm-13-7h14l-7 12zm-10 48h14l-7 12zm-1-52h14l-7 12zm-8 21h14l-7 12zm-1 25h14l-7 12zm-3 33h14l-7 12zm-5-79h14l-7 12zm-1-2h14l-7 12zm-5 1h14l-7 12zm-4 44h14l-7 12zm-6 20h14l-7 12zm-4 4h14l-7 12zm-3-34h14l-7 12zm-3 31h14l-7 12zm-6-74h14l-7 12zm-15 78h14l-7 12zm-9-67h14l-7 12zm-4 49h14l-7 12zm-5-18h14l-7 12zm-5 28h14l-7 12zm0-21h14l-7 12zm-13-4h14l-7 12zm-2-14h14l-7 12zm-1 36h14l-7 12zm-8-44h14l-7 12zm-10 13h14l-7 12zm-1-17h14l-7 12zm0 56h14l-7 12zm-1-40h14l-7 12zm-3-17h14l-7 12zm-11 46h14l-7 12zm-8 8h14l-7 12zm-3-67h14l-7 12zm-3 4h14l-7 12zm-2-3h14l-7 12zm-2 21h14l-7 12zm-2-11h14l-7 12zm-7 18h14l-7 12zm-1 31h14l-7 12zm-14-28h14l-7 12zm-6-39h14l-7 12zm-14 91h14l-7 12zm-10-91h14l-7 12zm-2 3h14l-7 12zm-4 61h14l-7 12zm-8-20h14l-7 12zm-4-1h14l-7 12zm0-34h14l-7 12zm-4 61h14l-7 12zm-2-74h14l-7 12zm-21 46h14l-7 12zm-6 5h14l-7 12zm0 42h14l-7 12zm-8-38h14l-7 12zm-3 11h14l-7 12zm-14 8h14l-7 12zm-1-48h14l-7 12zm-11 10h14l-7 12zm-10-21h14l-7 12zm-4 39h14l-7 12zm-1-26h14l-7 12zm-2 38h14l-7 12zm-3 4h14l-7 12zm-2 25h14l-7 12zm-1-32h14l-7 12zm-10 30h14l-7 12zm-3-15h14l-7 12zm-4-28h14l-7 12zm-4 37h14l-7 12zm-1-63h14l-7 12zm-12 17h14l-7 12zm-13-27h14l-7 12zm-7 54h14l-7 12zm-14-46h14l-7 12zm-4 50h14l-7 12zm-8-35h14l-7 12zm-1 10h14l-7 12zm-1-23h14l-7 12zm-24 38h14l-7 12zm-1-56h14l-7 12zm-2-4h14l-7 12zm-2 6h14l-7 12zm0 44h14l-7 12zm-3-47h14l-7 12zm-13 27h14l-7 12zm-2-20h14l-7 12zm-7 0h14l-7 12zm-2 0h14l-7 12zm-19 15h14l-7 12zm0 1h14l-7 12zm-6 18h14l-7 12zm-6 35h14l-7 12zm-3-39h14l-7 12zm-24-40h14l-7 12zm-1 64h14l-7 12zm-2-54h14l-7 12zm-5 61h14l-7 12zm-7-28h14l-7 12zm-5 12h14l-7 12zm0-50h14l-7 12zm-2 16h14l-7 12zm-7 53h14l-7 12zm-6-51h14l-7 12zm-16 48h14l-7 12zm-3-59h14l-7 12zm-1 16h14l-7 12zm-2-3h14l-7 12zm0 16h14l-7 12zm-2 18h14l-7 12zm-4-21h14l-7 12zm-3 42h14l-7 12zm-29-1h14l-7 12zm-1-57h14l-7 12zm-6-21h14l-7 12zm-16 81h14l-7 12zm-3-27h14l-7 12zm-7-34h14l-7 12zm-1 51h14l-7 12zm-8-49h14l-7 12zm-2-7h14l-7 12zm-5 63h14l-7 12zm-1-61h14l-7 12zm-8 22h14l-7 12zm-4-40h14l-7 12zm-17 33h14l-7 12zm-16 3h14l-7 12zm0 56h14l-7 12zm-10-82h14l-7 12zm-21 16h14l-7 12zm-5 34h14l-7 12zm-5 22h14l-7 12zm-12-49h14l-7 12zm-15-20h14l-7 12zm-10-13h14l-7 12zm-3 46h14l-7 12zm-8 15h14l-7 12zm-7-23h14l-7 12zm-14-18h14l-7 12zm-8 42h14l-7 12zm-1-62h14l-7 12zm-5 60h14l-7 12zm-11-16h14l-7 12zm-21-19h14l-7 12zm-3 67h14l-7 12zm0-46h14l-7 12zm-17 32h14l-7 12zm-1-74h14l-7 12zm-6 15h14l-7 12zm-1 46h14l-7 12zm-9 3h14l-7 12zm-1 15h14l-7 12zm-6 9h14l-7 12zm0-31h14l-7 12zm-8-57h14l-7 12zm-23 84h14l-7 12zm-5-47h14l-7 12zm-9 28h14l-7 12zm-31-11h14l-7 12zm-20 33h14l-7 12zm0-89h14l-7 12zm-15 20h14l-7 12zm-1 5h14l-7 12zm0 29h14l-7 12zm-172 126h14l-7 12zm80 0h14l-7 12zm77-87h14l-7 12zm9 24h14l-7 12zm8 68h14l-7 12zm20-61h14l-7 12zm2 3h14l-7 12zm7 27h14l-7 12zm14 8h14l-7 12zm2-51h14l-7 12zm4 15h14l-7 12zm2 24h14l-7 12zm15 5h14l-7 12zm4 3h14l-7 12zm6-62h14l-7 12zm2 8h14l-7 12zm4 41h14l-7 12zm6 12h14l-7 12zm1-25h14l-7 12zm3 6h14l-7 12zm4-7h14l-7 12zm21-1h14l-7 12zm15 34h14l-7 12zm9-26h14l-7 12zm6-16h14l-7 12zm7 38h14l-7 12zm6-4h14l-7 12zm13-18h14l-7 12zm14-22h14l-7 12zm11 21h14l-7 12zm0 41h14l-7 12zm2-6h14l-7 12zm1-6h14l-7 12zm9 2h14l-7 12zm0-69h14l-7 12zm6 63h14l-7 12zm3-51h14l-7 12zm1 56h14l-7 12zm4 5h14l-7 12zm3 7h14l-7 12zm2 0h14l-7 12zm0-65h14l-7 12zm17-15h14l-7 12zm2 73h14l-7 12zm8 13h14l-7 12zm4-8h14l-7 12zm9 1h14l-7 12zm23-4h14l-7 12zm0-77h14l-7 12zm3-1h14l-7 12zm10 60h14l-7 12zm1 15h14l-7 12zm6-61h14l-7 12zm1 69h14l-7 12zm6-76h14l-7 12zm6 49h14l-7 12zm6-40h14l-7 12zm4 37h14l-7 12zm16-48h14l-7 12zm14 76h14l-7 12zm0 0h14l-7 12zm27-25h14l-7 12zm8-47h14l-7 12zm18 29h14l-7 12zm4 42h14l-7 12zm2 9h14l-7 12zm46-79h14l-7 12zm2 42h14l-7 12zm45-46h14l-7 12zm18 83h14l-7 12zm14-80h14l-7 12zm40 32h14l-7 12zm6-43h14l-7 12zm14 51h14l-7 12zm2-50h14l-7 12zm27 83h14l-7 12zm12-4h14l-7 12zm1-64h14l-7 12zm43 30h14l-7 12zm8-1h14l-7 12zm19-38h14l-7 12zm0 0h14l-7 12zm7-5h14l-7 12zm14 27h14l-7 12zm9-18h14l-7 12zm11 20h14l-7 12zm13-18h14l-7 12zm4-14h14l-7 12zm21 69h14l-7 12zm10-68h14l-7 12zm5 81h14l-7 12zm18-20h14l-7 12zm9-45h14l-7 12zm28 74h14l-7 12zm4-73h14l-7 12zm2 31h14l-7 12zm2-26h14l-7 12zm2-18h14l-7 12zm6 61h14l-7 12zm6-8h14l-7 12zm13-30h14l-7 12zm1 20h14l-7 12zm1-19h14l-7 12zm1-22h14l-7 12zm19 31h14l-7 12zm6-34h14l-7 12zm4 39h14l-7 12zm0 0h14l-7 12zm1-32h14l-7 12zm3 11h14l-7 12zm7-1h14l-7 12zm7 13h14l-7 12zm2-16h14l-7 12zm2 64h14l-7 12zm10 8h14l-7 12zm1-5h14l-7 12zm1-53h14l-7 12zm11 20h14l-7 12zm2 10h14l-7 12zm1-11h14l-7 12zm10-13h14l-7 12zm17-31h14l-7 12zm6-4h14l-7 12zm5 33h14l-7 12zm3 51h14l-7 12zm7-34h14l-7 12zm1 1h14l-7 12zm2-54h14l-7 12zm6 89h14l-7 12zm4-80h14l-7 12zm1 17h14l-7 12zm3 54h14l-7 12zm1-77h14l-7 12zm1 1h14l-7 12zm2 8h14l-7 12zm6-11h14l-7 12zm1 57h14l-7 12zm1 11h14l-7 12zm5-11h14l-7 12zm0-12h14l-7 12zm0-22h14l-7 12zm3 65h14l-7 12zm0-24h14l-7 12zm4-52h14l-7 12zm3-12h14l-7 12zm2 93h14l-7 12zm1-14h14l-7 12zm3 13h14l-7 12zm20-7h14l-7 12zm5-4h14l-7 12zm13-42h14l-7 12zm6-26h14l-7 12zm4 77h14l-7 12zm3-42h14l-7 12zm10 36h14l-7 12zm1-31h14l-7 12zm8-1h14l-7 12zm8-19h14l-7 12zm6 7h14l-7 12zm0-41h14l-7 12zm1-1h14l-7 12zm6 39h14l-7 12zm3 30h14l-7 12zm2-5h14l-7 12zm0-16h14l-7 12zm1 13h14l-7 12zm4 3h14l-7 12zm4-10h14l-7 12zm1-48h14l-7 12zm1 17h14l-7 12zm3 56h14l-7 12zm3-71h14l-7 12zm1 3h14l-7 12zm1 71h14l-7 12zm3-24h14l-7 12zm0 30h14l-7 12zm4-23h14l-7 12zm4-46h14l-7 12zm1 46h14l-7 12zm3 10h14l-7 12zm5-12h14l-7 12zm14-6h14l-7 12zm5-32h14l-7 12zm1 1h14l-7 12zm5-19h14l-7 12zm3 83h14l-7 12zm0-72h14l-7 12zm1 57h14l-7 12zm2-29h14l-7 12zm3-34h14l-7 12zm3-1h14l-7 12zm1-4h14l-7 12zm0 76h14l-7 12zm3-27h14l-7 12zm3 17h14l-7 12zm17-22h14l-7 12zm1 35h14l-7 12zm4-77h14l-7 12zm3 32h14l-7 12zm1 4h14l-7 12zm1-16h14l-7 12zm0 0h14l-7 12zm1 0h14l-7 12zm1 35h14l-7 12zm4-62h14l-7 12zm3 73h14l-7 12zm2-18h14l-7 12zm19 22h14l-7 12zm2-51h14l-7 12zm0 0h14l-7 12zm9 6h14l-7 12zm11 24h14l-7 12zm5 18h14l-7 12zm5-62h14l-7 12zm0 39h14l-7 12zm7-13h14l-7 12zm0-30h14l-7 12zm5 36h14l-7 12zm11-40h14l-7 12zm3 10h14l-7 12zm1 78h14l-7 12zm6-34h14l-7 12zm11-45h14l-7 12zm5 37h14l-7 12zm6 22h14l-7 12zm1-64h14l-7 12zm12 15h14l-7 12zm1 3h14l-7 12zm0 35h14l-7 12zm12-34h14l-7 12zm6-3h14l-7 12zm1 58h14l-7 12zm5-49h14l-7 12zm3 16h14l-7 12zm3-38h14l-7 12zm1 3h14l-7 12zm2 11h14l-7 12zm6 64h14l-7 12zm2-57h14l-7 12zm4-17h14l-7 12zm8 7h14l-7 12zm2 33h14l-7 12zm4 7h14l-7 12zm3 23h14l-7 12zm4-59h14l-7 12zm2 26h14l-7 12zm7-6h14l-7 12zm299 0h14l-7 12zm-265 100h14l-7 12zm-9-47h14l-7 12zm-3 21h14l-7 12zm-2 44h14l-7 12zm-4 3h14l-7 12zm-2 3h14l-7 12zm-4 12h14l-7 12zm-1-13h14l-7 12zm-1-72h14l-7 12zm-5 59h14l-7 12zm-1-43h14l-7 12zm-2 10h14l-7 12zm-4 57h14l-7 12zm-10-39h14l-7 12zm-9-1h14l-7 12zm-2-40h14l-7 12zm-16 81h14l-7 12zm-2-73h14l-7 12zm-9 16h14l-7 12zm-12-28h14l-7 12zm-3 7h14l-7 12zm-2 86h14l-7 12zm-9-60h14l-7 12zm-4-7h14l-7 12zm-4 31h14l-7 12zm-10 0h14l-7 12zm0-2h14l-7 12zm-8-53h14l-7 12zm-13 14h14l-7 12zm-2-17h14l-7 12zm-5 18h14l-7 12zm-2 24h14l-7 12zm-2-10h14l-7 12zm-4-15h14l-7 12zm0-15h14l-7 12zm-3-1h14l-7 12zm0 71h14l-7 12zm-5 2h14l-7 12zm-3 18h14l-7 12zm-1-25h14l-7 12zm-5-2h14l-7 12zm-1 26h14l-7 12zm-2-65h14l-7 12zm-2 50h14l-7 12zm-8-20h14l-7 12zm-6-37h14l-7 12zm-7 67h14l-7 12zm-3-62h14l-7 12zm-1 54h14l-7 12zm-2-49h14l-7 12zm-13 33h14l-7 12zm-9-43h14l-7 12zm-2 66h14l-7 12zm-2-34h14l-7 12zm-1-18h14l-7 12zm-7 13h14l-7 12zm-2-10h14l-7 12zm-3 43h14l-7 12zm-2-62h14l-7 12zm-1 5h14l-7 12zm-2-18h14l-7 12zm-3 36h14l-7 12zm-5-9h14l-7 12zm-1-9h14l-7 12zm-2 26h14l-7 12zm-17-14h14l-7 12zm-16 18h14l-7 12zm-8-18h14l-7 12zm-5 60h14l-7 12zm-1-5h14l-7 12zm-3-79h14l-7 12zm-1 6h14l-7 12zm-4-2h14l-7 12zm-5 22h14l-7 12zm0 22h14l-7 12zm-7-38h14l-7 12zm-3 71h14l-7 12zm-2-56h14l-7 12zm-1 8h14l-7 12zm0 26h14l-7 12zm-1 21h14l-7 12zm-12-13h14l-7 12zm-4-74h14l-7 12zm-4 49h14l-7 12zm-8 6h14l-7 12zm-10-8h14l-7 12zm-2-42h14l-7 12zm-1 5h14l-7 12zm-9 68h14l-7 12zm-1 11h14l-7 12zm-3-38h14l-7 12zm-5 27h14l-7 12zm-4-14h14l-7 12zm-4-49h14l-7 12zm-19 3h14l-7 12zm-7 3h14l-7 12zm-3-8h14l-7 12zm-1 39h14l-7 12zm0-35h14l-7 12zm-1 1h14l-7 12zm-5 23h14l-7 12zm-8-21h14l-7 12zm0 5h14l-7 12zm-1 65h14l-7 12zm-1-72h14l-7 12zm0 60h14l-7 12zm-23-47h14l-7 12zm-1-30h14l-7 12zm-13 25h14l-7 12zm-2 57h14l-7 12zm-6-40h14l-7 12zm0 3h14l-7 12zm-10-41h14l-7 12zm-2 24h14l-7 12zm-15 6h14l-7 12zm-10-17h14l-7 12zm-2 71h14l-7 12zm-8-76h14l-7 12zm-1 38h14l-7 12zm-6 28h14l-7 12zm-6-82h14l-7 12zm-6 36h14l-7 12zm-3 11h14l-7 12zm-16-20h14l-7 12zm-19 17h14l-7 12zm-5-26h14l-7 12zm-16 1h14l-7 12zm-7 62h14l-7 12zm-16-9h14l-7 12zm-9-28h14l-7 12zm0 5h14l-7 12zm-101-32h14l-7 12zm-11 41h14l-7 12zm-52 3h14l-7 12zm-10-51h14l-7 12zm-53-3h14l-7 12zm-32 15h14l-7 12zm-15 42h14l-7 12zm-45 22h14l-7 12zm-23-9h14l-7 12zm-38-42h14l-7 12zm-12-34h14l-7 12zm-11 65h14l-7 12zm-8 19h14l-7 12zm-4-61h14l-7 12zm-55 27h14l-7 12zm-9-14h14l-7 12zm-2 54h14l-7 12zm-9-46h14l-7 12zm-13-13h14l-7 12zm-18-17h14l-7 12zm-2 19h14l-7 12zm-10 56h14l-7 12zm-1-58h14l-7 12zm-13 10h14l-7 12zm-1 16h14l-7 12zm-16-18h14l-7 12zm-12-24h14l-7 12zm-8 16h14l-7 12zm-22-26h14l-7 12zm-1 28h14l-7 12zm-8 1h14l-7 12zm-4 35h14l-7 12zm-11-1h14l-7 12zm-8-68h14l-7 12zm-1 17h14l-7 12zm-63 3h14l-7 12zm-12-17h14l-7 12zm-36 75h14l-7 12zm-10-21h14l-7 12zm-52 34h14l-7 12zm-10 0h14l-7 12zm-2-11h14l-7 12zm-6-31h14l-7 12zm-10-27h14l-7 12zm31 162h14l-7 12zm9-50h14l-7 12zm1 4h14l-7 12zm1 29h14l-7 12zm1-56h14l-7 12zm15 11h14l-7 12zm7-10h14l-7 12zm52 62h14l-7 12zm2-36h14l-7 12zm54 24h14l-7 12zm4-41h14l-7 12zm49 66h14l-7 12zm8-82h14l-7 12zm1 37h14l-7 12zm9 23h14l-7 12zm9-33h14l-7 12zm0 23h14l-7 12zm4 25h14l-7 12zm4-66h14l-7 12zm3 1h14l-7 12zm10 35h14l-7 12zm6 6h14l-7 12zm3 24h14l-7 12zm37-55h14l-7 12zm15 6h14l-7 12zm0-19h14l-7 12zm1-7h14l-7 12zm11 64h14l-7 12zm3-59h14l-7 12zm0 36h14l-7 12zm18-46h14l-7 12zm14 80h14l-7 12zm26-30h14l-7 12zm1-27h14l-7 12zm27-7h14l-7 12zm36 14h14l-7 12zm15-12h14l-7 12zm7 52h14l-7 12zm9-47h14l-7 12zm34 8h14l-7 12zm36-12h14l-7 12zm77 52h14l-7 12zm43-58h14l-7 12zm13 17h14l-7 12zm60 21h14l-7 12zm1-42h14l-7 12zm2 42h14l-7 12zm11 20h14l-7 12zm2-24h14l-7 12zm62 16h14l-7 12zm1-20h14l-7 12zm3 36h14l-7 12zm22-8h14l-7 12zm11-19h14l-7 12zm14 2h14l-7 12zm86-54h14l-7 12zm9 55h14l-7 12zm27-21h14l-7 12zm7 22h14l-7 12zm26 13h14l-7 12zm4-41h14l-7 12zm0 46h14l-7 12zm7-2h14l-7 12zm10-60h14l-7 12zm0 18h14l-7 12zm5 5h14l-7 12zm37 17h14l-7 12zm0-40h14l-7 12zm3 12h14l-7 12zm0 24h14l-7 12zm3-13h14l-7 12zm7-41h14l-7 12zm18 0h14l-7 12zm6 73h14l-7 12zm19 19h14l-7 12zm5-70h14l-7 12zm2 70h14l-7 12zm1-72h14l-7 12zm23 0h14l-7 12zm4 53h14l-7 12zm8-69h14l-7 12zm0 74h14l-7 12zm23-58h14l-7 12zm4 24h14l-7 12zm7-34h14l-7 12zm4 73h14l-7 12zm3-20h14l-7 12zm7-16h14l-7 12zm19-29h14l-7 12zm1 50h14l-7 12zm10-58h14l-7 12zm7 51h14l-7 12zm9 0h14l-7 12zm0-42h14l-7 12zm9-19h14l-7 12zm5 8h14l-7 12zm2 66h14l-7 12zm4-7h14l-7 12zm7-36h14l-7 12zm8 26h14l-7 12zm6 1h14l-7 12zm8-27h14l-7 12zm0-11h14l-7 12zm2 52h14l-7 12zm9 18h14l-7 12zm13-84h14l-7 12zm5 19h14l-7 12zm2 57h14l-7 12zm17-27h14l-7 12zm1-13h14l-7 12zm2-8h14l-7 12zm1-4h14l-7 12zm2-26h14l-7 12zm2 68h14l-7 12zm3 8h14l-7 12zm1-57h14l-7 12zm0 54h14l-7 12zm0-46h14l-7 12zm8-7h14l-7 12zm18 34h14l-7 12zm0-16h14l-7 12zm6 30h14l-7 12zm2 16h14l-7 12zm11-12h14l-7 12zm2 1h14l-7 12zm0-22h14l-7 12zm7-41h14l-7 12zm1-10h14l-7 12zm3 77h14l-7 12zm1-56h14l-7 12zm5 47h14l-7 12zm0-69h14l-7 12zm1 53h14l-7 12zm84 44h14l-7 12zm-95 2h14l-7 12zm-51-3h14l-7 12zm-2 57h14l-7 12zm-10-41h14l-7 12zm-5 13h14l-7 12zm-12 19h14l-7 12zm-1-39h14l-7 12zm-11 77h14l-7 12zm-16-54h14l-7 12zm-8-33h14l-7 12zm-22 56h14l-7 12zm-4-55h14l-7 12zm-19 14h14l-7 12zm-5 22h14l-7 12zm-32-35h14l-7 12zm-3 2h14l-7 12zm-3 43h14l-7 12zm-47-40h14l-7 12zm-26 22h14l-7 12zm-119-22h14l-7 12zm-55-8h14l-7 12zm-11 82h14l-7 12zm-48-57h14l-7 12zm-75 55h14l-7 12zm-12-58h14l-7 12zm-286 30h14l-7 12zm-14 41h14l-7 12zm-64-54h14l-7 12zm-7-36h14l-7 12zm-41 33h14l-7 12zm-5 50h14l-7 12zm-27-37h14l-7 12zm-7-13h14l-7 12zm-24 21h14l-7 12zm-24-21h14l-7 12zm-34 34h14l-7 12zm-7-14h14l-7 12zm-6 37h14l-7 12zm-45-92h14l-7 12zm-2 48h14l-7 12zm-15-43h14l-7 12zm-7 23h14l-7 12zm-1-6h14l-7 12zm0 7h14l-7 12zm-5 47h14l-7 12zm-11-33h14l-7 12zm-10 30h14l-7 12zm-2 17h14l-7 12zm-5-49h14l-7 12zm-4 23h14l-7 12zm0-51h14l-7 12zm-2 67h14l-7 12zm-4-65h14l-7 12zm-3 23h14l-7 12zm-17-5h14l-7 12zm-18-31h14l-7 12zm-6 85h14l-7 12zm-11-39h14l-7 12zm-2-46h14l-7 12zm-31 62h14l-7 12zm-7-5h14l-7 12zm-47-16h14l-7 12zm-3-39h14l-7 12zm-4 28h14l-7 12zm-11 3h14l-7 12zm-4-29h14l-7 12zm-4 55h14l-7 12zm0 13h14l-7 12zm-20-13h14l-7 12zm-23 23h14l-7 12zm-6-40h14l-7 12zm-1 49h14l-7 12zm-15-60h14l-7 12zm44 128h14l-7 12zm5-51h14l-7 12zm20 54h14l-7 12zm39-16h14l-7 12zm8-25h14l-7 12zm26-17h14l-7 12zm3-1h14l-7 12zm12 30h14l-7 12zm24-6h14l-7 12zm15 13h14l-7 12zm2 21h14l-7 12zm22-39h14l-7 12zm4 38h14l-7 12zm2-33h14l-7 12zm2 3h14l-7 12zm10-37h14l-7 12zm7 94h14l-7 12zm1-43h14l-7 12zm2-2h14l-7 12zm7-41h14l-7 12zm4-2h14l-7 12zm7 82h14l-7 12zm23-13h14l-7 12zm9-7h14l-7 12zm3 9h14l-7 12zm35-31h14l-7 12zm36-12h14l-7 12zm70 18h14l-7 12zm4-24h14l-7 12zm34-5h14l-7 12zm20 71h14l-7 12zm180-34h14l-7 12zm25-12h14l-7 12zm4-43h14l-7 12zm33 45h14l-7 12zm38 44h14l-7 12zm169-85h14l-7 12zm10 9h14l-7 12zm102 25h14l-7 12zm91-34h14l-7 12zm1 59h14l-7 12zm32-61h14l-7 12zm39 81h14l-7 12zm14-88h14l-7 12zm36 39h14l-7 12zm83 5h14l-7 12zm83 27h14l-7 12zm24-48h14l-7 12zm80-20h14l-7 12zm-458 143h14l-7 12zm-13-4h14l-7 12zm-16 5h14l-7 12zm-75 29h14l-7 12zm-110-34h14l-7 12zm-216-10h14l-7 12zm-313-37h14l-7 12zm-31 23h14l-7 12zm-18 72h14l-7 12zm-72-85h14l-7 12zm-15-10h14l-7 12zm-1 24h14l-7 12zm-88-1h14l-7 12zm-27-22h14l-7 12zm-11 107h14l-7 12zm20 40h14l-7 12zm80 7h14l-7 12zm2 6h14l-7 12zm13-65h14l-7 12zm45 8h14l-7 12zm139-7h14l-7 12zm168 72h14l-7 12zm46-6h14l-7 12zm46-26h14l-7 12zm10 20h14l-7 12zm25-24h14l-7 12zm74 19h14l-7 12zm3-27h14l-7 12zm49-18h14l-7 12zm2-7h14l-7 12zm39-4h14l-7 12zm0 4h14l-7 12zm48 24h14l-7 12zm18-27h14l-7 12zm-394 100h14l-7 12zm-179 101h14l-7 12zm67-7h14l-7 12z" fill="#d62728" stroke="#d62728" stroke-width="9.6" stroke-linejoin="round"/>
<path d="M1112 4934h0m-236 48h0m-40 61h0m55 23h0m23-13h0m12 27h0m8-67h0m10-4h0m1 30h0m3 27h0m1-15h0m0-9h0m2-23h0m3-7h0m4-1h0m50 72h0m6-24h0m14-53h0m33-1h0m23 19h0m200 5h0m-60 60h0m-108 62h0m-41 10h0m-33-45h0m-13 19h0m-5-42h0m-2 50h0m-43-18h0m-6 17h0m-2-48h0m-3 0h0m0 59h0m-1-59h0m-3-4h0m-4 78h0m-4-9h0m-10-43h0m-6 40h0m-6 4h0m-7-22h0m-4 28h0m-3-41h0m-14 10h0m-11 3h0m-28 34h0m-85 6h0m-9 96h0m63-80h0m7 66h0m1-18h0m6 20h0m14-47h0m4 22h0m3 33h0m2-12h0m5-44h0m1 30h0m13-55h0m14 86h0m5 3h0m2-47h0m3 24h0m2 23h0m8-29h0m33-23h0m3-12h0m6 8h0m2-8h0m4 16h0m10-34h0m2 26h0m1 27h0m5 30h0m1-92h0m6 20h0m1 45h0m4-10h0m1-53h0m3 74h0m4-36h0m10-21h0m32 59h0m2-69h0m34 52h0m14 18h0m12-12h0m7-52h0m51 75h0m36-20h0m52-9h0m-148 127h0m-11-91h0m-10 14h0m-2 42h0m-39 22h0m-11 10h0m-6-34h0m-5-54h0m-11 10h0m0 0h0m-15 18h0m-2 25h0m-3-7h0m0 12h0m-5 3h0m-4 26h0m-12-10h0m-9-28h0m-4-45h0m-1 83h0m-5-65h0m-1 31h0m-2-19h0m-2-4h0m-6 28h0m-3 11h0m-3-31h0m0 39h0m-1-31h0m-5 45h0m0-39h0m-1-44h0m-1 22h0m0-23h0m-15 84h0m-5-61h0m-2-22h0m-7 13h0m0 66h0m-4-13h0m-8-12h0m-1-25h0m-7-28h0m-8 15h0m-9-22h0m-6 23h0m-14 51h0m-2-27h0m-3-1h0m-72-2h0m57 98h0m31-7h0m8 10h0m8-51h0m3 90h0m10-65h0m2 15h0m1 45h0m9-22h0m7 23h0m2-2h0m6-69h0m5 29h0m0-12h0m11 1h0m4-28h0m4 9h0m9 15h0m5 18h0m8 40h0m4-64h0m1 29h0m2 39h0m1-85h0m11 2h0m1 13h0m2 9h0m7-19h0m6-9h0m17 16h0m1 22h0m2-25h0m8 20h0m8 33h0m42-32h0m1 89h0m-47-4h0m-1 9h0m-15 28h0m-2 6h0m-9-5h0m0-59h0m-2 7h0m-7 55h0m-5-58h0m-4 61h0m-5-51h0m-8-22h0m-2 15h0m0-8h0m-2 85h0m-2-87h0m-3 27h0m-9 63h0m-2-21h0m-2-41h0m-4 40h0m-3 11h0m-10 3h0m-2-61h0m-8 10h0m-4 12h0m0 43h0m-40-57h0m-8 10h0m-18-28h0m68 117h0m23 3h0m0 37h0m14-47h0m4 27h0m5-45h0m3 25h0m13 7h0m4-12h0m7 44h0m3-53h0m0 21h0m4 31h0m1-19h0m1 39h0m2-49h0m2-30h0m0 71h0m7-68h0m1 75h0m0-53h0m8 45h0m2-29h0m10-20h0m17 39h0m24 55h0m-7 12h0m-14 20h0m-10-49h0m-2 43h0m-4 27h0m0-36h0m-1-35h0m-3 9h0m-1 36h0m-5-30h0m-2 45h0m-1-2h0m-3 12h0m-2-53h0m0-22h0m-2 2h0m-4 9h0m-1 60h0m-4-41h0m13 61h0m6 9h0m9-13h0m9 3h0m1 4h0m2 24h0m2-21h0m2-12h0m3 28h0m2-22h0m1 20h0" stroke="#9467bd" stroke-width="19" stroke-linecap="round" fill="none"/>
<path d="M1032 4392l8 6-3 9h-10l-3-9zm844 204l8 6-3 9h-10l-3-9zm-220-23l8 6-3 9h-10l-3-9zm-57-3l8 6-3 9h-10l-3-9zm-16 29l8 6-3 9h-10l-3-9zm-41-8l8 6-3 9h-10l-3-9zm-5-30l8 6-3 9h-10l-3-9zm-11 25l8 6-3 9h-10l-3-9zm-15-28l8 6-3 9h-10l-3-9zm-55 22l8 6-3 9h-10l-3-9zm-15-14l8 6-3 9h-10l-3-9zm-1 2l8 6-3 9h-10l-3-9zm-30 9l8 6-3 9h-10l-3-9zm-25 15l8 6-3 9h-10l-3-9zm-13-36l8 6-3 9h-10l-3-9zm0 7l8 6-3 9h-10l-3-9zm-2 16l8 6-3 9h-10l-3-9zm-10-33l8 6-3 9h-10l-3-9zm-16 15l8 6-3 9h-10l-3-9zm-1-12l8 6-3 9h-10l-3-9zm-1 43l8 6-3 9h-10l-3-9zm-31 6l8 6-3 9h-10l-3-9zm-7-19l8 6-3 9h-10l-3-9zm-17-57l8 6-3 9h-10l-3-9zm-9 26l8 6-3 9h-10l-3-9zm-30 36l8 6-3 9h-10l-3-9zm-32 14l8 6-3 9h-10l-3-9zm-19-57l8 6-3 9h-10l-3-9zm-53-21l8 6-3 9h-10l-3-9zm-50 73l8 6-3 9h-10l-3-9zm-11-1l8 6-3 9h-10l-3-9zm-107-72l8 6-3 9h-10l-3-9zm-56 16l8 6-3 9h-10l-3-9zm-68 60l8 6-3 9h-10l-3-9zm36 52l8 6-3 9h-10l-3-9zm92 41l8 6-3 9h-10l-3-9zm12-4l8 6-3 9h-10l-3-9zm1-37l8 6-3 9h-10l-3-9zm11-12l8 6-3 9h-10l-3-9zm18 26l8 6-3 9h-10l-3-9zm7-2l8 6-3 9h-10l-3-9zm11-28l8 6-3 9h-10l-3-9zm13 48l8 6-3 9h-10l-3-9zm9-8l8 6-3 9h-10l-3-9zm5 4l8 6-3 9h-10l-3-9zm32-75l8 6-3 9h-10l-3-9zm1 88l8 6-3 9h-10l-3-9zm8-80l8 6-3 9h-10l-3-9zm3 76l8 6-3 9h-10l-3-9zm14-24l8 6-3 9h-10l-3-9zm0-14l8 6-3 9h-10l-3-9zm4-15l8 6-3 9h-10l-3-9zm15 42l8 6-3 9h-10l-3-9zm10-17l8 6-3 9h-10l-3-9zm4 36l8 6-3 9h-10l-3-9zm7-82l8 6-3 9h-10l-3-9zm1 20l8 6-3 9h-10l-3-9zm4-14l8 6-3 9h-10l-3-9zm2 75l8 6-3 9h-10l-3-9zm0-1l8 6-3 9h-10l-3-9zm8-3l8 6-3 9h-10l-3-9zm12-86l8 6-3 9h-10l-3-9zm35 19l8 6-3 9h-10l-3-9zm23 7l8 6-3 9h-10l-3-9zm24-10l8 6-3 9h-10l-3-9zm10 66l8 6-3 9h-10l-3-9zm1-73l8 6-3 9h-10l-3-9zm8 60l8 6-3 9h-10l-3-9zm1-56l8 6-3 9h-10l-3-9zm21 10l8 6-3 9h-10l-3-9zm1 35l8 6-3 9h-10l-3-9zm11-49l8 6-3 9h-10l-3-9zm19 17l8 6-3 9h-10l-3-9zm10 57l8 6-3 9h-10l-3-9zm1-13l8 6-3 9h-10l-3-9zm7-61l8 6-3 9h-10l-3-9zm2 0l8 6-3 9h-10l-3-9zm16 35l8 6-3 9h-10l-3-9zm24-11l8 6-3 9h-10l-3-9zm1 39l8 6-3 9h-10l-3-9zm7-40l8 6-3 9h-10l-3-9zm5-21l8 6-3 9h-10l-3-9zm3-3l8 6-3 9h-10l-3-9zm9 26l8 6-3 9h-10l-3-9zm1 3l8 6-3 9h-10l-3-9zm0-36l8 6-3 9h-10l-3-9zm8 45l8 6-3 9h-10l-3-9zm26-41l8 6-3 9h-10l-3-9zm30 23l8 6-3 9h-10l-3-9zm13 29l8 6-3 9h-10l-3-9zm3-48l8 6-3 9h-10l-3-9zm0 48l8 6-3 9h-10l-3-9zm5-46l8 6-3 9h-10l-3-9zm9 9l8 6-3 9h-10l-3-9zm22-10l8 6-3 9h-10l-3-9zm15-3l8 6-3 9h-10l-3-9zm28 47l8 6-3 9h-10l-3-9zm23-35l8 6-3 9h-10l-3-9zm17 57l8 6-3 9h-10l-3-9zm31-70l8 6-3 9h-10l-3-9zm0 32l8 6-3 9h-10l-3-9zm4 42l8 6-3 9h-10l-3-9zm16 4l8 6-3 9h-10l-3-9zm1-77l8 6-3 9h-10l-3-9zm5 38l8 6-3 9h-10l-3-9zm5-15l8 6-3 9h-10l-3-9zm5-6l8 6-3 9h-10l-3-9zm31 52l8 6-3 9h-10l-3-9zm12 6l8 6-3 9h-10l-3-9zm22-47l8 6-3 9h-10l-3-9zm1 14l8 6-3 9h-10l-3-9zm54 22l8 6-3 9h-10l-3-9zm15 14l8 6-3 9h-10l-3-9zm54-3l8 6-3 9h-10l-3-9zm17 11l8 6-3 9h-10l-3-9zm34-2l8 6-3 9h-10l-3-9zm36-6l8 6-3 9h-10l-3-9zm104-18l8 6-3 9h-10l-3-9zm-133 52l8 6-3 9h-10l-3-9zm-31 7l8 6-3 9h-10l-3-9zm-2 16l8 6-3 9h-10l-3-9zm-8-31l8 6-3 9h-10l-3-9zm-3 67l8 6-3 9h-10l-3-9zm-32 6l8 6-3 9h-10l-3-9zm-15-74l8 6-3 9h-10l-3-9zm-11 7l8 6-3 9h-10l-3-9zm-25-14l8 6-3 9h-10l-3-9zm-32 11l8 6-3 9h-10l-3-9zm-1 35l8 6-3 9h-10l-3-9zm-2-14l8 6-3 9h-10l-3-9zm-17-27l8 6-3 9h-10l-3-9zm-18 45l8 6-3 9h-10l-3-9zm-16-53l8 6-3 9h-10l-3-9zm-4 31l8 6-3 9h-10l-3-9zm-26 55l8 6-3 9h-10l-3-9zm-9-58l8 6-3 9h-10l-3-9zm-41-4l8 6-3 9h-10l-3-9zm-29-4l8 6-3 9h-10l-3-9zm-106 29l8 6-3 9h-10l-3-9zm-8-14l8 6-3 9h-10l-3-9zm-3-35l8 6-3 9h-10l-3-9zm-367 22l8 6-3 9h-10l-3-9zm0 14l8 6-3 9h-10l-3-9zm-9-37l8 6-3 9h-10l-3-9zm-7 31l8 6-3 9h-10l-3-9zm-16 45l8 6-3 9h-10l-3-9zm-5-8l8 6-3 9h-10l-3-9zm-3 11l8 6-3 9h-10l-3-9zm-30-83l8 6-3 9h-10l-3-9zm0 38l8 6-3 9h-10l-3-9zm-5 27l8 6-3 9h-10l-3-9zm-12-60l8 6-3 9h-10l-3-9zm-12 26l8 6-3 9h-10l-3-9zm-10 57l8 6-3 9h-10l-3-9zm-13-43l8 6-3 9h-10l-3-9zm-4-41l8 6-3 9h-10l-3-9zm-6 65l8 6-3 9h-10l-3-9zm-3-30l8 6-3 9h-10l-3-9zm-4-25l8 6-3 9h-10l-3-9zm-1 55l8 6-3 9h-10l-3-9zm-7-20l8 6-3 9h-10l-3-9zm-5-17l8 6-3 9h-10l-3-9zm-2-31l8 6-3 9h-10l-3-9zm-19 67l8 6-3 9h-10l-3-9zm-1 9l8 6-3 9h-10l-3-9zm-13 10l8 6-3 9h-10l-3-9zm-2-58l8 6-3 9h-10l-3-9zm-52 123l8 6-3 9h-10l-3-9zm2-37l8 6-3 9h-10l-3-9zm18 23l8 6-3 9h-10l-3-9zm2-37l8 6-3 9h-10l-3-9zm11 5l8 6-3 9h-10l-3-9zm20 49l8 6-3 9h-10l-3-9zm5-49l8 6-3 9h-10l-3-9zm15 21l8 6-3 9h-10l-3-9zm5-28l8 6-3 9h-10l-3-9zm5 2l8 6-3 9h-10l-3-9zm11 0l8 6-3 9h-10l-3-9zm19 33l8 6-3 9h-10l-3-9zm3 38l8 6-3 9h-10l-3-9zm3-66l8 6-3 9h-10l-3-9zm1 1l8 6-3 9h-10l-3-9zm13 64l8 6-3 9h-10l-3-9zm22-61l8 6-3 9h-10l-3-9zm20 21l8 6-3 9h-10l-3-9zm609-28l8 6-3 9h-10l-3-9zm135 55l8 6-3 9h-10l-3-9zm122-51l8 6-3 9h-10l-3-9zm31-4l8 6-3 9h-10l-3-9zm4 70l8 6-3 9h-10l-3-9zm8-6l8 6-3 9h-10l-3-9zm1-53l8 6-3 9h-10l-3-9zm1 18l8 6-3 9h-10l-3-9zm16 9l8 6-3 9h-10l-3-9zm15-24l8 6-3 9h-10l-3-9zm6 59l8 6-3 9h-10l-3-9zm14-56l8 6-3 9h-10l-3-9zm12 29l8 6-3 9h-10l-3-9zm35 21l8 6-3 9h-10l-3-9zm17-61l8 6-3 9h-10l-3-9zm8 3l8 6-3 9h-10l-3-9zm4 44l8 6-3 9h-10l-3-9zm88 4l8 6-3 9h-10l-3-9zm14 27l8 6-3 9h-10l-3-9zm150 74l8 6-3 9h-10l-3-9zm-67-13l8 6-3 9h-10l-3-9zm-53-14l8 6-3 9h-10l-3-9zm-31 20l8 6-3 9h-10l-3-9zm-47 11l8 6-3 9h-10l-3-9zm-29-15l8 6-3 9h-10l-3-9zm-10-47l8 6-3 9h-10l-3-9zm-77 55l8 6-3 9h-10l-3-9zm-161-8l8 6-3 9h-10l-3-9zm-820-18l8 6-3 9h-10l-3-9zm-65 41l8 6-3 9h-10l-3-9zm-3-35l8 6-3 9h-10l-3-9zm-15-31l8 6-3 9h-10l-3-9zm-9 10l8 6-3 9h-10l-3-9zm-1 53l8 6-3 9h-10l-3-9zm-2-76l8 6-3 9h-10l-3-9zm-1 9l8 6-3 9h-10l-3-9zm-7-12l8 6-3 9h-10l-3-9zm-13 14l8 6-3 9h-10l-3-9zm-4 3l8 6-3 9h-10l-3-9zm-18-12l8 6-3 9h-10l-3-9zm-2 39l8 6-3 9h-10l-3-9zm-2-19l8 6-3 9h-10l-3-9zm-13-5l8 6-3 9h-10l-3-9zm-24-2l8 6-3 9h-10l-3-9zm-49 14l8 6-3 9h-10l-3-9zm20 72l8 6-3 9h-10l-3-9zm4 24l8 6-3 9h-10l-3-9zm16-22l8 6-3 9h-10l-3-9zm3 45l8 6-3 9h-10l-3-9zm7 15l8 6-3 9h-10l-3-9zm1-44l8 6-3 9h-10l-3-9zm3-14l8 6-3 9h-10l-3-9zm18 81l8 6-3 9h-10l-3-9zm32-49l8 6-3 9h-10l-3-9zm11-8l8 6-3 9h-10l-3-9zm4 16l8 6-3 9h-10l-3-9zm18-35l8 6-3 9h-10l-3-9zm60-4l8 6-3 9h-10l-3-9zm1091 15l8 6-3 9h-10l-3-9zm85 26l8 6-3 9h-10l-3-9zm73-9l8 6-3 9h-10l-3-9zm36-5l8 6-3 9h-10l-3-9zm80-1l8 6-3 9h-10l-3-9zm-174 78l8 6-3 9h-10l-3-9zm-1200 38l8 6-3 9h-10l-3-9zm-46-31l8 6-3 9h-10l-3-9zm-5 46l8 6-3 9h-10l-3-9zm-36-1l8 6-3 9h-10l-3-9zm-1-23l8 6-3 9h-10l-3-9zm-7 22l8 6-3 9h-10l-3-9zm-1 6l8 6-3 9h-10l-3-9zm0-26l8 6-3 9h-10l-3-9zm-9-11l8 6-3 9h-10l-3-9zm-3-18l8 6-3 9h-10l-3-9zm-6 61l8 6-3 9h-10l-3-9zm-90-84l8 6-3 9h-10l-3-9zm96 452l8 6-3 9h-10l-3-9zm40 60l8 6-3 9h-10l-3-9z" fill="#2ca02c" stroke="#2ca02c" stroke-width="5.5" stroke-linejoin="round"/>
<path d="M1411 4600h14l-7 12zm-41-15h14l-7 12zm-285 19h14l-7 12zm35 55h14l-7 12zm1-56h14l-7 12zm24 73h14l-7 12zm7 20h14l-7 12zm57-8h14l-7 12zm25-13h14l-7 12zm10-51h14l-7 12zm14 6h14l-7 12zm40 19h14l-7 12zm8 39h14l-7 12zm98-81h14l-7 12zm4 38h14l-7 12zm7-26h14l-7 12zm97 46h14l-7 12zm69 33h14l-7 12zm87-28h14l-7 12zm1-23h14l-7 12zm85 34h14l-7 12zm117-15h14l-7 12zm195 93h14l-7 12zm-73 7h14l-7 12zm-12 6h14l-7 12zm0-53h14l-7 12zm-24 18h14l-7 12zm0-11h14l-7 12zm-60-27h14l-7 12zm-12 75h14l-7 12zm-2 20h14l-7 12zm-27-9h14l-7 12zm-4-30h14l-7 12zm-14-19h14l-7 12zm-16 25h14l-7 12zm-25 11h14l-7 12zm-26-17h14l-7 12zm-13-46h14l-7 12zm-7 22h14l-7 12zm-2 13h14l-7 12zm-86 24h14l-7 12zm-5 24h14l-7 12zm-11-88h14l-7 12zm-78 2h14l-7 12zm-3 54h14l-7 12zm-3 12h14l-7 12zm-1-4h14l-7 12zm-42-49h14l-7 12zm-46 29h14l-7 12zm-27-18h14l-7 12zm-60-9h14l-7 12zm-32 66h14l-7 12zm-3-19h14l-7 12zm-38-46h14l-7 12zm-35 2h14l-7 12zm-52-25h14l-7 12zm-71 29h14l-7 12zm-63-18h14l-7 12zm-36 31h14l-7 12zm-60 107h14l-7 12zm31 14h14l-7 12zm23-33h14l-7 12zm16-4h14l-7 12zm4-3h14l-7 12zm2 25h14l-7 12zm51 26h14l-7 12zm22-18h14l-7 12zm20-51h14l-7 12zm16-7h14l-7 12zm29 12h14l-7 12zm20 51h14l-7 12zm53-53h14l-7 12zm2 39h14l-7 12zm58 26h14l-7 12zm82-67h14l-7 12zm0 18h14l-7 12zm55 36h14l-7 12zm27-33h14l-7 12zm16-3h14l-7 12zm55 19h14l-7 12zm6 9h14l-7 12zm16-41h14l-7 12zm21-9h14l-7 12zm54 5h14l-7 12zm34 65h14l-7 12zm18-14h14l-7 12zm77 33h14l-7 12zm2-62h14l-7 12zm4-30h14l-7 12zm30 78h14l-7 12zm18-20h14l-7 12zm26 21h14l-7 12zm34-6h14l-7 12zm38 9h14l-7 12zm18-23h14l-7 12zm61-14h14l-7 12zm10 28h14l-7 12zm16-2h14l-7 12zm52-12h14l-7 12zm77 1h14l-7 12zm116 53h14l-7 12zm-84 73h14l-7 12zm-1-31h14l-7 12zm-20-42h14l-7 12zm-5 60h14l-7 12zm-83-21h14l-7 12zm-7-49h14l-7 12zm-13 81h14l-7 12zm-35-83h14l-7 12zm-21 37h14l-7 12zm-19-4h14l-7 12zm-13-9h14l-7 12zm-3 42h14l-7 12zm-3-16h14l-7 12zm-33 16h14l-7 12zm-2-12h14l-7 12zm-30 4h14l-7 12zm-17 26h14l-7 12zm-29-66h14l-7 12zm-5 7h14l-7 12zm-29 49h14l-7 12zm-20-66h14l-7 12zm-38 16h14l-7 12zm-55 14h14l-7 12zm-4 11h14l-7 12zm-2 30h14l-7 12zm-6-20h14l-7 12zm-2-46h14l-7 12zm-32 58h14l-7 12zm-158-56h14l-7 12zm-4 6h14l-7 12zm-1 21h14l-7 12zm-25 3h14l-7 12zm-15 7h14l-7 12zm-31-29h14l-7 12zm-22 10h14l-7 12zm-9 0h14l-7 12zm-157-28h14l-7 12zm-12-2h14l-7 12zm-36 22h14l-7 12zm-5 39h14l-7 12zm-15-47h14l-7 12zm-13 48h14l-7 12zm-6-60h14l-7 12zm-111-9h14l-7 12zm-4 50h14l-7 12zm-8 11h14l-7 12zm-30-45h14l-7 12zm-14-19h14l-7 12zm-3 70h14l-7 12zm-12-19h14l-7 12zm-35-38h14l-7 12zm-68 161h14l-7 12zm60 14h14l-7 12zm0-53h14l-7 12zm3 16h14l-7 12zm15-18h14l-7 12zm5 24h14l-7 12zm33-30h14l-7 12zm9 61h14l-7 12zm32-17h14l-7 12zm98-48h14l-7 12zm11-21h14l-7 12zm3 78h14l-7 12zm25-71h14l-7 12zm24-10h14l-7 12zm24 41h14l-7 12zm17-20h14l-7 12zm352-13h14l-7 12zm6-6h14l-7 12zm10 5h14l-7 12zm1-4h14l-7 12zm87 5h14l-7 12zm14 18h14l-7 12zm33-12h14l-7 12zm25 70h14l-7 12zm19-87h14l-7 12zm4 6h14l-7 12zm41 5h14l-7 12zm17 82h14l-7 12zm21-28h14l-7 12zm67-66h14l-7 12zm33 41h14l-7 12zm57-41h14l-7 12zm3 22h14l-7 12zm8-14h14l-7 12zm26 70h14l-7 12zm13-59h14l-7 12zm28 54h14l-7 12zm44 14h14l-7 12zm8-31h14l-7 12zm2 32h14l-7 12zm1 3h14l-7 12zm81-89h14l-7 12zm27 89h14l-7 12zm35-72h14l-7 12zm42 53h14l-7 12zm30 21h14l-7 12zm18-16h14l-7 12zm-129 62h14l-7 12zm-8 46h14l-7 12zm-27-55h14l-7 12zm-29 44h14l-7 12zm-68-45h14l-7 12zm-65 35h14l-7 12zm-17-31h14l-7 12zm-108-6h14l-7 12zm-8-17h14l-7 12zm-31-7h14l-7 12zm-107 14h14l-7 12zm-97 0h14l-7 12zm-32 48h14l-7 12zm-76-9h14l-7 12zm-294-8h14l-7 12zm-224 20h14l-7 12zm-39-65h14l-7 12zm-161 104h14l-7 12zm150 80h14l-7 12zm69-93h14l-7 12zm3 6h14l-7 12zm32 48h14l-7 12zm29 21h14l-7 12zm13-45h14l-7 12zm8 46h14l-7 12zm107-33h14l-7 12zm9-12h14l-7 12zm206 62h14l-7 12zm85-85h14l-7 12zm112 71h14l-7 12zm76-58h14l-7 12zm165 10h14l-7 12zm79 0h14l-7 12zm4 39h14l-7 12zm23-72h14l-7 12zm39 41h14l-7 12zm35-31h14l-7 12zm16 25h14l-7 12zm1-15h14l-7 12zm48-8h14l-7 12zm18 3h14l-7 12zm39 77h14l-7 12zm12-17h14l-7 12zm34-63h14l-7 12zm48 4h14l-7 12zm28-2h14l-7 12zm8 67h14l-7 12zm12-35h14l-7 12zm215 82h14l-7 12zm-225-32h14l-7 12zm-53 27h14l-7 12zm-71-18h14l-7 12zm-177 13h14l-7 12zm-178 4h14l-7 12zm-518 23h14l-7 12zm0-32h14l-7 12zm-78 77h14l-7 12zm-52-55h14l-7 12zm-63-22h14l-7 12zm-1 40h14l-7 12zm-49-4h14l-7 12zm-84-15h14l-7 12zm-10-18h14l-7 12zm-42 34h14l-7 12zm-33-40h14l-7 12zm116 96h14l-7 12zm106 58h14l-7 12zm588 10h14l-7 12zm-368 44h14l-7 12zm-122 38h14l-7 12zm287 144h14l-7 12zm-15-7h14l-7 12zm-371 33h14l-7 12z" fill="#d62728" stroke="#d62728" stroke-width="9.6" stroke-linejoin="round"/>
<path d="M1692 4585l8 6-3 9h-10l-3-9zm-14-6l8 6-3 9h-10l-3-9zm-190-2l8 6-3 9h-10l-3-9zm-83 18l8 6-3 9h-10l-3-9zm-23-21l8 6-3 9h-10l-3-9zm-21 19l8 6-3 9h-10l-3-9zm-13-40l8 6-3 9h-10l-3-9zm-2 30l8 6-3 9h-10l-3-9zm-98-5l8 6-3 9h-10l-3-9zm-43 20l8 6-3 9h-10l-3-9zm-34-42l8 6-3 9h-10l-3-9zm-69 20l8 6-3 9h-10l-3-9zm-94-20l8 6-3 9h-10l-3-9zm86 119l8 6-3 9h-10l-3-9zm1-49l8 6-3 9h-10l-3-9zm35 64l8 6-3 9h-10l-3-9zm28-70l8 6-3 9h-10l-3-9zm30-20l8 6-3 9h-10l-3-9zm54 88l8 6-3 9h-10l-3-9zm19-43l8 6-3 9h-10l-3-9zm13 27l8 6-3 9h-10l-3-9zm61-32l8 6-3 9h-10l-3-9zm58 25l8 6-3 9h-10l-3-9zm25-58l8 6-3 9h-10l-3-9zm23 45l8 6-3 9h-10l-3-9zm2 33l8 6-3 9h-10l-3-9zm9-6l8 6-3 9h-10l-3-9zm33-46l8 6-3 9h-10l-3-9zm60-15l8 6-3 9h-10l-3-9zm34 43l8 6-3 9h-10l-3-9zm34-56l8 6-3 9h-10l-3-9zm1 41l8 6-3 9h-10l-3-9zm17 32l8 6-3 9h-10l-3-9zm16-23l8 6-3 9h-10l-3-9zm6-50l8 6-3 9h-10l-3-9zm36 32l8 6-3 9h-10l-3-9zm42 42l8 6-3 9h-10l-3-9zm28-47l8 6-3 9h-10l-3-9zm320 97l8 6-3 9h-10l-3-9zm-79-10l8 6-3 9h-10l-3-9zm-69 63l8 6-3 9h-10l-3-9zm-109-81l8 6-3 9h-10l-3-9zm-11 55l8 6-3 9h-10l-3-9zm-14 34l8 6-3 9h-10l-3-9zm-16-70l8 6-3 9h-10l-3-9zm-39 16l8 6-3 9h-10l-3-9zm-7 52l8 6-3 9h-10l-3-9zm-13-92l8 6-3 9h-10l-3-9zm-117 4l8 6-3 9h-10l-3-9zm-444 91l8 6-3 9h-10l-3-9zm-9-56l8 6-3 9h-10l-3-9zm-9 7l8 6-3 9h-10l-3-9zm-28-30l8 6-3 9h-10l-3-9zm-40-6l8 6-3 9h-10l-3-9zm-40 64l8 6-3 9h-10l-3-9zm-5-59l8 6-3 9h-10l-3-9zm-13-3l8 6-3 9h-10l-3-9zm-23 73l8 6-3 9h-10l-3-9zm-13-37l8 6-3 9h-10l-3-9zm-31 111l8 6-3 9h-10l-3-9zm0-62l8 6-3 9h-10l-3-9zm22 8l8 6-3 9h-10l-3-9zm53 44l8 6-3 9h-10l-3-9zm921-2l8 6-3 9h-10l-3-9zm19-14l8 6-3 9h-10l-3-9zm57 27l8 6-3 9h-10l-3-9zm27-1l8 6-3 9h-10l-3-9zm52-1l8 6-3 9h-10l-3-9zm77-24l8 6-3 9h-10l-3-9zm137 73l8 6-3 9h-10l-3-9zm-123 5l8 6-3 9h-10l-3-9zm-156-10l8 6-3 9h-10l-3-9zm-1100 26l8 6-3 9h-10l-3-9zm-22 55l8 6-3 9h-10l-3-9zm-11-1l8 6-3 9h-10l-3-9zm-24 80l8 6-3 9h-10l-3-9zm28-20l8 6-3 9h-10l-3-9zm7 38l8 6-3 9h-10l-3-9zm8-46l8 6-3 9h-10l-3-9zm67-28l8 6-3 9h-10l-3-9zm1142 16l8 6-3 9h-10l-3-9zm111 29l8 6-3 9h-10l-3-9zm36 41l8 6-3 9h-10l-3-9zm-1327 75l8 6-3 9h-10l-3-9zm-44-1l8 6-3 9h-10l-3-9zm-3 5l8 6-3 9h-10l-3-9zm-10-9l8 6-3 9h-10l-3-9zm1246 350l8 6-3 9h-10l-3-9z" fill="#2ca02c" stroke="#2ca02c" stroke-width="5.5" stroke-linejoin="round"/>
</g>
</g>
<g id="panel-D">
<polygon points="1026.0,1234.7 1467.0,1227.1 1475.9,927.2 1016.4,934.1" fill="rgb(242,242,242)" fill-opacity="0.50" stroke="rgb(242,242,242)" stroke-opacity="0.50" stroke-width="3.20" stroke-linejoin="round"/>
<polygon points="1467.0,1227.1 1507.0,1466.3 1518.7,1143.9 1475.9,927.2" fill="rgb(230,230,230)" fill-opacity="0.50" stroke="rgb(230,230,230)" stroke-opacity="0.50" stroke-width="3.20" stroke-linejoin="round"/>
<polygon points="1026.0,1234.7 1018.6,1475.7 1507.0,1466.3 1467.0,1227.1" fill="rgb(236,236,236)" fill-opacity="0.50" stroke="rgb(236,236,236)" stroke-opacity="0.50" stroke-width="3.20" stroke-linejoin="round"/>
<path d="M1025.98 1234.72L1018.63 1475.68" stroke="#000" stroke-width="2.56" fill="none" stroke-linecap="square"/>
<path d="M1025.6 1248.7L1469.3 1240.9L1478.3 939.7M1024.7 1275.1L1473.7 1267.2L1483.0 963.4M1023.9 1302.2L1478.2 1294.1L1487.8 987.7M1023.1 1330.0L1482.8 1321.7L1492.7 1012.6M1022.2 1358.4L1487.5 1349.9L1497.8 1038.2M1021.3 1387.5L1492.3 1378.8L1503.0 1064.4M1020.4 1417.4L1497.3 1408.4L1508.3 1091.3M1019.5 1448.0L1502.4 1438.8L1513.7 1118.8" stroke="#b0b0b0" stroke-width="2.56" fill="none"/>
<path d="M1029.1 1248.6L1018.4 1248.8M1028.3 1275.1L1017.5 1275.3M1027.6 1302.2L1016.6 1302.4M1026.8 1329.9L1015.7 1330.1M1025.9 1358.3L1014.7 1358.5M1025.1 1387.4L1013.8 1387.6M1024.2 1417.3L1012.7 1417.5M1023.4 1447.9L1011.7 1448.1" stroke="#000" stroke-width="2.56" fill="none" stroke-linecap="square"/>
<path d="M1506.96 1466.30L1018.63 1475.68" stroke="#000" stroke-width="2.56" fill="none" stroke-linecap="square"/>
<path d="M1045.7 933.6L1054.1 1234.2L1049.8 1475.1M1122.1 932.5L1127.4 1233.0L1131.0 1473.5M1198.3 931.3L1200.6 1231.7L1212.0 1472.0M1274.5 930.2L1273.7 1230.4L1293.0 1470.4M1350.6 929.1L1346.8 1229.2L1373.9 1468.9M1426.6 927.9L1419.7 1227.9L1454.6 1467.3" stroke="#b0b0b0" stroke-width="2.56" fill="none"/>
<path d="M1049.8 1472.9L1049.7 1479.4M1130.9 1471.4L1131.0 1477.8M1211.9 1469.8L1212.2 1476.2M1292.8 1468.3L1293.3 1474.7M1373.6 1466.7L1374.3 1473.1M1454.3 1465.2L1455.2 1471.6" stroke="#000" stroke-width="2.56" fill="none" stroke-linecap="square"/>
<path d="M1506.96 1466.30L1518.69 1143.86" stroke="#000" stroke-width="2.56" fill="none" stroke-linecap="square"/>
<path d="M1507.7 1446.6L1467.5 1208.7L1025.4 1216.3M1509.9 1384.9L1469.2 1151.1L1023.5 1158.6M1512.2 1322.1L1471.0 1092.6L1021.7 1100.0M1514.5 1258.2L1472.7 1033.2L1019.8 1040.4M1516.9 1193.1L1474.5 972.8L1017.8 979.8" stroke="#b0b0b0" stroke-width="2.56" fill="none"/>
<path d="M1507.3 1444.5L1508.4 1450.9M1509.6 1382.9L1510.6 1389.1M1511.8 1320.1L1512.9 1326.2M1514.2 1256.2L1515.3 1262.2M1516.5 1191.1L1517.7 1197.0" stroke="#000" stroke-width="2.56" fill="none" stroke-linecap="square"/>
<text transform="translate(928.3 1412.6) rotate(-88.25) scale(1 1.050)" font-size="25.6"><tspan x="-74.5" y="6.9">3</tspan><tspan x="-58.0" y="-2.4" font-size="17.9">0</tspan><tspan x="-40.9" y="6.9">−</tspan><tspan x="-14.4" y="6.9">2</tspan><tspan x="2.1" y="-2.4" font-size="17.9">1</tspan><tspan x="19.2" y="6.9">−</tspan><tspan x="45.6" y="6.9">1</tspan><tspan x="62.2" y="-2.4" font-size="17.9">0</tspan></text>
<text transform="translate(983.9 1296.8) scale(1 1.050)" font-size="25.6" text-anchor="middle">0.00</text>
<text transform="translate(982.6 1323.5) scale(1 1.050)" font-size="25.6" text-anchor="middle">0.05</text>
<text transform="translate(981.2 1350.8) scale(1 1.050)" font-size="25.6" text-anchor="middle">0.10</text>
<text transform="translate(979.9 1378.8) scale(1 1.050)" font-size="25.6" text-anchor="middle">0.15</text>
<text transform="translate(978.5 1407.5) scale(1 1.050)" font-size="25.6" text-anchor="middle">0.20</text>
<text transform="translate(977.1 1436.9) scale(1 1.050)" font-size="25.6" text-anchor="middle">0.25</text>
<text transform="translate(975.6 1467.0) scale(1 1.050)" font-size="25.6" text-anchor="middle">0.30</text>
<text transform="translate(974.1 1497.8) scale(1 1.050)" font-size="25.6" text-anchor="middle">0.35</text>
<text transform="translate(1267.0 1592.4) rotate(-1.10) scale(1 1.050)" font-size="25.6"><tspan x="-74.5" y="6.9">3</tspan><tspan x="-58.0" y="-2.4" font-size="17.9">0</tspan><tspan x="-40.9" y="6.9">−</tspan><tspan x="-14.4" y="6.9">2</tspan><tspan x="2.1" y="-2.4" font-size="17.9">1</tspan><tspan x="19.2" y="6.9">−</tspan><tspan x="45.6" y="6.9">1</tspan><tspan x="62.2" y="-2.4" font-size="17.9">1</tspan></text>
<text transform="translate(1050.2 1550.3) scale(1 1.050)" font-size="25.6" text-anchor="middle">0.0</text>
<text transform="translate(1131.9 1548.7) scale(1 1.050)" font-size="25.6" text-anchor="middle">0.1</text>
<text transform="translate(1213.4 1547.1) scale(1 1.050)" font-size="25.6" text-anchor="middle">0.2</text>
<text transform="translate(1294.9 1545.5) scale(1 1.050)" font-size="25.6" text-anchor="middle">0.3</text>
<text transform="translate(1376.3 1543.9) scale(1 1.050)" font-size="25.6" text-anchor="middle">0.4</text>
<text transform="translate(1457.5 1542.3) scale(1 1.050)" font-size="25.6" text-anchor="middle">0.5</text>
<text transform="translate(1628.6 1360.9) rotate(-87.92) scale(1 1.050)" font-size="25.6"><tspan x="-74.5" y="6.9">3</tspan><tspan x="-58.0" y="-2.4" font-size="17.9">0</tspan><tspan x="-40.9" y="6.9">−</tspan><tspan x="-14.4" y="6.9">2</tspan><tspan x="2.1" y="-2.4" font-size="17.9">3</tspan><tspan x="19.2" y="6.9">−</tspan><tspan x="45.6" y="6.9">1</tspan><tspan x="62.2" y="-2.4" font-size="17.9">0</tspan></text>
<text transform="translate(1559.3 1490.9) scale(1 1.050)" font-size="25.6" text-anchor="middle">0.0</text>
<text transform="translate(1562.0 1428.8) scale(1 1.050)" font-size="25.6" text-anchor="middle">0.2</text>
<text transform="translate(1564.8 1365.6) scale(1 1.050)" font-size="25.6" text-anchor="middle">0.4</text>
<text transform="translate(1567.6 1301.2) scale(1 1.050)" font-size="25.6" text-anchor="middle">0.6</text>
<text transform="translate(1570.5 1235.6) scale(1 1.050)" font-size="25.6" text-anchor="middle">0.8</text>
<path d="M1053.4 1231.5L1046.0 966.5" fill="none" stroke="#000" stroke-width="4.8" stroke-linejoin="round" stroke-linecap="round"/>
<path d="M1045.9 966.5L1046.7 972.1L1047.8 977.6L1049.1 983.0L1050.7 988.3L1052.5 993.5L1054.5 998.7L1056.8 1003.7L1059.2 1008.7L1061.8 1013.6L1064.6 1018.4L1067.5 1023.1L1070.6 1027.7L1073.9 1032.2L1077.3 1036.7L1080.7 1041.0L1084.3 1045.3L1088.0 1049.5L1091.8 1053.6L1095.6 1057.6L1099.5 1061.6L1103.5 1065.5L1107.6 1069.3L1111.7 1073.0L1115.9 1076.7L1120.1 1080.3L1124.4 1083.8L1128.8 1087.2L1133.2 1090.6L1137.6 1093.9L1142.1 1097.2L1146.7 1100.4L1151.3 1103.5L1155.9 1106.6L1160.6 1109.6L1165.3 1112.6L1170.0 1115.5L1174.8 1118.3L1179.6 1121.1L1184.4 1123.9L1189.2 1126.6L1194.1 1129.3L1199.0 1131.9L1203.9 1134.5L1208.8 1137.0L1213.8 1139.5L1218.7 1142.0L1223.7 1144.4L1228.7 1146.8L1233.7 1149.2L1238.8 1151.5L1243.8 1153.8L1248.9 1156.1L1254.0 1158.4L1259.1 1160.6L1264.2 1162.8L1269.3 1165.0L1274.5 1167.2L1279.6 1169.3L1284.8 1171.4L1289.9 1173.6L1295.1 1175.7L1300.3 1177.8L1305.5 1179.8L1310.7 1181.9L1315.9 1184.0L1321.0 1186.0L1326.2 1188.1L1331.3 1190.1L1336.4 1192.1L1341.4 1194.2L1346.4 1196.2L1351.3 1198.2L1356.3 1200.4L1361.5 1202.8L1366.7 1205.4L1372.2 1208.2L1377.6 1211.5L1380.1 1214.9L1377.0 1218.0L1372.2 1220.4L1367.0 1222.0L1361.6 1223.0L1356.0 1223.7L1350.4 1224.3L1344.8 1224.9L1339.2 1225.5L1333.7 1226.2L1328.1 1226.8L1322.6 1227.4L1317.0 1228.1L1311.5 1228.7L1305.9 1229.4L1300.4 1230.1L1294.9 1230.7L1289.4 1231.4L1283.9 1232.1L1278.4 1232.8L1272.9 1233.5L1267.4 1234.1L1261.9 1234.8L1256.4 1235.5L1250.9 1236.2L1245.4 1236.9L1239.9 1237.6L1234.4 1238.2L1228.9 1238.9L1223.4 1239.6L1217.9 1240.2L1212.3 1240.9L1206.8 1241.5L1201.3 1242.2L1195.8 1242.8L1190.3 1243.4L1184.8 1244.0L1179.2 1244.6L1173.7 1245.2L1168.2 1245.8L1162.6 1246.3L1157.1 1246.9L1151.6 1247.4L1146.0 1248.0L1140.5 1248.5L1134.9 1249.0L1129.4 1249.5L1123.8 1249.9L1118.3 1250.4L1112.7 1250.8L1107.1 1251.2L1101.6 1251.6L1096.0 1252.0L1090.5 1252.2L1085.0 1252.1L1079.7 1251.4L1074.5 1250.0L1069.5 1247.6L1064.8 1244.1L1060.4 1239.8L1056.6 1235.5L1053.4 1231.6" fill="none" stroke="#000" stroke-width="4.8" stroke-linejoin="round" stroke-linecap="round"/>
<circle cx="1053.4" cy="1231.5" r="12.4" fill="#000"/>
<g transform="scale(0.25)">
<path d="M4765 4901v14l-12-7zm428 208v14l-12-7zm-437 54v14l-12-7zm-43 11v14l-12-7zm-223 43v14l-12-7zm117-9v14l-12-7zm157-17v14l-12-7zm143 43v14l-12-7zm157-28v14l-12-7zm21 3v14l-12-7zm-357 126v14l-12-7zm-172 27v14l-12-7zm-31-80v14l-12-7zm-36 76v14l-12-7zm-113-85v14l-12-7zm-75 6v14l-12-7zm-3 113v14l-12-7zm7-17v14l-12-7zm56 24v14l-12-7zm234 37v14l-12-7zm29-25v14l-12-7zm9-27v14l-12-7zm-70 121v14l-12-7zm-78 16v14l-12-7zm-51-10v14l-12-7zm-59-1v14l-12-7zm-17 4v14l-12-7zm-93-4v14l-12-7zm-48-17v14l-12-7zm32 104v14l-12-7zm49-5v14l-12-7z" fill="#17becf" stroke="#17becf" stroke-width="8.5" stroke-linejoin="round"/>
<path d="M5020 4748h0m244 161h0m-26-10h0m-24 18h0m-12-5h0m-67 6h0m-1 1h0m-19-15h0m-61 35h0m-67 20h0m-6-31h0m-48 18h0m-39-20h0m-43 12h0m-31 24h0m-3-1h0m-78 13h0m-62-14h0m-10 1h0m-9 7h0m-35-21h0m-9 14h0m-11 20h0m-62-5h0m-51-15h0m-97 6h0m-26 46h0m24 7h0m149-17h0m31 0h0m16-9h0m653 58h0m-164 232h0m-744 184h0m288-32h0m168-28h0" stroke="#1f77b4" stroke-width="17" stroke-linecap="round" fill="none"/>
<path d="M5128 4828l8 6-3 9h-10l-3-9zm110 3l8 6-3 9h-10l-3-9zm66-27l8 6-3 9h-10l-3-9zm-10 150l8 6-3 9h-10l-3-9zm-70-40l8 6-3 9h-10l-3-9zm-24 60l8 6-3 9h-10l-3-9zm-9-51l8 6-3 9h-10l-3-9zm-15-23l8 6-3 9h-10l-3-9zm-10 42l8 6-3 9h-10l-3-9zm-11 7l8 6-3 9h-10l-3-9zm-29-39l8 6-3 9h-10l-3-9zm-17-12l8 6-3 9h-10l-3-9zm-3 76l8 6-3 9h-10l-3-9zm-12-18l8 6-3 9h-10l-3-9zm-6-3l8 6-3 9h-10l-3-9zm-136 12l8 6-3 9h-10l-3-9zm-299 15l8 6-3 9h-10l-3-9zm-11-1l8 6-3 9h-10l-3-9zm-9-5l8 6-3 9h-10l-3-9zm-2 9l8 6-3 9h-10l-3-9zm-19-20l8 6-3 9h-10l-3-9zm-26-34l8 6-3 9h-10l-3-9zm-5 40l8 6-3 9h-10l-3-9zm-19 9l8 6-3 9h-10l-3-9zm-2 5l8 6-3 9h-10l-3-9zm-4-14l8 6-3 9h-10l-3-9zm-25-21l8 6-3 9h-10l-3-9zm-18 25l8 6-3 9h-10l-3-9zm-5 4l8 6-3 9h-10l-3-9zm-30 6l8 6-3 9h-10l-3-9zm-27-6l8 6-3 9h-10l-3-9zm-40-3l8 6-3 9h-10l-3-9zm-11 1l8 6-3 9h-10l-3-9zm-5 2l8 6-3 9h-10l-3-9zm-40-16l8 6-3 9h-10l-3-9zm-20 12l8 6-3 9h-10l-3-9zm33 57l8 6-3 9h-10l-3-9zm1-46l8 6-3 9h-10l-3-9zm5 38l8 6-3 9h-10l-3-9zm34-38l8 6-3 9h-10l-3-9zm2 15l8 6-3 9h-10l-3-9zm1 13l8 6-3 9h-10l-3-9zm6-26l8 6-3 9h-10l-3-9zm10 6l8 6-3 9h-10l-3-9zm19 1l8 6-3 9h-10l-3-9zm7 26l8 6-3 9h-10l-3-9zm7-27l8 6-3 9h-10l-3-9zm0 6l8 6-3 9h-10l-3-9zm9 3l8 6-3 9h-10l-3-9zm0 4l8 6-3 9h-10l-3-9zm13-6l8 6-3 9h-10l-3-9zm2-7l8 6-3 9h-10l-3-9zm26-3l8 6-3 9h-10l-3-9zm3 6l8 6-3 9h-10l-3-9zm9-10l8 6-3 9h-10l-3-9zm2 1l8 6-3 9h-10l-3-9zm11 4l8 6-3 9h-10l-3-9zm4 3l8 6-3 9h-10l-3-9zm8 19l8 6-3 9h-10l-3-9zm16-24l8 6-3 9h-10l-3-9zm63 9l8 6-3 9h-10l-3-9zm50 79l8 6-3 9h-10l-3-9zm23-3l8 6-3 9h-10l-3-9zm34-51l8 6-3 9h-10l-3-9zm28 38l8 6-3 9h-10l-3-9zm20-52l8 6-3 9h-10l-3-9zm38 39l8 6-3 9h-10l-3-9zm15-50l8 6-3 9h-10l-3-9zm15 58l8 6-3 9h-10l-3-9zm176-46l8 6-3 9h-10l-3-9zm2 28l8 6-3 9h-10l-3-9zm61-14l8 6-3 9h-10l-3-9zm44-19l8 6-3 9h-10l-3-9zm14 21l8 6-3 9h-10l-3-9zm4 12l8 6-3 9h-10l-3-9zm47-29l8 6-3 9h-10l-3-9zm70-3l8 6-3 9h-10l-3-9zm24-16l8 6-3 9h-10l-3-9zm-302 99l8 6-3 9h-10l-3-9zm-48 37l8 6-3 9h-10l-3-9zm-5 10l8 6-3 9h-10l-3-9zm-95-38l8 6-3 9h-10l-3-9zm-46 17l8 6-3 9h-10l-3-9zm-24 33l8 6-3 9h-10l-3-9zm-54-49l8 6-3 9h-10l-3-9zm-48 57l8 6-3 9h-10l-3-9zm-3-42l8 6-3 9h-10l-3-9zm-26 239l8 6-3 9h-10l-3-9zm-128-52l8 6-3 9h-10l-3-9z" fill="#2ca02c" stroke="#2ca02c" stroke-width="5.5" stroke-linejoin="round"/>
<path d="M4665 5180h0m-349 78h0m1-18h0m16-9h0m25-3h0m10 26h0m83 18h0m40-19h0m112-14h0m9-19h0m10 9h0m13 16h0m65-52h0m7 30h0m2 15h0m46 4h0m6 6h0m12 66h0m-70 54h0m-56-50h0m-54 16h0m-9 29h0m-9-3h0m-6-8h0m-59-2h0m-10 15h0m-31-67h0m-39 42h0m-9-42h0m-3 26h0m-44 22h0m-17-48h0m-38 33h0m-7-51h0m-26 3h0m-29 78h0m-17-44h0m-9 57h0m-1-1h0m-8 26h0m1 71h0m59-56h0m66 46h0m1-25h0m48-9h0m9-50h0m14 27h0m72-2h0m86 28h0m21 13h0m6-47h0m-102 122h0m-91 10h0m-13-11h0m-17-5h0m-35 32h0m-6 22h0m-9-61h0m-75 19h0m-54-40h0m166 126h0m26-39h0m21-1h0" stroke="#9467bd" stroke-width="19" stroke-linecap="round" fill="none"/>
<path d="M5567 4766h14l-7 12zm-20 22h14l-7 12zm-56 6h14l-7 12zm-64-9h14l-7 12zm-10 6h14l-7 12zm-242-12h14l-7 12zm-104 5h14l-7 12zm-93-17h14l-7 12zm-213 16h14l-7 12zm-144-8h14l-7 12zm3 107h14l-7 12zm21-3h14l-7 12zm28-84h14l-7 12zm50 71h14l-7 12zm12 12h14l-7 12zm63-29h14l-7 12zm7 34h14l-7 12zm24-16h14l-7 12zm16-67h14l-7 12zm3 80h14l-7 12zm0-77h14l-7 12zm0 6h14l-7 12zm5 39h14l-7 12zm3 35h14l-7 12zm2-23h14l-7 12zm4-24h14l-7 12zm0-17h14l-7 12zm2 61h14l-7 12zm20-30h14l-7 12zm14-6h14l-7 12zm9-8h14l-7 12zm5-24h14l-7 12zm8 76h14l-7 12zm15 2h14l-7 12zm2-32h14l-7 12zm5 4h14l-7 12zm2 2h14l-7 12zm3-5h14l-7 12zm16-35h14l-7 12zm9 64h14l-7 12zm2-37h14l-7 12zm8 37h14l-7 12zm10-2h14l-7 12zm9-58h14l-7 12zm5-24h14l-7 12zm6 83h14l-7 12zm11-39h14l-7 12zm13-20h14l-7 12zm20 9h14l-7 12zm1-10h14l-7 12zm3 3h14l-7 12zm1 57h14l-7 12zm1-6h14l-7 12zm0-34h14l-7 12zm1-14h14l-7 12zm1-26h14l-7 12zm6 72h14l-7 12zm1-8h14l-7 12zm1 15h14l-7 12zm1-13h14l-7 12zm4-21h14l-7 12zm8 24h14l-7 12zm1-47h14l-7 12zm2 58h14l-7 12zm0-48h14l-7 12zm1 50h14l-7 12zm8-3h14l-7 12zm12 3h14l-7 12zm2-1h14l-7 12zm3 0h14l-7 12zm2-17h14l-7 12zm4 6h14l-7 12zm1 7h14l-7 12zm4-8h14l-7 12zm3-31h14l-7 12zm0 19h14l-7 12zm0 23h14l-7 12zm1-1h14l-7 12zm0-22h14l-7 12zm4-52h14l-7 12zm0 60h14l-7 12zm1 6h14l-7 12zm4-12h14l-7 12zm2-9h14l-7 12zm5-48h14l-7 12zm5 47h14l-7 12zm1 17h14l-7 12zm2 16h14l-7 12zm1-75h14l-7 12zm2 74h14l-7 12zm1-83h14l-7 12zm1 84h14l-7 12zm7-1h14l-7 12zm4-17h14l-7 12zm2 6h14l-7 12zm0 12h14l-7 12zm3 0h14l-7 12zm3-67h14l-7 12zm2 18h14l-7 12zm1 7h14l-7 12zm1 20h14l-7 12zm1-18h14l-7 12zm2 1h14l-7 12zm1-44h14l-7 12zm2 76h14l-7 12zm4-2h14l-7 12zm0 8h14l-7 12zm0-4h14l-7 12zm3-12h14l-7 12zm0 6h14l-7 12zm1 7h14l-7 12zm3-16h14l-7 12zm0 11h14l-7 12zm1 6h14l-7 12zm0-22h14l-7 12zm4-19h14l-7 12zm1 27h14l-7 12zm0-4h14l-7 12zm3 6h14l-7 12zm5-17h14l-7 12zm2 31h14l-7 12zm5-53h14l-7 12zm3 35h14l-7 12zm4 4h14l-7 12zm2 10h14l-7 12zm5-2h14l-7 12zm6 4h14l-7 12zm2-6h14l-7 12zm6-21h14l-7 12zm1-16h14l-7 12zm6 28h14l-7 12zm1 6h14l-7 12zm1 6h14l-7 12zm1-6h14l-7 12zm3 11h14l-7 12zm0-6h14l-7 12zm0-10h14l-7 12zm3 12h14l-7 12zm2 6h14l-7 12zm0-18h14l-7 12zm1-4h14l-7 12zm2 4h14l-7 12zm0 4h14l-7 12zm3 0h14l-7 12zm2-2h14l-7 12zm1 12h14l-7 12zm4-51h14l-7 12zm2 21h14l-7 12zm1 29h14l-7 12zm7-52h14l-7 12zm5 6h14l-7 12zm1 30h14l-7 12zm1 16h14l-7 12zm2-68h14l-7 12zm4 63h14l-7 12zm1-75h14l-7 12zm2 50h14l-7 12zm0 30h14l-7 12zm1-3h14l-7 12zm6-43h14l-7 12zm8 42h14l-7 12zm0-4h14l-7 12zm1-24h14l-7 12zm0 32h14l-7 12zm0-8h14l-7 12zm4-26h14l-7 12zm0 4h14l-7 12zm2-19h14l-7 12zm0-19h14l-7 12zm5 65h14l-7 12zm2-18h14l-7 12zm2 15h14l-7 12zm2-27h14l-7 12zm0-4h14l-7 12zm5-17h14l-7 12zm4 23h14l-7 12zm3 10h14l-7 12zm1 14h14l-7 12zm6-48h14l-7 12zm1 54h14l-7 12zm3-1h14l-7 12zm3-41h14l-7 12zm1 22h14l-7 12zm2-6h14l-7 12zm5 18h14l-7 12zm6-32h14l-7 12zm2-6h14l-7 12zm1 42h14l-7 12zm2-82h14l-7 12zm6 42h14l-7 12zm0 13h14l-7 12zm1 20h14l-7 12zm6-4h14l-7 12zm6-40h14l-7 12zm2 28h14l-7 12zm1-12h14l-7 12zm4-18h14l-7 12zm2 62h14l-7 12zm0-56h14l-7 12zm11 19h14l-7 12zm2-49h14l-7 12zm9 55h14l-7 12zm0-7h14l-7 12zm0 3h14l-7 12zm3 28h14l-7 12zm54-62h14l-7 12zm16 44h14l-7 12zm10-13h14l-7 12zm38 8h14l-7 12zm28 24h14l-7 12zm100-8h14l-7 12zm72 8h14l-7 12zm-223 14h14l-7 12zm-92 54h14l-7 12zm-6-52h14l-7 12zm-6 39h14l-7 12zm-14-9h14l-7 12zm-7-31h14l-7 12zm-6 21h14l-7 12zm-3-3h14l-7 12zm-9 13h14l-7 12zm-2-36h14l-7 12zm0 22h14l-7 12zm-3 4h14l-7 12zm-1 3h14l-7 12zm0-29h14l-7 12zm-1 48h14l-7 12zm-5-39h14l-7 12zm-3 14h14l-7 12zm-1 11h14l-7 12zm-1-9h14l-7 12zm-1 5h14l-7 12zm-1 14h14l-7 12zm-2-42h14l-7 12zm0 59h14l-7 12zm-6-44h14l-7 12zm-3-16h14l-7 12zm0-3h14l-7 12zm-2 42h14l-7 12zm-1-24h14l-7 12zm0-6h14l-7 12zm-4 6h14l-7 12zm-1-5h14l-7 12zm0 41h14l-7 12zm-3-15h14l-7 12zm-3-28h14l-7 12zm-1 22h14l-7 12zm-3 32h14l-7 12zm-1-2h14l-7 12zm0-62h14l-7 12zm-2 0h14l-7 12zm-3 22h14l-7 12zm0-21h14l-7 12zm-2 69h14l-7 12zm-1-58h14l-7 12zm-5-3h14l-7 12zm0 35h14l-7 12zm-1-28h14l-7 12zm-8-13h14l-7 12zm-1 3h14l-7 12zm0 30h14l-7 12zm-3 28h14l-7 12zm-1-31h14l-7 12zm-4-28h14l-7 12zm-2 75h14l-7 12zm-3-61h14l-7 12zm0 23h14l-7 12zm-1-15h14l-7 12zm-2 64h14l-7 12zm0-40h14l-7 12zm-3-37h14l-7 12zm0 14h14l-7 12zm-1-19h14l-7 12zm-3 28h14l-7 12zm-1-22h14l-7 12zm-3 61h14l-7 12zm-1-11h14l-7 12zm-1-55h14l-7 12zm-1 41h14l-7 12zm-1-20h14l-7 12zm-1 20h14l-7 12zm-1-25h14l-7 12zm0-21h14l-7 12zm-1 8h14l-7 12zm-2 36h14l-7 12zm0-15h14l-7 12zm-2 4h14l-7 12zm-1 28h14l-7 12zm-1-39h14l-7 12zm-1 9h14l-7 12zm-1-13h14l-7 12zm-4-16h14l-7 12zm0 47h14l-7 12zm-1-34h14l-7 12zm-1 16h14l-7 12zm-1-13h14l-7 12zm0-17h14l-7 12zm-1 62h14l-7 12zm-1-29h14l-7 12zm0 41h14l-7 12zm-1-60h14l-7 12zm-1 43h14l-7 12zm0 8h14l-7 12zm0 5h14l-7 12zm0-48h14l-7 12zm-3 19h14l-7 12zm-3-3h14l-7 12zm-1-32h14l-7 12zm-1 29h14l-7 12zm0 24h14l-7 12zm-1-21h14l-7 12zm0-34h14l-7 12zm-1 30h14l-7 12zm0 50h14l-7 12zm-1-26h14l-7 12zm-1-30h14l-7 12zm0 60h14l-7 12zm-1-21h14l-7 12zm0-44h14l-7 12zm-1 53h14l-7 12zm-1-66h14l-7 12zm0 24h14l-7 12zm-1 45h14l-7 12zm0-25h14l-7 12zm-1-11h14l-7 12zm-1-13h14l-7 12zm-1-5h14l-7 12zm-2-21h14l-7 12zm0 9h14l-7 12zm0-6h14l-7 12zm-1 23h14l-7 12zm-1-32h14l-7 12zm0 42h14l-7 12zm0-6h14l-7 12zm0 41h14l-7 12zm0 0h14l-7 12zm-1-34h14l-7 12zm-2-7h14l-7 12zm0 2h14l-7 12zm-1-26h14l-7 12zm0 62h14l-7 12zm-1-34h14l-7 12zm-1 10h14l-7 12zm0-17h14l-7 12zm-1-8h14l-7 12zm0 49h14l-7 12zm0-23h14l-7 12zm-1-11h14l-7 12zm-1 4h14l-7 12zm-1 19h14l-7 12zm-1 2h14l-7 12zm0 0h14l-7 12zm-1-49h14l-7 12zm0 26h14l-7 12zm0-36h14l-7 12zm-1 24h14l-7 12zm0 7h14l-7 12zm0 52h14l-7 12zm-2-32h14l-7 12zm0-36h14l-7 12zm-1 43h14l-7 12zm0-53h14l-7 12zm-1 51h14l-7 12zm-1-12h14l-7 12zm0 30h14l-7 12zm-2-65h14l-7 12zm0 3h14l-7 12zm-3 21h14l-7 12zm0-34h14l-7 12zm0 73h14l-7 12zm0 5h14l-7 12zm0-86h14l-7 12zm-1 72h14l-7 12zm0-32h14l-7 12zm-1 25h14l-7 12zm-1-38h14l-7 12zm-1-6h14l-7 12zm-1 55h14l-7 12zm0-60h14l-7 12zm0 30h14l-7 12zm-1-41h14l-7 12zm0 77h14l-7 12zm-1-28h14l-7 12zm-1 37h14l-7 12zm0-50h14l-7 12zm0 23h14l-7 12zm0-26h14l-7 12zm-1-22h14l-7 12zm-1-13h14l-7 12zm-1 43h14l-7 12zm-3-14h14l-7 12zm0-9h14l-7 12zm0 64h14l-7 12zm0-53h14l-7 12zm-1 32h14l-7 12zm0-8h14l-7 12zm0 19h14l-7 12zm-1-36h14l-7 12zm-1 5h14l-7 12zm-1-29h14l-7 12zm-1 75h14l-7 12zm0-64h14l-7 12zm-1-19h14l-7 12zm0 35h14l-7 12zm-1 27h14l-7 12zm0 11h14l-7 12zm-1-14h14l-7 12zm0 0h14l-7 12zm-1-30h14l-7 12zm0 4h14l-7 12zm0-33h14l-7 12zm0 7h14l-7 12zm-1-3h14l-7 12zm0 79h14l-7 12zm-1-58h14l-7 12zm0-23h14l-7 12zm0-3h14l-7 12zm-1 64h14l-7 12zm-1-27h14l-7 12zm-1 38h14l-7 12zm-1-9h14l-7 12zm0-7h14l-7 12zm0-3h14l-7 12zm-2-57h14l-7 12zm0 60h14l-7 12zm-1-57h14l-7 12zm0 72h14l-7 12zm0 6h14l-7 12zm0-56h14l-7 12zm-1-31h14l-7 12zm0 67h14l-7 12zm-1-40h14l-7 12zm0 12h14l-7 12zm-1-19h14l-7 12zm0 20h14l-7 12zm-1 39h14l-7 12zm0 11h14l-7 12zm0-32h14l-7 12zm0-47h14l-7 12zm-1 38h14l-7 12zm0-45h14l-7 12zm-1 41h14l-7 12zm0-21h14l-7 12zm0 55h14l-7 12zm-2 6h14l-7 12zm0-72h14l-7 12zm0 9h14l-7 12zm0 29h14l-7 12zm0-21h14l-7 12zm-1 37h14l-7 12zm0-20h14l-7 12zm0 32h14l-7 12zm-1 9h14l-7 12zm0-23h14l-7 12zm0-31h14l-7 12zm-1 13h14l-7 12zm-1 17h14l-7 12zm0-11h14l-7 12zm-1 37h14l-7 12zm-1-31h14l-7 12zm0-39h14l-7 12zm0 34h14l-7 12zm-2 34h14l-7 12zm0-40h14l-7 12zm0 16h14l-7 12zm-1-23h14l-7 12zm0-40h14l-7 12zm0 1h14l-7 12zm0 57h14l-7 12zm0-33h14l-7 12zm0 14h14l-7 12zm0 10h14l-7 12zm0-22h14l-7 12zm-2-9h14l-7 12zm0 41h14l-7 12zm0-15h14l-7 12zm-1 23h14l-7 12zm0-63h14l-7 12zm0-7h14l-7 12zm-1 91h14l-7 12zm0-26h14l-7 12zm0-8h14l-7 12zm0-20h14l-7 12zm-1-11h14l-7 12zm-1 41h14l-7 12zm0-47h14l-7 12zm0 44h14l-7 12zm0-20h14l-7 12zm0-41h14l-7 12zm0 26h14l-7 12zm-1 34h14l-7 12zm0-14h14l-7 12zm-1 35h14l-7 12zm0-35h14l-7 12zm0-14h14l-7 12zm0 39h14l-7 12zm0-53h14l-7 12zm-1 34h14l-7 12zm0 6h14l-7 12zm0 26h14l-7 12zm-1-52h14l-7 12zm0 3h14l-7 12zm0-28h14l-7 12zm0 27h14l-7 12zm-1 53h14l-7 12zm0-39h14l-7 12zm-1-44h14l-7 12zm0 85h14l-7 12zm-1-33h14l-7 12zm-1-4h14l-7 12zm-1 34h14l-7 12zm0-53h14l-7 12zm0 31h14l-7 12zm0 7h14l-7 12zm0 7h14l-7 12zm-1-47h14l-7 12zm0-33h14l-7 12zm-1 18h14l-7 12zm0-19h14l-7 12zm0 33h14l-7 12zm-1 41h14l-7 12zm0-69h14l-7 12zm-1 77h14l-7 12zm0-37h14l-7 12zm0 10h14l-7 12zm-1-53h14l-7 12zm0 68h14l-7 12zm0-7h14l-7 12zm0 0h14l-7 12zm-1 8h14l-7 12zm0 16h14l-7 12zm0-33h14l-7 12zm-1-33h14l-7 12zm-1 0h14l-7 12zm0 7h14l-7 12zm0 29h14l-7 12zm0 18h14l-7 12zm0-20h14l-7 12zm-1 21h14l-7 12zm0 6h14l-7 12zm-1-39h14l-7 12zm0 4h14l-7 12zm-1-21h14l-7 12zm0 24h14l-7 12zm0 8h14l-7 12zm0-40h14l-7 12zm-1 3h14l-7 12zm-1-13h14l-7 12zm0 17h14l-7 12zm0 62h14l-7 12zm-1-61h14l-7 12zm0 48h14l-7 12zm0-10h14l-7 12zm-2-51h14l-7 12zm0 46h14l-7 12zm0-33h14l-7 12zm0-10h14l-7 12zm0 50h14l-7 12zm0-21h14l-7 12zm-1 9h14l-7 12zm0 12h14l-7 12zm0 10h14l-7 12zm-1 12h14l-7 12zm0-48h14l-7 12zm0 46h14l-7 12zm-1-16h14l-7 12zm0-41h14l-7 12zm0-19h14l-7 12zm-1 63h14l-7 12zm0-27h14l-7 12zm0-17h14l-7 12zm-1 3h14l-7 12zm0-22h14l-7 12zm-1 53h14l-7 12zm0 21h14l-7 12zm0-38h14l-7 12zm-1-20h14l-7 12zm0 56h14l-7 12zm0-69h14l-7 12zm0-12h14l-7 12zm-1 68h14l-7 12zm0-19h14l-7 12zm-1-18h14l-7 12zm0-3h14l-7 12zm-1 36h14l-7 12zm0-4h14l-7 12zm0-19h14l-7 12zm0 29h14l-7 12zm0-58h14l-7 12zm0 13h14l-7 12zm-1 33h14l-7 12zm-1 24h14l-7 12zm0-57h14l-7 12zm0 22h14l-7 12zm0 3h14l-7 12zm0-9h14l-7 12zm0 52h14l-7 12zm-1-69h14l-7 12zm0 24h14l-7 12zm0 27h14l-7 12zm-1-50h14l-7 12zm0 24h14l-7 12zm0-21h14l-7 12zm0 12h14l-7 12zm-1 19h14l-7 12zm0-37h14l-7 12zm-1 41h14l-7 12zm0-56h14l-7 12zm0 30h14l-7 12zm-2 44h14l-7 12zm0-10h14l-7 12zm0-33h14l-7 12zm-1-19h14l-7 12zm0-14h14l-7 12zm-1 53h14l-7 12zm0 15h14l-7 12zm0-23h14l-7 12zm0 32h14l-7 12zm0-74h14l-7 12zm-1 15h14l-7 12zm0 28h14l-7 12zm0 1h14l-7 12zm-1-6h14l-7 12zm0-6h14l-7 12zm0-9h14l-7 12zm0 26h14l-7 12zm0-13h14l-7 12zm-1-5h14l-7 12zm0 21h14l-7 12zm0-14h14l-7 12zm0 9h14l-7 12zm0-30h14l-7 12zm0 29h14l-7 12zm-1-25h14l-7 12zm0 6h14l-7 12zm0-4h14l-7 12zm-1-20h14l-7 12zm-1 37h14l-7 12zm0 11h14l-7 12zm0-25h14l-7 12zm-1 17h14l-7 12zm0 11h14l-7 12zm0-54h14l-7 12zm-1 42h14l-7 12zm-1 21h14l-7 12zm0 9h14l-7 12zm0-39h14l-7 12zm0 10h14l-7 12zm0-3h14l-7 12zm-1-28h14l-7 12zm0 5h14l-7 12zm-1 29h14l-7 12zm0 28h14l-7 12zm0-52h14l-7 12zm0 30h14l-7 12zm-1-5h14l-7 12zm0 30h14l-7 12zm0-70h14l-7 12zm0 38h14l-7 12zm-1-7h14l-7 12zm0 31h14l-7 12zm0 11h14l-7 12zm0 4h14l-7 12zm0-7h14l-7 12zm0-69h14l-7 12zm-1 62h14l-7 12zm0 10h14l-7 12zm-1-25h14l-7 12zm0-23h14l-7 12zm0 25h14l-7 12zm0-9h14l-7 12zm-1 1h14l-7 12zm0 29h14l-7 12zm0-53h14l-7 12zm-1 41h14l-7 12zm0 17h14l-7 12zm0-91h14l-7 12zm0 77h14l-7 12zm-1-49h14l-7 12zm0 30h14l-7 12zm0-47h14l-7 12zm0 34h14l-7 12zm0-20h14l-7 12zm-1 34h14l-7 12zm0 18h14l-7 12zm0-48h14l-7 12zm0-25h14l-7 12zm0 8h14l-7 12zm0 42h14l-7 12zm0-33h14l-7 12zm0-1h14l-7 12zm-1 33h14l-7 12zm0 17h14l-7 12zm0-31h14l-7 12zm-1 27h14l-7 12zm0 4h14l-7 12zm0 16h14l-7 12zm0-30h14l-7 12zm0 18h14l-7 12zm-1-24h14l-7 12zm0 2h14l-7 12zm-1 30h14l-7 12zm0-17h14l-7 12zm0 1h14l-7 12zm0-15h14l-7 12zm0-8h14l-7 12zm-1 45h14l-7 12zm-1-39h14l-7 12zm0 20h14l-7 12zm0 19h14l-7 12zm-1-50h14l-7 12zm0 20h14l-7 12zm0-58h14l-7 12zm-1 28h14l-7 12zm0 11h14l-7 12zm0 33h14l-7 12zm-1-28h14l-7 12zm0-13h14l-7 12zm0 49h14l-7 12zm-1-35h14l-7 12zm0-28h14l-7 12zm-1 39h14l-7 12zm0 10h14l-7 12zm0-5h14l-7 12zm0 30h14l-7 12zm-1-43h14l-7 12zm-1-30h14l-7 12zm0 21h14l-7 12zm0 45h14l-7 12zm0-38h14l-7 12zm0 28h14l-7 12zm0-11h14l-7 12zm-1 16h14l-7 12zm0-6h14l-7 12zm0-24h14l-7 12zm-1 38h14l-7 12zm0-88h14l-7 12zm0 90h14l-7 12zm0-51h14l-7 12zm-1 48h14l-7 12zm0-20h14l-7 12zm-1 13h14l-7 12zm0-36h14l-7 12zm0 24h14l-7 12zm0-51h14l-7 12zm0 53h14l-7 12zm-1 10h14l-7 12zm0-6h14l-7 12zm0-21h14l-7 12zm0 23h14l-7 12zm0 5h14l-7 12zm-1-10h14l-7 12zm-1-49h14l-7 12zm0-20h14l-7 12zm-1 16h14l-7 12zm0 37h14l-7 12zm0 27h14l-7 12zm0-44h14l-7 12zm0 44h14l-7 12zm-2-52h14l-7 12zm0 0h14l-7 12zm0 28h14l-7 12zm0 13h14l-7 12zm-1-2h14l-7 12zm0-17h14l-7 12zm0 39h14l-7 12zm0-54h14l-7 12zm0 37h14l-7 12zm0 0h14l-7 12zm0-14h14l-7 12zm-1-22h14l-7 12zm0-4h14l-7 12zm0 3h14l-7 12zm-1 42h14l-7 12zm0 6h14l-7 12zm0-29h14l-7 12zm-1 35h14l-7 12zm0-32h14l-7 12zm0 4h14l-7 12zm-1-44h14l-7 12zm0 70h14l-7 12zm0-13h14l-7 12zm-1-66h14l-7 12zm0 37h14l-7 12zm0 22h14l-7 12zm0 19h14l-7 12zm0-72h14l-7 12zm-1 69h14l-7 12zm0-24h14l-7 12zm0 26h14l-7 12zm0-60h14l-7 12zm-1 34h14l-7 12zm0-13h14l-7 12zm-1-6h14l-7 12zm0 40h14l-7 12zm0 10h14l-7 12zm-1-51h14l-7 12zm-1 17h14l-7 12zm0 19h14l-7 12zm0 12h14l-7 12zm-1-22h14l-7 12zm0-65h14l-7 12zm0 70h14l-7 12zm0-40h14l-7 12zm-1 13h14l-7 12zm0 1h14l-7 12zm0 15h14l-7 12zm0 25h14l-7 12zm0-50h14l-7 12zm0-6h14l-7 12zm0 25h14l-7 12zm-1 3h14l-7 12zm-1-16h14l-7 12zm0 27h14l-7 12zm0 2h14l-7 12zm0 20h14l-7 12zm0-68h14l-7 12zm-1 62h14l-7 12zm-1-24h14l-7 12zm-1 1h14l-7 12zm0-14h14l-7 12zm0-42h14l-7 12zm-1 31h14l-7 12zm0 1h14l-7 12zm0 33h14l-7 12zm-1-37h14l-7 12zm0 25h14l-7 12zm0-17h14l-7 12zm0-5h14l-7 12zm-1-7h14l-7 12zm0 54h14l-7 12zm0-2h14l-7 12zm0-15h14l-7 12zm-1-28h14l-7 12zm0-12h14l-7 12zm0 30h14l-7 12zm0-35h14l-7 12zm-1-2h14l-7 12zm0-19h14l-7 12zm0 76h14l-7 12zm-1 5h14l-7 12zm0-31h14l-7 12zm0-29h14l-7 12zm0 22h14l-7 12zm-1 29h14l-7 12zm0 19h14l-7 12zm-1-23h14l-7 12zm0 8h14l-7 12zm-1-3h14l-7 12zm0-51h14l-7 12zm0 69h14l-7 12zm0-20h14l-7 12zm0-9h14l-7 12zm0-60h14l-7 12zm0 47h14l-7 12zm-1 20h14l-7 12zm0 4h14l-7 12zm0 17h14l-7 12zm0-10h14l-7 12zm0-67h14l-7 12zm-2 57h14l-7 12zm-1-17h14l-7 12zm0-6h14l-7 12zm-1-15h14l-7 12zm0 56h14l-7 12zm0-17h14l-7 12zm0-52h14l-7 12zm-1 27h14l-7 12zm0 46h14l-7 12zm0-71h14l-7 12zm-1 5h14l-7 12zm0-17h14l-7 12zm-1 73h14l-7 12zm0-29h14l-7 12zm0-7h14l-7 12zm-1 33h14l-7 12zm0-30h14l-7 12zm-1 7h14l-7 12zm0 7h14l-7 12zm0-32h14l-7 12zm0 58h14l-7 12zm-1-7h14l-7 12zm0-2h14l-7 12zm0-20h14l-7 12zm0-2h14l-7 12zm-1-36h14l-7 12zm0 16h14l-7 12zm0 28h14l-7 12zm0-49h14l-7 12zm0 55h14l-7 12zm-1-13h14l-7 12zm0 0h14l-7 12zm0 11h14l-7 12zm0-19h14l-7 12zm-1-25h14l-7 12zm0 47h14l-7 12zm-1-5h14l-7 12zm0-44h14l-7 12zm-1-22h14l-7 12zm0 88h14l-7 12zm0-5h14l-7 12zm-1-34h14l-7 12zm0 22h14l-7 12zm0 4h14l-7 12zm0-3h14l-7 12zm0 0h14l-7 12zm-1-22h14l-7 12zm0-32h14l-7 12zm0 46h14l-7 12zm0 7h14l-7 12zm-1-65h14l-7 12zm0 74h14l-7 12zm0-72h14l-7 12zm0 46h14l-7 12zm-1-6h14l-7 12zm0 6h14l-7 12zm0 7h14l-7 12zm0 7h14l-7 12zm0 9h14l-7 12zm-1 4h14l-7 12zm0-25h14l-7 12zm-1-5h14l-7 12zm0 27h14l-7 12zm-1-6h14l-7 12zm0-37h14l-7 12zm0 28h14l-7 12zm0 14h14l-7 12zm-1-51h14l-7 12zm0-5h14l-7 12zm0-11h14l-7 12zm0 60h14l-7 12zm-1-44h14l-7 12zm0 4h14l-7 12zm-1 59h14l-7 12zm0-14h14l-7 12zm0-31h14l-7 12zm0-30h14l-7 12zm0 31h14l-7 12zm0 43h14l-7 12zm0 0h14l-7 12zm-1-16h14l-7 12zm0-2h14l-7 12zm0-42h14l-7 12zm-1 39h14l-7 12zm-1 10h14l-7 12zm0-61h14l-7 12zm-1 53h14l-7 12zm0-34h14l-7 12zm0-5h14l-7 12zm-1 44h14l-7 12zm0-17h14l-7 12zm0 34h14l-7 12zm-1-17h14l-7 12zm-1 13h14l-7 12zm0-3h14l-7 12zm-1-27h14l-7 12zm-1-21h14l-7 12zm0 4h14l-7 12zm0 7h14l-7 12zm-1-38h14l-7 12zm0 40h14l-7 12zm0-12h14l-7 12zm-1-40h14l-7 12zm0 51h14l-7 12zm-1-7h14l-7 12zm0 37h14l-7 12zm0 0h14l-7 12zm0-38h14l-7 12zm0 6h14l-7 12zm0 36h14l-7 12zm-1-77h14l-7 12zm-1 66h14l-7 12zm0-1h14l-7 12zm0-72h14l-7 12zm-1 61h14l-7 12zm0 17h14l-7 12zm0-15h14l-7 12zm-1 0h14l-7 12zm0 15h14l-7 12zm-1-33h14l-7 12zm-1 24h14l-7 12zm0-71h14l-7 12zm0 46h14l-7 12zm-1 32h14l-7 12zm-1 5h14l-7 12zm-1-38h14l-7 12zm0 34h14l-7 12zm0-10h14l-7 12zm0 1h14l-7 12zm0 14h14l-7 12zm0-20h14l-7 12zm-1 8h14l-7 12zm-1 22h14l-7 12zm0-24h14l-7 12zm0 6h14l-7 12zm-1-19h14l-7 12zm0 22h14l-7 12zm0-44h14l-7 12zm-1 46h14l-7 12zm0 7h14l-7 12zm-1-81h14l-7 12zm0 41h14l-7 12zm-1 38h14l-7 12zm0-21h14l-7 12zm0 17h14l-7 12zm-1-1h14l-7 12zm0 8h14l-7 12zm0 0h14l-7 12zm0-17h14l-7 12zm-1-9h14l-7 12zm0 1h14l-7 12zm0-42h14l-7 12zm0 70h14l-7 12zm0-4h14l-7 12zm0-9h14l-7 12zm0-5h14l-7 12zm-1 14h14l-7 12zm0-1h14l-7 12zm0 5h14l-7 12zm0-48h14l-7 12zm0 24h14l-7 12zm-1-1h14l-7 12zm-1-8h14l-7 12zm0 27h14l-7 12zm0-22h14l-7 12zm0-8h14l-7 12zm0 34h14l-7 12zm0-3h14l-7 12zm0-31h14l-7 12zm-1 39h14l-7 12zm-1-18h14l-7 12zm0-39h14l-7 12zm0-16h14l-7 12zm0 39h14l-7 12zm-1 31h14l-7 12zm0-47h14l-7 12zm-1-2h14l-7 12zm0-5h14l-7 12zm0-2h14l-7 12zm-1 31h14l-7 12zm-1 24h14l-7 12zm-1-21h14l-7 12zm0-11h14l-7 12zm0 16h14l-7 12zm0 5h14l-7 12zm-1-15h14l-7 12zm0-6h14l-7 12zm0 3h14l-7 12zm0 0h14l-7 12zm0 21h14l-7 12zm-1-5h14l-7 12zm0-21h14l-7 12zm0 0h14l-7 12zm0-10h14l-7 12zm0 48h14l-7 12zm-1-72h14l-7 12zm0 50h14l-7 12zm0 3h14l-7 12zm-1 8h14l-7 12zm-1-9h14l-7 12zm-1-11h14l-7 12zm0-50h14l-7 12zm-1 56h14l-7 12zm0 10h14l-7 12zm0 0h14l-7 12zm0 11h14l-7 12zm0-7h14l-7 12zm-1-24h14l-7 12zm0-36h14l-7 12zm0-4h14l-7 12zm0 67h14l-7 12zm0-45h14l-7 12zm-1 53h14l-7 12zm0-20h14l-7 12zm0 3h14l-7 12zm-1-31h14l-7 12zm0 28h14l-7 12zm0 3h14l-7 12zm0 9h14l-7 12zm0-20h14l-7 12zm0-53h14l-7 12zm-1 37h14l-7 12zm-1-6h14l-7 12zm0 27h14l-7 12zm-2-18h14l-7 12zm-1 32h14l-7 12zm0-46h14l-7 12zm0-25h14l-7 12zm0 65h14l-7 12zm0-11h14l-7 12zm-1 6h14l-7 12zm-1-13h14l-7 12zm0 29h14l-7 12zm-1-14h14l-7 12zm0-25h14l-7 12zm-1 15h14l-7 12zm0 22h14l-7 12zm0-8h14l-7 12zm-1-23h14l-7 12zm-1 14h14l-7 12zm0 7h14l-7 12zm0-54h14l-7 12zm0 31h14l-7 12zm-1 14h14l-7 12zm-1-18h14l-7 12zm-1 36h14l-7 12zm-1-15h14l-7 12zm-1 7h14l-7 12zm0-14h14l-7 12zm0-6h14l-7 12zm0 19h14l-7 12zm-1 16h14l-7 12zm-1-3h14l-7 12zm0-1h14l-7 12zm0 3h14l-7 12zm-1-41h14l-7 12zm0 3h14l-7 12zm0 6h14l-7 12zm0 24h14l-7 12zm0-7h14l-7 12zm0-31h14l-7 12zm0 18h14l-7 12zm0-16h14l-7 12zm0-15h14l-7 12zm-1 33h14l-7 12zm0-58h14l-7 12zm0 58h14l-7 12zm-1 6h14l-7 12zm0 4h14l-7 12zm0-17h14l-7 12zm-1-24h14l-7 12zm-1 31h14l-7 12zm0-33h14l-7 12zm0 28h14l-7 12zm-1 12h14l-7 12zm0-18h14l-7 12zm0-45h14l-7 12zm0 77h14l-7 12zm-1-52h14l-7 12zm0 55h14l-7 12zm0-16h14l-7 12zm-1-45h14l-7 12zm0 62h14l-7 12zm0-14h14l-7 12zm0-39h14l-7 12zm-1 29h14l-7 12zm0-16h14l-7 12zm-1 18h14l-7 12zm0-61h14l-7 12zm0 83h14l-7 12zm-1-8h14l-7 12zm0-7h14l-7 12zm-1 1h14l-7 12zm-1-2h14l-7 12zm0-50h14l-7 12zm-1 10h14l-7 12zm0 6h14l-7 12zm-1 24h14l-7 12zm0-3h14l-7 12zm-1 22h14l-7 12zm0 1h14l-7 12zm-2 6h14l-7 12zm0-6h14l-7 12zm0-10h14l-7 12zm0 4h14l-7 12zm0 14h14l-7 12zm-1-88h14l-7 12zm-1 64h14l-7 12zm0-32h14l-7 12zm-1 55h14l-7 12zm0-50h14l-7 12zm0-4h14l-7 12zm0 1h14l-7 12zm-1 35h14l-7 12zm0 5h14l-7 12zm-1-63h14l-7 12zm0 72h14l-7 12zm-1-5h14l-7 12zm0 5h14l-7 12zm-1-3h14l-7 12zm-1-11h14l-7 12zm0-2h14l-7 12zm-1 3h14l-7 12zm-1-37h14l-7 12zm0 45h14l-7 12zm0-53h14l-7 12zm-1 42h14l-7 12zm0 15h14l-7 12zm-1-20h14l-7 12zm0 12h14l-7 12zm0 3h14l-7 12zm0-4h14l-7 12zm0-6h14l-7 12zm0 7h14l-7 12zm-1-28h14l-7 12zm0 39h14l-7 12zm0-4h14l-7 12zm0-51h14l-7 12zm-1 39h14l-7 12zm-1 1h14l-7 12zm-1 17h14l-7 12zm0-19h14l-7 12zm0 11h14l-7 12zm-1-9h14l-7 12zm-2-34h14l-7 12zm-1 17h14l-7 12zm0 24h14l-7 12zm0 10h14l-7 12zm0-16h14l-7 12zm-1-22h14l-7 12zm0 7h14l-7 12zm0 9h14l-7 12zm-1 2h14l-7 12zm0-3h14l-7 12zm0 6h14l-7 12zm-2-15h14l-7 12zm0 10h14l-7 12zm-1-3h14l-7 12zm0-3h14l-7 12zm0 16h14l-7 12zm-2-29h14l-7 12zm0 19h14l-7 12zm-1 18h14l-7 12zm-2-9h14l-7 12zm-1-19h14l-7 12zm0-24h14l-7 12zm-1 29h14l-7 12zm-1 26h14l-7 12zm-1-25h14l-7 12zm0-18h14l-7 12zm0 7h14l-7 12zm0 36h14l-7 12zm-1-20h14l-7 12zm-1-4h14l-7 12zm0 14h14l-7 12zm0-4h14l-7 12zm-1-69h14l-7 12zm-2 64h14l-7 12zm-1 7h14l-7 12zm0-7h14l-7 12zm-1 17h14l-7 12zm-2-32h14l-7 12zm-1 35h14l-7 12zm0-55h14l-7 12zm-1 4h14l-7 12zm0 26h14l-7 12zm-1-11h14l-7 12zm-1 17h14l-7 12zm-1 1h14l-7 12zm0 16h14l-7 12zm-1-21h14l-7 12zm-1 10h14l-7 12zm0 0h14l-7 12zm0-23h14l-7 12zm-1 4h14l-7 12zm0 27h14l-7 12zm-1-27h14l-7 12zm-1 5h14l-7 12zm0-20h14l-7 12zm-1 22h14l-7 12zm0-43h14l-7 12zm0 58h14l-7 12zm-1-17h14l-7 12zm-1 24h14l-7 12zm0-6h14l-7 12zm0-33h14l-7 12zm0 35h14l-7 12zm-2-11h14l-7 12zm-1-27h14l-7 12zm0 33h14l-7 12zm-2-24h14l-7 12zm0 6h14l-7 12zm0-27h14l-7 12zm0 56h14l-7 12zm-2-13h14l-7 12zm0-6h14l-7 12zm0 11h14l-7 12zm-1-6h14l-7 12zm0-37h14l-7 12zm0 30h14l-7 12zm-1-30h14l-7 12zm0 31h14l-7 12zm0 17h14l-7 12zm-2-13h14l-7 12zm0-23h14l-7 12zm0 20h14l-7 12zm-2 20h14l-7 12zm-1-61h14l-7 12zm-1 17h14l-7 12zm0 41h14l-7 12zm0 2h14l-7 12zm-2-83h14l-7 12zm0 45h14l-7 12zm0 3h14l-7 12zm-1 13h14l-7 12zm-2-32h14l-7 12zm0 49h14l-7 12zm-2-29h14l-7 12zm0 24h14l-7 12zm-1-26h14l-7 12zm-7-16h14l-7 12zm-1 50h14l-7 12zm-1-17h14l-7 12zm0 2h14l-7 12zm-1 9h14l-7 12zm-3-4h14l-7 12zm-1-4h14l-7 12zm-1-36h14l-7 12zm0 47h14l-7 12zm-2-2h14l-7 12zm-1 3h14l-7 12zm0-33h14l-7 12zm-3 38h14l-7 12zm0-12h14l-7 12zm0-26h14l-7 12zm-2 35h14l-7 12zm0-24h14l-7 12zm0-25h14l-7 12zm0 44h14l-7 12zm-4-10h14l-7 12zm-1 3h14l-7 12zm0-63h14l-7 12zm-2 63h14l-7 12zm-2-5h14l-7 12zm0 11h14l-7 12zm-1 3h14l-7 12zm-2-40h14l-7 12zm-2 42h14l-7 12zm-1 5h14l-7 12zm-3-20h14l-7 12zm-4 4h14l-7 12zm-1-2h14l-7 12zm-2 4h14l-7 12zm-1-40h14l-7 12zm-2 52h14l-7 12zm-1-4h14l-7 12zm-2 1h14l-7 12zm-2-41h14l-7 12zm-3 29h14l-7 12zm-1 14h14l-7 12zm-3-39h14l-7 12zm-4 35h14l-7 12zm0-14h14l-7 12zm-1-28h14l-7 12zm-1-1h14l-7 12zm0 40h14l-7 12zm-5-14h14l-7 12zm-1 18h14l-7 12zm0-36h14l-7 12zm-2 7h14l-7 12zm-2 8h14l-7 12zm-1 19h14l-7 12zm-1-19h14l-7 12zm0 26h14l-7 12zm0-14h14l-7 12zm-7-3h14l-7 12zm0 17h14l-7 12zm-6 0h14l-7 12zm-2-69h14l-7 12zm0 35h14l-7 12zm-3 27h14l-7 12zm-3-16h14l-7 12zm-1-14h14l-7 12zm-1 18h14l-7 12zm-5 7h14l-7 12zm-3 11h14l-7 12zm-1-43h14l-7 12zm-1 23h14l-7 12zm-9-8h14l-7 12zm0 26h14l-7 12zm-6-31h14l-7 12zm-7 32h14l-7 12zm0-6h14l-7 12zm-5-8h14l-7 12zm-1-15h14l-7 12zm-2 22h14l-7 12zm-7-19h14l-7 12zm-7 9h14l-7 12zm-6 12h14l-7 12zm-1-26h14l-7 12zm-11 26h14l-7 12zm-6 3h14l-7 12zm-4-25h14l-7 12zm-4 23h14l-7 12zm-2-22h14l-7 12zm-11 29h14l-7 12zm-2-1h14l-7 12zm-8-27h14l-7 12zm-4 19h14l-7 12zm-5-75h14l-7 12zm-5 69h14l-7 12zm-7-39h14l-7 12zm-19 53h14l-7 12zm-41-7h14l-7 12zm-51 7h14l-7 12zm-2-77h14l-7 12zm-173 157h14l-7 12zm63 5h14l-7 12zm5 2h14l-7 12zm35 6h14l-7 12zm3-12h14l-7 12zm1-51h14l-7 12zm5 61h14l-7 12zm28-3h14l-7 12zm5-7h14l-7 12zm3-68h14l-7 12zm5 68h14l-7 12zm2-6h14l-7 12zm3 21h14l-7 12zm9-38h14l-7 12zm1-29h14l-7 12zm1-2h14l-7 12zm2 6h14l-7 12zm0 51h14l-7 12zm3-37h14l-7 12zm1 50h14l-7 12zm1-28h14l-7 12zm3 9h14l-7 12zm0-66h14l-7 12zm0 33h14l-7 12zm1 37h14l-7 12zm0 12h14l-7 12zm2-64h14l-7 12zm5 46h14l-7 12zm5 15h14l-7 12zm1-19h14l-7 12zm1 20h14l-7 12zm0-43h14l-7 12zm1 34h14l-7 12zm2-27h14l-7 12zm1 12h14l-7 12zm0 15h14l-7 12zm2-8h14l-7 12zm0 15h14l-7 12zm0-16h14l-7 12zm1-25h14l-7 12zm0 37h14l-7 12zm1 7h14l-7 12zm1 2h14l-7 12zm0-8h14l-7 12zm1-46h14l-7 12zm0 29h14l-7 12zm1 17h14l-7 12zm2 0h14l-7 12zm1-5h14l-7 12zm2 11h14l-7 12zm1-22h14l-7 12zm4-6h14l-7 12zm0-20h14l-7 12zm6 29h14l-7 12zm1 7h14l-7 12zm5-36h14l-7 12zm2-15h14l-7 12zm1 57h14l-7 12zm0-66h14l-7 12zm2 72h14l-7 12zm2-2h14l-7 12zm3-16h14l-7 12zm0 22h14l-7 12zm1-31h14l-7 12zm2-3h14l-7 12zm1 5h14l-7 12zm3 2h14l-7 12zm0 13h14l-7 12zm1-11h14l-7 12zm1 0h14l-7 12zm1 19h14l-7 12zm2-49h14l-7 12zm0 0h14l-7 12zm2 30h14l-7 12zm0-44h14l-7 12zm6 62h14l-7 12zm4-8h14l-7 12zm1-3h14l-7 12zm1-13h14l-7 12zm1 14h14l-7 12zm3-14h14l-7 12zm2-12h14l-7 12zm0-43h14l-7 12zm2 48h14l-7 12zm1 27h14l-7 12zm1 1h14l-7 12zm1-84h14l-7 12zm0 93h14l-7 12zm0-28h14l-7 12zm2 1h14l-7 12zm4-25h14l-7 12zm3 14h14l-7 12zm0 13h14l-7 12zm2 3h14l-7 12zm0-64h14l-7 12zm1 64h14l-7 12zm0-5h14l-7 12zm1-54h14l-7 12zm0 70h14l-7 12zm1-27h14l-7 12zm0 6h14l-7 12zm0-34h14l-7 12zm0 61h14l-7 12zm1-9h14l-7 12zm1-12h14l-7 12zm0 1h14l-7 12zm3-10h14l-7 12zm1-27h14l-7 12zm0 8h14l-7 12zm2 37h14l-7 12zm0-1h14l-7 12zm2 11h14l-7 12zm1-9h14l-7 12zm1 3h14l-7 12zm0 11h14l-7 12zm1-9h14l-7 12zm2 7h14l-7 12zm0-10h14l-7 12zm2-17h14l-7 12zm1-5h14l-7 12zm0-1h14l-7 12zm1 8h14l-7 12zm2-19h14l-7 12zm1 41h14l-7 12zm0-66h14l-7 12zm1 58h14l-7 12zm0 15h14l-7 12zm0-5h14l-7 12zm1-71h14l-7 12zm3 60h14l-7 12zm1-23h14l-7 12zm1 29h14l-7 12zm1-22h14l-7 12zm0-12h14l-7 12zm1 27h14l-7 12zm0-6h14l-7 12zm1-7h14l-7 12zm1 18h14l-7 12zm1-1h14l-7 12zm0-20h14l-7 12zm0 6h14l-7 12zm0-23h14l-7 12zm0 12h14l-7 12zm1 0h14l-7 12zm1 21h14l-7 12zm1-49h14l-7 12zm1 61h14l-7 12zm1-20h14l-7 12zm0-53h14l-7 12zm0 64h14l-7 12zm1-59h14l-7 12zm0-17h14l-7 12zm2 71h14l-7 12zm0 4h14l-7 12zm1-46h14l-7 12zm0 16h14l-7 12zm0-16h14l-7 12zm0 50h14l-7 12zm1-76h14l-7 12zm1 81h14l-7 12zm1-27h14l-7 12zm0-41h14l-7 12zm0 65h14l-7 12zm1-5h14l-7 12zm1-15h14l-7 12zm0-20h14l-7 12zm0 29h14l-7 12zm0-54h14l-7 12zm1 31h14l-7 12zm1 3h14l-7 12zm1-1h14l-7 12zm0 27h14l-7 12zm1-1h14l-7 12zm0-8h14l-7 12zm1 15h14l-7 12zm0-46h14l-7 12zm1 17h14l-7 12zm0-50h14l-7 12zm0 11h14l-7 12zm0-14h14l-7 12zm3 23h14l-7 12zm1 38h14l-7 12zm0-36h14l-7 12zm1-13h14l-7 12zm0 55h14l-7 12zm1-21h14l-7 12zm0 42h14l-7 12zm2-29h14l-7 12zm1 18h14l-7 12zm0-1h14l-7 12zm0 9h14l-7 12zm1-67h14l-7 12zm1-17h14l-7 12zm1 35h14l-7 12zm0 36h14l-7 12zm1-8h14l-7 12zm0-62h14l-7 12zm1 69h14l-7 12zm0-9h14l-7 12zm2-17h14l-7 12zm0 0h14l-7 12zm0 31h14l-7 12zm0-27h14l-7 12zm0 2h14l-7 12zm0-7h14l-7 12zm1 45h14l-7 12zm0-43h14l-7 12zm1-30h14l-7 12zm0 34h14l-7 12zm0 22h14l-7 12zm0-59h14l-7 12zm1 54h14l-7 12zm0 0h14l-7 12zm0-11h14l-7 12zm0 30h14l-7 12zm1-66h14l-7 12zm0 13h14l-7 12zm1-33h14l-7 12zm0 1h14l-7 12zm1 84h14l-7 12zm0 2h14l-7 12zm1-47h14l-7 12zm0 40h14l-7 12zm1-6h14l-7 12zm1 4h14l-7 12zm0-10h14l-7 12zm0-26h14l-7 12zm2 27h14l-7 12zm1-46h14l-7 12zm1 2h14l-7 12zm1 46h14l-7 12zm1-27h14l-7 12zm0 3h14l-7 12zm0 28h14l-7 12zm1-35h14l-7 12zm1 3h14l-7 12zm0 26h14l-7 12zm0-45h14l-7 12zm0 28h14l-7 12zm0 3h14l-7 12zm1-6h14l-7 12zm0-50h14l-7 12zm1 33h14l-7 12zm1 17h14l-7 12zm1 19h14l-7 12zm0 5h14l-7 12zm1 0h14l-7 12zm0-67h14l-7 12zm0 23h14l-7 12zm1 55h14l-7 12zm0-63h14l-7 12zm0-5h14l-7 12zm1 25h14l-7 12zm0 36h14l-7 12zm0-37h14l-7 12zm0-21h14l-7 12zm2-18h14l-7 12zm1 80h14l-7 12zm0-4h14l-7 12zm0-19h14l-7 12zm0-9h14l-7 12zm0-7h14l-7 12zm0 40h14l-7 12zm1-10h14l-7 12zm0 13h14l-7 12zm2-27h14l-7 12zm0 12h14l-7 12zm0 15h14l-7 12zm0 6h14l-7 12zm0-42h14l-7 12zm0-51h14l-7 12zm1 18h14l-7 12zm1 63h14l-7 12zm1-69h14l-7 12zm1-13h14l-7 12zm2 63h14l-7 12zm1-47h14l-7 12zm1 15h14l-7 12zm1 24h14l-7 12zm0-16h14l-7 12zm0 5h14l-7 12zm1 13h14l-7 12zm0-3h14l-7 12zm0 14h14l-7 12zm1-36h14l-7 12zm0 7h14l-7 12zm0 29h14l-7 12zm0-34h14l-7 12zm2 21h14l-7 12zm1-3h14l-7 12zm0-7h14l-7 12zm1-29h14l-7 12zm1 42h14l-7 12zm2-43h14l-7 12zm0 41h14l-7 12zm0-10h14l-7 12zm0 8h14l-7 12zm0-20h14l-7 12zm1 17h14l-7 12zm1 8h14l-7 12zm0-10h14l-7 12zm0 19h14l-7 12zm1-56h14l-7 12zm0 5h14l-7 12zm0 48h14l-7 12zm1 15h14l-7 12zm0-49h14l-7 12zm0 4h14l-7 12zm0-7h14l-7 12zm1 45h14l-7 12zm0 8h14l-7 12zm0 0h14l-7 12zm0-37h14l-7 12zm0 10h14l-7 12zm1 6h14l-7 12zm0 21h14l-7 12zm0 2h14l-7 12zm1-78h14l-7 12zm0 38h14l-7 12zm1-6h14l-7 12zm1 19h14l-7 12zm0-7h14l-7 12zm0-40h14l-7 12zm1 74h14l-7 12zm0-12h14l-7 12zm0-38h14l-7 12zm1 49h14l-7 12zm0-67h14l-7 12zm0 59h14l-7 12zm1 10h14l-7 12zm0-23h14l-7 12zm0 25h14l-7 12zm0-59h14l-7 12zm1 53h14l-7 12zm1-32h14l-7 12zm0-27h14l-7 12zm0-18h14l-7 12zm1 35h14l-7 12zm0 21h14l-7 12zm0 13h14l-7 12zm0-29h14l-7 12zm0-44h14l-7 12zm1 93h14l-7 12zm0-52h14l-7 12zm1 33h14l-7 12zm0-18h14l-7 12zm0-8h14l-7 12zm0-31h14l-7 12zm0 1h14l-7 12zm1 32h14l-7 12zm0-16h14l-7 12zm1-26h14l-7 12zm0-2h14l-7 12zm0 69h14l-7 12zm1-72h14l-7 12zm0 76h14l-7 12zm1-16h14l-7 12zm0 14h14l-7 12zm1-41h14l-7 12zm0-20h14l-7 12zm0 32h14l-7 12zm0-14h14l-7 12zm2 40h14l-7 12zm0-42h14l-7 12zm1 23h14l-7 12zm0 11h14l-7 12zm0-32h14l-7 12zm1-20h14l-7 12zm0 25h14l-7 12zm1 8h14l-7 12zm0 0h14l-7 12zm1 29h14l-7 12zm1-29h14l-7 12zm1 19h14l-7 12zm0-31h14l-7 12zm0-23h14l-7 12zm0 63h14l-7 12zm1-39h14l-7 12zm0 29h14l-7 12zm3 19h14l-7 12zm0 5h14l-7 12zm0-31h14l-7 12zm0-8h14l-7 12zm1 42h14l-7 12zm0-44h14l-7 12zm1 36h14l-7 12zm0-6h14l-7 12zm0 4h14l-7 12zm0-43h14l-7 12zm1-20h14l-7 12zm0 58h14l-7 12zm0-28h14l-7 12zm0 43h14l-7 12zm0-25h14l-7 12zm1-7h14l-7 12zm0 9h14l-7 12zm0-44h14l-7 12zm0 50h14l-7 12zm1-28h14l-7 12zm0-5h14l-7 12zm0-1h14l-7 12zm0 8h14l-7 12zm1 12h14l-7 12zm2-13h14l-7 12zm0 6h14l-7 12zm0 11h14l-7 12zm0-43h14l-7 12zm0 33h14l-7 12zm0 16h14l-7 12zm1 8h14l-7 12zm0-53h14l-7 12zm1-4h14l-7 12zm0 44h14l-7 12zm0 1h14l-7 12zm1-63h14l-7 12zm1 43h14l-7 12zm2-12h14l-7 12zm0 17h14l-7 12zm1-8h14l-7 12zm1 11h14l-7 12zm0-4h14l-7 12zm0-32h14l-7 12zm0-17h14l-7 12zm0 41h14l-7 12zm0-26h14l-7 12zm1 2h14l-7 12zm0 51h14l-7 12zm0-63h14l-7 12zm1 74h14l-7 12zm0-1h14l-7 12zm0 15h14l-7 12zm0-40h14l-7 12zm0 7h14l-7 12zm1 27h14l-7 12zm0-59h14l-7 12zm0 36h14l-7 12zm0-6h14l-7 12zm1-16h14l-7 12zm0 0h14l-7 12zm0 21h14l-7 12zm0-12h14l-7 12zm1-42h14l-7 12zm0 43h14l-7 12zm0-18h14l-7 12zm0 41h14l-7 12zm1 17h14l-7 12zm0-56h14l-7 12zm0 9h14l-7 12zm0-28h14l-7 12zm0 14h14l-7 12zm1 45h14l-7 12zm0-66h14l-7 12zm0 74h14l-7 12zm0-33h14l-7 12zm0-18h14l-7 12zm1 9h14l-7 12zm0-15h14l-7 12zm1 54h14l-7 12zm0-52h14l-7 12zm1-13h14l-7 12zm1 54h14l-7 12zm0-52h14l-7 12zm0 12h14l-7 12zm1 48h14l-7 12zm0-16h14l-7 12zm0 12h14l-7 12zm1-58h14l-7 12zm0-17h14l-7 12zm1 81h14l-7 12zm0 9h14l-7 12zm0-42h14l-7 12zm1-29h14l-7 12zm0 0h14l-7 12zm0 21h14l-7 12zm1 40h14l-7 12zm1-41h14l-7 12zm0 20h14l-7 12zm0-10h14l-7 12zm0-13h14l-7 12zm1 54h14l-7 12zm0-88h14l-7 12zm0 29h14l-7 12zm1-15h14l-7 12zm0 72h14l-7 12zm0-38h14l-7 12zm1 26h14l-7 12zm0-1h14l-7 12zm0-53h14l-7 12zm0-19h14l-7 12zm1 48h14l-7 12zm0 41h14l-7 12zm0-53h14l-7 12zm1 20h14l-7 12zm0 28h14l-7 12zm0-60h14l-7 12zm0 62h14l-7 12zm0-30h14l-7 12zm0-36h14l-7 12zm1-22h14l-7 12zm1 4h14l-7 12zm0 87h14l-7 12zm0-87h14l-7 12zm1 81h14l-7 12zm0-63h14l-7 12zm0 60h14l-7 12zm0-53h14l-7 12zm1 15h14l-7 12zm0 11h14l-7 12zm0-26h14l-7 12zm0 61h14l-7 12zm1-70h14l-7 12zm0 3h14l-7 12zm0 6h14l-7 12zm0 4h14l-7 12zm1 0h14l-7 12zm0 25h14l-7 12zm0-51h14l-7 12zm0 66h14l-7 12zm0 8h14l-7 12zm0-58h14l-7 12zm1 50h14l-7 12zm0 13h14l-7 12zm0-8h14l-7 12zm0-34h14l-7 12zm0 12h14l-7 12zm1-50h14l-7 12zm0 68h14l-7 12zm0-20h14l-7 12zm0-7h14l-7 12zm0 22h14l-7 12zm1-30h14l-7 12zm0 11h14l-7 12zm0 10h14l-7 12zm0-42h14l-7 12zm0-6h14l-7 12zm1 59h14l-7 12zm0-64h14l-7 12zm1-8h14l-7 12zm0 14h14l-7 12zm0 27h14l-7 12zm1-22h14l-7 12zm0 11h14l-7 12zm0 26h14l-7 12zm1-54h14l-7 12zm0 63h14l-7 12zm0-35h14l-7 12zm1 2h14l-7 12zm0 30h14l-7 12zm1-17h14l-7 12zm0 34h14l-7 12zm0-16h14l-7 12zm0-42h14l-7 12zm0 32h14l-7 12zm0-36h14l-7 12zm1-1h14l-7 12zm1 31h14l-7 12zm1 28h14l-7 12zm0-49h14l-7 12zm0 5h14l-7 12zm0-5h14l-7 12zm0-25h14l-7 12zm1 20h14l-7 12zm0 48h14l-7 12zm0-18h14l-7 12zm0-8h14l-7 12zm1-25h14l-7 12zm1 9h14l-7 12zm0 12h14l-7 12zm1 12h14l-7 12zm1-9h14l-7 12zm0 23h14l-7 12zm2-46h14l-7 12zm0 29h14l-7 12zm0-30h14l-7 12zm0 36h14l-7 12zm0 1h14l-7 12zm0-32h14l-7 12zm1 47h14l-7 12zm0-12h14l-7 12zm0 12h14l-7 12zm0-63h14l-7 12zm0 25h14l-7 12zm0 39h14l-7 12zm1-52h14l-7 12zm0-3h14l-7 12zm1 42h14l-7 12zm1 35h14l-7 12zm0-40h14l-7 12zm0-24h14l-7 12zm0-12h14l-7 12zm1 53h14l-7 12zm0 13h14l-7 12zm0-74h14l-7 12zm0 23h14l-7 12zm1 0h14l-7 12zm0 13h14l-7 12zm0 47h14l-7 12zm0-86h14l-7 12zm0 42h14l-7 12zm0-15h14l-7 12zm1-32h14l-7 12zm0 79h14l-7 12zm0-15h14l-7 12zm0-56h14l-7 12zm1 27h14l-7 12zm0 35h14l-7 12zm0-57h14l-7 12zm1 23h14l-7 12zm1 40h14l-7 12zm0-7h14l-7 12zm0-54h14l-7 12zm1 54h14l-7 12zm0-38h14l-7 12zm1-4h14l-7 12zm0 11h14l-7 12zm0 18h14l-7 12zm0 6h14l-7 12zm0-54h14l-7 12zm1 30h14l-7 12zm0-7h14l-7 12zm1 21h14l-7 12zm1-16h14l-7 12zm0 7h14l-7 12zm0 48h14l-7 12zm1-71h14l-7 12zm0 11h14l-7 12zm0-32h14l-7 12zm0 23h14l-7 12zm1 47h14l-7 12zm1-12h14l-7 12zm0-16h14l-7 12zm0 36h14l-7 12zm0-29h14l-7 12zm1-48h14l-7 12zm1 45h14l-7 12zm0-13h14l-7 12zm0 7h14l-7 12zm0-25h14l-7 12zm0 26h14l-7 12zm0-31h14l-7 12zm0 53h14l-7 12zm0-12h14l-7 12zm1-35h14l-7 12zm0 11h14l-7 12zm0 1h14l-7 12zm1 0h14l-7 12zm0-12h14l-7 12zm1-15h14l-7 12zm0 21h14l-7 12zm0 25h14l-7 12zm1 13h14l-7 12zm1 9h14l-7 12zm0-20h14l-7 12zm0-41h14l-7 12zm0-8h14l-7 12zm1 52h14l-7 12zm0 10h14l-7 12zm0-37h14l-7 12zm1 44h14l-7 12zm0-24h14l-7 12zm0-42h14l-7 12zm1 2h14l-7 12zm0 66h14l-7 12zm0-39h14l-7 12zm0 23h14l-7 12zm0-37h14l-7 12zm1-17h14l-7 12zm0 81h14l-7 12zm0-80h14l-7 12zm0 50h14l-7 12zm2-36h14l-7 12zm0 4h14l-7 12zm0-13h14l-7 12zm1-6h14l-7 12zm0 2h14l-7 12zm0 15h14l-7 12zm0-2h14l-7 12zm1 19h14l-7 12zm0 21h14l-7 12zm0 1h14l-7 12zm0-56h14l-7 12zm1 25h14l-7 12zm0-23h14l-7 12zm0 45h14l-7 12zm0-30h14l-7 12zm1 45h14l-7 12zm1-31h14l-7 12zm0 62h14l-7 12zm1-69h14l-7 12zm0 16h14l-7 12zm0-32h14l-7 12zm1 36h14l-7 12zm1-28h14l-7 12zm0 17h14l-7 12zm0-8h14l-7 12zm1 30h14l-7 12zm1-28h14l-7 12zm0 12h14l-7 12zm0-11h14l-7 12zm0 48h14l-7 12zm0-45h14l-7 12zm0-3h14l-7 12zm1-27h14l-7 12zm0 17h14l-7 12zm0 3h14l-7 12zm1-18h14l-7 12zm0 3h14l-7 12zm0-8h14l-7 12zm0 78h14l-7 12zm0-67h14l-7 12zm0 30h14l-7 12zm2 3h14l-7 12zm1-4h14l-7 12zm0-3h14l-7 12zm1 9h14l-7 12zm0 10h14l-7 12zm0-26h14l-7 12zm1-2h14l-7 12zm0 43h14l-7 12zm0-33h14l-7 12zm0 17h14l-7 12zm0 13h14l-7 12zm1-62h14l-7 12zm0 23h14l-7 12zm0 6h14l-7 12zm1-32h14l-7 12zm0 3h14l-7 12zm0-2h14l-7 12zm0-4h14l-7 12zm0 59h14l-7 12zm1-50h14l-7 12zm0 58h14l-7 12zm1-28h14l-7 12zm1 10h14l-7 12zm0-9h14l-7 12zm0-11h14l-7 12zm0 14h14l-7 12zm1-40h14l-7 12zm1 73h14l-7 12zm0-34h14l-7 12zm1-5h14l-7 12zm0 10h14l-7 12zm1 26h14l-7 12zm1-72h14l-7 12zm0 12h14l-7 12zm0 5h14l-7 12zm0 61h14l-7 12zm1-64h14l-7 12zm0 15h14l-7 12zm0 12h14l-7 12zm0 30h14l-7 12zm0-53h14l-7 12zm0 8h14l-7 12zm1-5h14l-7 12zm0 25h14l-7 12zm0 32h14l-7 12zm0-60h14l-7 12zm1-7h14l-7 12zm0-12h14l-7 12zm0 33h14l-7 12zm1 16h14l-7 12zm0 10h14l-7 12zm0-21h14l-7 12zm0-30h14l-7 12zm0 52h14l-7 12zm0-43h14l-7 12zm1 30h14l-7 12zm0-16h14l-7 12zm0 36h14l-7 12zm0-52h14l-7 12zm1 64h14l-7 12zm0-67h14l-7 12zm0 1h14l-7 12zm0 11h14l-7 12zm0 60h14l-7 12zm0-70h14l-7 12zm1-5h14l-7 12zm0 51h14l-7 12zm0-48h14l-7 12zm1 62h14l-7 12zm0-44h14l-7 12zm0 41h14l-7 12zm1-14h14l-7 12zm0-47h14l-7 12zm0 49h14l-7 12zm0-31h14l-7 12zm0 17h14l-7 12zm0-33h14l-7 12zm1 33h14l-7 12zm0-11h14l-7 12zm0-13h14l-7 12zm1-13h14l-7 12zm0 4h14l-7 12zm0 22h14l-7 12zm0 40h14l-7 12zm0-35h14l-7 12zm0 23h14l-7 12zm0-62h14l-7 12zm1 53h14l-7 12zm0 15h14l-7 12zm0-40h14l-7 12zm0 14h14l-7 12zm1 11h14l-7 12zm0-48h14l-7 12zm0 74h14l-7 12zm1-8h14l-7 12zm0-21h14l-7 12zm1 21h14l-7 12zm0-46h14l-7 12zm0-1h14l-7 12zm1 0h14l-7 12zm0 37h14l-7 12zm1-30h14l-7 12zm0 14h14l-7 12zm0-2h14l-7 12zm0-39h14l-7 12zm1 17h14l-7 12zm1 25h14l-7 12zm0 16h14l-7 12zm0 2h14l-7 12zm0-24h14l-7 12zm1 9h14l-7 12zm0-49h14l-7 12zm0 29h14l-7 12zm0 26h14l-7 12zm1-20h14l-7 12zm0-33h14l-7 12zm0 90h14l-7 12zm0-39h14l-7 12zm0-16h14l-7 12zm1 26h14l-7 12zm1-35h14l-7 12zm0 27h14l-7 12zm1-28h14l-7 12zm0 11h14l-7 12zm1-30h14l-7 12zm1 14h14l-7 12zm0-21h14l-7 12zm0 88h14l-7 12zm0-73h14l-7 12zm1 46h14l-7 12zm0-40h14l-7 12zm0 2h14l-7 12zm1 27h14l-7 12zm0-36h14l-7 12zm0-14h14l-7 12zm0 68h14l-7 12zm0-61h14l-7 12zm0 4h14l-7 12zm1 67h14l-7 12zm1-53h14l-7 12zm0 16h14l-7 12zm0-22h14l-7 12zm1-6h14l-7 12zm0-11h14l-7 12zm1 13h14l-7 12zm0-3h14l-7 12zm1 9h14l-7 12zm0 17h14l-7 12zm0-27h14l-7 12zm1 17h14l-7 12zm0-6h14l-7 12zm0 6h14l-7 12zm0-5h14l-7 12zm1-5h14l-7 12zm0 10h14l-7 12zm0 24h14l-7 12zm0-9h14l-7 12zm0-36h14l-7 12zm1 17h14l-7 12zm0-17h14l-7 12zm0 3h14l-7 12zm1 1h14l-7 12zm0 55h14l-7 12zm0-54h14l-7 12zm0-12h14l-7 12zm1 55h14l-7 12zm0-1h14l-7 12zm1-53h14l-7 12zm1 13h14l-7 12zm0 7h14l-7 12zm1 33h14l-7 12zm0-32h14l-7 12zm0-19h14l-7 12zm0 36h14l-7 12zm1-1h14l-7 12zm0 24h14l-7 12zm0 21h14l-7 12zm0-4h14l-7 12zm1-59h14l-7 12zm0-13h14l-7 12zm0 23h14l-7 12zm0 26h14l-7 12zm0-16h14l-7 12zm1 24h14l-7 12zm0-34h14l-7 12zm0-9h14l-7 12zm0 16h14l-7 12zm0 39h14l-7 12zm1-58h14l-7 12zm1 5h14l-7 12zm0-21h14l-7 12zm0 57h14l-7 12zm0-27h14l-7 12zm0 17h14l-7 12zm0-38h14l-7 12zm1 31h14l-7 12zm0-36h14l-7 12zm1 9h14l-7 12zm1 50h14l-7 12zm0-59h14l-7 12zm0 42h14l-7 12zm0-48h14l-7 12zm1 82h14l-7 12zm0-12h14l-7 12zm0-50h14l-7 12zm0-2h14l-7 12zm0 9h14l-7 12zm0 4h14l-7 12zm0 18h14l-7 12zm1-29h14l-7 12zm0-7h14l-7 12zm1 28h14l-7 12zm0-29h14l-7 12zm0 23h14l-7 12zm1-28h14l-7 12zm0 46h14l-7 12zm1 8h14l-7 12zm1-48h14l-7 12zm1 10h14l-7 12zm0 44h14l-7 12zm0-16h14l-7 12zm0-40h14l-7 12zm0 47h14l-7 12zm1-34h14l-7 12zm0-25h14l-7 12zm0 93h14l-7 12zm0-82h14l-7 12zm0 11h14l-7 12zm0-22h14l-7 12zm0 17h14l-7 12zm0 1h14l-7 12zm1 12h14l-7 12zm1-13h14l-7 12zm1 20h14l-7 12zm0-33h14l-7 12zm1 17h14l-7 12zm0 19h14l-7 12zm0-26h14l-7 12zm0 41h14l-7 12zm0-19h14l-7 12zm0-5h14l-7 12zm1 6h14l-7 12zm1-6h14l-7 12zm0-26h14l-7 12zm0 0h14l-7 12zm0 16h14l-7 12zm0 65h14l-7 12zm0-62h14l-7 12zm0 21h14l-7 12zm0 47h14l-7 12zm0-12h14l-7 12zm0-63h14l-7 12zm1 1h14l-7 12zm0-16h14l-7 12zm2 5h14l-7 12zm0 10h14l-7 12zm0-12h14l-7 12zm0 23h14l-7 12zm1 31h14l-7 12zm0-31h14l-7 12zm0 41h14l-7 12zm0 2h14l-7 12zm0-64h14l-7 12zm0 12h14l-7 12zm0 0h14l-7 12zm1 33h14l-7 12zm0-13h14l-7 12zm1-11h14l-7 12zm0-10h14l-7 12zm1 9h14l-7 12zm0 11h14l-7 12zm0-27h14l-7 12zm1 2h14l-7 12zm0 1h14l-7 12zm1 56h14l-7 12zm0-70h14l-7 12zm1 80h14l-7 12zm0-78h14l-7 12zm0 2h14l-7 12zm1 49h14l-7 12zm0 19h14l-7 12zm0-45h14l-7 12zm1 7h14l-7 12zm1-30h14l-7 12zm1 18h14l-7 12zm0-22h14l-7 12zm0 53h14l-7 12zm1-7h14l-7 12zm0-12h14l-7 12zm0-19h14l-7 12zm0-10h14l-7 12zm0 53h14l-7 12zm0-56h14l-7 12zm1 13h14l-7 12zm1 16h14l-7 12zm1 63h14l-7 12zm0-51h14l-7 12zm0-36h14l-7 12zm1 51h14l-7 12zm0-32h14l-7 12zm2-23h14l-7 12zm0 10h14l-7 12zm0-2h14l-7 12zm0-2h14l-7 12zm2 60h14l-7 12zm0-26h14l-7 12zm1 17h14l-7 12zm2-25h14l-7 12zm0-19h14l-7 12zm1-9h14l-7 12zm0 27h14l-7 12zm1 6h14l-7 12zm1 13h14l-7 12zm0-48h14l-7 12zm0 22h14l-7 12zm0 1h14l-7 12zm0 18h14l-7 12zm1 10h14l-7 12zm1-43h14l-7 12zm0 76h14l-7 12zm0-83h14l-7 12zm1 69h14l-7 12zm0-74h14l-7 12zm0 60h14l-7 12zm1 8h14l-7 12zm2-63h14l-7 12zm0 15h14l-7 12zm1-11h14l-7 12zm0 24h14l-7 12zm0-13h14l-7 12zm1-13h14l-7 12zm0 61h14l-7 12zm2-26h14l-7 12zm1-21h14l-7 12zm0 11h14l-7 12zm1 5h14l-7 12zm0 10h14l-7 12zm1-22h14l-7 12zm0 17h14l-7 12zm0 13h14l-7 12zm0-25h14l-7 12zm3-11h14l-7 12zm0-16h14l-7 12zm0 9h14l-7 12zm0-8h14l-7 12zm1 14h14l-7 12zm0-11h14l-7 12zm1 24h14l-7 12zm1-29h14l-7 12zm0 29h14l-7 12zm0-17h14l-7 12zm0 9h14l-7 12zm0 2h14l-7 12zm0-2h14l-7 12zm0 1h14l-7 12zm1 68h14l-7 12zm1-69h14l-7 12zm0 23h14l-7 12zm0-40h14l-7 12zm1 11h14l-7 12zm0 64h14l-7 12zm1-75h14l-7 12zm1 67h14l-7 12zm0-42h14l-7 12zm1-20h14l-7 12zm0 24h14l-7 12zm1 55h14l-7 12zm1-48h14l-7 12zm0-19h14l-7 12zm1 33h14l-7 12zm0-38h14l-7 12zm0 76h14l-7 12zm1-67h14l-7 12zm0 52h14l-7 12zm0-68h14l-7 12zm1-5h14l-7 12zm0 31h14l-7 12zm0-24h14l-7 12zm0 10h14l-7 12zm1 55h14l-7 12zm0-26h14l-7 12zm0-27h14l-7 12zm0-11h14l-7 12zm0 44h14l-7 12zm2-25h14l-7 12zm0 13h14l-7 12zm1-29h14l-7 12zm0 11h14l-7 12zm0 42h14l-7 12zm0-25h14l-7 12zm1-34h14l-7 12zm0 4h14l-7 12zm0 24h14l-7 12zm0 0h14l-7 12zm2-2h14l-7 12zm1 5h14l-7 12zm0 12h14l-7 12zm1-35h14l-7 12zm0-5h14l-7 12zm3-15h14l-7 12zm1 63h14l-7 12zm1-41h14l-7 12zm0 14h14l-7 12zm0-32h14l-7 12zm1-1h14l-7 12zm1 72h14l-7 12zm0-57h14l-7 12zm0 27h14l-7 12zm0-22h14l-7 12zm0-22h14l-7 12zm1 20h14l-7 12zm2 9h14l-7 12zm1-22h14l-7 12zm0 31h14l-7 12zm0-24h14l-7 12zm1 27h14l-7 12zm0 2h14l-7 12zm0 19h14l-7 12zm1 8h14l-7 12zm1-17h14l-7 12zm0-51h14l-7 12zm0 32h14l-7 12zm1 12h14l-7 12zm1-20h14l-7 12zm0-23h14l-7 12zm0 39h14l-7 12zm0-20h14l-7 12zm1 36h14l-7 12zm0-56h14l-7 12zm0 59h14l-7 12zm1-49h14l-7 12zm1-4h14l-7 12zm0-7h14l-7 12zm0 40h14l-7 12zm0-38h14l-7 12zm2 34h14l-7 12zm2 22h14l-7 12zm0-27h14l-7 12zm1 4h14l-7 12zm0-20h14l-7 12zm1-10h14l-7 12zm0 1h14l-7 12zm1 3h14l-7 12zm1 15h14l-7 12zm1-18h14l-7 12zm0 10h14l-7 12zm1 4h14l-7 12zm1-3h14l-7 12zm1-7h14l-7 12zm0 7h14l-7 12zm1 22h14l-7 12zm1-16h14l-7 12zm0-18h14l-7 12zm1-3h14l-7 12zm0 47h14l-7 12zm0-37h14l-7 12zm0-9h14l-7 12zm0 17h14l-7 12zm1-4h14l-7 12zm1-6h14l-7 12zm0-2h14l-7 12zm0 1h14l-7 12zm5-8h14l-7 12zm0 13h14l-7 12zm0 10h14l-7 12zm1 12h14l-7 12zm0-20h14l-7 12zm0-7h14l-7 12zm1 0h14l-7 12zm0 0h14l-7 12zm0-11h14l-7 12zm1 7h14l-7 12zm0 14h14l-7 12zm0 39h14l-7 12zm1-30h14l-7 12zm0-6h14l-7 12zm0-14h14l-7 12zm1 13h14l-7 12zm0 4h14l-7 12zm1-19h14l-7 12zm1 3h14l-7 12zm0 11h14l-7 12zm1-2h14l-7 12zm1-5h14l-7 12zm0-13h14l-7 12zm1 22h14l-7 12zm0-18h14l-7 12zm1 12h14l-7 12zm1 17h14l-7 12zm0 5h14l-7 12zm2-6h14l-7 12zm0-24h14l-7 12zm0-8h14l-7 12zm1 20h14l-7 12zm1-13h14l-7 12zm0 15h14l-7 12zm0-6h14l-7 12zm1-3h14l-7 12zm2 7h14l-7 12zm2-16h14l-7 12zm0-4h14l-7 12zm1 82h14l-7 12zm0-84h14l-7 12zm1 55h14l-7 12zm1-51h14l-7 12zm1-1h14l-7 12zm1-3h14l-7 12zm0 83h14l-7 12zm1-73h14l-7 12zm3 69h14l-7 12zm1-16h14l-7 12zm1-58h14l-7 12zm1 24h14l-7 12zm0-3h14l-7 12zm2 61h14l-7 12zm1-71h14l-7 12zm0 20h14l-7 12zm0-25h14l-7 12zm0-9h14l-7 12zm0 2h14l-7 12zm3 40h14l-7 12zm0-11h14l-7 12zm0-27h14l-7 12zm1 15h14l-7 12zm0 34h14l-7 12zm2-49h14l-7 12zm2 5h14l-7 12zm1 22h14l-7 12zm0 4h14l-7 12zm0 26h14l-7 12zm1-59h14l-7 12zm1 27h14l-7 12zm2-2h14l-7 12zm0 28h14l-7 12zm6-27h14l-7 12zm0 26h14l-7 12zm0-19h14l-7 12zm4-27h14l-7 12zm1 21h14l-7 12zm1 8h14l-7 12zm2-26h14l-7 12zm1-12h14l-7 12zm1 38h14l-7 12zm0 13h14l-7 12zm0 17h14l-7 12zm2-63h14l-7 12zm0 24h14l-7 12zm0 15h14l-7 12zm4-14h14l-7 12zm2-7h14l-7 12zm0 60h14l-7 12zm0-3h14l-7 12zm2-69h14l-7 12zm1 13h14l-7 12zm0-18h14l-7 12zm0 5h14l-7 12zm1 66h14l-7 12zm1-38h14l-7 12zm2-26h14l-7 12zm1-5h14l-7 12zm0 27h14l-7 12zm1-34h14l-7 12zm0 4h14l-7 12zm1 28h14l-7 12zm1-19h14l-7 12zm0-13h14l-7 12zm3 30h14l-7 12zm5-13h14l-7 12zm0 0h14l-7 12zm1 32h14l-7 12zm4-23h14l-7 12zm1 28h14l-7 12zm4-50h14l-7 12zm2 10h14l-7 12zm3 11h14l-7 12zm3-5h14l-7 12zm3-17h14l-7 12zm1-2h14l-7 12zm0 38h14l-7 12zm1-20h14l-7 12zm1 4h14l-7 12zm1 11h14l-7 12zm1-1h14l-7 12zm0-24h14l-7 12zm2-7h14l-7 12zm2-4h14l-7 12zm1 9h14l-7 12zm2 10h14l-7 12zm7 70h14l-7 12zm7-80h14l-7 12zm3 59h14l-7 12zm0-62h14l-7 12zm3 20h14l-7 12zm0 7h14l-7 12zm2-30h14l-7 12zm4 50h14l-7 12zm3-44h14l-7 12zm1-5h14l-7 12zm2 1h14l-7 12zm3 35h14l-7 12zm1-37h14l-7 12zm11 17h14l-7 12zm0-13h14l-7 12zm1 16h14l-7 12zm3-21h14l-7 12zm2 28h14l-7 12zm8 16h14l-7 12zm8-34h14l-7 12zm3-4h14l-7 12zm2 10h14l-7 12zm3-2h14l-7 12zm2-7h14l-7 12zm4-7h14l-7 12zm0 23h14l-7 12zm18-9h14l-7 12zm35-8h14l-7 12zm-124 126h14l-7 12zm-2 11h14l-7 12zm-7-3h14l-7 12zm-16-35h14l-7 12zm-4 2h14l-7 12zm-16 11h14l-7 12zm-14 2h14l-7 12zm-12 45h14l-7 12zm-2-58h14l-7 12zm-1 32h14l-7 12zm-2 16h14l-7 12zm-2-42h14l-7 12zm-25-17h14l-7 12zm-5 35h14l-7 12zm-1-21h14l-7 12zm-1 14h14l-7 12zm-6-2h14l-7 12zm-36 9h14l-7 12zm-10-33h14l-7 12zm-19 24h14l-7 12zm0 30h14l-7 12zm-5-39h14l-7 12zm-1 46h14l-7 12zm-12-4h14l-7 12zm-14-2h14l-7 12zm-2-52h14l-7 12zm-2 8h14l-7 12zm-14-15h14l-7 12zm-1 14h14l-7 12zm-5 42h14l-7 12zm0-48h14l-7 12zm-5 79h14l-7 12zm-3-81h14l-7 12zm-3 79h14l-7 12zm0-75h14l-7 12zm-9 40h14l-7 12zm-4-32h14l-7 12zm-16 58h14l-7 12zm-1-13h14l-7 12zm-5-19h14l-7 12zm-2-38h14l-7 12zm-6 20h14l-7 12zm-1 8h14l-7 12zm-2 3h14l-7 12zm-3 57h14l-7 12zm-4-71h14l-7 12zm-4 6h14l-7 12zm-3-19h14l-7 12zm-1 5h14l-7 12zm0-11h14l-7 12zm0 29h14l-7 12zm-3-10h14l-7 12zm-4 70h14l-7 12zm0-35h14l-7 12zm-3-16h14l-7 12zm-5-19h14l-7 12zm-2 13h14l-7 12zm0 59h14l-7 12zm-7-20h14l-7 12zm-2-66h14l-7 12zm0 34h14l-7 12zm-1 10h14l-7 12zm-4-47h14l-7 12zm0 88h14l-7 12zm-2-92h14l-7 12zm-3 49h14l-7 12zm-2-44h14l-7 12zm-3-1h14l-7 12zm-4 42h14l-7 12zm-1 6h14l-7 12zm-3 32h14l-7 12zm-6-82h14l-7 12zm-5 5h14l-7 12zm-2-7h14l-7 12zm-3 14h14l-7 12zm-3-14h14l-7 12zm-1 46h14l-7 12zm0-45h14l-7 12zm-2 15h14l-7 12zm-2-5h14l-7 12zm-1 29h14l-7 12zm0-26h14l-7 12zm0 1h14l-7 12zm0-8h14l-7 12zm-1 25h14l-7 12zm-1-30h14l-7 12zm-1-1h14l-7 12zm0 27h14l-7 12zm-1-18h14l-7 12zm-2-10h14l-7 12zm-1 23h14l-7 12zm-1-24h14l-7 12zm0 4h14l-7 12zm-3 5h14l-7 12zm-2 14h14l-7 12zm-1-14h14l-7 12zm-1 29h14l-7 12zm-1-13h14l-7 12zm0 2h14l-7 12zm0 12h14l-7 12zm-3-24h14l-7 12zm0 18h14l-7 12zm-2-19h14l-7 12zm-2 19h14l-7 12zm0-18h14l-7 12zm-1-4h14l-7 12zm-2 4h14l-7 12zm0 15h14l-7 12zm-1-19h14l-7 12zm-3-11h14l-7 12zm0 41h14l-7 12zm0-25h14l-7 12zm-1 64h14l-7 12zm-2-57h14l-7 12zm-1 0h14l-7 12zm-1 46h14l-7 12zm0-17h14l-7 12zm-4 28h14l-7 12zm-2-75h14l-7 12zm-1 18h14l-7 12zm0 31h14l-7 12zm-2-31h14l-7 12zm-2 62h14l-7 12zm-2-69h14l-7 12zm-2-10h14l-7 12zm-4-7h14l-7 12zm0 39h14l-7 12zm-1-27h14l-7 12zm0-10h14l-7 12zm-1 36h14l-7 12zm-1 48h14l-7 12zm-4-47h14l-7 12zm-2 12h14l-7 12zm-2 12h14l-7 12zm-1-41h14l-7 12zm-4 12h14l-7 12zm-1 41h14l-7 12zm-3-69h14l-7 12zm-1 3h14l-7 12zm0 55h14l-7 12zm0-54h14l-7 12zm0 33h14l-7 12zm-3 40h14l-7 12zm-1-31h14l-7 12zm0-50h14l-7 12zm-2 41h14l-7 12zm0-8h14l-7 12zm0 37h14l-7 12zm-1-47h14l-7 12zm0 38h14l-7 12zm-2 27h14l-7 12zm-1-62h14l-7 12zm-1 62h14l-7 12zm-1-61h14l-7 12zm-1-24h14l-7 12zm0 15h14l-7 12zm-1 68h14l-7 12zm-2-86h14l-7 12zm-2-2h14l-7 12zm-2 46h14l-7 12zm-1 37h14l-7 12zm0-57h14l-7 12zm-3-18h14l-7 12zm0-1h14l-7 12zm0 10h14l-7 12zm-1 14h14l-7 12zm-3 11h14l-7 12zm-1-9h14l-7 12zm-3 54h14l-7 12zm-1-82h14l-7 12zm0 8h14l-7 12zm0-12h14l-7 12zm-1 23h14l-7 12zm-1 35h14l-7 12zm0-49h14l-7 12zm-1 42h14l-7 12zm0 17h14l-7 12zm0 12h14l-7 12zm0 9h14l-7 12zm-6-74h14l-7 12zm-1 5h14l-7 12zm0 42h14l-7 12zm-1-16h14l-7 12zm0 8h14l-7 12zm-1-44h14l-7 12zm-1 20h14l-7 12zm-2 17h14l-7 12zm-1-23h14l-7 12zm0 41h14l-7 12zm0-60h14l-7 12zm-1 31h14l-7 12zm-1 15h14l-7 12zm0-49h14l-7 12zm0 69h14l-7 12zm-1-54h14l-7 12zm-1 18h14l-7 12zm-1-36h14l-7 12zm0 12h14l-7 12zm0 20h14l-7 12zm-2-8h14l-7 12zm0-17h14l-7 12zm0 79h14l-7 12zm0-12h14l-7 12zm-3 7h14l-7 12zm-3-56h14l-7 12zm0 65h14l-7 12zm-1-38h14l-7 12zm0 16h14l-7 12zm0-61h14l-7 12zm-1 71h14l-7 12zm0-36h14l-7 12zm-2-36h14l-7 12zm0 9h14l-7 12zm-1-4h14l-7 12zm-1 59h14l-7 12zm-1-20h14l-7 12zm-1-8h14l-7 12zm0 26h14l-7 12zm0-25h14l-7 12zm-1-35h14l-7 12zm-2 0h14l-7 12zm0 31h14l-7 12zm-1 5h14l-7 12zm0-34h14l-7 12zm-2 8h14l-7 12zm-2 3h14l-7 12zm-1-8h14l-7 12zm-1 69h14l-7 12zm0-20h14l-7 12zm-2-59h14l-7 12zm-4 7h14l-7 12zm-2 11h14l-7 12zm0 52h14l-7 12zm-2-61h14l-7 12zm0-4h14l-7 12zm-2 86h14l-7 12zm-2-75h14l-7 12zm-3 49h14l-7 12zm0-66h14l-7 12zm0 31h14l-7 12zm-1-16h14l-7 12zm-2 24h14l-7 12zm0 53h14l-7 12zm0-82h14l-7 12zm-1 50h14l-7 12zm0-59h14l-7 12zm-5 8h14l-7 12zm-1 8h14l-7 12zm-2 70h14l-7 12zm-2-83h14l-7 12zm-2 41h14l-7 12zm0-41h14l-7 12zm0 42h14l-7 12zm-3 7h14l-7 12zm-1-10h14l-7 12zm0-23h14l-7 12zm-1-15h14l-7 12zm0 57h14l-7 12zm0-63h14l-7 12zm0 65h14l-7 12zm-2-16h14l-7 12zm-2-41h14l-7 12zm0 35h14l-7 12zm-1 42h14l-7 12zm-1-42h14l-7 12zm-1-29h14l-7 12zm-3 24h14l-7 12zm-2 7h14l-7 12zm-2-28h14l-7 12zm-1 72h14l-7 12zm-1-65h14l-7 12zm-4 12h14l-7 12zm-1 8h14l-7 12zm-4 7h14l-7 12zm-1-48h14l-7 12zm-2 5h14l-7 12zm-1 31h14l-7 12zm-1-20h14l-7 12zm-1-12h14l-7 12zm-1 36h14l-7 12zm0 41h14l-7 12zm-1-52h14l-7 12zm-1-28h14l-7 12zm-1-3h14l-7 12zm-1 24h14l-7 12zm-2-9h14l-7 12zm0 10h14l-7 12zm0-10h14l-7 12zm-4 58h14l-7 12zm-1 19h14l-7 12zm-1-69h14l-7 12zm0 42h14l-7 12zm-2-51h14l-7 12zm-2-3h14l-7 12zm-1 19h14l-7 12zm-1 9h14l-7 12zm-1-6h14l-7 12zm-2-22h14l-7 12zm-1 6h14l-7 12zm0 7h14l-7 12zm-2-7h14l-7 12zm-2 19h14l-7 12zm0 8h14l-7 12zm0 6h14l-7 12zm0-22h14l-7 12zm-1 7h14l-7 12zm0-23h14l-7 12zm0-2h14l-7 12zm-3 77h14l-7 12zm-1-12h14l-7 12zm0 14h14l-7 12zm-2-65h14l-7 12zm-1-18h14l-7 12zm-1 45h14l-7 12zm-1-28h14l-7 12zm-2 56h14l-7 12zm-2-49h14l-7 12zm-3-16h14l-7 12zm-1 9h14l-7 12zm-2 23h14l-7 12zm0-37h14l-7 12zm-1-5h14l-7 12zm-1 76h14l-7 12zm0-67h14l-7 12zm-6 38h14l-7 12zm-3-48h14l-7 12zm-1 4h14l-7 12zm0 74h14l-7 12zm-2-22h14l-7 12zm0-4h14l-7 12zm0 4h14l-7 12zm-2-39h14l-7 12zm0-17h14l-7 12zm0 43h14l-7 12zm-3 5h14l-7 12zm0 26h14l-7 12zm0-65h14l-7 12zm-2-9h14l-7 12zm-1 19h14l-7 12zm-1 70h14l-7 12zm-1-89h14l-7 12zm0 8h14l-7 12zm-1 41h14l-7 12zm-1-42h14l-7 12zm-3 24h14l-7 12zm0-8h14l-7 12zm-1 52h14l-7 12zm-1-19h14l-7 12zm0 10h14l-7 12zm-4-20h14l-7 12zm0-35h14l-7 12zm0 4h14l-7 12zm-1 43h14l-7 12zm0 12h14l-7 12zm-1-46h14l-7 12zm-3 23h14l-7 12zm0-34h14l-7 12zm-1 21h14l-7 12zm0 22h14l-7 12zm-1-49h14l-7 12zm0 33h14l-7 12zm0-18h14l-7 12zm-1 61h14l-7 12zm-1-40h14l-7 12zm-1-17h14l-7 12zm-1-3h14l-7 12zm-1-20h14l-7 12zm-2 29h14l-7 12zm-4 14h14l-7 12zm0-51h14l-7 12zm-1 27h14l-7 12zm0-6h14l-7 12zm-4 43h14l-7 12zm-3-46h14l-7 12zm0-16h14l-7 12zm0 72h14l-7 12zm-3-74h14l-7 12zm-2 20h14l-7 12zm0-19h14l-7 12zm-1 15h14l-7 12zm-1 29h14l-7 12zm-5 7h14l-7 12zm-3 37h14l-7 12zm-1-5h14l-7 12zm0-15h14l-7 12zm-1 26h14l-7 12zm-1-46h14l-7 12zm-2 29h14l-7 12zm0-5h14l-7 12zm-3-9h14l-7 12zm-1-31h14l-7 12zm-1 31h14l-7 12zm-2-5h14l-7 12zm-5-43h14l-7 12zm-1 3h14l-7 12zm-1 65h14l-7 12zm0-26h14l-7 12zm-1 3h14l-7 12zm-4-12h14l-7 12zm-5-43h14l-7 12zm-3 25h14l-7 12zm-1-28h14l-7 12zm-2 26h14l-7 12zm-2 15h14l-7 12zm-5-7h14l-7 12zm-6 10h14l-7 12zm-7-42h14l-7 12zm-4 19h14l-7 12zm-2 49h14l-7 12zm-5-19h14l-7 12zm-8 12h14l-7 12zm-4-5h14l-7 12zm-7-16h14l-7 12zm-8-34h14l-7 12zm-7 45h14l-7 12zm-8 38h14l-7 12zm-1-16h14l-7 12zm-4-50h14l-7 12zm-1 18h14l-7 12zm-3 45h14l-7 12zm-1-33h14l-7 12zm-13-32h14l-7 12zm0 54h14l-7 12zm-6-56h14l-7 12zm-10 61h14l-7 12zm-60-64h14l-7 12zm-13 80h14l-7 12zm49 24h14l-7 12zm3 19h14l-7 12zm1 8h14l-7 12zm2 17h14l-7 12zm4-22h14l-7 12zm12-47h14l-7 12zm4 74h14l-7 12zm4-77h14l-7 12zm18 86h14l-7 12zm32-80h14l-7 12zm20 82h14l-7 12zm7-49h14l-7 12zm8-31h14l-7 12zm1 18h14l-7 12zm3 37h14l-7 12zm8-44h14l-7 12zm3 14h14l-7 12zm6 1h14l-7 12zm4 31h14l-7 12zm5-55h14l-7 12zm3 48h14l-7 12zm16 11h14l-7 12zm1-55h14l-7 12zm3 27h14l-7 12zm2 22h14l-7 12zm10 3h14l-7 12zm2-66h14l-7 12zm0-1h14l-7 12zm12 14h14l-7 12zm10 3h14l-7 12zm29 64h14l-7 12zm2-31h14l-7 12zm6-28h14l-7 12zm1 1h14l-7 12zm4-6h14l-7 12zm2 24h14l-7 12zm17-13h14l-7 12zm9-9h14l-7 12zm1-11h14l-7 12zm7 4h14l-7 12zm0-8h14l-7 12zm3-4h14l-7 12zm3 7h14l-7 12zm8 8h14l-7 12zm0 42h14l-7 12zm1 6h14l-7 12zm4-56h14l-7 12zm1 2h14l-7 12zm6 16h14l-7 12zm2 29h14l-7 12zm7-34h14l-7 12zm7 58h14l-7 12zm8-2h14l-7 12zm5-76h14l-7 12zm9 68h14l-7 12zm7-52h14l-7 12zm4-14h14l-7 12zm8 25h14l-7 12zm5-6h14l-7 12zm1 24h14l-7 12zm3-9h14l-7 12zm4-31h14l-7 12zm10-3h14l-7 12zm10 43h14l-7 12zm4 22h14l-7 12zm6-8h14l-7 12zm41-48h14l-7 12zm42 3h14l-7 12zm3 19h14l-7 12zm9-30h14l-7 12zm13 77h14l-7 12zm6-40h14l-7 12zm2-5h14l-7 12zm7 20h14l-7 12zm18-26h14l-7 12zm18-7h14l-7 12zm11 60h14l-7 12zm18-73h14l-7 12zm3 1h14l-7 12zm19-4h14l-7 12zm16 24h14l-7 12zm1-7h14l-7 12zm21 0h14l-7 12zm27-17h14l-7 12zm19 10h14l-7 12zm65-5h14l-7 12zm14-3h14l-7 12zm-224 113h14l-7 12zm-52 43h14l-7 12zm-19-12h14l-7 12zm-39 37h14l-7 12zm-8-73h14l-7 12zm-44-15h14l-7 12zm-11 61h14l-7 12zm-62-58h14l-7 12zm-10 66h14l-7 12zm-33-57h14l-7 12zm-13 25h14l-7 12zm-35-12h14l-7 12zm-53 50h14l-7 12zm-3-50h14l-7 12zm-22-18h14l-7 12zm-7 41h14l-7 12zm-50-52h14l-7 12zm-2 68h14l-7 12zm-2-66h14l-7 12zm-19 14h14l-7 12zm-2 58h14l-7 12zm-34-6h14l-7 12zm-5-50h14l-7 12zm-24 18h14l-7 12zm-10 29h14l-7 12zm-19-1h14l-7 12zm-4-3h14l-7 12zm-12 69h14l-7 12zm19 2h14l-7 12zm16 27h14l-7 12zm6-29h14l-7 12zm12-13h14l-7 12zm5-1h14l-7 12zm17 5h14l-7 12zm5 52h14l-7 12zm74-58h14l-7 12zm28-15h14l-7 12zm10 41h14l-7 12zm41 2h14l-7 12zm16-11h14l-7 12zm1 21h14l-7 12zm4-7h14l-7 12zm122 11h14l-7 12zm50 2h14l-7 12zm-130 96h14l-7 12zm-34 19h14l-7 12zm-203-11h14l-7 12zm-11-28h14l-7 12zm-13-41h14l-7 12zm-12 2h14l-7 12zm-34 13h14l-7 12zm-25 142h14l-7 12zm148-64h14l-7 12z" fill="#d62728" stroke="#d62728" stroke-width="9.6" stroke-linejoin="round"/>
<path d="M4856 4981h0m-602 9h0m-2 0h0m0 0h0m-1 1h0m-4-4h0m-4-1h0m-1 2h0m0-6h0m-1 3h0m0 4h0m0-1h0m0-3h0m-2-5h0m0-1h0m-1 1h0m0 5h0m-2-3h0m-1-5h0m0 4h0m-1 3h0m0-7h0m-1 2h0m0 10h0m-1-18h0m0 8h0m-1 6h0m0 0h0m-1-5h0m0 5h0m0-15h0m0 7h0m-1-3h0m0-1h0m0-1h0m-1-5h0m0 4h0m0 4h0m0 14h0m-1-17h0m0-1h0m-1 7h0m0 6h0m0-8h0m-1 10h0m0-8h0m-1 0h0m0-6h0m0-6h0m0 7h0m-1 3h0m0 14h0m0-12h0m0-16h0m-1 24h0m0-25h0m0 12h0m0 18h0m0-19h0m0 10h0m0-6h0m0-7h0m-1 20h0m0-17h0m0 6h0m0 2h0m-1 6h0m0-17h0m0-12h0m0 34h0m0-8h0m0-6h0m0-7h0m0-2h0m-1-8h0m0 5h0m0 19h0m0-25h0m-1 5h0m0 27h0m0-29h0m0 25h0m-1-9h0m0 4h0m0-4h0m0 11h0m0-15h0m-1-14h0m0 0h0m0 6h0m-1 6h0m0-12h0m0 22h0m0-26h0m-1-3h0m0 7h0m0 0h0m0-3h0m0-6h0m-1 30h0m0-15h0m0-6h0m0 6h0m0 4h0m0-21h0m0 34h0m0-23h0m0 6h0m0 21h0m0-36h0m-1 33h0m0-37h0m0 6h0m0 23h0m-1 11h0m0-38h0m0-3h0m-1 33h0m0-10h0m0 12h0m0 7h0m0-18h0m0-22h0m0 7h0m0 8h0m-1-5h0m0-8h0m0 7h0m0 14h0m0 0h0m0 14h0m0-34h0m0 14h0m-1-3h0m0-7h0m0-5h0m0 17h0m0 14h0m0-19h0m0-8h0m-4 58h0m1 68h0m1-61h0m0 59h0m0-51h0m1-8h0m0 64h0m0-46h0m1 9h0m0-50h0m0 81h0m0-84h0m0 49h0m0 29h0m1-17h0m0-43h0m0 11h0m0-7h0m0-11h0m0 72h0m0-45h0m0 10h0m0-18h0m0 13h0m0-37h0m1 65h0m0-29h0m0-40h0m0 40h0m0 30h0m0-70h0m0 36h0m0-6h0m0 0h0m0 14h0m0-33h0m0 32h0m0 31h0m0 8h0m0-12h0m0-21h0m0-42h0m0 84h0m0-34h0m0-19h0m0 21h0m0-52h0m0 71h0m1-60h0m0 9h0m0 14h0m0-23h0m0 63h0m0-44h0m0 21h0m0-4h0m0 27h0m0-5h0m1-47h0m0 0h0m1-18h0m0 78h0m0-84h0m0 70h0m0-70h0m0 40h0m0 9h0m0 5h0m0-22h0m0-21h0m0 61h0m0-38h0m0-30h0m1 45h0m0 7h0m0 14h0m0-69h0m0 84h0m0 2h0m0-36h0m0-51h0m0 83h0m0-36h0m0-52h0m0 38h0m0-34h0m0 24h0m1-30h0m0 35h0m0 2h0m0-13h0m0-3h0m0 69h0m0-22h0m1 2h0m0 8h0m0-17h0m0 4h0m0 28h0m0-53h0m0 46h0m0-64h0m0 42h0m0 27h0m0-80h0m0 4h0m0 5h0m0 22h0m0-9h0m0-24h0m0 10h0m0 72h0m0-90h0m0 8h0m1 20h0m0 55h0m0-40h0m0-35h0m0 30h0m0 13h0m0-31h0m0-19h0m0 50h0m0-45h0m0 43h0m0 4h0m1 31h0m0-53h0m0 30h0m0-42h0m1 39h0m0-47h0m0 8h0m0 59h0m0-53h0m0-9h0m0 77h0m0-53h0m0-5h0m0 48h0m0-15h0m0-44h0m0 30h0m1 5h0m0-40h0m0 52h0m0 12h0m0-47h0m0-1h0m0-16h0m0 28h0m0 31h0m0-20h0m0-54h0m0 1h0m0 84h0m0-15h0m0-66h0m0 47h0m0 6h0m0-8h0m0-53h0m0 78h0m0-10h0m0 24h0m1-48h0m0-37h0m0 31h0m0 27h0m0 7h0m0-64h0m0-6h0m0 65h0m0-33h0m0-29h0m0 80h0m1-35h0m0 2h0m0-50h0m0 91h0m0-51h0m0-42h0m0 54h0m0 32h0m0-41h0m0 21h0m1 19h0m0-70h0m0 45h0m0-6h0m0 24h0m0-30h0m0 25h0m0-41h0m0 11h0m0-23h0m0 23h0m0 47h0m0-60h0m1 11h0m0 35h0m0-15h0m0 31h0m0-85h0m0 50h0m0-18h0m0-27h0m0 30h0m0-1h0m0-35h0m0 78h0m1-25h0m0-54h0m0 57h0m0-62h0m0 81h0m0-22h0m0-38h0m0 5h0m0-22h0m0 74h0m0-42h0m0 26h0m0-24h0m1 12h0m0-29h0m0 13h0m0 22h0m0-22h0m0 52h0m0-49h0m0 22h0m1-19h0m0-2h0m0-40h0m0 8h0m0 18h0m0 5h0m0 14h0m0 21h0m0-56h0m0 84h0m0-71h0m1-2h0m0-8h0m0 28h0m0 53h0m0-4h0m0-25h0m0 8h0m1-37h0m0-27h0m0 54h0m0-15h0m0-47h0m0 76h0m0-32h0m1 32h0m0-57h0m0 19h0m0-19h0m0 23h0m0 45h0m0-75h0m1-13h0m0 72h0m0-39h0m0 5h0m0-35h0m1 24h0m0 10h0m0 27h0m0-41h0m0 19h0m0 43h0m0-73h0m0 34h0m0 32h0m0-19h0m0-25h0m0-23h0m0-3h0m0 56h0m1-51h0m0 55h0m0-59h0m0 17h0m0 63h0m0-64h0m0 45h0m0-37h0m0 29h0m0-15h0m1-19h0m0 42h0m0-62h0m0 1h0m0-6h0m0 35h0m0 19h0m0-8h0m0-36h0m0 37h0m0-18h0m0 24h0m0-18h0m0 11h0m0 40h0m0-63h0m1-6h0m0-17h0m0 11h0m0 55h0m0 26h0m0-93h0m0 91h0m0-77h0m0 58h0m0 21h0m0-22h0m0-33h0m0-33h0m1 4h0m0 46h0m0 19h0m0-66h0m0 23h0m0 16h0m0 16h0m0-2h0m0-55h0m0 33h0m0 2h0m0-7h0m0-24h0m0 50h0m1-28h0m0-26h0m0 80h0m0-66h0m0 11h0m0 18h0m0-48h0m0 84h0m0-79h0m0 44h0m1-15h0m0-27h0m0 67h0m0-3h0m0-37h0m0-30h0m0-2h0m1 28h0m0 43h0m0-23h0m0 20h0m0 21h0m0-92h0m0 24h0m0 8h0m1-26h0m0 10h0m0 38h0m0-7h0m0-21h0m0-27h0m0 93h0m0-82h0m0 25h0m0 18h0m0-16h0m0-4h0m0 24h0m0-13h0m1-44h0m0 35h0m0-11h0m0-4h0m0 64h0m0-79h0m0 84h0m0-66h0m0 35h0m1-15h0m0-42h0m0 82h0m0-39h0m0 48h0m0-88h0m0 61h0m0-24h0m0 23h0m0-65h0m0 27h0m0-18h0m1 11h0m0-4h0m0 75h0m0-53h0m0-3h0m0 4h0m0 25h0m0-21h0m0 1h0m0 33h0m1-10h0m0-20h0m0-17h0m0 50h0m0-39h0m1 34h0m0-43h0m0 0h0m0-27h0m0 82h0m0-9h0m0-28h0m0-3h0m0-11h0m0-18h0m0-9h0m0 28h0m0-21h0m0-11h0m1 70h0m0-63h0m0 45h0m0-17h0m0-16h0m0 37h0m0-7h0m0 3h0m0 37h0m0-86h0m1 42h0m0 17h0m0-60h0m0 59h0m0 11h0m0-45h0m0 43h0m1-66h0m0 30h0m0-14h0m0-11h0m0-9h0m0 49h0m0-12h0m0-10h0m0 38h0m0-15h0m1 0h0m0-30h0m0 40h0m0-8h0m0-7h0m1-39h0m0 4h0m0 32h0m0-7h0m0 48h0m0-52h0m0 46h0m0-14h0m0-35h0m0-11h0m0-16h0m1 77h0m0-20h0m0-39h0m0-7h0m0-18h0m0 22h0m0 14h0m0-18h0m0 55h0m0-44h0m0 3h0m0 13h0m0-16h0m1 3h0m0 23h0m0-18h0m0 8h0m0-27h0m0-5h0m0 32h0m0 40h0m1-5h0m0-59h0m0 7h0m0 0h0m0-22h0m0 5h0m0 9h0m0 51h0m0-13h0m0 26h0m0-74h0m0 50h0m0-42h0m0 53h0m1 24h0m0-56h0m0 48h0m0-20h0m0-48h0m0 46h0m1-45h0m0 0h0m0 14h0m0 27h0m0 20h0m0 13h0m0-74h0m0 4h0m0 56h0m0-5h0m0-69h0m0 77h0m0-79h0m0 77h0m1-60h0m0 65h0m0-78h0m0 21h0m0 47h0m0-24h0m0 26h0m0-29h0m1-48h0m0 27h0m0 40h0m0 14h0m0-79h0m0 19h0m0 66h0m0-11h0m0-63h0m0 44h0m0-26h0m0 0h0m1 9h0m0-25h0m0 12h0m0-2h0m0-5h0m0-2h0m0-16h0m0 74h0m0-67h0m0 59h0m1-8h0m0-60h0m0 70h0m0-18h0m0-43h0m1 11h0m0 20h0m0 23h0m0-55h0m0 56h0m0-27h0m0-19h0m1 58h0m0-64h0m0 70h0m0-25h0m0 35h0m0-46h0m0 7h0m0-11h0m0 25h0m0-50h0m0 3h0m0 15h0m0 17h0m1-45h0m0 76h0m0-11h0m0 22h0m0-17h0m0-40h0m0 51h0m1-80h0m0 56h0m0 13h0m0-26h0m0-40h0m0 8h0m0-13h0m0 54h0m0-56h0m0 15h0m0 35h0m0-26h0m0-6h0m1 54h0m0-35h0m0 6h0m0-1h0m0 38h0m0 2h0m0-28h0m0 0h0m1-9h0m0-26h0m0 17h0m0 14h0m0 2h0m0 24h0m1-12h0m0 13h0m0-56h0m0-14h0m0 73h0m0-23h0m0-35h0m0 41h0m1 20h0m0-53h0m0-21h0m0 44h0m0 31h0m0-2h0m0-40h0m0 17h0m0-16h0m1-31h0m0-4h0m0 74h0m0-28h0m0 14h0m0-38h0m0 3h0m1 33h0m0 12h0m0-46h0m0 11h0m0 7h0m0-25h0m0 31h0m0-14h0m0-15h0m1 37h0m0-52h0m0 16h0m0 36h0m0-15h0m0-1h0m0-30h0m0 44h0m0-35h0m0 0h0m1 53h0m0-17h0m0-47h0m0 73h0m0-70h0m0 57h0m1-9h0m0 1h0m0-59h0m0 2h0m0 62h0m0-61h0m0 1h0m0 22h0m1 16h0m0 2h0m0-2h0m0 14h0m0-45h0m0 54h0m0-40h0m1 21h0m0-5h0m0-24h0m0 18h0m1 25h0m0-1h0m0-10h0m0-21h0m0-16h0m0 61h0m0-16h0m0-19h0m0 19h0m1 12h0m0-5h0m0-57h0m0 43h0m0 27h0m0-10h0m0-17h0m1-21h0m0 31h0m0-6h0m0-35h0m0 62h0m0-76h0m0 58h0m1-41h0m0 40h0m0-30h0m0-14h0m0-7h0m0 57h0m1-15h0m0 21h0m0-53h0m0 43h0m1-2h0m0-25h0m0-34h0m1 23h0m0 24h0m0-16h0m0 10h0m0-14h0m0 45h0m0-42h0m0-28h0m1 51h0m0 12h0m0-52h0m0 11h0m0-12h0m1-8h0m0 49h0m0-32h0m0-22h0m0 39h0m0-8h0m0-23h0m0 62h0m0-38h0m1 24h0m1-16h0m1-13h0m1-17h0m0-5h0m0 37h0m0 25h0m0-6h0m0 1h0m0-8h0m0-5h0m1-24h0m0-17h0m0 61h0m0-58h0m0 59h0m0-32h0m0 28h0m0-16h0m0-30h0m0-9h0m0 23h0m1 8h0m0 9h0m0-13h0m0-11h0m0 43h0m0-20h0m1 6h0m0-15h0m0-25h0m0 53h0m0 8h0m1-64h0m0 57h0m0-17h0m1 5h0m0-2h0m0 11h0m0-21h0m0 30h0m1-11h0m0-25h0m0-9h0m0-22h0m0 42h0m1-6h0m0 20h0m0-55h0m0 31h0m0 34h0m0-9h0m1-31h0m0 31h0m0-49h0m1 47h0m0-28h0m0-5h0m0 0h0m1 38h0m0-28h0m0 38h0m0-29h0m0-41h0m0 16h0m1-4h0m0-5h0m0 47h0m0-44h0m0 14h0m0 43h0m0-63h0m1 2h0m0 6h0m0 38h0m1-18h0m0 24h0m1-16h0m0 25h0m1-26h0m0-16h0m0-21h0m0 30h0m0 6h0m0-23h0m1-9h0m0 43h0m0 18h0m0-33h0m0-26h0m0-2h0m0 62h0m1-6h0m0-2h0m0-22h0m0 3h0m0-7h0m1 29h0m0-20h0m0 23h0m0-34h0m0 13h0m1-3h0m0-28h0m0 47h0m0-43h0m0-17h0m1 8h0m0 51h0m0-1h0m1-49h0m0 46h0m0-28h0m1 27h0m0-52h0m0 30h0m1-5h0m0 4h0m0-23h0m0 11h0m1-2h0m0 5h0m0 22h0m0-16h0m0 10h0m0-14h0m0-19h0m0 17h0m0 39h0m0-16h0m0 16h0m1-15h0m0 3h0m0-13h0m0-18h0m1-16h0m0 10h0m0 28h0m0 29h0m1-17h0m0-3h0m0-24h0m1 7h0m0 34h0m1-61h0m0 34h0m0-30h0m0 12h0m0 17h0m0-27h0m1 54h0m0-11h0m0-2h0m0-10h0m1 5h0m0-13h0m0 14h0m0-1h0m0-13h0m1 11h0m0 20h0m1-26h0m0-17h0m1 5h0m1 19h0m1-21h0m0-17h0m1 43h0m0-7h0m0-21h0m0-13h0m0 31h0m1-5h0m0 3h0m0 24h0m0-36h0m0 26h0m1-30h0m0 9h0m0-9h0m0 34h0m0-35h0m0 24h0m1-10h0m0 31h0m0-50h0m1 3h0m0 46h0m0-12h0m0-18h0m1-7h0m0 27h0m0-17h0m1-6h0m1 10h0m0-1h0m0-16h0m1 31h0m0-30h0m1 13h0m1 2h0m0-19h0m0 34h0m0-40h0m1 37h0m0-36h0m0-2h0m1 34h0m0-13h0m0-11h0m1-2h0m0-7h0m1 36h0m0 10h0m0-24h0m1 22h0m1-25h0m0 28h0m1-54h0m0 25h0m1-21h0m0 29h0m0-21h0m1 32h0m1-11h0m0-14h0m0-15h0m0-1h0m1 20h0m0-4h0m0-8h0m1 44h0m0-11h0m0-9h0m0 2h0m0 15h0m1-49h0m0 42h0m1-11h0m0-17h0m0-16h0m0-1h0m1 24h0m0-6h0m0-12h0m0 15h0m1 33h0m1 4h0m0-14h0m0-10h0m0 1h0m1-24h0m0 26h0m0-9h0m1 19h0m0-44h0m1 26h0m0 21h0m0-19h0m0-11h0m0 4h0m1 20h0m1-8h0m1-26h0m0 19h0m0-23h0m1 20h0m0 28h0m1-25h0m0 26h0m0-52h0m1 48h0m0-30h0m2 15h0m0 7h0m0-39h0m0 53h0m0-47h0m0 11h0m1-16h0m0 21h0m0 11h0m0 13h0m1-48h0m1 23h0m0 10h0m1-19h0m0-16h0m0 42h0m1 8h0m1 6h0m0-12h0m0-18h0m1-20h0m0 38h0m0 2h0m1-10h0m0 5h0m0 0h0m1-37h0m0 6h0m1 14h0m0 10h0m0-29h0m1 46h0m1-47h0m0 55h0m0-6h0m1-9h0m0-38h0m0 18h0m0 11h0m1-34h0m0 33h0m1-9h0m0 0h0m0 17h0m1-20h0m0-14h0m0 43h0m0-1h0m1-6h0m0-25h0m0 32h0m1-42h0m0 15h0m1 5h0m0-8h0m1 15h0m0-16h0m1 31h0m1-17h0m0 22h0m0-33h0m1 6h0m1-13h0m0 22h0m1-35h0m0 55h0m1-49h0m0 11h0m0-5h0m1 1h0m1-10h0m2 8h0m1 7h0m0 32h0m1-49h0m0 3h0m0 10h0m1 31h0m0-38h0m0 46h0m1 2h0m1-33h0m0 25h0m0-4h0m0-42h0m0 49h0m0-51h0m1 5h0m0 51h0m0-41h0m0 39h0m0-25h0m0-11h0m1-12h0m0 30h0m1-18h0m4-18h0m0 3h0m1 46h0m0 6h0m1-16h0m1 6h0m0 1h0m1-10h0m0-21h0m0 29h0m0-15h0m1 17h0m1-34h0m0 40h0m2 0h0m0-46h0m0 45h0m1-46h0m1 10h0m0 21h0m2-22h0m0 38h0m0-29h0m0 24h0m0 3h0m1-39h0m1 8h0m0 10h0m1 26h0m1-46h0m0-7h0m0 16h0m0-13h0m1-4h0m0-3h0m1 15h0m1 10h0m1 6h0m1-2h0m1-16h0m0 19h0m0-16h0m2 27h0m0-35h0m1 12h0m0-18h0m1 1h0m0 24h0m2 1h0m0-1h0m0-3h0m0-13h0m1 11h0m1-25h0m1 44h0m1-4h0m0-27h0m0 21h0m1-11h0m0 29h0m1 0h0m2-28h0m0 1h0m1-10h0m0-13h0m0 12h0m1-5h0m3 7h0m0 19h0m0-10h0m2-3h0m0 12h0m2 2h0m1-12h0m0 20h0m1-1h0m0-13h0m0 7h0m0-25h0m2 39h0m0-52h0m2 27h0m1-14h0m0 44h0m2-16h0m0-17h0m4-19h0m0 51h0m1-14h0m2 1h0m0-10h0m1 0h0m1-22h0m1 7h0m0-2h0m2 24h0m0-7h0m1 6h0m0 7h0m0-17h0m1 13h0m0-19h0m1 29h0m0-34h0m2-5h0m1 7h0m1-6h0m2 39h0m0-36h0m1 32h0m1-31h0m0-9h0m1 14h0m0 10h0m1 18h0m1 3h0m1-30h0m0-13h0m1 39h0m3-2h0m0-37h0m0 2h0m0-1h0m0 9h0m3-6h0m2-8h0m1 19h0m5 17h0m2 0h0m3-24h0m0 18h0m3-13h0m2-8h0m1 22h0m2-35h0m0 58h0m0-37h0m2 9h0m3-6h0m0-22h0m1 24h0m2 24h0m0-60h0m2 36h0m3-2h0m1 23h0m0 9h0m1-59h0m0 47h0m3-28h0m0-13h0m2 23h0m0-16h0m3-4h0m0 20h0m1 26h0m5-25h0m0-38h0m3 14h0m4 42h0m0-29h0m1 22h0m8-3h0m4-35h0m1 54h0m2-15h0m0-37h0m1-6h0m0-2h0m0 49h0m3-15h0m0-41h0m3 37h0m1-16h0m5 18h0m3-18h0m1 41h0m1-52h0m3-10h0m2 60h0m4-53h0m2 45h0m0-35h0m2-2h0m2 37h0m1 9h0m6-28h0m0-30h0m1-2h0m5 43h0m0-49h0m3 38h0m2 27h0m1-44h0m0 11h0m0-34h0m3 5h0m3 8h0m9-3h0m1 29h0m0-40h0m1 9h0m2 34h0m1-24h0m12 42h0m2-13h0m3 0h0m0-17h0m5-23h0m4 17h0m9-23h0m7 26h0m8 24h0m3-40h0m4 3h0m9 34h0m1-34h0m1 19h0m8-29h0m0 52h0m2-61h0m9 11h0m1 42h0m0-8h0m4 37h0m5-48h0m0 36h0m5-73h0m6 33h0m9 14h0m3-38h0m1 4h0m30 7h0m2-12h0m16 61h0m3-64h0m5 10h0m0 5h0m9-22h0m23 25h0m10-14h0m432 36h0m144 24h0m-532 60h0m-147-23h0m-83 16h0m-24-24h0m-5 42h0m-1-29h0m-9-11h0m-6 22h0m-16-33h0m-2 12h0m-5-4h0m-12 31h0m-4 2h0m0-16h0m-3 15h0m-11-23h0m-1 5h0m-5-17h0m0 34h0m-5-32h0m-2 33h0m-1 15h0m-15-19h0m-6 31h0m-9-26h0m0-22h0m-2 22h0m-2-16h0m-7 70h0m-1-68h0m-2 32h0m-1-59h0m-1 30h0m-1 40h0m0-53h0m0 4h0m-2-9h0m-1 25h0m0-9h0m-1-23h0m-1 54h0m0-5h0m-5-54h0m-2 23h0m-1-22h0m-3 28h0m-2 30h0m0-38h0m-1 27h0m-1 43h0m0-77h0m-1 38h0m-1-49h0m-1 18h0m-2 28h0m0-48h0m0 11h0m-1 15h0m-1 4h0m-3 9h0m-3-12h0m-1 51h0m-3-65h0m-1 2h0m0 22h0m-2 20h0m0-33h0m-2-4h0m-3-18h0m-1 91h0m-2-56h0m-2-37h0m0 58h0m-1-58h0m-2 65h0m-1-58h0m0 62h0m0-12h0m-2 9h0m0-55h0m0 71h0m-4-42h0m0-38h0m-1 40h0m-1 26h0m0-21h0m-3-18h0m-6 29h0m0 3h0m-1-2h0m0-44h0m0-12h0m-3 69h0m0-46h0m0 59h0m0 5h0m0-43h0m-1-23h0m-1 33h0m0 15h0m0-30h0m-1 10h0m0-40h0m-1 42h0m-1 23h0m0-57h0m0 53h0m-1-48h0m0-5h0m-1 59h0m-1-2h0m0-45h0m0 17h0m-3-30h0m0-17h0m0 48h0m0 30h0m0-63h0m-2 73h0m-1-54h0m-2-26h0m-3 27h0m0 42h0m0-6h0m0-47h0m-1-1h0m0 50h0m-1 3h0m-1-54h0m0-3h0m0 12h0m-1-5h0m0-9h0m-1 48h0m-1-2h0m0 1h0m0-23h0m-1 9h0m0-30h0m0 37h0m0-46h0m0 22h0m0 9h0m-1-10h0m0 1h0m-1-19h0m0-16h0m0 90h0m-1-41h0m-1 29h0m0-34h0m-1-29h0m-1-13h0m0 73h0m0-39h0m-1 18h0m0 28h0m-1-79h0m0 48h0m0-18h0m-1-17h0m0 62h0m0-14h0m-1-44h0m0 15h0m0 38h0m0-3h0m-1-55h0m0-1h0m0 67h0m-1-81h0m0 9h0m-2 2h0m0 13h0m-1 9h0m0-25h0m-1 85h0m0-36h0m-1 35h0m0-13h0m0-22h0m0-14h0m0 13h0m0-26h0m-1 10h0m0 21h0m-1-58h0m0 3h0m0-7h0m0 45h0m0-37h0m0 35h0m-1 34h0m0-59h0m0 32h0m-1-40h0m-1 30h0m-2 44h0m-2-74h0m0 79h0m-1-4h0m0-40h0m0-11h0m-1 48h0m0-53h0m0 12h0m0-6h0m-1-30h0m0 69h0m0-31h0m-2 3h0m0 15h0m-1 32h0m-1-75h0m0 73h0m0-61h0m0 59h0m0-2h0m-1-60h0m0 0h0m0-12h0m0-9h0m0 47h0m-1-31h0m-1 11h0m0 4h0m0 51h0m0-68h0m0 39h0m-1-56h0m0 28h0m0 52h0m-1-81h0m0 78h0m0-27h0m0-38h0m0-2h0m0 82h0m-1-55h0m0-12h0m-1-20h0m0 19h0m0-5h0m0 17h0m0 54h0m-1-42h0m0 31h0m0-69h0m-1 53h0m-1-46h0m-1-7h0m0 27h0m0 35h0m0-53h0m-2-4h0m0 26h0m0 39h0m0-65h0m0 12h0m-1-24h0m0 70h0m0 0h0m0-64h0m-1 34h0m0-42h0m0 20h0m-1-6h0m0 50h0m0-28h0m0-10h0m0 14h0m-1-15h0m0-20h0m-1 64h0m0-13h0m0-10h0m0-23h0m-1 5h0m-1 1h0m0-26h0m0 14h0m-1 21h0m0-9h0m0 57h0m-1-67h0m0-12h0m0 27h0m0 11h0m0-8h0m0-2h0m-2 13h0m0-52h0m-1 4h0m-1 68h0m0-69h0m-1 19h0m-1 32h0m0-34h0m0 60h0m-1-17h0m0-32h0m0 38h0m-1-26h0m0 20h0m-1 17h0m0-80h0m0 11h0m0 54h0m-1-16h0m0-38h0m0 61h0m0-33h0m0 17h0m0-43h0m0 81h0m-2-44h0m0 30h0m0 3h0m-1-67h0m0 5h0m0-2h0m0 51h0m0-60h0m-1-9h0m0 1h0m0 13h0m0 11h0m0 26h0m-1 25h0m0-50h0m-1 3h0m0-12h0m-1 12h0m0-30h0m0 25h0m0 12h0m0 14h0m0-44h0m0 27h0m-1 52h0m0-15h0m0-34h0m-1 48h0m0-80h0m-1-1h0m0 18h0m0 54h0m0-5h0m0-68h0m-1-2h0m0 71h0m0-37h0m0 13h0m0-14h0m0 30h0m-1-24h0m0 4h0m-1-29h0m0 2h0m0 49h0m0-57h0m-1 52h0m0-29h0m-1-16h0m0 29h0m0 14h0m0 24h0m0-50h0m-1-19h0m0-5h0m0 0h0m0 28h0m-1-21h0m0 78h0m0-43h0m-1 16h0m0-6h0m-1-51h0m0 18h0m0 1h0m-1 36h0m0-56h0m0 26h0m0-11h0m0 65h0m0-37h0m0 23h0m-1-17h0m0 30h0m0-17h0m0-40h0m0-21h0m-1-9h0m-1 29h0m0 23h0m0-50h0m-1 67h0m-1-70h0m0 41h0m0-40h0m-1 84h0m0-52h0m0 57h0m-1-66h0m0-11h0m-1 5h0m0-9h0m0 14h0m-1 25h0m0-38h0m0 51h0m-1 22h0m0-66h0m0 7h0m-1 62h0m0-75h0m0 36h0m0-33h0m0 61h0m0-36h0m-1-1h0m0 24h0m0-11h0m-1-42h0m-1 48h0m0 26h0m0-31h0m0-28h0m-1 28h0m-1-22h0m0-12h0m0 27h0m-1 21h0m0-43h0m0 2h0m-1-8h0m0 69h0m0-34h0m0-34h0m0 73h0m-1-43h0m0-37h0m0 18h0m0-20h0m0 26h0m-1 46h0m0-10h0m0-30h0m0 9h0m0-44h0m0 25h0m0-29h0m-1 7h0m0 39h0m0-19h0m0 13h0m0-22h0m0 70h0m0-84h0m0 25h0m-1 19h0m0-50h0m-1 81h0m0 5h0m0-83h0m0 20h0m-1 52h0m0-37h0m0 10h0m0-4h0m-1 15h0m0-48h0m0 45h0m0-28h0m0-14h0m-1-2h0m0 12h0m0-13h0m0-6h0m0 51h0m0-11h0m-1-13h0m0 0h0m0 59h0m0-56h0m-1 27h0m0 30h0m0-37h0m-1-17h0m0 12h0m0 9h0m0-44h0m0 39h0m0 34h0m0-66h0m0 4h0m0 23h0m-1 14h0m-1-63h0m0 38h0m-1-22h0m0 47h0m0-52h0m0-1h0m-1-9h0m0 4h0m0 3h0m0 43h0m0 8h0m0 25h0m0-12h0m0-48h0m-1-20h0m0 40h0m0-12h0m-1-12h0m0 47h0m0-61h0m0 62h0m-1-50h0m0 17h0m0 58h0m0-7h0m-1-12h0m0 12h0m0-59h0m0-24h0m0 24h0m0 35h0m0-8h0m0-26h0m-1-2h0m0-15h0m0 65h0m0-2h0m0-43h0m0 29h0m0 35h0m0-48h0m-1-36h0m0 8h0m0-6h0m0 35h0m0-21h0m0-17h0m0 14h0m0 47h0m-1-68h0m0 88h0m0-82h0m0 12h0m-1-4h0m0 22h0m0 30h0m0-56h0m0 64h0m0-47h0m0 42h0m0-64h0m-1 44h0m0-2h0m0-20h0m0 27h0m0-5h0m0-42h0m0 7h0m0 4h0m-1 45h0m0-2h0m0-63h0m-1 8h0m0 36h0m0-16h0m-1 44h0m0-41h0m0 20h0m0-40h0m0 6h0m0 76h0m0-28h0m0 19h0m0-27h0m0-22h0m-1 41h0m-1-64h0m0 56h0m0-64h0m0 4h0m0 57h0m0 1h0m0-33h0m0 41h0m-1-58h0m0 25h0m0-29h0m0-3h0m0 28h0m0 6h0m0 19h0m-1-46h0m0 40h0m0-5h0m0 15h0m0-46h0m0 27h0m-1 26h0m0-31h0m0 39h0m0-20h0m0-10h0m0-49h0m0 43h0m0-26h0m0 32h0m-1-12h0m0-35h0m0 22h0m0 38h0m0-16h0m0 13h0m0-46h0m-1 78h0m0-37h0m0-8h0m-1 43h0m0-33h0m0 7h0m0-49h0m0 0h0m0 1h0m0 44h0m0-17h0m-1 35h0m-1-40h0m0-15h0m0 56h0m-1-73h0m0-3h0m0 75h0m0-1h0m0-24h0m-1-22h0m0 7h0m0 13h0m0-18h0m0-12h0m-1 65h0m0 4h0m0-87h0m0 63h0m0-40h0m0-25h0m0 37h0m-1 52h0m0-84h0m0-2h0m-1 88h0m0-47h0m-1 34h0m0-78h0m0 37h0m0 26h0m0 21h0m-1-51h0m0 5h0m0-30h0m0 7h0m0-4h0m0 65h0m0 15h0m0 1h0m-1-81h0m0 65h0m0-66h0m0 26h0m0-14h0m0 1h0m0 51h0m0 8h0m0-7h0m0-6h0m-1-60h0m0 32h0m0 38h0m0 2h0m0-27h0m-1-12h0m0-18h0m0 41h0m0 8h0m0-23h0m0 10h0m0 5h0m-1-56h0m0-5h0m0 82h0m0-51h0m0-34h0m0 8h0m-1 77h0m0-25h0m-1-9h0m0-30h0m0 24h0m0 6h0m0 11h0m-1-1h0m0-35h0m0 9h0m0 54h0m-1-32h0m0-39h0m0 21h0m0-39h0m-1 8h0m0 21h0m0 6h0m0 44h0m0-11h0m0-6h0m-1-39h0m0 24h0m0-44h0m0 45h0m0-47h0m0 40h0m0-8h0m-1-31h0m0 79h0m0-81h0m0 17h0m0 70h0m-1-19h0m0-70h0m0 54h0m-1-53h0m0 18h0m0 47h0m0 3h0m0-15h0m0-12h0m-1 42h0m0-50h0m0 37h0m0-53h0m0 10h0m0 53h0m0-49h0m0 19h0m-1-40h0m0 24h0m0 36h0m0-46h0m0 41h0m0-64h0m0 37h0m-1 32h0m0 11h0m0-39h0m0 20h0m0-46h0m0 69h0m-1-68h0m0 55h0m0-6h0m0-68h0m0 16h0m0 10h0m0-16h0m-1 71h0m0-73h0m0 81h0m0-55h0m0-20h0m0 68h0m-1-36h0m0 29h0m0-57h0m0-12h0m0 62h0m0 16h0m-1-4h0m0-77h0m0 58h0m0 23h0m0 4h0m0-65h0m0 69h0m0-37h0m0-24h0m0 63h0m0-78h0m0-6h0m0 74h0m-1 4h0m0-53h0m0 15h0m0-51h0m0 11h0m0 14h0m0-13h0m-1 83h0m0-95h0m0 39h0m0 34h0m0 5h0m0-11h0m0-40h0m-1 3h0m0-5h0m0-3h0m0 1h0m0 48h0m0-50h0m0 15h0m0 24h0m-1-9h0m0-16h0m-1-24h0m0 23h0m0-15h0m0 46h0m0 25h0m0 3h0m0-75h0m0 68h0m0-72h0m0 43h0m0-36h0m0 46h0m-1-4h0m0 4h0m0-46h0m0 9h0m0-23h0m0 55h0m0 14h0m0-15h0m-1-34h0m0-15h0m0-11h0m0 10h0m0 27h0m0-2h0m0-7h0m0 45h0m0-20h0m-1-31h0m0 45h0m0-31h0m0-20h0m-1 41h0m0 22h0m0 6h0m0-42h0m0-22h0m0-17h0m0 87h0m0-39h0m0 11h0m0-23h0m-1-31h0m0 9h0m0-8h0m0 21h0m0-18h0m0-10h0m-1 60h0m0 1h0m0-12h0m0-52h0m0 73h0m0-57h0m0 20h0m0-31h0m0 10h0m-1-2h0m0 54h0m0-13h0m-1-33h0m0 12h0m0 26h0m0 21h0m0-75h0m-1 52h0m0 19h0m0-42h0m0 43h0m0-65h0m-1 74h0m0-63h0m0 57h0m0-43h0m0 32h0m0-23h0m0-3h0m0 50h0m0-31h0m-1-43h0m0-2h0m0 24h0m0 43h0m0-52h0m-1 35h0m0-2h0m-1-64h0m0 13h0m0 14h0m0 46h0m0-26h0m0 32h0m0-36h0m0 30h0m0-29h0m0-19h0m-1-10h0m0 46h0m0-42h0m0-10h0m0 52h0m0 28h0m0-37h0m0-34h0m-1 47h0m0-57h0m0 61h0m0-26h0m0 7h0m-1-7h0m0 13h0m0 18h0m0-65h0m0 15h0m0 11h0m0-25h0m0 9h0m0 66h0m0-34h0m-1-8h0m0-11h0m0 34h0m0-3h0m0-36h0m0 17h0m0-13h0m-1-1h0m0-16h0m0 63h0m0-78h0m-1 79h0m0-30h0m0-41h0m0 14h0m0 12h0m0 9h0m-1-30h0m0 62h0m0-34h0m0-26h0m0 39h0m0-12h0m0 49h0m0-84h0m0 24h0m-1 49h0m0 13h0m0-45h0m0-42h0m-1 73h0m0-27h0m0-26h0m0-11h0m0 56h0m0-9h0m0-9h0m0 18h0m0-29h0m-1 41h0m0-57h0m0 18h0m0-41h0m0 5h0m0 41h0m0 0h0m-1 19h0m0-46h0m0 53h0m0-28h0m0-44h0m0 68h0m0-33h0m0 3h0m0 14h0m-1 4h0m0-13h0m0-6h0m0 44h0m0-76h0m0 26h0m0-25h0m0 5h0m0 9h0m0-16h0m0 9h0m0 12h0m0 37h0m0-65h0m-1 23h0m0-13h0m0-10h0m0 7h0m0 23h0m0 7h0m0-30h0m0-8h0m0 59h0m-1-58h0m0 37h0m0-16h0m0 50h0m0 23h0m0-45h0m0 7h0m0-26h0m0-29h0m0 83h0m0-66h0m0 76h0m-1-48h0m0 20h0m0-40h0m0 64h0m0-45h0m0 21h0m0-7h0m-1-55h0m0 61h0m0 3h0m0-4h0m0-29h0m0-31h0m0 0h0m0 7h0m0 20h0m0 11h0m0 16h0m0-15h0m-1 18h0m-1-17h0m-2 9h0m-1 32h0m-2 0h0m0 0h0m-1-85h0m-3 72h0m5 56h0m4 15h0m0-44h0m0 84h0m1-54h0m1 46h0m0-69h0m0 56h0m0-46h0m1 58h0m0-14h0m0 0h0m1-33h0m0-14h0m0 10h0m1 54h0m0-66h0m0 8h0m0 17h0m0-22h0m0 39h0m0 27h0m1-68h0m0 41h0m0-8h0m0-21h0m0 47h0m1 8h0m0-65h0m1 40h0m0-40h0m1 6h0m0 41h0m1-4h0m0 26h0m0-61h0m0-21h0m0 10h0m1 53h0m1-47h0m0-4h0m0 41h0m1-12h0m0 28h0m0-9h0m1-23h0m0-33h0m1-9h0m0 47h0m0-43h0m1 49h0m0 36h0m0-76h0m1 79h0m0-35h0m0-26h0m0-29h0m1 10h0m0 49h0m1-48h0m0 16h0m0-25h0m1 20h0m0-12h0m0 9h0m1 48h0m0-60h0m0 18h0m0-7h0m0 25h0m1-30h0m0 57h0m0-64h0m0 12h0m0-10h0m0 39h0m0-6h0m1-17h0m0-21h0m0-3h0m1 7h0m1-10h0m0 22h0m0 35h0m0-15h0m0-36h0m1 80h0m0-70h0m0-1h0m0 26h0m0-19h0m0-19h0m0 32h0m1 54h0m0-23h0m0 12h0m0-65h0m0-9h0m1 30h0m1 23h0m0 4h0m0-37h0m0-19h0m1 16h0m0 9h0m0-23h0m1 4h0m0-7h0m0 24h0m0-11h0m0-14h0m0 11h0m0 49h0m0-27h0m0 5h0m2 29h0m0-9h0m1 12h0m0 16h0m0-58h0m0 35h0m0-34h0m1 2h0m0-32h0m0 82h0m0-24h0m0 14h0m1-24h0m0-33h0m0 19h0m0 39h0m0-54h0m1-1h0m0 9h0m1 7h0m1 31h0m0-2h0m0-38h0m1-12h0m0 71h0m1-50h0m0-33h0m0 23h0m1-18h0m1 30h0m1-23h0m1 18h0m0-31h0m1 33h0m0 7h0m0-4h0m1 12h0m0-25h0m1 64h0m0-31h0m0-9h0m0-28h0m1 9h0m0 59h0m1-3h0m1-47h0m0-12h0m0 56h0m1-13h0m1-26h0m0 42h0m0-69h0m1 40h0m0 20h0m0-37h0m1 27h0m0-67h0m0 23h0m1-20h0m0 79h0m0-40h0m0 39h0m0-74h0m1 25h0m0 26h0m1 15h0m1-36h0m1-6h0m0 7h0m2 19h0m0 30h0m1-43h0m0-13h0m0 3h0m1 2h0m1-17h0m0 36h0m1-19h0m0-8h0m1 10h0m0 8h0m1-24h0m0-22h0m1 11h0m1 17h0m0 48h0m2-40h0m0 43h0m0-48h0m0-25h0m1 36h0m3-38h0m0 77h0m1-55h0m0-18h0m2 30h0m0 8h0m0-45h0m0 18h0m2 29h0m1 18h0m0-57h0m1 78h0m0-77h0m0 81h0m1-85h0m0 79h0m0-34h0m1-40h0m0 50h0m1 21h0m1-66h0m1 68h0m0-26h0m2-52h0m0 42h0m1 36h0m1-11h0m0-38h0m1-33h0m0 57h0m0-27h0m0-30h0m1 6h0m0 3h0m0 3h0m0 20h0m1 35h0m1-67h0m0 4h0m0 5h0m1 84h0m1-38h0m1-19h0m2-21h0m1 21h0m1-36h0m1 2h0m0-1h0m1 12h0m0-9h0m1 66h0m0-72h0m1 9h0m0 8h0m0-1h0m0 24h0m0 25h0m1-29h0m0-16h0m2-6h0m1 72h0m1-57h0m0 42h0m1-3h0m0-29h0m1-14h0m1-12h0m0 70h0m0-61h0m0 60h0m1-72h0m0 85h0m0-95h0m2 1h0m1 21h0m1 34h0m1-34h0m1 55h0m0-17h0m2-59h0m1 17h0m0-18h0m1 53h0m0-25h0m0 58h0m2-74h0m1 32h0m0-10h0m1 45h0m1-70h0m1 29h0m0 49h0m3-40h0m1-30h0m2-8h0m0 35h0m0 9h0m0-45h0m0 60h0m0-33h0m0 40h0m1-29h0m1-19h0m1-18h0m0 72h0m0-21h0m2-44h0m1-12h0m0 28h0m1 30h0m2-42h0m0 29h0m2-39h0m0 21h0m1-24h0m0 61h0m0 7h0m1-58h0m0-6h0m2 41h0m0-45h0m1 22h0m1 7h0m1-9h0m1 62h0m0-74h0m1 22h0m0-26h0m0 9h0m1 52h0m3-21h0m1-47h0m0 41h0m3-14h0m1-21h0m0 69h0m1-17h0m3-38h0m1 41h0m0-27h0m0-38h0m1 66h0m0-32h0m5-18h0m2 3h0m1-16h0m2 32h0m2-29h0m0 41h0m1-9h0m3 54h0m0-32h0m1-15h0m0-43h0m2 29h0m1 0h0m0-5h0m1 58h0m1-7h0m9 5h0m4-77h0m8 77h0m2 3h0m3-31h0m1 15h0m5-24h0m2-15h0m1 22h0m0-48h0m2 73h0m4-13h0m8-50h0m3 0h0m4-9h0m2 10h0m1-7h0m1 2h0m8 5h0m1 66h0m2-62h0m19 4h0m4 0h0m4 42h0m1 10h0m8-66h0m21 58h0m5-38h0m6-9h0m6-14h0m35 5h0m406 65h0m156 0h0m40-60h0m-784 92h0m-3 23h0m-2 29h0m-16-52h0m-2 31h0m-3 25h0m-3-19h0m0-38h0m-6 13h0m-3 7h0m-8-25h0m-3 33h0m0-33h0m-3 1h0m-2-3h0m-5 15h0m-2 57h0m-2-8h0m-1-35h0m-2-13h0m-6 12h0m-1-26h0m-3 0h0m-1-6h0m-2 59h0m0-46h0m-4-8h0m-3 65h0m-7-62h0m-1 12h0m-1 25h0m-3-10h0m-7 17h0m0 22h0m-6-71h0m0 37h0m-2-32h0m0-8h0m-1 33h0m-3 49h0m-1-53h0m-4-27h0m-1 45h0m-1 8h0m-2-40h0m-2 42h0m-2-22h0m-1 23h0m0 20h0m-4-4h0m-1-52h0m-1-14h0m-1 6h0m-2 46h0m0-59h0m0 3h0m0 22h0m0 26h0m-1-19h0m-1 14h0m-3 39h0m-3-38h0m-1-28h0m-1 21h0m0-41h0m0 13h0m-2 65h0m-2-73h0m-1 78h0m0-46h0m-2-34h0m0 66h0m-3 14h0m-5-23h0m0-30h0m0 37h0m-4-37h0m-4-14h0m-1 27h0m0 38h0m-2-48h0m-1-12h0m-1 38h0m-2-9h0m0 10h0m-1-24h0m0 29h0m-1 26h0m0-73h0m-2 41h0m0-2h0m-1-45h0m0 63h0m-1-35h0m-1-19h0m0 74h0m-1-72h0m0-8h0m0 22h0m0-13h0m0 26h0m-1 15h0m0-59h0m0 75h0m-1-43h0m0 14h0m0-51h0m-1 39h0m-1-18h0m0 63h0m-1-30h0m-1 4h0m0 2h0m0 27h0m-1-71h0m-2 46h0m-1-58h0m-3-3h0m-1 68h0m4 113h0m2-54h0m2-16h0m0 28h0m0-10h0m2 37h0m1-6h0m0-32h0m1 53h0m0-26h0m0 33h0m1-75h0m12 15h0m44-34h0m10 76h0m5-61h0m11-8h0m67 62h0m-80 87h0m-51-53h0m-8 21h0m-6 18h0m-2-16h0m-1-2h0m-2 46h0m0-30h0m-1 26h0m-1-53h0m0-3h0m-1-3h0m0-3h0m-1 10h0m-1 44h0m-3 11h0m0-32h0m0-19h0m0 52h0m0-67h0m-1 65h0m0-30h0m-2-20h0m-1 29h0m-4 23h0m2 112h0m3-37h0m4-49h0m2 61h0m3-23h0m3-31h0m121 81h0m128-32h0m-204 104h0" stroke="#9467bd" stroke-width="19" stroke-linecap="round" fill="none"/>
<path d="M4520 5165h0m-23 12h0m-211 87h0m77-46h0m21 4h0m49-22h0m23 19h0m0-29h0m8-2h0m17 49h0m24 27h0m10-53h0m3 27h0m56 22h0m55-24h0m120-48h0m21 72h0m29 19h0m15-87h0m-12 146h0m-9-37h0m-66 27h0m-57 35h0m-46 0h0m-8-63h0m-110 75h0m-38-26h0m-23-34h0m-6 33h0m-3-17h0m-23-24h0m-2 24h0m-1-19h0m-4-23h0m0 14h0m-25-15h0m-1 27h0m-18 7h0m-5 12h0m-8 30h0m-27 7h0m-10-79h0m-19 23h0m-18-15h0m-13-19h0m-1 45h0m-25 31h0m-14-51h0m63 160h0m14-3h0m75-45h0m51-24h0m149-16h0m-27 130h0m-36-23h0m-43 35h0m-41-1h0m-84 22h0m-39-46h0m-100 63h0m40 25h0m69-4h0m109-1h0" stroke="#9467bd" stroke-width="19" stroke-linecap="round" fill="none"/>
<path d="M4652 4857h14l-7 12zm172-6h14l-7 12zm271 13h14l-7 12zm155 10h14l-7 12zm120 42h14l-7 12zm-57 14h14l-7 12zm-95-24h14l-7 12zm-14 49h14l-7 12zm-11 20h14l-7 12zm-4-45h14l-7 12zm-5-29h14l-7 12zm-35 58h14l-7 12zm-23-38h14l-7 12zm-9 34h14l-7 12zm-29-25h14l-7 12zm-23 44h14l-7 12zm-10-12h14l-7 12zm-12-36h14l-7 12zm-47 34h14l-7 12zm-21-5h14l-7 12zm-29 0h14l-7 12zm0 25h14l-7 12zm-19-12h14l-7 12zm-13 8h14l-7 12zm-22-18h14l-7 12zm-2 18h14l-7 12zm-98-7h14l-7 12zm-75-14h14l-7 12zm-4 20h14l-7 12zm-120 46h14l-7 12zm34 14h14l-7 12zm31 28h14l-7 12zm53-28h14l-7 12zm19 5h14l-7 12zm25 17h14l-7 12zm0-28h14l-7 12zm1-4h14l-7 12zm22 22h14l-7 12zm16 34h14l-7 12zm3-21h14l-7 12zm16-2h14l-7 12zm31-42h14l-7 12zm8 40h14l-7 12zm44-65h14l-7 12zm31 26h14l-7 12zm13-28h14l-7 12zm8 93h14l-7 12zm1-47h14l-7 12zm31-21h14l-7 12zm20 22h14l-7 12zm21-11h14l-7 12zm9-12h14l-7 12zm35-26h14l-7 12zm-246 125h14l-7 12zm-257 3h14l-7 12zm-23 125h14l-7 12zm6 26h14l-7 12zm-76 61h14l-7 12zm-59 78h14l-7 12zm227 123h14l-7 12z" fill="#d62728" stroke="#d62728" stroke-width="9.6" stroke-linejoin="round"/>
</g>
</g>
<g id="legend"><rect x="47.3" y="4.6" width="290.0" height="289.8" rx="3.5" fill="#fff" fill-opacity="0.8" stroke="#ccc" stroke-opacity="0.8" stroke-width="2.6"/>
<text transform="translate(108.6 27.6) scale(1 1.050)" font-size="19.2" class="lg">G(N,p) model</text>
<path d="M52.3 20.6H95.6" stroke="#000" stroke-width="5.6"/>
<text transform="translate(108.6 56.1) scale(1 1.050)" font-size="19.2" class="lg">Enron</text>
<circle cx="73.8" cy="50.3" r="5.7" fill="#1f77b4"/>
<text transform="translate(108.6 84.6) scale(1 1.050)" font-size="19.2" class="lg">NDC-classes</text>
<path d="M82.2 70.6v16.4l-16.4-8.2z" fill="#17becf" stroke="#17becf" stroke-width="2.6" stroke-linejoin="round"/>
<text transform="translate(108.6 113.1) scale(1 1.050)" font-size="19.2" class="lg">NDC-substances</text>
<path d="M82.2 99.1v16.4l-16.4-8.2z" fill="#17becf" stroke="#17becf" stroke-width="2.6" stroke-linejoin="round"/>
<text transform="translate(108.6 141.6) scale(1 1.050)" font-size="19.2" class="lg">contact-primary-school</text>
<polygon points="73.8,127.5 75.7,133.4 82.0,133.4 76.9,137.1 78.9,143.1 73.8,139.4 68.7,143.1 70.7,137.1 65.6,133.4 71.9,133.4" fill="#2ca02c" stroke="#2ca02c" stroke-width="2.4" stroke-linejoin="round"/>
<text transform="translate(108.6 170.1) scale(1 1.050)" font-size="19.2" class="lg">contact-high-school</text>
<polygon points="73.8,156.0 75.7,161.9 82.0,161.9 76.9,165.6 78.9,171.6 73.8,167.9 68.7,171.6 70.7,165.6 65.6,161.9 71.9,161.9" fill="#2ca02c" stroke="#2ca02c" stroke-width="2.4" stroke-linejoin="round"/>
<text transform="translate(108.6 198.6) scale(1 1.050)" font-size="19.2" class="lg">tags-math-sx</text>
<path d="M65.6 184.4h16.4l-8.2 16.4z" fill="#d62728" stroke="#d62728" stroke-width="2.6" stroke-linejoin="round"/>
<text transform="translate(108.6 227.1) scale(1 1.050)" font-size="19.2" class="lg">tags-ask-ubuntu</text>
<path d="M65.6 212.9h16.4l-8.2 16.4z" fill="#d62728" stroke="#d62728" stroke-width="2.6" stroke-linejoin="round"/>
<text transform="translate(108.6 255.6) scale(1 1.050)" font-size="19.2" class="lg">coauth-MAG-Geology</text>
<path d="M71.8 243.4h4.0v4.4h4.4v4.0h-4.4v4.4h-4.0v-4.4h-4.4v-4.0h4.4z" fill="#9467bd" stroke="#9467bd" stroke-width="2.4" stroke-linejoin="round"/>
<text transform="translate(108.6 284.1) scale(1 1.050)" font-size="19.2" class="lg">coauth-MAG-History</text>
<path d="M71.8 271.9h4.0v4.4h4.4v4.0h-4.4v4.4h-4.0v-4.4h-4.4v-4.0h4.4z" fill="#9467bd" stroke="#9467bd" stroke-width="2.4" stroke-linejoin="round"/></g>
<g id="letters"><text x="7.0" y="33.0" class="pl">A</text>
<text x="959.2" y="41.2" class="pl">B</text>
<text x="12.0" y="935.3" class="pl">C</text>
<text x="969.2" y="906.3" class="pl">D</text></g>
</svg>
</body></html>
